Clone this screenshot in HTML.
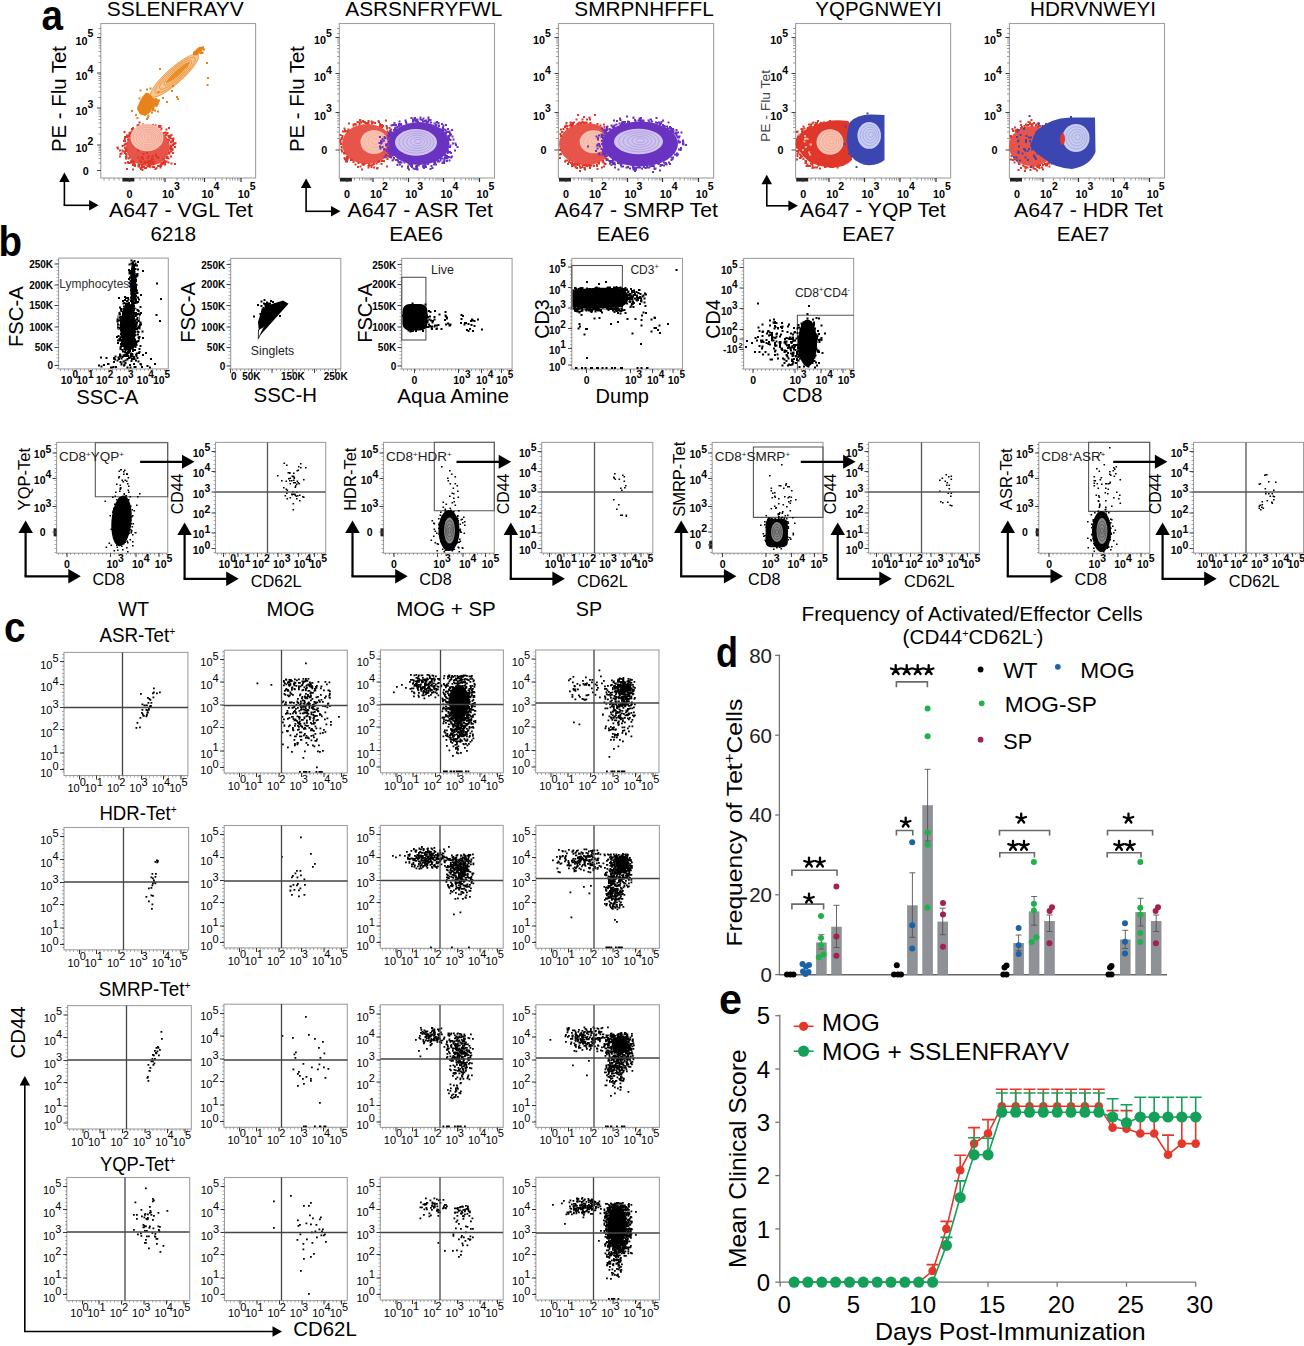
<!DOCTYPE html>
<html><head><meta charset="utf-8"><style>
html,body{margin:0;padding:0;background:#fff;}
svg{display:block;font-family:"Liberation Sans", sans-serif;}
</style></head><body>
<svg width="1304" height="1346" viewBox="0 0 1304 1346">
<rect width="1304" height="1346" fill="#fff"/>
<text x="41.5" y="30.4" font-size="42" font-weight="bold" textLength="21.5" lengthAdjust="spacingAndGlyphs">a</text>
<text x="175.3" y="16" font-size="21" text-anchor="middle" textLength="137" lengthAdjust="spacingAndGlyphs">SSLENFRAYV</text>
<text x="181" y="216.5" font-size="21" text-anchor="middle" textLength="144" lengthAdjust="spacingAndGlyphs">A647 - VGL Tet</text>
<text x="173.3" y="241" font-size="21" text-anchor="middle" textLength="45.5" lengthAdjust="spacingAndGlyphs">6218</text>
<rect x="100.8" y="23.5" width="154.8" height="154.5" fill="none" stroke="#a0a0a0" stroke-width="1.1"/>
<text x="93.3" y="44.6" font-size="10.8" text-anchor="end" font-weight="bold">10<tspan dy="-7.2" font-size="10.5">5</tspan></text>
<text x="93.3" y="79.9" font-size="10.8" text-anchor="end" font-weight="bold">10<tspan dy="-7.2" font-size="10.5">4</tspan></text>
<text x="93.3" y="115.2" font-size="10.8" text-anchor="end" font-weight="bold">10<tspan dy="-7.2" font-size="10.5">3</tspan></text>
<text x="93.3" y="152" font-size="10.8" text-anchor="end" font-weight="bold">10<tspan dy="-7.2" font-size="10.5">2</tspan></text>
<text x="88.8" y="174.5" font-size="10.8" text-anchor="end" font-weight="bold">0</text>
<text x="129.4" y="197.6" font-size="10.8" text-anchor="middle" font-weight="bold">0</text>
<text x="161.9" y="197.6" font-size="10.8" font-weight="bold">10<tspan dy="-7.2" font-size="10.5">3</tspan></text>
<text x="201.5" y="197.6" font-size="10.8" font-weight="bold">10<tspan dy="-7.2" font-size="10.5">4</tspan></text>
<text x="237.8" y="197.6" font-size="10.8" font-weight="bold">10<tspan dy="-7.2" font-size="10.5">5</tspan></text>
<rect x="122.4" y="178" width="12" height="3.5" fill="#222"/>
<text x="423.8" y="16" font-size="21" text-anchor="middle" textLength="157" lengthAdjust="spacingAndGlyphs">ASRSNFRYFWL</text>
<text x="420.2" y="216.5" font-size="21" text-anchor="middle" textLength="145.6" lengthAdjust="spacingAndGlyphs">A647 - ASR Tet</text>
<text x="416.2" y="241" font-size="21" text-anchor="middle" textLength="53.7" lengthAdjust="spacingAndGlyphs">EAE6</text>
<rect x="339.3" y="23.5" width="155.2" height="154.5" fill="none" stroke="#a0a0a0" stroke-width="1.1"/>
<text x="331.8" y="44.4" font-size="10.8" text-anchor="end" font-weight="bold">10<tspan dy="-7.2" font-size="10.5">5</tspan></text>
<text x="331.8" y="80.7" font-size="10.8" text-anchor="end" font-weight="bold">10<tspan dy="-7.2" font-size="10.5">4</tspan></text>
<text x="331.8" y="119.5" font-size="10.8" text-anchor="end" font-weight="bold">10<tspan dy="-7.2" font-size="10.5">3</tspan></text>
<text x="327.3" y="154" font-size="10.8" text-anchor="end" font-weight="bold">0</text>
<text x="346.9" y="197.6" font-size="10.8" text-anchor="middle" font-weight="bold">0</text>
<text x="369.9" y="197.6" font-size="10.8" font-weight="bold">10<tspan dy="-7.2" font-size="10.5">2</tspan></text>
<text x="405.3" y="197.6" font-size="10.8" font-weight="bold">10<tspan dy="-7.2" font-size="10.5">3</tspan></text>
<text x="440.6" y="197.6" font-size="10.8" font-weight="bold">10<tspan dy="-7.2" font-size="10.5">4</tspan></text>
<text x="476.6" y="197.6" font-size="10.8" font-weight="bold">10<tspan dy="-7.2" font-size="10.5">5</tspan></text>
<rect x="339.9" y="178" width="12" height="3.5" fill="#222"/>
<text x="644" y="16" font-size="21" text-anchor="middle" textLength="139.4" lengthAdjust="spacingAndGlyphs">SMRPNHFFFL</text>
<text x="636.2" y="216.5" font-size="21" text-anchor="middle" textLength="163.5" lengthAdjust="spacingAndGlyphs">A647 - SMRP Tet</text>
<text x="623.2" y="241" font-size="21" text-anchor="middle" textLength="52.8" lengthAdjust="spacingAndGlyphs">EAE6</text>
<rect x="558.4" y="23.5" width="155.2" height="154.5" fill="none" stroke="#a0a0a0" stroke-width="1.1"/>
<text x="550.9" y="44.4" font-size="10.8" text-anchor="end" font-weight="bold">10<tspan dy="-7.2" font-size="10.5">5</tspan></text>
<text x="550.9" y="80.7" font-size="10.8" text-anchor="end" font-weight="bold">10<tspan dy="-7.2" font-size="10.5">4</tspan></text>
<text x="550.9" y="119.5" font-size="10.8" text-anchor="end" font-weight="bold">10<tspan dy="-7.2" font-size="10.5">3</tspan></text>
<text x="546.4" y="154" font-size="10.8" text-anchor="end" font-weight="bold">0</text>
<text x="566" y="197.6" font-size="10.8" text-anchor="middle" font-weight="bold">0</text>
<text x="589" y="197.6" font-size="10.8" font-weight="bold">10<tspan dy="-7.2" font-size="10.5">2</tspan></text>
<text x="624.4" y="197.6" font-size="10.8" font-weight="bold">10<tspan dy="-7.2" font-size="10.5">3</tspan></text>
<text x="659.7" y="197.6" font-size="10.8" font-weight="bold">10<tspan dy="-7.2" font-size="10.5">4</tspan></text>
<text x="695.7" y="197.6" font-size="10.8" font-weight="bold">10<tspan dy="-7.2" font-size="10.5">5</tspan></text>
<rect x="559" y="178" width="12" height="3.5" fill="#222"/>
<text x="878.5" y="16" font-size="21" text-anchor="middle" textLength="126.3" lengthAdjust="spacingAndGlyphs">YQPGNWEYI</text>
<text x="872.9" y="216.5" font-size="21" text-anchor="middle" textLength="145.7" lengthAdjust="spacingAndGlyphs">A647 - YQP Tet</text>
<text x="868.5" y="241" font-size="21" text-anchor="middle" textLength="52.6" lengthAdjust="spacingAndGlyphs">EAE7</text>
<rect x="795.6" y="23.5" width="155" height="154.5" fill="none" stroke="#a0a0a0" stroke-width="1.1"/>
<text x="788.1" y="44.4" font-size="10.8" text-anchor="end" font-weight="bold">10<tspan dy="-7.2" font-size="10.5">5</tspan></text>
<text x="788.1" y="80.7" font-size="10.8" text-anchor="end" font-weight="bold">10<tspan dy="-7.2" font-size="10.5">4</tspan></text>
<text x="788.1" y="119.5" font-size="10.8" text-anchor="end" font-weight="bold">10<tspan dy="-7.2" font-size="10.5">3</tspan></text>
<text x="783.6" y="154" font-size="10.8" text-anchor="end" font-weight="bold">0</text>
<text x="803.2" y="197.6" font-size="10.8" text-anchor="middle" font-weight="bold">0</text>
<text x="826.2" y="197.6" font-size="10.8" font-weight="bold">10<tspan dy="-7.2" font-size="10.5">2</tspan></text>
<text x="861.6" y="197.6" font-size="10.8" font-weight="bold">10<tspan dy="-7.2" font-size="10.5">3</tspan></text>
<text x="896.9" y="197.6" font-size="10.8" font-weight="bold">10<tspan dy="-7.2" font-size="10.5">4</tspan></text>
<text x="932.9" y="197.6" font-size="10.8" font-weight="bold">10<tspan dy="-7.2" font-size="10.5">5</tspan></text>
<rect x="796.2" y="178" width="12" height="3.5" fill="#222"/>
<text x="1093" y="16" font-size="21" text-anchor="middle" textLength="126" lengthAdjust="spacingAndGlyphs">HDRVNWEYI</text>
<text x="1088.5" y="216.5" font-size="21" text-anchor="middle" textLength="149" lengthAdjust="spacingAndGlyphs">A647 - HDR Tet</text>
<text x="1083" y="241" font-size="21" text-anchor="middle" textLength="52.6" lengthAdjust="spacingAndGlyphs">EAE7</text>
<rect x="1009.4" y="23.5" width="155.1" height="154.5" fill="none" stroke="#a0a0a0" stroke-width="1.1"/>
<text x="1001.9" y="44.4" font-size="10.8" text-anchor="end" font-weight="bold">10<tspan dy="-7.2" font-size="10.5">5</tspan></text>
<text x="1001.9" y="80.7" font-size="10.8" text-anchor="end" font-weight="bold">10<tspan dy="-7.2" font-size="10.5">4</tspan></text>
<text x="1001.9" y="119.5" font-size="10.8" text-anchor="end" font-weight="bold">10<tspan dy="-7.2" font-size="10.5">3</tspan></text>
<text x="997.4" y="154" font-size="10.8" text-anchor="end" font-weight="bold">0</text>
<text x="1017" y="197.6" font-size="10.8" text-anchor="middle" font-weight="bold">0</text>
<text x="1040" y="197.6" font-size="10.8" font-weight="bold">10<tspan dy="-7.2" font-size="10.5">2</tspan></text>
<text x="1075.4" y="197.6" font-size="10.8" font-weight="bold">10<tspan dy="-7.2" font-size="10.5">3</tspan></text>
<text x="1110.7" y="197.6" font-size="10.8" font-weight="bold">10<tspan dy="-7.2" font-size="10.5">4</tspan></text>
<text x="1146.7" y="197.6" font-size="10.8" font-weight="bold">10<tspan dy="-7.2" font-size="10.5">5</tspan></text>
<rect x="1010" y="178" width="12" height="3.5" fill="#222"/>
<text x="66" y="99" font-size="21" text-anchor="middle" transform="rotate(-90 66 99)" textLength="106" lengthAdjust="spacingAndGlyphs">PE - Flu Tet</text>
<text x="304" y="99" font-size="21" text-anchor="middle" transform="rotate(-90 304 99)" textLength="106" lengthAdjust="spacingAndGlyphs">PE - Flu Tet</text>
<text x="770" y="106" font-size="13.5" text-anchor="middle" fill="#444" transform="rotate(-90 770 106)" textLength="72" lengthAdjust="spacingAndGlyphs">PE - Flu Tet</text>
<line x1="64.4" y1="205.3" x2="64.4" y2="181" stroke="#000" stroke-width="1.6"/>
<line x1="63.6" y1="205.3" x2="90.1" y2="205.3" stroke="#000" stroke-width="1.6"/>
<path d="M64.4 172.5L69.7 182L59.2 182Z" fill="#000"/>
<path d="M98.6 205.3L89.1 200.1L89.1 210.6Z" fill="#000"/>
<line x1="306.1" y1="211.3" x2="306.1" y2="187.1" stroke="#000" stroke-width="1.6"/>
<line x1="305.3" y1="211.3" x2="332" y2="211.3" stroke="#000" stroke-width="1.6"/>
<path d="M306.1 178.6L311.4 188.1L300.9 188.1Z" fill="#000"/>
<path d="M340.5 211.3L331 206.1L331 216.6Z" fill="#000"/>
<line x1="766.8" y1="205.8" x2="766.8" y2="183.2" stroke="#000" stroke-width="1.6"/>
<line x1="766" y1="205.8" x2="789.4" y2="205.8" stroke="#000" stroke-width="1.6"/>
<path d="M766.8 174.7L772 184.2L761.5 184.2Z" fill="#000"/>
<path d="M797.9 205.8L788.4 200.6L788.4 211.1Z" fill="#000"/>
<ellipse cx="148" cy="147" rx="22" ry="19" fill="#e6544a"/>
<path d="M138.5 122.5h2m1.5 2h2m-6.5 0.5h2m12.5 0h2m-17.5 0.5h2m11 0h2m3 0h2m1.5 0.5h2m-0.5 0h2m-21.5 0.5h2m-1.5 0h2m2.5 0h2m0 0h2m-7.5 0.5h2m2.5 0h2m0.5 0h2m8.5 0h2m-22.5 0.5h2m5 0h2m-1 0h2m-1.5 0h2m-1 0h2m1.5 0h2m4 0h2m-27.5 0.5h2m4 0h2m3 0h2m7.5 0h2m1.5 0h2m10 0h2m-31.5 0.5h2m11 0h2m-0.5 0h2m-1.5 0h2m5 0h2m-31.5 0.5h2m4 0h2m0 0h2m15.5 0h2m-26 0.5h2m2 0h2m27 0h2m-9.5 0.5h2m-1 0h2m-29.5 0.5h2m2 0h2m22 0h2m-38 1.5h2m5.5 0h2m-3.5 0.5h2m33 0h2m-38 0.5h2m-0.5 0h2m-0.5 0h2m29 0h2m2 0h2m-37.5 0.5h2m-2.5 0.5h2m33 0.5h2m-39 0.5h2m34.5 0h2m3.5 0h2m-46.5 0.5h2m-0.5 0h2m-1 0.5h2m37 0h2m-1.5 0h2m-0.5 0h2m-44.5 0.5h2m39 0h2m-46 0.5h2m-1.5 0h2m0 0h2m39.5 0h2m-0.5 1h2m-47.5 0.5h2m46.5 0h2m-3 0.5h2m-46.5 0.5h2m38.5 0h2m2 0.5h2m-50 0.5h2m43 0h2m1.5 0h2m-51 0.5h2m-1 0h2m46 0h2m-3 0.5h2m-1.5 0h2m-3.5 1h2m2.5 0.5h2m-52 0.5h2m46 0h2m-49.5 0.5h2m46.5 0h2m-52 1h2m46.5 0h2m-4 0.5h2m-0.5 0h2m-52 0.5h2m50.5 1h2m-59.5 0.5h2m5.5 0h2m44 0h2m-47.5 0.5h2m-9.5 0.5h2m5.5 0h2m43 0h2m-0.5 0h2m-1.5 0h2m-4 0.5h2m-46.5 0.5h2m44.5 0.5h2m-54.5 0.5h2m0.5 0h2m1.5 0h2m-1.5 0h2m43 0h2m-47.5 0.5h2m-4.5 0.5h2m-0.5 0h2m44 0h2m-4 1h2m-46 0.5h2m42 0h2m2 0h2m-53.5 0.5h2m45.5 0h2m-1.5 0h2m-51 0.5h2m3.5 0h2m-1.5 1h2m42.5 1.5h2m-47 0.5h2m-1.5 0h2m39 0h2m-40 0.5h2m36 0h2m-2.5 0.5h2m-43 0.5h2m0.5 0h2m38 0h2m-39 2h2m-1.5 0.5h2m30.5 0h2m-35.5 0.5h2m0 0h2m31.5 0h2m-40.5 0.5h2m1.5 0h2m0 0h2m28 0h2m-34.5 0.5h2m0 0h2m-1 0h2m32.5 0h2m-41 0.5h2m3 0h2m25 0h2m-1.5 0.5h2m-1 0h2m-2.5 0.5h2m-31 0.5h2m25 0h2m-0.5 0h2m1 0h2m-34 0.5h2m0 0h2m1.5 0h2m-1.5 0h2m-6.5 0.5h2m5 0h2m17 0h2m-27.5 0.5h2m2 0h2m1 0h2m5.5 0h2m6.5 0h2m1 0h2m-24.5 0.5h2m-1.5 0h2m6.5 0h2m0.5 0h2m-9.5 0.5h2m-0.5 0h2m6.5 0h2m-0.5 0h2m4.5 0.5h2m-22 0.5h2m3.5 0h2m8.5 0h2m-17 0.5h2m-2.5 0.5h2m12.5 0h2m-15 1h2" stroke="#e0372b" stroke-width="2"/>
<path d="M137 150.5h2m7 2.5h2m-5.5 1h2m10.5 0.5h2m-9.5 1.5h2m2 0h2m1.5 0h2m-38 0.5h2m20.5 0.5h2m12.5 0h2m-21 0.5h2m1.5 0h2m-1 0h2m13.5 0h2m-1.5 0h2m-18.5 0.5h2m4 0h2m1.5 0.5h2m-10.5 0.5h2m8 0h2m8.5 0h2m-2 0.5h2m-25.5 1h2m10 0h2m-5 0.5h2m-1 0h2m-7.5 0.5h2m4.5 0h2m-12 0.5h2m3 0h2m-1.5 0h2m1 0h2m0.5 0h2m0.5 0h2m-8.5 0.5h2m-1 0h2m-1 0h2m13 0h2m-41.5 0.5h2m1 0h2m14.5 0h2m2.5 0h2m-1.5 0.5h2m0.5 0h2m17 0h2m-20.5 0.5h2m10 0h2m8 0h2m-35 0.5h2m-0.5 0h2m8 0h2m-6.5 0.5h2m-1 0.5h2m-3.5 0.5h2m9.5 0h2m-12 0.5h2m-7 1.5h2m-20 1h2m12 0h2m-10 0.5h2" stroke="#e0372b" stroke-width="2"/>
<ellipse cx="147" cy="137.5" rx="16.5" ry="13.8" fill="#f8c2b0"/>
<ellipse cx="147.4" cy="137.3" rx="14.1" ry="11.8" fill="none" stroke="#ef8e7c" stroke-width="0.5"/>
<ellipse cx="147.8" cy="137.1" rx="11.8" ry="9.9" fill="none" stroke="#ef8e7c" stroke-width="0.5"/>
<ellipse cx="148.2" cy="136.9" rx="9.4" ry="7.9" fill="none" stroke="#ef8e7c" stroke-width="0.5"/>
<ellipse cx="148.6" cy="136.7" rx="7.1" ry="5.9" fill="none" stroke="#ef8e7c" stroke-width="0.5"/>
<ellipse cx="149" cy="136.5" rx="4.7" ry="3.9" fill="none" stroke="#ef8e7c" stroke-width="0.5"/>
<ellipse cx="149.4" cy="136.3" rx="2.4" ry="2" fill="none" stroke="#ef8e7c" stroke-width="0.5"/>
<ellipse cx="174.3" cy="76" rx="31.5" ry="7.8" fill="#f6c690" transform="rotate(-41.5 174.3 76)"/>
<ellipse cx="174.6" cy="75.6" rx="31.5" ry="7.8" fill="none" stroke="#e8831f" stroke-width="0.6" transform="rotate(-41.5 174.6 75.6)"/>
<ellipse cx="175.1" cy="75.2" rx="26.2" ry="6.5" fill="none" stroke="#e8831f" stroke-width="0.6" transform="rotate(-41.5 175.1 75.2)"/>
<ellipse cx="175.6" cy="74.8" rx="21" ry="5.2" fill="none" stroke="#e8831f" stroke-width="0.6" transform="rotate(-41.5 175.6 74.8)"/>
<ellipse cx="176.1" cy="74.4" rx="15.8" ry="3.9" fill="none" stroke="#e8831f" stroke-width="0.6" transform="rotate(-41.5 176.1 74.4)"/>
<ellipse cx="176.6" cy="74" rx="10.5" ry="2.6" fill="none" stroke="#e8831f" stroke-width="0.6" transform="rotate(-41.5 176.6 74)"/>
<ellipse cx="177.1" cy="73.6" rx="5.2" ry="1.3" fill="none" stroke="#e8831f" stroke-width="0.6" transform="rotate(-41.5 177.1 73.6)"/>
<ellipse cx="178" cy="72.5" rx="16" ry="2.2" fill="#eb8c2a" transform="rotate(-41.5 178 72.5)"/>
<path d="M146 92.5 L150 94 L153 98 L159.5 100 L158.5 105 L153 107.5 L149.5 113 L145 116 L139.5 114 L137 108 L140 101 L143 96 Z" fill="#e8821a"/>
<path d="M193 52 L199 47 L204 46.5 L202 51 L197 55.5 L193 55 Z" fill="#e8821a"/>
<path d="M202 47.5h2m-3.5 0.5h2m-1.5 0.5h2m0 1h2m-6 1h2m0.5 2h2m-4 0.5h2m0 0h2m2.5 10h2m-49 6h2m46 9h2m-2.5 7h2m-36.5 1h2m-24.5 2.5h2m-5.5 1h2m-8.5 1h2m29.5 0.5h2m-15.5 1h2m-13 2h2m-0.5 2h2m-1.5 0h2m25.5 1h2m-31.5 0.5h2m13.5 0.5h2m-25.5 0.5h2m14.5 0.5h2m20 0h2m-29 0.5h2m-2 1h2m3 0h2m1 0h2m-9.5 0.5h2m1 0h2m-11 0.5h2m1 0.5h2m16.5 0h2m-20.5 1h2m-5 1h2m3.5 1.5h2m-12 0.5h2m5.5 0h2m6 0h2m-6 0.5h2m-4 0.5h2m-6 0.5h2m-1.5 0h2m-0.5 0h2m-1.5 0h2m-8 0.5h2m-1 0h2m-1.5 0h2m2.5 0h2m2.5 0h2m-13.5 1h2m9 0h2m-16.5 0.5h2m2.5 0.5h2m8 0h2m-4.5 0.5h2m2.5 0h2m-25 0.5h2m24 0.5h2m-17 0.5h2m1.5 0h2m3.5 0.5h2m-18 2.5h2m10.5 0.5h2m-2.5 2h2m-12.5 0.5h2m7.5 1h2" stroke="#e8821a" stroke-width="2"/>
<ellipse cx="367" cy="144" rx="25" ry="20" fill="#e6544a"/>
<path d="M359 120h2m-1.5 0.5h2m23.5 0h2m-25 0.5h2m3.5 0h2m8 0h2m-17.5 0.5h2m6.5 0h2m-16 0.5h2m4.5 0h2m-1.5 0h2m12.5 0h2m-21.5 0.5h2m-0.5 0h2m2 0h2m6.5 0h2m-9.5 0.5h2m0 0h2m-1.5 0h2m4.5 0h2m-28 0.5h2m17.5 0h2m1.5 0h2m-19 0.5h2m2.5 0h2m18.5 0h2m-28.5 0.5h2m-1.5 0h2m0 0h2m24 0.5h2m-30.5 0.5h2m24.5 0.5h2m1 0h2m1.5 0h2m-6.5 1h2m3 0.5h2m0.5 0.5h2m-47 0.5h2m40.5 0h2m-40.5 1h2m40.5 0h2m-48 1h2m0.5 0.5h2m40.5 0h2m-49 0.5h2m-1.5 0h2m0 0h2m40 0h2m-1 1h2m2 0h2m-1 0.5h2m-5 0.5h2m0.5 0h2m-4.5 1h2m-52 0.5h2m49.5 0.5h2m-51.5 0.5h2m46.5 0h2m0.5 1h2m-0.5 0.5h2m-55 0.5h2m48.5 0h2m-53 0.5h2m48 0h2m-52 0.5h2m48.5 0h2m-2 0.5h2m-1.5 0h2m-54 0.5h2m49.5 0h2m-1.5 0.5h2m0.5 1h2m-56.5 0.5h2m-1.5 2h2m50.5 0h2m-3 1h2m0.5 0.5h2m-5 0.5h2m-52.5 1h2m48.5 0h2m0 0h2m-2.5 2h2m-0.5 0h2m-55.5 0.5h2m-1.5 2h2m50.5 0h2m-52.5 1.5h2m-1.5 0.5h2m-1.5 0h2m42.5 0h2m-0.5 0h2m2.5 0h2m-1 0h2m-4 1.5h2m-5.5 0.5h2m-1.5 0h2m-6 0.5h2m0 0h2m-4 0.5h2m-1 0h2m1 0h2m-46.5 0.5h2m-2 0.5h2m-1 0h2m36.5 0h2m-44 0.5h2m0.5 0h2m-1 0h2m-5 1h2m40.5 0h2m-44 0.5h2m0 0h2m1.5 0h2m-6 0.5h2m2 0h2m-1 0h2m42 0h2m-52 1h2m34 0h2m0 0h2m-40 0.5h2m-1 0h2m30 0h2m-1.5 0h2m-28 0.5h2m22.5 0h2m-21.5 1h2m16 0.5h2m-16 0.5h2m0 0h2m7.5 0h2m5.5 0h2m-28 0.5h2m11.5 0h2m-7.5 0.5h2m7 0h2m-4 0.5h2m-4 0.5h2m-10 0.5h2m24.5 0h2m-31 0.5h2m11.5 0h2m-5 0.5h2m3.5 0h2m1.5 0.5h2m-2.5 0.5h2m-17 1h2" stroke="#e0372b" stroke-width="2"/>
<ellipse cx="374" cy="142" rx="13.5" ry="12" fill="#f8c2b0"/>
<ellipse cx="374.4" cy="141.8" rx="10.1" ry="9" fill="none" stroke="#f2a090" stroke-width="0.5"/>
<ellipse cx="374.8" cy="141.6" rx="6.8" ry="6" fill="none" stroke="#f2a090" stroke-width="0.5"/>
<ellipse cx="375.2" cy="141.4" rx="3.4" ry="3" fill="none" stroke="#f2a090" stroke-width="0.5"/>
<ellipse cx="419" cy="143.5" rx="30.5" ry="21.5" fill="#6a32c0"/>
<path d="M419.5 117.5h2m6 0h2m-19 0.5h2m1.5 0h2m-2.5 0.5h2m7 0h2m-12.5 1h2m1 0h2m-0.5 0h2m1 0h2m6 0h2m-8 0.5h2m6 0h2m-27 0.5h2m7.5 0h2m9 0h2m-12 0.5h2m7 0h2m-27.5 0.5h2m11.5 0h2m2.5 0h2m3.5 0h2m1 0h2m0.5 0h2m-24.5 0.5h2m10 0h2m7 0h2m8 0h2m-11.5 0.5h2m1.5 0h2m3.5 0h2m-44 0.5h2m42 0h2m-34 0.5h2m26 0h2m-37.5 0.5h2m0 0h2m39 0h2m-51.5 1h2m-0.5 0h2m0 0h2m38 0h2m-1.5 0h2m7.5 0h2m-56.5 0.5h2m6.5 0h2m-1.5 0h2m-1 0h2m35.5 0h2m2.5 0h2m-46.5 0.5h2m38 0h2m-43.5 1h2m-4 0.5h2m45.5 0h2m-50 1h2m45.5 0h2m3.5 0.5h2m-54 0.5h2m46.5 0h2m-52.5 0.5h2m47 0h2m0.5 0h2m4.5 0h2m-63.5 0.5h2m2 0h2m50 1h2m1 0h2m-4 0.5h2m-1 0h2m-59.5 0.5h2m53 0h2m-59 0.5h2m1 0h2m52 0h2m2 0.5h2m-61 1h2m58 0h2m-64 0.5h2m59 0.5h2m-3.5 0.5h2m-61.5 0.5h2m58 0h2m1.5 0h2m-74.5 0.5h2m2.5 0h2m-1.5 1h2m61.5 0h2m-63 0.5h2m-1.5 0h2m-7.5 0.5h2m64.5 0h2m-1.5 0.5h2m2 0h2m-5 0.5h2m-68.5 0.5h2m2.5 1h2m-9 1.5h2m69.5 0.5h2m0.5 0h2m-71.5 1h2m-1.5 0h2m-1.5 0.5h2m67 0h2m-7.5 0.5h2m-2.5 1.5h2m5.5 0h2m-71.5 0.5h2m-5.5 1.5h2m-2.5 0.5h2m3 0h2m-2 0.5h2m-4 0.5h2m-1.5 0h2m58.5 0h2m5 0h2m-67 0.5h2m-3 0.5h2m-1 0.5h2m58 0h2m-63.5 0.5h2m57 0h2m-1 0h2m-59.5 0.5h2m-1.5 0h2m54 0h2m1.5 0h2m-62.5 0.5h2m-3 0.5h2m-2 0.5h2m-1 0h2m0 0h2m-8.5 0.5h2m57 0h2m-1.5 0h2m-54.5 0.5h2m52 0.5h2m-2.5 0.5h2m3.5 0h2m-69.5 0.5h2m3.5 0h2m53.5 0h2m0 0h2m-1.5 0h2m-1 0h2m-60 0.5h2m52 0h2m1 0h2m1 0h2m-59 0.5h2m49 0h2m-6 0.5h2m-0.5 0h2m2.5 0h2m-55.5 1h2m49 0h2m-49.5 0.5h2m-6.5 0.5h2m3.5 0h2m40.5 0h2m7 0h2m-13.5 0.5h2m4.5 0h2m0.5 0h2m-11.5 0.5h2m-0.5 0h2m2.5 0h2m-45.5 0.5h2m32 0h2m-1 0h2m-38.5 0.5h2m1 0h2m1 0h2m36 0.5h2m-0.5 0h2m-37.5 0.5h2m17.5 0.5h2m5 0h2m-37 0.5h2m7.5 0h2m-1 0h2m21.5 0h2m0 0h2m-40.5 0.5h2m11.5 0h2m-1 0h2m11.5 0h2m-9 0.5h2m3 0h2m-14.5 0.5h2m-1.5 0h2m3.5 0h2m12.5 0h2m-31.5 0.5h2m4 0h2m6 0h2m-1.5 0h2m4.5 0h2m0.5 0h2m-15.5 0.5h2m9.5 0h2m-0.5 0h2m-1 0h2m-20 0.5h2m-2 0.5h2m6.5 0h2m-1.5 0h2m5 0h2m6.5 0h2m-21 0.5h2m1.5 0h2m-3.5 0.5h2m13 0h2m-23.5 0.5h2m6.5 0h2" stroke="#6a32c0" stroke-width="2"/>
<path d="M387 135.5h2m0 0.5h2m-11 5h2m-0.5 0.5h2m-5 1.5h2m-0.5 0h2m-2 0.5h2m4.5 0.5h2m-3.5 1.5h2m-8 1h2m0.5 0.5h2m-4 1.5h2m6.5 1.5h2m-4.5 0.5h2" stroke="#6a32c0" stroke-width="2"/>
<ellipse cx="416" cy="142.4" rx="21" ry="13.3" fill="#cfc4ee"/>
<ellipse cx="416.4" cy="142.2" rx="17.5" ry="11.1" fill="none" stroke="#9a82d8" stroke-width="0.5"/>
<ellipse cx="416.8" cy="142" rx="14" ry="8.9" fill="none" stroke="#9a82d8" stroke-width="0.5"/>
<ellipse cx="417.2" cy="141.8" rx="10.5" ry="6.7" fill="none" stroke="#9a82d8" stroke-width="0.5"/>
<ellipse cx="417.6" cy="141.6" rx="7" ry="4.4" fill="none" stroke="#9a82d8" stroke-width="0.5"/>
<ellipse cx="418" cy="141.4" rx="3.5" ry="2.2" fill="none" stroke="#9a82d8" stroke-width="0.5"/>
<ellipse cx="586" cy="144" rx="27" ry="21" fill="#e6544a"/>
<path d="M577 115h2m15 0h2m-13 2h2m3.5 0.5h2m-15 2h2m4 0h2m2.5 0h2m1 0h2m-9.5 2.5h2m-14 0.5h2m1.5 0h2m3.5 0h2m3 0h2m-1.5 0h2m-1.5 0h2m-1 0h2m-22 0.5h2m3 0h2m-1.5 0h2m7 0h2m1 0h2m4.5 0h2m-14 0.5h2m-9.5 0.5h2m-1.5 0h2m4 0h2m18 0h2m-26.5 0.5h2m29 0h2m-40 1h2m2 0h2m0 0h2m26.5 0h2m-37 0.5h2m0 0h2m2 0h2m34 0.5h2m-44.5 0.5h2m37.5 0h2m-39.5 1.5h2m-5.5 0.5h2m-4.5 0.5h2m44.5 0h2m-2 0.5h2m2.5 1.5h2m-52 0.5h2m-1.5 0h2m48 0.5h2m-54 1.5h2m49 0h2m6 0h2m-9.5 1h2m1 0h2m0 0h2m0 0h2m-9.5 0.5h2m-52.5 0.5h2m51.5 0.5h2m2.5 0.5h2m-6.5 1h2m0.5 1.5h2m-3 2.5h2m-1.5 1.5h2m-5 1h2m-1.5 0.5h2m-0.5 0.5h2m0 1.5h2m-1.5 0.5h2m-4.5 1h2m-57.5 1.5h2m51.5 0h2m-0.5 0h2m-3.5 0.5h2m-0.5 0h2m-2 0.5h2m-3 2h2m-55 1h2m-3 0.5h2m55 0h2m-8.5 0.5h2m4 0h2m1 0.5h2m-7.5 0.5h2m-56 2h2m43.5 0.5h2m-1.5 0h2m-0.5 1h2m-43.5 1h2m-1 0h2m0.5 0h2m31 0.5h2m-1.5 0h2m-40 0.5h2m35.5 0h2m-35.5 0.5h2m1 0.5h2m25 0h2m2.5 0h2m-34.5 0.5h2m26 0.5h2m3.5 0h2m-38.5 0.5h2m4 0h2m-0.5 0h2m-1.5 0h2m-1.5 0h2m-1.5 0h2m26 0h2m-1.5 0h2m-35.5 0.5h2m0 0h2m3 0h2m16 0h2m-24.5 0.5h2m1 0h2m5 0h2m0 0h2m1 0h2m20 0h2m-40 0.5h2m7 0h2m3.5 0h2m1 0h2m0.5 0h2m-23.5 0.5h2m13 0h2m1 0h2m2 0h2m1 0h2m-23.5 0.5h2m2.5 0h2m22 0h2m-23.5 0.5h2m-8.5 0.5h2m7 0h2m15 0h2m-27 0.5h2m1.5 0h2m7.5 0h2m-7.5 0.5h2m11 0.5h2m-14.5 0.5h2m-7 1.5h2" stroke="#e0372b" stroke-width="2"/>
<ellipse cx="593.6" cy="141.8" rx="14" ry="11.5" fill="#f8c2b0"/>
<ellipse cx="594" cy="141.6" rx="10.5" ry="8.6" fill="none" stroke="#f2a090" stroke-width="0.5"/>
<ellipse cx="594.4" cy="141.4" rx="7" ry="5.8" fill="none" stroke="#f2a090" stroke-width="0.5"/>
<ellipse cx="594.8" cy="141.2" rx="3.5" ry="2.9" fill="none" stroke="#f2a090" stroke-width="0.5"/>
<ellipse cx="640" cy="144" rx="38" ry="22.5" fill="#6a32c0"/>
<path d="M626 116.5h2m4.5 1h2m-2 0.5h2m5.5 0h2m13.5 0h2m-38.5 0.5h2m17.5 0h2m-1 1h2m8 0h2m-1.5 0h2m-32.5 0.5h2m12.5 0h2m-23 0.5h2m22.5 0h2m2 0h2m-1 0h2m3 0h2m12.5 0h2m-48 0.5h2m16.5 0h2m3 0h2m0 0h2m-1 0h2m-17.5 0.5h2m5.5 0h2m14.5 0h2m-31.5 0.5h2m-1 0h2m-0.5 0h2m1 0h2m-1 0h2m18.5 0h2m10 0h2m-7.5 0.5h2m1 0h2m7.5 0h2m-48.5 0.5h2m0 0h2m31.5 0h2m-40 0.5h2m38.5 0h2m-1 0h2m-41 0.5h2m-7.5 0.5h2m2.5 0h2m37 0h2m1 0.5h2m-53.5 0.5h2m1 0h2m47.5 0.5h2m-53.5 0.5h2m51.5 0h2m-1 0h2m-62 0.5h2m61 0h2m-59 0.5h2m-1 0h2m55 0.5h2m-71 0.5h2m3 0h2m59 0h2m-1 0h2m0 0h2m-63.5 0.5h2m61.5 0h2m-70 0.5h2m3 0h2m-1.5 0h2m60.5 0h2m-68.5 0.5h2m62.5 0h2m3.5 0h2m-75 0.5h2m68 0h2m-71 0.5h2m67 0h2m-69.5 0.5h2m63.5 0h2m-68.5 1h2m-1.5 0h2m65.5 0h2m1 0h2m0 0h2m1.5 0h2m-78.5 0.5h2m-1.5 0h2m-1.5 0h2m66.5 0.5h2m-75 1h2m-1 0h2m72 0h2m-79.5 1h2m1.5 0h2m0 0h2m70 0h2m-76 0.5h2m-8 0.5h2m3 0h2m74.5 0h2m-0.5 0h2m-80 0.5h2m74 0h2m-1.5 0h2m-2.5 0.5h2m-1 0h2m-1.5 0h2m-83 0.5h2m3 0h2m-7 1.5h2m2.5 1h2m74 0h2m2.5 0h2m-83 0.5h2m74.5 0.5h2m-0.5 0.5h2m1 0h2m-6 0.5h2m-1.5 0h2m2 1h2m-86.5 0.5h2m1 0h2m79 0h2m-87 0.5h2m83.5 0h2m0.5 0.5h2m-91 0.5h2m0.5 0h2m-2 0.5h2m-13.5 0.5h2m10 0h2m79 1.5h2m-85.5 0.5h2m2 0.5h2m77.5 0h2m-4 0.5h2m-78 0.5h2m75.5 0h2m-86.5 1h2m5.5 0h2m-1.5 0.5h2m-3 1h2m-1.5 0.5h2m-6.5 0.5h2m76 0h2m-75.5 0.5h2m-0.5 0h2m-7.5 0.5h2m1 0h2m70.5 0h2m-1.5 0h2m0.5 0h2m-3.5 0.5h2m-1.5 0.5h2m-74 0.5h2m-0.5 0h2m63 1.5h2m-0.5 0h2m-2.5 1.5h2m-67 0.5h2m-3 0.5h2m-1 0h2m3.5 0h2m56.5 0h2m-64 1h2m-1 0h2m0 0h2m-2 0.5h2m-4 0.5h2m-2 0.5h2m0 0h2m0 0h2m47.5 0h2m3 0h2m-53 0.5h2m45.5 0h2m-57.5 0.5h2m7.5 0h2m37.5 0h2m5 0h2m-55 0.5h2m6.5 0h2m35 0h2m5 0h2m2.5 0h2m-57 0.5h2m49.5 0h2m-47.5 0.5h2m38 0h2m-1 0h2m-11.5 0.5h2m-1.5 0h2m9 0h2m-14.5 0.5h2m0 0h2m5 0h2m-41 0.5h2m-0.5 0h2m8 0h2m15 0h2m2 0h2m-28 0.5h2m9 0h2m3 0h2m1 0h2m-34 0.5h2m9.5 0h2m-1 0h2m3.5 0h2m-1 0h2m1 0h2m-1 0h2m0 0h2m5.5 0h2m-0.5 0h2m-16 0.5h2m-1.5 0h2m8 0h2m-17.5 0.5h2m2.5 0h2m5.5 0h2m11.5 0h2m-3 0.5h2m-38 0.5h2m13 0h2m0.5 0h2m-2.5 0.5h2m22.5 0.5h2m-27 0.5h2m16 1h2" stroke="#6a32c0" stroke-width="2"/>
<path d="M609.5 136.5h2m-4 1h2m-6 1.5h2m3 0.5h2m-7 1.5h2m-1.5 1h2m-0.5 0h2m-1 0.5h2m-5 2.5h2m3 1.5h2m-3.5 2.5h2m-3 1h2m-6 1h2m-0.5 1.5h2" stroke="#6a32c0" stroke-width="2"/>
<ellipse cx="638.5" cy="141.5" rx="24.5" ry="12.7" fill="#cfc4ee"/>
<ellipse cx="638.9" cy="141.3" rx="20.4" ry="10.6" fill="none" stroke="#9a82d8" stroke-width="0.5"/>
<ellipse cx="639.3" cy="141.1" rx="16.3" ry="8.5" fill="none" stroke="#9a82d8" stroke-width="0.5"/>
<ellipse cx="639.7" cy="140.9" rx="12.2" ry="6.3" fill="none" stroke="#9a82d8" stroke-width="0.5"/>
<ellipse cx="640.1" cy="140.7" rx="8.2" ry="4.2" fill="none" stroke="#9a82d8" stroke-width="0.5"/>
<ellipse cx="640.5" cy="140.5" rx="4.1" ry="2.1" fill="none" stroke="#9a82d8" stroke-width="0.5"/>
<path d="M796 139 Q801 131 813 126 Q830 118 848 121 L853 127 L852 160 Q845 168 830 167.5 Q812 166 805 158 Q798 150 796 146 Z" fill="#e0372b"/>
<path d="M817 121h2m10 0h2m-18.5 1.5h2m8 0h2m-1.5 0h2m3.5 0h2m-15.5 0.5h2m-1 0h2m2 0h2m3 0h2m-15.5 0.5h2m20.5 0h2m-1.5 0h2m2 0h2m-21.5 0.5h2m2 0h2m6 0h2m-0.5 0h2m-26.5 0.5h2m0 0h2m20 0h2m6 0h2m-0.5 0h2m-29.5 0.5h2m-1.5 0h2m-1 0h2m17.5 0h2m2.5 0h2m-2.5 0.5h2m-31 0.5h2m-9.5 0.5h2m4 0.5h2m32.5 0.5h2m-38 0.5h2m-5.5 0.5h2m1 0h2m-8 0.5h2m-1 0.5h2m40.5 1h2m-2.5 0.5h2m-49 0.5h2m2.5 0h2m0 0h2m-9 0.5h2m48 0h2m-46.5 1h2m-4 1.5h2m-3.5 0.5h2m-0.5 0h2m45 0h2m-51.5 1.5h2m48.5 1h2m2.5 0.5h2m-57.5 0.5h2m50 0h2m-53 0.5h2m-1.5 0h2m48 0h2m0 0h2m1.5 0h2m-57.5 0.5h2m51.5 0.5h2m-4.5 1.5h2m-1 0h2m-56.5 2.5h2m53.5 0h2m0 0.5h2m-5 1.5h2m-55.5 1h2m-2.5 0.5h2m-1.5 0h2m52 2h2m-55 1h2m-3.5 0.5h2m-1 0h2m51 0h2m-55.5 0.5h2m-1 1h2m50 0h2m-55 1.5h2m0.5 0.5h2m47 0h2m-50 1h2m-5.5 0.5h2m3 0.5h2m48 0h2m-53.5 1h2m43.5 0h2m-48.5 0.5h2m1.5 1h2m38 0h2m1 0h2m-51.5 0.5h2m43 0.5h2m-1 0.5h2m-1 0h2m-40.5 0.5h2m-1.5 0h2m38.5 0h2m-7.5 0.5h2m-2.5 0.5h2m-1 0h2m0 0h2m-39.5 0.5h2m31.5 0h2m-36 0.5h2m32.5 0h2m-31 0.5h2m27.5 0h2m-30.5 0.5h2m-6.5 0.5h2m26.5 0h2m-5.5 0.5h2m2.5 0h2m0 0h2m-28.5 0.5h2m4 0h2m11 0h2m-27 0.5h2m-0.5 0h2m0 0h2m18.5 0h2m0.5 0h2m-8.5 0.5h2m4.5 0h2m-22.5 0.5h2m10.5 0h2m3.5 0h2m0 0h2m-1 0h2m-21 0.5h2m-0.5 0h2m-1 0h2m18.5 0h2m-27 0.5h2m5.5 0.5h2" stroke="#e0372b" stroke-width="2"/>
<ellipse cx="830" cy="142" rx="13.5" ry="12.8" fill="#f8c2b0"/>
<ellipse cx="830.4" cy="141.8" rx="10.8" ry="10.2" fill="none" stroke="#f0907c" stroke-width="0.5"/>
<ellipse cx="830.8" cy="141.6" rx="8.1" ry="7.7" fill="none" stroke="#f0907c" stroke-width="0.5"/>
<ellipse cx="831.2" cy="141.4" rx="5.4" ry="5.1" fill="none" stroke="#f0907c" stroke-width="0.5"/>
<ellipse cx="831.6" cy="141.2" rx="2.7" ry="2.6" fill="none" stroke="#f0907c" stroke-width="0.5"/>
<path d="M797.5 134.5h2m4.5 1.5h2m-1 2.5h2m-3 0.5h2m0.5 0h2m-5 2.5h2m4 3h2m-1.5 0h2m-7 2.5h2m-5 3h2m4 2.5h2m-1 2h2" stroke="#f6b0a0" stroke-width="2"/>
<path d="M850 122 Q858 114 872 114.5 L884.5 115 L884.5 160 Q878 166 866 165 Q852 162 848 150 Q845 135 850 122 Z" fill="#3c46b0"/>
<path d="M866.5 113.5h2m3 7h2m-4.5 2.5h2m-14 0.5h2m-6 1h2m3.5 0.5h2m-10 1h2m-8 0.5h2m13.5 1.5h2m4 1.5h2m2 0h2m-11 1h2m7 0.5h2m1.5 0.5h2m-3 2.5h2m-1.5 0.5h2m-12.5 1.5h2m1.5 1h2m7 0h2m-14 1.5h2m6 0h2m-3 1.5h2m-5.5 0.5h2m-11.5 1h2m-2.5 1h2m-15 1.5h2m16.5 0h2m8 0h2m-17 0.5h2m1 0h2m14.5 0h2m-20.5 0.5h2m10 0h2m-20.5 0.5h2m4 0.5h2m1.5 0h2m1.5 0h2m3 0h2m-1 0h2m-20 1.5h2m14.5 0.5h2m-8 2h2m-5.5 0.5h2m4.5 0h2m8 0h2m-16.5 0.5h2m-10.5 1h2m6.5 1h2m1.5 0h2m-19 0.5h2m10.5 0.5h2m7 0.5h2m8 0.5h2m-31 1h2m7 0.5h2m9.5 0.5h2m-14 1h2m14 4h2m-14 1.5h2m-9.5 3.5h2" stroke="#3c46b0" stroke-width="2"/>
<ellipse cx="869.2" cy="135.4" rx="11.8" ry="13.4" fill="#c8ccf0"/>
<ellipse cx="869.6" cy="135.2" rx="9.4" ry="10.7" fill="none" stroke="#8890d8" stroke-width="0.5"/>
<ellipse cx="870" cy="135" rx="7.1" ry="8" fill="none" stroke="#8890d8" stroke-width="0.5"/>
<ellipse cx="870.4" cy="134.8" rx="4.7" ry="5.4" fill="none" stroke="#8890d8" stroke-width="0.5"/>
<ellipse cx="870.8" cy="134.6" rx="2.4" ry="2.7" fill="none" stroke="#8890d8" stroke-width="0.5"/>
<ellipse cx="1032" cy="146" rx="23" ry="20" fill="#e6544a"/>
<path d="M1030.5 120h2m-13 1.5h2m6 0.5h2m-0.5 0.5h2m2 0.5h2m2 0.5h2m-10 0.5h2m0.5 0h2m11.5 0h2m-22 0.5h2m2.5 0h2m-1.5 0h2m3.5 0h2m-17.5 0.5h2m5 0h2m-3 0.5h2m3 0h2m2 0h2m1 0h2m-16.5 0.5h2m13.5 0h2m-17.5 0.5h2m11.5 0h2m-18 0.5h2m0.5 0h2m-11.5 0.5h2m27.5 0h2m0.5 0h2m-28 0.5h2m19 0h2m-1.5 0h2m1.5 0.5h2m2.5 0h2m-40 0.5h2m3 0.5h2m-3 0.5h2m-1.5 0h2m-3.5 0.5h2m-4.5 0.5h2m0.5 0h2m30.5 0.5h2m-1 0h2m0.5 0.5h2m1 0.5h2m-5.5 2h2m-1.5 0h2m-43 1.5h2m-1.5 0h2m41.5 0.5h2m-45.5 1h2m42 0.5h2m-0.5 1h2m-2 0.5h2m1.5 0.5h2m-7.5 1h2m5.5 0.5h2m-7.5 2.5h2m-3.5 5.5h2m-1 1h2m-3.5 1.5h2m-1 0h2m-0.5 1h2m-2.5 1h2m0.5 0h2m-7 1h2m0 0h2m-46.5 1h2m39.5 0h2m0 2h2m-2.5 1h2m-46 0.5h2m-1.5 0h2m2 0h2m36 0h2m-1.5 0h2m-42.5 0.5h2m33.5 0h2m0 1h2m1 0h2m-7 0.5h2m-36 1h2m2 0h2m26.5 1h2m0 0h2m-32 0.5h2m-1.5 0h2m23.5 0h2m-1 0h2m-8 1h2m1 0h2m-22 0.5h2m14.5 0h2m4.5 0h2m-1 0h2m-12.5 0.5h2m-1 0h2m-15 0.5h2m4.5 0h2m0.5 0h2m3 0h2m9 0h2m-26 0.5h2m3 0h2m5 0h2m-0.5 0h2m-13.5 0.5h2m12.5 0h2m-23 0.5h2m16.5 0h2m-16 0.5h2m6 0h2m0 0.5h2m5.5 0.5h2m-26.5 0.5h2m10 0h2m4.5 0.5h2m-14 0.5h2" stroke="#e0372b" stroke-width="2"/>
<path d="M1036 131 Q1050 118 1070 117.5 L1095 117.5 L1095.5 152 Q1090 166 1072 169 Q1055 168 1046 160 Q1034 152 1030 146 Z" fill="#3c46b0"/>
<path d="M1028.5 116h2m39.5 1h2m-34 6.5h2m19 1h2m-19.5 1.5h2m36.5 0.5h2m-36.5 1h2m0.5 1h2m-27 0.5h2m-7.5 1h2m22.5 0h2m0.5 1.5h2m13 0h2m-11 1h2m15.5 0h2m-35 1h2m4.5 0h2m1 0h2m6.5 0h2m13.5 0h2m-35.5 1.5h2m-3.5 1.5h2m2.5 0h2m36.5 0h2m-44.5 0.5h2m41 0h2m-45.5 0.5h2m5.5 0h2m4.5 0h2m7.5 0h2m3.5 1h2m9 0.5h2m-50.5 1h2m7 0h2m12.5 0h2m1 0h2m0.5 0h2m-0.5 0.5h2m-1 0h2m26 0.5h2m-27.5 0.5h2m18 0h2m-56 0.5h2m12.5 0h2m21 0h2m-9 0.5h2m5.5 0h2m5.5 0h2m-22 0.5h2m-13 0.5h2m-1 0.5h2m4 0h2m13 0h2m-14 1.5h2m7.5 0h2m-8 0.5h2m-11.5 0.5h2m6.5 0h2m0.5 0h2m-24.5 0.5h2m14.5 0h2m7.5 0.5h2m0.5 0.5h2m1.5 0h2m10 0h2m-30 0.5h2m2.5 0.5h2m-23.5 0.5h2m10.5 0.5h2m-21.5 0.5h2m13 0h2m17.5 0h2m-2.5 1h2m-42.5 1.5h2m36.5 0h2m-3 1h2m3.5 0h2m10.5 0h2m-14 0.5h2m-30 1h2m34.5 0h2m-11.5 1.5h2m-3 0.5h2m-12 1.5h2m1 0h2m9.5 0h2m5 0h2m-23.5 0.5h2m-0.5 4h2m-22 3.5h2" stroke="#3c46b0" stroke-width="2"/>
<path d="M1016.5 131.5h2m1 3.5h2m4 1h2m11 0h2m-24.5 1h2m10 0.5h2m0 0h2m8 0.5h2m-2.5 0.5h2m-3.5 0.5h2m-22.5 1.5h2m9.5 0.5h2m5.5 0h2m-21.5 0.5h2m13.5 0.5h2m-2.5 0.5h2m-3.5 0.5h2m3 2.5h2m-19.5 1h2m17.5 0.5h2m-16.5 2h2m3 0h2m8 0h2m-16 0.5h2m12 1h2m-13.5 0.5h2m8.5 0h2m-21.5 0.5h2m17 1.5h2m-17 0.5h2m13 0h2m-5 3.5h2m-22.5 0.5h2m0.5 0h2m7 0h2m7.5 0h2m-1 1.5h2m-10 1h2m-13 0.5h2m1 0h2" stroke="#3c46b0" stroke-width="2"/>
<ellipse cx="1076" cy="138" rx="13.5" ry="14" fill="#c8ccf0"/>
<ellipse cx="1076.4" cy="137.8" rx="10.8" ry="11.2" fill="none" stroke="#8890d8" stroke-width="0.5"/>
<ellipse cx="1076.8" cy="137.6" rx="8.1" ry="8.4" fill="none" stroke="#8890d8" stroke-width="0.5"/>
<ellipse cx="1077.2" cy="137.4" rx="5.4" ry="5.6" fill="none" stroke="#8890d8" stroke-width="0.5"/>
<ellipse cx="1077.6" cy="137.2" rx="2.7" ry="2.8" fill="none" stroke="#8890d8" stroke-width="0.5"/>
<ellipse cx="1062.5" cy="139" rx="2.5" ry="6" fill="#e0372b"/>
<text x="-1.5" y="255.6" font-size="42" font-weight="bold" textLength="23.5" lengthAdjust="spacingAndGlyphs">b</text>
<rect x="58.6" y="258.1" width="109.7" height="110.8" fill="none" stroke="#a0a0a0" stroke-width="1.1"/>
<text x="53.1" y="267.9" font-size="10" text-anchor="end" font-weight="bold">250K</text>
<text x="53.1" y="288.9" font-size="10" text-anchor="end" font-weight="bold">200K</text>
<text x="53.1" y="309.3" font-size="10" text-anchor="end" font-weight="bold">150K</text>
<text x="53.1" y="330.8" font-size="10" text-anchor="end" font-weight="bold">100K</text>
<text x="53.1" y="351.4" font-size="10" text-anchor="end" font-weight="bold">50K</text>
<text x="53.1" y="369.3" font-size="10" text-anchor="end" font-weight="bold">0</text>
<text x="60.7" y="384" font-size="10.5" font-weight="bold">10<tspan dy="-5.9" font-size="10">0</tspan></text>
<text x="76.2" y="384" font-size="10.5" font-weight="bold">10<tspan dy="-5.9" font-size="10">1</tspan></text>
<text x="96" y="384" font-size="10.5" font-weight="bold">10<tspan dy="-5.9" font-size="10">2</tspan></text>
<text x="116.3" y="384" font-size="10.5" font-weight="bold">10<tspan dy="-5.9" font-size="10">3</tspan></text>
<text x="136.6" y="384" font-size="10.5" font-weight="bold">10<tspan dy="-5.9" font-size="10">4</tspan></text>
<text x="152.9" y="384" font-size="10.5" font-weight="bold">10<tspan dy="-5.9" font-size="10">5</tspan></text>
<text x="22.6" y="316.7" font-size="21" text-anchor="middle" transform="rotate(-90 22.6 316.7)" textLength="60.7" lengthAdjust="spacingAndGlyphs">FSC-A</text>
<text x="107.3" y="404.2" font-size="21" text-anchor="middle" textLength="62" lengthAdjust="spacingAndGlyphs">SSC-A</text>
<path d="M117.8 316 L121 309.5 L131 306 L139 310 L140 328 L130 330 L117.8 329.5 Z" fill="none" stroke="#555" stroke-width="0.9"/>
<ellipse cx="128.3" cy="327" rx="7.3" ry="23.5" fill="#000"/>
<ellipse cx="132.8" cy="285" rx="2.3" ry="24" fill="#000"/>
<path d="M130.5 260.5h2m1 0.5h2m1.5 1h2m-7 0.5h2m-3.5 1h2m-0.5 0h2m0.5 0h2m-8 1h2m2.5 0.5h2m-0.5 0h2m-2.5 0.5h2m0 0h2m-5.5 0.5h2m-2 1h2m-1.5 0.5h2m-2.5 0.5h2m-3 1h2m1 0h2m-4 0.5h2m-1.5 0h2m2 0h2m-11 0.5h2m1.5 0h2m-1.5 0h2m-1 0h2m-2.5 0.5h2m-4.5 0.5h2m10 0h2m-13.5 0.5h2m-0.5 0h2m-1 0h2m-1.5 0h2m-7 0.5h2m0 0h2m-2.5 0.5h2m-1 0h2m-0.5 0.5h2m-1 0h2m-7 0.5h2m1.5 0.5h2m-1 0h2m1.5 0h2m-8 0.5h2m3 0h2m-7 1h2m1.5 0h2m0.5 0h2m-8 0.5h2m2.5 0.5h2m-1.5 0h2m-5 0.5h2m-1.5 0h2m-6 0.5h2m2 0h2m-0.5 0h2m-6 0.5h2m-1.5 0h2m-0.5 0h2m-1.5 0h2m-3.5 0.5h2m1 0h2m-8.5 0.5h2m1 0h2m-1 0h2m-1 0.5h2m-1.5 0h2m-2 0.5h2m-1 0h2m-1.5 0h2m-6 0.5h2m-1.5 0h2m-0.5 0h2m-5.5 0.5h2m-1.5 0h2m-1 0h2m-0.5 0h2m0.5 0h2m-5.5 0.5h2m0.5 0h2m-2 0.5h2m-4 0.5h2m-1.5 0h2m-6 0.5h2m1 0h2m-0.5 0h2m-3 0.5h2m-1 0h2m-0.5 0h2m19.5 0h2m-28.5 0.5h2m-0.5 0h2m-0.5 0h2m-1 0h2m-5.5 0.5h2m1.5 0h2m-1 0h2m-5.5 0.5h2m-1 0h2m-0.5 0h2m-1 0h2m-1 0h2m-5 0.5h2m0.5 0.5h2m-8 0.5h2m1 0h2m-0.5 0h2m-1 0.5h2m-6 0.5h2m-0.5 0h2m-1 0h2m0 0h2m-6 0.5h2m0.5 0h2m-0.5 0.5h2m-6.5 0.5h2m0 0h2m0 0h2m-4.5 0.5h2m-1 0h2m-3.5 0.5h2m-3.5 0.5h2m-0.5 0h2m-1.5 0h2m-0.5 0h2m0 0h2m-1.5 0h2m-6.5 0.5h2m0 0h2m-2.5 0.5h2m-3.5 0.5h2m-1 0h2m-2.5 0.5h2m1.5 0h2m-7 0.5h2m-1.5 0h2m3.5 0h2m-7 0.5h2m-1 0h2m-1 0h2m-0.5 0h2m-6.5 0.5h2m-0.5 0h2m0 0h2m-3 0.5h2m5 0.5h2m-11 1h2m0 0h2m0 0h2m-5.5 0.5h2m0 0h2m-11.5 0.5h2m5.5 0h2m-1 0h2m-1.5 0h2m-5 0.5h2m-1.5 0h2m2 0h2m0.5 0h2m-21 0.5h2m5 0h2m0 0h2m3.5 0h2m-1 0h2m-5 0.5h2m-1 0h2m-1.5 0h2m-1 0h2m-2.5 0.5h2m0 0h2m23.5 0h2m-34.5 0.5h2m5.5 0h2m1 0h2m-16 0.5h2m6.5 0h2m-4 0.5h2m-1.5 0h2m-11 0.5h2m2.5 0h2m1.5 0h2m-6 0.5h2m-1.5 0h2m6.5 0h2m-6 0.5h2m-1 0h2m-1.5 0h2m1 0h2m-0.5 0h2m-8 0.5h2m3 0h2m-14.5 0.5h2m2.5 0h2m4.5 0h2m-14 0.5h2m7 0h2m-8.5 0.5h2m0 0h2m3.5 0h2m-9.5 1h2m-1.5 0h2m1 0h2m0.5 0h2m-7 0.5h2m-1 0h2m1 0h2m0 0h2m-2.5 0.5h2m-0.5 0h2m-12 0.5h2m1.5 0h2m-1.5 0h2m0.5 0h2m0 0h2m6 0.5h2m-22.5 0.5h2m7 0h2m2 0h2m-9 0.5h2m1 0h2m0 0h2m-0.5 0h2m-5.5 0.5h2m-0.5 0h2m0 0h2m-1.5 0h2m-0.5 0h2m-15 0.5h2m0.5 0h2m-1.5 0h2m0.5 0h2m-1.5 0h2m-1.5 0h2m2.5 0h2m-1 0h2m-14.5 0.5h2m9 0h2m-0.5 0h2m-1.5 0h2m-14.5 0.5h2m4 0h2m8 0h2m-14.5 0.5h2m-1.5 0h2m-1.5 0h2m5.5 0h2m-1.5 0h2m-14.5 0.5h2m6.5 0h2m6.5 0h2m-13.5 0.5h2m-1 0h2m3 0h2m-12 0.5h2m3 0h2m1 0h2m-1.5 0h2m-1.5 0h2m-1.5 0h2m-7.5 0.5h2m-0.5 0h2m1 0h2m-14 0.5h2m2.5 0h2m0.5 0h2m0 0h2m0.5 0h2m-1.5 0h2m-1.5 0h2m0.5 0h2m-0.5 0h2m3 0h2m-17.5 0.5h2m-1.5 0h2m-1.5 0h2m-1.5 0h2m0.5 0h2m-1.5 0h2m4 0h2m-15 0.5h2m0 0h2m-0.5 0h2m1.5 0h2m-0.5 0h2m-1 0h2m-1 0h2m2.5 0h2m-20 0.5h2m1 0h2m1.5 0h2m-1.5 0h2m-1.5 0h2m-0.5 0h2m-1.5 0h2m0 0h2m-1.5 0h2m-1.5 0h2m-1 0h2m-0.5 0h2m3 0h2m-19 0.5h2m-1.5 0h2m-1.5 0h2m-1.5 0h2m-1 0h2m4 0h2m23 0h2m-32 0.5h2m-1.5 0h2m1.5 0h2m4 0h2m-14.5 0.5h2m0.5 0h2m-0.5 0h2m-1 0h2m-1.5 0h2m-1.5 0h2m0.5 0h2m1 0h2m-15 0.5h2m2 0h2m1.5 0h2m-11.5 0.5h2m0 0h2m-1.5 0h2m0 0h2m1 0h2m0 0h2m-1.5 0h2m-1.5 0h2m0 0h2m-15.5 0.5h2m-1 0h2m3.5 0h2m-1 0h2m-1.5 0h2m-1.5 0h2m-1 0h2m-1 0h2m0 0h2m-1 0h2m-10.5 0.5h2m-1.5 0h2m1 0h2m-1.5 0h2m7 0h2m-14.5 0.5h2m-0.5 0h2m-1.5 0h2m1 0h2m-1.5 0h2m-1.5 0h2m0 0h2m-1 0h2m-13 0.5h2m-1 0h2m-1 0h2m-0.5 0h2m-1.5 0h2m-1.5 0h2m-1 0h2m-1.5 0h2m-13.5 0.5h2m1 0h2m-1.5 0h2m-0.5 0h2m-1 0h2m0 0h2m-1 0h2m-1 0h2m-1.5 0h2m-1 0h2m-1.5 0h2m-0.5 0h2m-0.5 0h2m-1.5 0h2m1.5 0h2m-1 0h2m-19 0.5h2m0.5 0h2m-1.5 0h2m-1.5 0h2m-0.5 0h2m1 0h2m-1.5 0h2m0.5 0h2m-14.5 0.5h2m6 0h2m-1 0h2m-1.5 0h2m-1 0h2m-1.5 0h2m-1 0h2m-1.5 0h2m1 0h2m-1.5 0h2m-10.5 0.5h2m-1.5 0h2m-1.5 0h2m-1.5 0h2m-1 0h2m-1.5 0h2m-1.5 0h2m1 0h2m0.5 0h2m1 0h2m19.5 0h2m-44.5 0.5h2m4.5 0h2m0 0h2m-0.5 0h2m-0.5 0h2m-1.5 0h2m-1.5 0h2m-1.5 0h2m-11.5 0.5h2m0.5 0h2m0 0h2m-1.5 0h2m-1.5 0h2m-0.5 0h2m-1 0h2m-1.5 0h2m-1 0h2m-1.5 0h2m-1.5 0h2m-1 0h2m-13.5 0.5h2m-0.5 0h2m0 0h2m1 0h2m-0.5 0h2m-0.5 0h2m-1 0h2m-1.5 0h2m-1.5 0h2m-1.5 0h2m-0.5 0h2m0.5 0h2m1.5 0h2m-19 0.5h2m0 0h2m-1.5 0h2m-1.5 0h2m2.5 0h2m-1 0h2m-13 0.5h2m-0.5 0h2m-0.5 0h2m-1 0h2m1 0h2m-1.5 0h2m3.5 0h2m0.5 0h2m-15 0.5h2m-1.5 0h2m-1 0h2m-1 0h2m0 0h2m-1 0h2m-1.5 0h2m-0.5 0h2m-0.5 0h2m-1.5 0h2m-1.5 0h2m-1.5 0h2m-1.5 0h2m-0.5 0h2m-20 0.5h2m3 0h2m0.5 0h2m0.5 0h2m-1 0h2m-0.5 0h2m-1.5 0h2m0 0h2m-0.5 0h2m0 0h2m2.5 0h2m-22.5 0.5h2m1 0h2m-0.5 0h2m-1 0h2m-1.5 0h2m-1.5 0h2m-0.5 0h2m1 0h2m-0.5 0h2m-1.5 0h2m-0.5 0h2m3 0h2m-19 0.5h2m-1.5 0h2m0.5 0h2m-0.5 0h2m-1.5 0h2m2.5 0h2m-0.5 0h2m-15 0.5h2m-1.5 0h2m-1 0h2m-0.5 0h2m-0.5 0h2m-1.5 0h2m-1.5 0h2m-1 0h2m0 0h2m-1.5 0h2m-1.5 0h2m-1.5 0h2m1 0h2m0.5 0h2m-15.5 0.5h2m-1 0h2m1 0h2m-1 0h2m-1.5 0h2m-1 0h2m-1 0h2m-1.5 0h2m-0.5 0h2m0.5 0h2m-0.5 0h2m0.5 0h2m-19.5 0.5h2m-1.5 0h2m2 0h2m-0.5 0h2m-0.5 0h2m-1.5 0h2m3 0h2m3 0h2m-23.5 0.5h2m0.5 0h2m-0.5 0h2m0 0h2m-1 0h2m-1 0h2m-1 0h2m-1 0h2m-0.5 0h2m-1 0h2m-1.5 0h2m-1 0h2m-1 0h2m-1.5 0h2m-1.5 0h2m-16 0.5h2m-1 0h2m-0.5 0h2m0.5 0h2m-1 0h2m-1 0h2m2 0h2m2.5 0h2m0.5 0h2m-18.5 0.5h2m-1 0h2m1.5 0h2m-1 0h2m-1.5 0h2m-0.5 0h2m-1.5 0h2m-1.5 0h2m-1.5 0h2m-1.5 0h2m0 0h2m0 0h2m-1.5 0h2m2 0h2m-19.5 0.5h2m0 0h2m-0.5 0h2m0 0h2m-1 0h2m-0.5 0h2m-0.5 0h2m0.5 0h2m-1 0h2m0 0h2m-16 0.5h2m0 0h2m-1 0h2m3.5 0h2m-11.5 0.5h2m-1.5 0h2m1 0h2m0 0h2m-1.5 0h2m0 0h2m-1 0h2m-1.5 0h2m-1.5 0h2m-1.5 0h2m-1.5 0h2m-1.5 0h2m-1.5 0h2m-15 0.5h2m1 0h2m-1.5 0h2m-1 0h2m-1.5 0h2m-1 0h2m0.5 0h2m-1.5 0h2m-1.5 0h2m-1.5 0h2m-1.5 0h2m-1 0h2m-1 0h2m-12 0.5h2m1.5 0h2m-0.5 0h2m-1.5 0h2m-1.5 0h2m-1.5 0h2m-1.5 0h2m-1.5 0h2m-0.5 0h2m-0.5 0h2m-14.5 0.5h2m0.5 0h2m-1.5 0h2m0.5 0h2m-1 0h2m-1.5 0h2m-1 0h2m-1.5 0h2m-0.5 0h2m-1 0h2m-1 0h2m-0.5 0h2m0.5 0h2m3 0h2m-19.5 0.5h2m-0.5 0h2m-1.5 0h2m0.5 0h2m-1 0h2m0 0h2m0.5 0h2m1.5 0h2m-14 0.5h2m-1.5 0h2m0 0h2m-1 0h2m1 0h2m-0.5 0h2m-15 0.5h2m3.5 0h2m-1 0h2m-1.5 0h2m-1.5 0h2m-1 0h2m-1 0h2m-1.5 0h2m-1.5 0h2m-11 0.5h2m0.5 0h2m-0.5 0h2m0 0h2m-1 0h2m-1.5 0h2m0 0h2m-13.5 0.5h2m0 0h2m0.5 0h2m-0.5 0h2m-1 0h2m-1.5 0h2m0.5 0h2m-1.5 0h2m-1.5 0h2m-1.5 0h2m-1.5 0h2m-1.5 0h2m-11.5 0.5h2m-1.5 0h2m-1.5 0h2m-0.5 0h2m0 0h2m-1 0h2m-1.5 0h2m-1.5 0h2m-1 0h2m-1.5 0h2m-1 0h2m3 0h2m-18.5 0.5h2m0 0h2m0.5 0h2m-1 0h2m-0.5 0h2m-1 0h2m0 0h2m-1.5 0h2m-1 0h2m-1 0h2m-0.5 0h2m-13.5 0.5h2m-1 0h2m-0.5 0h2m1.5 0h2m-1 0h2m-1 0h2m1 0h2m-18.5 0.5h2m1.5 0h2m0.5 0h2m-1.5 0h2m-1.5 0h2m-1 0h2m-1.5 0h2m-1 0h2m-0.5 0h2m-1 0h2m0 0h2m-10 0.5h2m-1.5 0h2m-1.5 0h2m-1.5 0h2m0 0h2m-0.5 0h2m-1.5 0h2m1.5 0h2m-18.5 0.5h2m2.5 0h2m1 0h2m-1.5 0h2m-1 0h2m0 0h2m-0.5 0h2m0.5 0h2m0 0h2m3.5 0h2m-21 0.5h2m2 0h2m0 0h2m-1.5 0h2m-0.5 0h2m-0.5 0h2m6.5 0h2m-20 0.5h2m3 0h2m-1.5 0h2m-1 0h2m0.5 0h2m-1.5 0h2m-1 0h2m-1.5 0h2m-1.5 0h2m-0.5 0h2m-1.5 0h2m7 0h2m-20 0.5h2m-0.5 0h2m1.5 0h2m0 0h2m0 0h2m3 0h2m-21.5 0.5h2m7.5 0h2m-1.5 0h2m0 0h2m-1.5 0h2m0.5 0h2m-11.5 0.5h2m0 0h2m3 0h2m-13 0.5h2m-1.5 0h2m-0.5 0h2m0.5 0h2m1 0h2m-1.5 0h2m-1 0h2m-1.5 0h2m0 0h2m0.5 0h2m-19 0.5h2m-0.5 0h2m0 0h2m-0.5 0h2m-0.5 0h2m-0.5 0h2m-1.5 0h2m-1.5 0h2m-1.5 0h2m0 0h2m0.5 0h2m-1.5 0h2m-11.5 0.5h2m-1.5 0h2m-1.5 0h2m-1.5 0h2m-1 0h2m-1 0h2m-1.5 0h2m-1 0h2m-0.5 0h2m-1 0h2m0 0h2m-0.5 0h2m2.5 0h2m-15 0.5h2m-1 0h2m-1.5 0h2m-1.5 0h2m-1 0h2m-1 0h2m-0.5 0h2m0.5 0h2m0 0h2m0 0h2m-15 0.5h2m-0.5 0h2m-1.5 0h2m0 0h2m-1 0h2m-1.5 0h2m-1.5 0h2m2 0h2m-1 0h2m-15.5 0.5h2m0 0h2m0 0h2m0 0h2m0.5 0h2m-1.5 0h2m0 0h2m0 0h2m-0.5 0h2m-20.5 0.5h2m2 0h2m0.5 0h2m3 0h2m-1.5 0h2m0 0h2m-12 0.5h2m0.5 0h2m-0.5 0h2m-1.5 0h2m-1.5 0h2m-1 0h2m0.5 0h2m0 0h2m-13.5 0.5h2m0.5 0h2m1 0h2m0.5 0h2m0 0h2m1.5 0h2m-0.5 0h2m-16.5 0.5h2m-1 0h2m-0.5 0h2m2.5 0h2m-1 0h2m0.5 0h2m-9.5 0.5h2m-1.5 0h2m0.5 0h2m-1.5 0h2m0.5 0h2m0.5 0h2m1.5 0h2m-16.5 0.5h2m0 0h2m-1.5 0h2m5 0h2m-1.5 0h2m1 0h2m-14 0.5h2m-1.5 0h2m0 0h2m1.5 0h2m-1.5 0h2m-1 0h2m-0.5 0h2m-1 0h2m-0.5 0h2m4 0h2m-21.5 0.5h2m5 0h2m-1 0h2m-1 0h2m-1.5 0h2m0 0.5h2m-1.5 0h2m0.5 0h2m-17 0.5h2m4 0h2m-1 0h2m0.5 0h2m-1.5 0h2m-1 0h2m-1 0h2m-10 0.5h2m-1 0h2m-3 0.5h2m-1 0h2m-1 0h2m-1 0h2m-1.5 0h2m0 0h2m-1 0h2m-1 0h2m-13.5 0.5h2m2.5 0h2m0 0h2m0 0h2m8.5 0h2m-15 0.5h2m-1.5 0h2m0 0h2m2 0h2m-12.5 0.5h2m4.5 0h2m-1 0h2m3 0h2m-11.5 0.5h2m2.5 0.5h2m1 0h2m-12 0.5h2m0 0.5h2m1 0h2m9.5 0h2m-13 0.5h2m-1.5 0h2m-4 0.5h2m-1 0h2m9 0h2m5 0h2m-17 0.5h2m4 0h2m-12.5 0.5h2m-1 0h2m1.5 0h2m-1 0h2m-14 0.5h2m3.5 0h2m3.5 0h2m-1 0h2m-1.5 0h2m1.5 0h2m-13.5 0.5h2m-0.5 0h2m-1.5 0h2m14.5 0h2m-24.5 0.5h2m1 0h2m-1 0.5h2m-0.5 0h2m0 0h2m0.5 0h2m4 0h2m-23 0.5h2m2.5 0h2m9 0h2m-0.5 0h2m-12 0.5h2m9.5 0h2m-35 0.5h2m15.5 0h2m10 0h2m1.5 0h2m-29.5 0.5h2m5.5 0h2m13 0h2m6.5 0h2m-25.5 0.5h2m5.5 0h2m11 0h2m-22 0.5h2m2.5 0h2m6.5 0h2m2.5 0h2m0 0h2m15 0h2m-38 0.5h2m10.5 0h2m-12 1h2m6 0h2m8.5 0h2m-6.5 0.5h2m-10 0.5h2m13 0h2m-26.5 0.5h2m4.5 0h2m3 1h2m-6 0.5h2m-15.5 0.5h2m-1.5 0h2m23.5 0h2m4.5 0h2m12.5 0h2m-35.5 0.5h2m1 0h2m14.5 0h2m-39 0.5h2m18.5 0h2m3.5 0h2m-33 0.5h2m23 0h2m21.5 0.5h2m-48 0.5h2m10 0.5h2m0.5 0h2m16.5 0h2m-1.5 0h2m-1.5 0h2m4.5 0h2m-33 0.5h2m-1.5 0h2m14 0h2m1 0h2m17.5 0h2" stroke="#000" stroke-width="2"/>
<text x="59.3" y="287.8" font-size="12" fill="#333" textLength="70" lengthAdjust="spacingAndGlyphs">Lymphocytes</text>
<rect x="230.7" y="258.4" width="110.1" height="110.6" fill="none" stroke="#a0a0a0" stroke-width="1.1"/>
<text x="225.2" y="268.5" font-size="10" text-anchor="end" font-weight="bold">250K</text>
<text x="225.2" y="288.3" font-size="10" text-anchor="end" font-weight="bold">200K</text>
<text x="225.2" y="309.5" font-size="10" text-anchor="end" font-weight="bold">150K</text>
<text x="225.2" y="330.9" font-size="10" text-anchor="end" font-weight="bold">100K</text>
<text x="225.2" y="351.3" font-size="10" text-anchor="end" font-weight="bold">50K</text>
<text x="225.2" y="369.8" font-size="10" text-anchor="end" font-weight="bold">0</text>
<text x="233.7" y="380" font-size="10" text-anchor="middle" font-weight="bold">0</text>
<text x="251.4" y="380" font-size="10" text-anchor="middle" font-weight="bold">50K</text>
<text x="292.9" y="380" font-size="10" text-anchor="middle" font-weight="bold">150K</text>
<text x="335.7" y="380" font-size="10" text-anchor="middle" font-weight="bold">250K</text>
<text x="195.5" y="312.4" font-size="21" text-anchor="middle" transform="rotate(-90 195.5 312.4)" textLength="60.8" lengthAdjust="spacingAndGlyphs">FSC-A</text>
<text x="285.3" y="402.2" font-size="21" text-anchor="middle" textLength="63.5" lengthAdjust="spacingAndGlyphs">SSC-H</text>
<path d="M259 333 L258 322 L261 312 L266 306 L275 303 L283 300.5 L288.5 303.8 L260 335.5 Z" fill="#000"/>
<path d="M263.5 300h2m4.5 1h2m-11.5 0.5h2m9.5 0.5h2m-8 0.5h2m-5 1h2m3 0h2m-1 0h2m-7 0.5h2m-1 0h2m1.5 0h2m3.5 0h2m-10 0.5h2m-1.5 0h2m-11.5 0.5h2m7 0h2m-1.5 0h2m-4 0.5h2m1 0h2m-1.5 0h2m-9.5 0.5h2m2 0h2m1.5 0h2m-1.5 0h2m-1.5 0h2m1 0h2m-3 0.5h2m-7.5 0.5h2m7.5 0h2m0.5 0h2m-13.5 0.5h2m-0.5 0h2m-1.5 0h2m1 0h2m-1.5 0h2m1 0h2m0 0h2m-16 0.5h2m5 0h2m5 0h2m-16 0.5h2m0.5 0h2m3.5 0h2m-9.5 0.5h2m2 0h2m-7.5 0.5h2m2 0h2m2 0h2m-0.5 0h2m0 0h2m-11 0.5h2m0 0h2m1 0h2m-8.5 0.5h2m7 0h2m-10 0.5h2m7 0h2m-0.5 0h2m-0.5 0h2m0 0h2m-18.5 0.5h2m-1.5 0h2m1 0h2m4.5 0h2m-8.5 0.5h2m-0.5 0h2m-1.5 0h2m3 0h2m-11.5 0.5h2m-1 0h2m3 0h2m-6 0.5h2m5.5 0h2m-5 0.5h2m-11 0.5h2m8.5 0h2m-8.5 0.5h2m5.5 0h2m-12.5 0.5h2m2.5 0.5h2m0 0h2m-1.5 0.5h2m0 0h2m7.5 0h2m-28 0.5h2m7.5 0.5h2m5.5 0h2m-0.5 0.5h2m-11 2h2" stroke="#000" stroke-width="2"/>
<path d="M258.3 338.7 L258.5 330 L264.5 326 Z" fill="#fff" stroke="#000" stroke-width="0.8"/>
<text x="250.8" y="354.6" font-size="12.5" fill="#222" textLength="43.4" lengthAdjust="spacingAndGlyphs">Singlets</text>
<rect x="401.7" y="258.4" width="110.4" height="110.6" fill="none" stroke="#a0a0a0" stroke-width="1.1"/>
<text x="396.2" y="268.5" font-size="10" text-anchor="end" font-weight="bold">250K</text>
<text x="396.2" y="288.3" font-size="10" text-anchor="end" font-weight="bold">200K</text>
<text x="396.2" y="309.5" font-size="10" text-anchor="end" font-weight="bold">150K</text>
<text x="396.2" y="330.9" font-size="10" text-anchor="end" font-weight="bold">100K</text>
<text x="396.2" y="351.3" font-size="10" text-anchor="end" font-weight="bold">50K</text>
<text x="396.2" y="369.8" font-size="10" text-anchor="end" font-weight="bold">0</text>
<text x="414.5" y="384" font-size="10.5" text-anchor="middle" font-weight="bold">0</text>
<text x="453.2" y="384" font-size="10.5" font-weight="bold">10<tspan dy="-5.9" font-size="10">3</tspan></text>
<text x="476" y="384" font-size="10.5" font-weight="bold">10<tspan dy="-5.9" font-size="10">4</tspan></text>
<text x="496" y="384" font-size="10.5" font-weight="bold">10<tspan dy="-5.9" font-size="10">5</tspan></text>
<text x="371.7" y="312.8" font-size="21" text-anchor="middle" transform="rotate(-90 371.7 312.8)" textLength="60" lengthAdjust="spacingAndGlyphs">FSC-A</text>
<text x="453.2" y="402.9" font-size="21" text-anchor="middle" textLength="111.8" lengthAdjust="spacingAndGlyphs">Aqua Amine</text>
<rect x="401.7" y="277.3" width="24.2" height="62.7" fill="none" stroke="#555" stroke-width="1.1"/>
<text x="431.1" y="273.8" font-size="12.5" fill="#222" textLength="22.8" lengthAdjust="spacingAndGlyphs">Live</text>
<rect x="402.5" y="304" width="25" height="26.5" rx="7" fill="#000"/>
<path d="M411.5 303.5h2m11 1h2m-16 1.5h2m3 0h2m-3.5 0.5h2m-4.5 0.5h2m-9.5 0.5h2m6.5 0h2m4 0h2m-4 0.5h2m-1.5 0.5h2m-9.5 0.5h2m5.5 0h2m3.5 0h2m-14 0.5h2m0.5 0h2m5 0h2m0 0h2m-2 0.5h2m-2.5 0.5h2m-4.5 0.5h2m7 0h2m4 0h2m-22 0.5h2m0.5 0h2m-5 0.5h2m14 0h2m13 0h2m-31 0.5h2m7 0h2m-14 0.5h2m6.5 0h2m-9.5 0.5h2m-4.5 0.5h2m1 0h2m-1.5 0h2m-9.5 0.5h2m-1.5 0h2m-0.5 0h2m2 0h2m-1.5 0h2m1 0h2m-1 0h2m-1.5 0h2m-0.5 0h2m-1.5 0h2m16.5 0h2m-30 0.5h2m-0.5 0h2m1.5 0h2m-1.5 0h2m2.5 0h2m1.5 0h2m34.5 0h2m-60.5 0.5h2m2.5 0h2m0.5 0h2m1.5 0h2m0 0h2m-1.5 0h2m0.5 0h2m1 0h2m3.5 0h2m16.5 0h2m-35 0.5h2m2 0h2m0.5 0h2m0.5 0h2m-1 0h2m-0.5 0h2m37 0h2m-51 0.5h2m2.5 0h2m2.5 0h2m-1 0h2m4 0h2m14 0h2m-32 0.5h2m3.5 0h2m-0.5 0h2m3 0h2m4.5 0h2m-22 0.5h2m11 0h2m17.5 0h2m-41.5 0.5h2m-1 0h2m1.5 0h2m0 0h2m-11.5 0.5h2m2.5 0h2m8 0h2m0.5 0h2m0.5 0h2m21 0h2m-38.5 0.5h2m6 0h2m0.5 0h2m0.5 0h2m-1 0h2m35 0h2m-56 0.5h2m8 0h2m-1.5 0h2m3.5 0h2m4 0h2m3 0h2m35.5 0h2m4 0h2m-72.5 0.5h2m0 0h2m3 0h2m7.5 0h2m19 0h2m-38 0.5h2m6.5 0h2m7.5 0h2m-1.5 0h2m1.5 0h2m40 0h2m-67.5 0.5h2m4.5 0h2m3 0h2m0 0h2m10 0h2m36 0h2m1.5 0h2m-64 1h2m-1.5 0h2m12.5 0h2m-17.5 0.5h2m2 0h2m-0.5 0h2m0 0h2m11 0h2m-26 0.5h2m-0.5 0h2m6 0h2m2.5 0h2m36.5 0h2m2 0h2m-1 0h2m-58.5 0.5h2m4 0h2m30.5 0h2m-34.5 0.5h2m2 0h2m3.5 0h2m-1 0h2m40.5 0h2m-62.5 0.5h2m19 0h2m15 0h2m2 0h2m-1.5 0h2m12 0h2m-56 0.5h2m1 0h2m6 0h2m15 0h2m31 0h2m-66 0.5h2m11 0h2m-0.5 0h2m-0.5 0h2m9.5 0h2m0 0h2m10.5 0h2m-1.5 0h2m-40.5 0.5h2m5.5 0h2m9 0h2m42.5 0h2m-72 0.5h2m3 0h2m20.5 0h2m0.5 0h2m-30.5 0.5h2m13.5 0h2m2.5 0h2m-1.5 0h2m0 0h2m1 0.5h2m-22.5 0.5h2m0 0h2m4 0h2m-5.5 0.5h2m19.5 0h2m-25.5 0.5h2m1.5 0h2m13 0h2m2.5 0h2m3 0h2m26.5 0h2m10 0.5h2m-17 0.5h2m-60.5 0.5h2m0.5 0.5h2m0 0h2m1 0h2m5 0h2m43.5 0h2m2.5 0h2m-64.5 0.5h2" stroke="#000" stroke-width="2"/>
<rect x="571.8" y="258.4" width="110.7" height="110.6" fill="none" stroke="#a0a0a0" stroke-width="1.1"/>
<text x="565.8" y="272.8" font-size="10" text-anchor="end" font-weight="bold">10<tspan dy="-5.9" font-size="10">5</tspan></text>
<text x="565.8" y="293.5" font-size="10" text-anchor="end" font-weight="bold">10<tspan dy="-5.9" font-size="10">4</tspan></text>
<text x="565.8" y="313.9" font-size="10" text-anchor="end" font-weight="bold">10<tspan dy="-5.9" font-size="10">3</tspan></text>
<text x="565.8" y="334.2" font-size="10" text-anchor="end" font-weight="bold">10<tspan dy="-5.9" font-size="10">2</tspan></text>
<text x="565.8" y="354.3" font-size="10" text-anchor="end" font-weight="bold">10<tspan dy="-5.9" font-size="10">1</tspan></text>
<text x="565.8" y="370.9" font-size="10" text-anchor="end" font-weight="bold">10<tspan dy="-5.9" font-size="10">0</tspan></text>
<text x="586.7" y="384" font-size="10.5" text-anchor="middle" font-weight="bold">0</text>
<text x="624.9" y="384" font-size="10.5" font-weight="bold">10<tspan dy="-5.9" font-size="10">3</tspan></text>
<text x="647" y="384" font-size="10.5" font-weight="bold">10<tspan dy="-5.9" font-size="10">4</tspan></text>
<text x="667.7" y="384" font-size="10.5" font-weight="bold">10<tspan dy="-5.9" font-size="10">5</tspan></text>
<text x="549" y="319" font-size="21" text-anchor="middle" transform="rotate(-90 549 319)" textLength="39.3" lengthAdjust="spacingAndGlyphs">CD3</text>
<text x="622.3" y="402.9" font-size="21" text-anchor="middle" textLength="53.4" lengthAdjust="spacingAndGlyphs">Dump</text>
<rect x="571.8" y="265.5" width="50.6" height="43.5" fill="none" stroke="#555" stroke-width="1.1"/>
<text x="630.4" y="273.8" font-size="13" fill="#222" textLength="28.3" lengthAdjust="spacingAndGlyphs">CD3<tspan dy="-5" font-size="8">+</tspan></text>
<path d="M572.5 289.5 L598 287.8 Q614 287.2 622 289 Q628.5 292 628.5 298.5 Q627.5 305.5 619 307.5 L592 308.5 L572.5 307.5 Z" fill="#000"/>
<path d="M675.5 270h2m-91.5 12h2m17 0h2m-9 2h2m15.5 3h2m-22 0.5h2m9.5 0h2m0 0h2m2 0h2m4.5 0h2m-47.5 0.5h2m3.5 0h2m0 0h2m11.5 0h2m-1 0h2m9 0h2m6 0h2m0.5 0h2m5 0h2m-51.5 0.5h2m9 0h2m6 0h2m1 0h2m-1 0h2m6 0h2m5.5 0h2m5 0h2m-47.5 0.5h2m-1.5 0h2m0.5 0h2m6.5 0h2m0.5 0h2m1.5 0h2m2 0h2m2 0h2m0 0h2m2.5 0h2m2 0h2m-1.5 0h2m-0.5 0h2m0.5 0h2m5 0h2m5.5 0h2m-54 0.5h2m7.5 0h2m16 0h2m7.5 0h2m3 0h2m4 0h2m-51 0.5h2m1.5 0h2m-0.5 0h2m8.5 0h2m3.5 0h2m-1.5 0h2m4.5 0h2m0 0h2m-0.5 0h2m-1.5 0h2m1.5 0h2m-1.5 0h2m5 0h2m2.5 0h2m-1 0h2m10.5 0h2m-1.5 0h2m-62.5 0.5h2m-0.5 0h2m-0.5 0h2m1.5 0h2m0 0h2m4.5 0h2m0.5 0h2m7.5 0h2m3 0h2m10 0h2m0.5 0h2m6.5 0h2m-44 0.5h2m-1.5 0h2m11 0h2m-1.5 0h2m8 0h2m-1 0h2m4 0h2m-0.5 0h2m5.5 0h2m-54 0.5h2m8.5 0h2m7 0h2m12 0h2m6.5 0h2m4.5 0h2m-38 0.5h2m8.5 0h2m-0.5 0h2m1.5 0h2m24 0h2m0.5 0h2m-53.5 0.5h2m6 0h2m33 0h2m2 0h2m4.5 0.5h2m-5.5 0.5h2m8 0h2m-17 0.5h2m8.5 0h2m-12 0.5h2m13.5 0h2m-22.5 0.5h2m0.5 0h2m-1.5 0h2m3 0h2m-0.5 0h2m0 0.5h2m4.5 0h2m-14.5 0.5h2m-2.5 0.5h2m0.5 0h2m7.5 0h2m-12 0.5h2m5.5 0h2m-13 0.5h2m-0.5 0h2m4.5 0h2m0.5 0h2m-2.5 0.5h2m-15.5 0.5h2m5 0h2m0.5 0h2m1 0h2m1 0h2m1.5 0h2m-17.5 0.5h2m1.5 0h2m3 0h2m-9 0.5h2m-1 0h2m3 0.5h2m-0.5 0h2m-3 0.5h2m2.5 0h2m-2.5 0.5h2m-13.5 0.5h2m1.5 0h2m6.5 0h2m-13 0.5h2m12 0.5h2m-12.5 0.5h2m-9 0.5h2m4 0h2m-3 0.5h2m-1.5 0h2m5.5 0h2m-21 1h2m-26.5 0.5h2m5 0h2m7 0h2m5 0h2m10 0h2m-59.5 0.5h2m4.5 0h2m22 0h2m15.5 0h2m21.5 0h2m-63.5 0.5h2m22 0h2m-19 0.5h2m4.5 0h2m1.5 0h2m-1 0h2m-1.5 0h2m26 0h2m1 0h2m-57.5 0.5h2m2 0h2m11 0h2m-0.5 0h2m-1 0h2m-0.5 0h2m2 0h2m10.5 0h2m-42.5 0.5h2m4 0h2m28 0h2m3 0h2m-44 0.5h2m4 0h2m5 0h2m7.5 0h2m8.5 0h2m0 0h2m0.5 0h2m0 0h2m2.5 0h2m1.5 0h2m-47 0.5h2m-1 0h2m10 0h2m2 0h2m-0.5 0h2m0.5 0h2m10.5 0h2m-0.5 0h2m-1 0h2m-0.5 0h2m-1 0h2m-40.5 0.5h2m0 0h2m2 0h2m1 0h2m0 0h2m-0.5 0h2m0 0h2m-0.5 0h2m-1.5 0h2m-1.5 0h2m1.5 0h2m-1 0h2m-1.5 0h2m12.5 0h2m4 0h2m-46 0.5h2m19 0h2m1.5 0h2m-0.5 0h2m5.5 0h2m5.5 0h2m4 0h2m0.5 0h2m-51.5 0.5h2m5 0h2m-1.5 0h2m2 0h2m0.5 0h2m-1 0h2m6 0h2m0 0h2m11 0h2m0.5 0h2m-1 0h2m0.5 0h2m1.5 0h2m-49 0.5h2m4 0h2m7.5 0h2m-1 0h2m7 0h2m14 0h2m1.5 0h2m-1.5 0h2m-45.5 0.5h2m16 0h2m-18 0.5h2m10 0h2m21 0h2m-37 0.5h2m20.5 0h2m39.5 0h2m-27.5 0.5h2m5.5 0h2m18.5 0h2m-27.5 0.5h2m-41 1.5h2m58.5 0.5h2m10.5 2h2m-57 0.5h2m53.5 0h2m-62.5 0.5h2m31 0.5h2m6 0h2m14 0.5h2m-12 0.5h2m-25.5 2h2m-40.5 2h2m29.5 0h2m55 0h2m-28.5 1.5h2m16 0h2m-81.5 1h2m72.5 1.5h2m-0.5 0h2m-79.5 0.5h2m5.5 0.5h2m-1 0h2m69 1h2m-8.5 1.5h2m6.5 1.5h2m-29.5 0.5h2m-50 1h2m54.5 9.5h2m-56 14h2m-13 10h2m-1.5 0h2m3.5 0h2m1.5 0h2m3.5 0h2m-1 0h2m3 0h2m-1 0h2m2.5 0h2m2 0h2m3.5 0h2m1 0h2m4 0h2m-1 0h2m13.5 0h2m2 0h2m3.5 0h2m-1.5 0h2" stroke="#000" stroke-width="2"/>
<rect x="743.6" y="258.4" width="110" height="110.6" fill="none" stroke="#a0a0a0" stroke-width="1.1"/>
<text x="737.6" y="273.5" font-size="10" text-anchor="end" font-weight="bold">10<tspan dy="-5.9" font-size="10">5</tspan></text>
<text x="737.6" y="293.9" font-size="10" text-anchor="end" font-weight="bold">10<tspan dy="-5.9" font-size="10">4</tspan></text>
<text x="737.6" y="314.5" font-size="10" text-anchor="end" font-weight="bold">10<tspan dy="-5.9" font-size="10">3</tspan></text>
<text x="737.6" y="335.4" font-size="10" text-anchor="end" font-weight="bold">10<tspan dy="-5.9" font-size="10">2</tspan></text>
<text x="737.6" y="343" font-size="10" text-anchor="end" font-weight="bold">0</text>
<text x="737.5" y="353" font-size="10" text-anchor="end" font-weight="bold">-10</text>
<text x="738.5" y="348" font-size="7.5" font-weight="bold">2</text>
<text x="753.2" y="384" font-size="10.5" text-anchor="middle" font-weight="bold">0</text>
<text x="789.4" y="384" font-size="10.5" font-weight="bold">10<tspan dy="-5.9" font-size="10">3</tspan></text>
<text x="815.6" y="384" font-size="10.5" font-weight="bold">10<tspan dy="-5.9" font-size="10">4</tspan></text>
<text x="837.7" y="384" font-size="10.5" font-weight="bold">10<tspan dy="-5.9" font-size="10">5</tspan></text>
<text x="719.7" y="319" font-size="21" text-anchor="middle" transform="rotate(-90 719.7 319)" textLength="39.3" lengthAdjust="spacingAndGlyphs">CD4</text>
<text x="802.4" y="402.2" font-size="21" text-anchor="middle" textLength="40.3" lengthAdjust="spacingAndGlyphs">CD8</text>
<path d="M797.4 369 L797.4 315.2 L853.6 315.2" fill="none" stroke="#555" stroke-width="1.1"/>
<text x="794.9" y="297.3" font-size="13" fill="#222" textLength="55.2" lengthAdjust="spacingAndGlyphs">CD8<tspan dy="-5" font-size="8">+</tspan><tspan dy="5">CD4</tspan><tspan dy="-5" font-size="8">-</tspan></text>
<ellipse cx="807.5" cy="343" rx="9.5" ry="23.5" fill="#000"/>
<path d="M757 303.5h2m49 2.5h2m-3.5 8h2m7 4h2m-11 0.5h2m9.5 0h2m-47 1h2m37 0h2m-45 1h2m3 1.5h2m32 0h2m-0.5 0h2m-39 0.5h2m-0.5 0h2m26.5 0h2m8.5 0h2m-41.5 0.5h2m0 0h2m3.5 0h2m17.5 0.5h2m10 0h2m-53 1h2m24.5 0h2m19 0h2m0 0h2m0 0h2m-17.5 0.5h2m7 0h2m-39.5 0.5h2m30 0h2m17.5 0h2m-48.5 0.5h2m27.5 0h2m2.5 0h2m2.5 0h2m-33 0.5h2m3.5 0h2m-14.5 0.5h2m3.5 0h2m24.5 0h2m1.5 0h2m-54.5 0.5h2m37.5 0h2m-1 0h2m-23 0.5h2m2 0h2m10 0h2m9.5 0h2m-33 0.5h2m1.5 0h2m17.5 0h2m15.5 0h2m-16.5 0.5h2m12 0.5h2m-5.5 0.5h2m-6 0.5h2m4 0h2m-55.5 0.5h2m7 0h2m12 0h2m22.5 0h2m-1 0h2m3 0h2m3 0h2m-57 0.5h2m3 0h2m32 0h2m2.5 0h2m-46 0.5h2m23 0h2m5.5 0h2m7.5 0h2m-36.5 0.5h2m22.5 0h2m13.5 0h2m-40 0.5h2m23.5 0h2m1 0h2m-1 0h2m-36.5 0.5h2m8 0h2m12 0h2m8.5 0h2m5 0h2m4.5 0h2m8 0h2m-55 0.5h2m2.5 0h2m25.5 0h2m3 0h2m-0.5 0h2m0.5 0h2m4 0h2m-40 0.5h2m10 0h2m6 0h2m7 0h2m4.5 0h2m-48 0.5h2m-0.5 0h2m30 0h2m0 0h2m-1.5 0h2m1.5 0h2m1 0h2m-46 0.5h2m1 0h2m27.5 0h2m3 0h2m-1.5 0h2m1.5 0h2m0 0h2m-52 0.5h2m43.5 0h2m1 0h2m-1.5 0h2m4 0h2m-47.5 0.5h2m2.5 0h2m1.5 0h2m16.5 0h2m0 0h2m10 0h2m-1.5 0h2m0 0h2m-59 0.5h2m42 0h2m5 0h2m-0.5 0h2m0.5 0h2m1 0h2m-44.5 0.5h2m14.5 0h2m-1.5 0h2m0.5 0h2m3.5 0h2m-0.5 0h2m2 0h2m-1.5 0h2m3.5 0h2m5 0h2m-63.5 0.5h2m14.5 0h2m1.5 0h2m9 0h2m11.5 0h2m-0.5 0h2m3.5 0h2m8 0h2m2.5 0h2m-35 0.5h2m6 0h2m2 0h2m-1.5 0h2m0 0h2m-1 0h2m-1.5 0h2m0 0h2m0 0h2m-1.5 0h2m6 0h2m-34 0.5h2m2.5 0h2m0 0h2m6 0h2m5.5 0h2m3.5 0h2m0 0h2m-0.5 0h2m-1.5 0h2m-25.5 0.5h2m4 0h2m3.5 0h2m4 0h2m8 0h2m-56 0.5h2m3.5 0h2m30 0h2m13 0h2m0.5 0h2m-66.5 0.5h2m2 0h2m-0.5 0h2m8 0h2m-1 0h2m19.5 0h2m5 0h2m1.5 0h2m2.5 0h2m1 0h2m-68 0.5h2m44.5 0h2m8.5 0h2m1 0h2m0.5 0h2m5 0h2m-42 0.5h2m6.5 0h2m-0.5 0h2m12 0h2m-1.5 0h2m1.5 0h2m-1.5 0h2m3.5 0h2m2.5 0h2m-1 0h2m-56.5 0.5h2m0 0h2m3.5 0h2m9 0h2m-1.5 0h2m8.5 0h2m-1 0h2m5 0h2m-0.5 0h2m3.5 0h2m-1.5 0h2m0.5 0h2m5.5 0h2m1 0h2m-42 0.5h2m3 0h2m16.5 0h2m-0.5 0h2m2 0h2m-58.5 0.5h2m12.5 0h2m6.5 0h2m3 0h2m-1.5 0h2m3 0h2m4 0h2m9.5 0h2m4 0h2m1 0h2m-28.5 0.5h2m17 0h2m-1.5 0h2m-38.5 0.5h2m35.5 0h2m-1 0h2m0.5 0h2m-0.5 0h2m-43 0.5h2m3 0h2m3 0h2m4.5 0h2m14 0h2m-0.5 0h2m4 0h2m1.5 0h2m0.5 0h2m-43 0.5h2m3 0h2m7 0h2m3 0h2m-1 0h2m-0.5 0h2m-1 0h2m4 0h2m-1 0h2m-1.5 0h2m-1.5 0h2m1 0h2m0.5 0h2m-36.5 0.5h2m8.5 0h2m-1 0h2m16 0h2m0 0h2m-0.5 0h2m-52 0.5h2m14 0h2m11.5 0h2m1.5 0h2m6 0h2m-1 0h2m1 0h2m-1.5 0h2m2 0h2m-1.5 0h2m0 0h2m-51 0.5h2m24.5 0h2m4 0h2m1.5 0h2m2.5 0h2m0 0h2m-1.5 0h2m1 0h2m1 0h2m2 0h2m-71.5 0.5h2m32 0h2m26.5 0h2m-20.5 0.5h2m0 0h2m0 0h2m6.5 0h2m2 0h2m-0.5 0h2m2 0h2m-0.5 0h2m-27.5 0.5h2m8 0h2m4.5 0h2m4 0h2m-1.5 0h2m-0.5 0h2m-0.5 0h2m-54 0.5h2m10 0h2m6 0h2m10 0h2m4 0h2m-0.5 0h2m5 0h2m6 0h2m-37 0.5h2m7 0h2m1.5 0h2m13.5 0h2m3 0h2m-0.5 0h2m-36 0.5h2m10 0h2m16 0h2m-31.5 0.5h2m11 0h2m3 0h2m3.5 0h2m-0.5 0h2m-1 0h2m1 0h2m0 0h2m-40 0.5h2m7.5 0h2m4 0h2m5.5 0h2m8 0h2m-1.5 0h2m3 0h2m1.5 0h2m-1 0h2m-34 0.5h2m19 0h2m-34.5 0.5h2m8.5 0h2m11 0h2m7 0h2m-1 0h2m4.5 0h2m1 0h2m-65 0.5h2m2.5 0h2m4 0h2m17 0h2m10.5 0h2m2 0h2m-1 0h2m0.5 0h2m3 0h2m7 0h2m-1.5 0h2m-27.5 0.5h2m4 0h2m-1.5 0h2m-0.5 0h2m2.5 0h2m1 0h2m-1.5 0h2m-23.5 0.5h2m3 0h2m19.5 0h2m6 0h2m-33.5 0.5h2m0.5 0h2m-3 0.5h2m2.5 0h2m3 0h2m1 0h2m3.5 0h2m-49.5 0.5h2m3.5 0h2m7 0h2m19.5 0h2m2.5 0h2m-1.5 0h2m3 0h2m1 0h2m-39 0.5h2m9.5 0h2m16 0h2m-19.5 0.5h2m4 0h2m8 0h2m4.5 0h2m1 0h2m1 0h2m-25 0.5h2m1 0h2m-1.5 0h2m1 0h2m6 0h2m-21.5 0.5h2m6.5 0h2m0.5 0.5h2m5.5 0h2m0.5 0h2m0 0h2m1.5 0h2m-9 0.5h2m1.5 0h2m-1 0h2m-1.5 0h2m0.5 0h2m-10 0.5h2m0.5 0h2m0 0h2m-35 0.5h2m3 0h2m3.5 0h2m9.5 0h2m3.5 0h2m1 0h2m-16.5 0.5h2m1 0h2m14 0h2m-44.5 0.5h2m-0.5 0h2m10.5 0h2m5.5 0h2m15 0h2m-14 0.5h2m8.5 0h2m-11 0.5h2m12 0h2m-28 0.5h2m3.5 0h2m13.5 0h2m5 0h2m-23.5 0.5h2m13.5 0h2m-3 0.5h2m-1 0h2m-17 0.5h2m12.5 0h2m-1.5 0h2m2 0h2m1.5 0h2m-33.5 0.5h2m9.5 0h2m7.5 0h2m5 0h2m4.5 0h2m-11.5 0.5h2m-19 0.5h2m-5.5 0.5h2m1.5 0h2m-4 0.5h2m-10 0.5h2m3.5 0h2m27 0h2m-11.5 0.5h2m-5.5 0.5h2m2.5 0h2m-11 0.5h2m13.5 0.5h2" stroke="#000" stroke-width="2"/>
<rect x="56.6" y="442.4" width="111.1" height="110.8" fill="none" stroke="#a0a0a0" stroke-width="1.1"/>
<text x="51.4" y="458.4" font-size="10.5" text-anchor="end" font-weight="bold">10<tspan dy="-5.6" font-size="10.5">5</tspan></text>
<text x="51.4" y="483.9" font-size="10.5" text-anchor="end" font-weight="bold">10<tspan dy="-5.6" font-size="10.5">4</tspan></text>
<text x="51.4" y="512.2" font-size="10.5" text-anchor="end" font-weight="bold">10<tspan dy="-5.6" font-size="10.5">3</tspan></text>
<text x="45.6" y="536.2" font-size="10.5" text-anchor="end" font-weight="bold">0</text>
<rect x="53.6" y="528.2" width="3" height="8" fill="#222"/>
<text x="67" y="568" font-size="10.5" text-anchor="middle" font-weight="bold">0</text>
<text x="106.4" y="568" font-size="10.5" font-weight="bold">10<tspan dy="-5.6" font-size="10.5">3</tspan></text>
<text x="132" y="568" font-size="10.5" font-weight="bold">10<tspan dy="-5.6" font-size="10.5">4</tspan></text>
<text x="154.8" y="568" font-size="10.5" font-weight="bold">10<tspan dy="-5.6" font-size="10.5">5</tspan></text>
<path d="M95.3 442.7H167.7V496.7H95.3Z" fill="none" stroke="#555" stroke-width="1.1"/>
<text x="59.1" y="461" font-size="13.5" fill="#222">CD8<tspan dy="-4" font-size="8">+</tspan><tspan dy="4">YQP</tspan><tspan dy="-4" font-size="8">+</tspan></text>
<text x="29.6" y="479.2" font-size="16.5" text-anchor="middle" transform="rotate(-90 29.6 479.2)">YQP-Tet</text>
<text x="108.6" y="585.3" font-size="16.5" text-anchor="middle" textLength="32.4" lengthAdjust="spacingAndGlyphs">CD8</text>
<ellipse cx="121.5" cy="520.8" rx="10" ry="25.5" fill="#000" transform="rotate(5 121.5 520.8)"/>
<path d="M120 469.8h1.6m-1.1 0h1.6m1.9 0.5h1.6m-7.1 1h1.6m2.9 0.5h1.6m1.4 2h1.6m-4.6 0.5h1.6m1.4 0h1.6m-1.1 0h1.6m-9.6 2.5h1.6m-2.1 1h1.6m7.9 0h1.6m-7.6 2.5h1.6m1.4 0h1.6m-0.1 1h1.6m-5.1 0.5h1.6m2.9 2h1.6m-12.6 0.5h1.6m1.9 1h1.6m6.9 1h1.6m-9.6 1.5h1.6m-2.1 0.5h1.6m-1.1 0h1.6m-2.1 1h1.6m6.4 1h1.6m-10.1 1h1.6m-5.6 1h1.6m11.4 0h1.6m-6.1 1.5h1.6m13.9 0h1.6m-17.1 0.5h1.6m0.4 1.5h1.6m-12.6 0.5h1.6m8.4 0h1.6m3.4 0.5h1.6m5.9 0h1.6m-26.6 0.5h1.6m4.9 1h1.6m0.4 0h1.6m2.9 0h1.6m-8.1 0.5h1.6m3.9 0h1.6m-2.6 0.5h1.6m-1.1 0h1.6m-9.1 0.5h1.6m10.4 0h1.6m-8.1 0.5h1.6m-0.6 0h1.6m-3.6 0.5h1.6m0.9 0h1.6m-0.6 0h1.6m-21.1 0.5h1.6m11.4 0.5h1.6m3.9 0.5h1.6m-0.6 0.5h1.6m-0.6 0h1.6m-7.6 0.5h1.6m0.9 0h1.6m-9.1 1h1.6m-1.1 0h1.6m1.9 0.5h1.6m0.9 0h1.6m1.9 0.5h1.6m10.4 0h1.6m-20.1 0.5h1.6m1.9 0h1.6m1.9 0h1.6m1.4 0h1.6m-14.1 0.5h1.6m3.4 0h1.6m-1.1 0h1.6m7.9 0h1.6m-12.1 0.5h1.6m8.4 0h1.6m-13.1 0.5h1.6m0.4 0h1.6m-0.6 0h1.6m6.4 0h1.6m-16.1 0.5h1.6m0.4 0h1.6m0.9 0h1.6m1.4 0h1.6m5.4 0h1.6m-17.6 0.5h1.6m-0.1 0h1.6m12.9 0h1.6m-10.6 0.5h1.6m-2.1 0.5h1.6m-8.1 0.5h1.6m11.9 0h1.6m3.4 0h1.6m-18.6 0.5h1.6m1.9 0h1.6m3.9 0h1.6m-12.6 0.5h1.6m3.9 0h1.6m3.4 0h1.6m8.9 0h1.6m-18.1 0.5h1.6m6.4 0h1.6m-9.6 0.5h1.6m0.9 0h1.6m-9.1 0.5h1.6m12.9 0h1.6m-14.1 0.5h1.6m-0.1 0h1.6m-1.1 0h1.6m1.9 0h1.6m-0.6 0h1.6m1.4 0h1.6m-5.1 0.5h1.6m-1.1 0h1.6m2.9 0h1.6m-1.1 0h1.6m-9.1 0.5h1.6m-0.6 0h1.6m-1.1 0h1.6m-0.1 0h1.6m6.9 0h1.6m-12.6 0.5h1.6m-0.1 0h1.6m0.9 0h1.6m1.9 0h1.6m-9.1 0.5h1.6m4.4 0h1.6m1.4 0h1.6m-4.1 0.5h1.6m-17.1 0.5h1.6m7.9 0h1.6m-1.1 0h1.6m2.4 0h1.6m-0.6 0h1.6m-0.1 0h1.6m4.4 0h1.6m-14.1 0.5h1.6m2.9 0h1.6m1.4 0h1.6m-16.6 0.5h1.6m12.4 0h1.6m3.4 0h1.6m-16.1 0.5h1.6m-1.1 0h1.6m-1.1 0.5h1.6m-0.6 0h1.6m4.9 0h1.6m2.9 0h1.6m-15.6 0.5h1.6m5.9 0h1.6m1.4 0h1.6m-13.1 0.5h1.6m1.9 0h1.6m6.9 0h1.6m-14.6 0.5h1.6m5.9 0h1.6m0.9 0h1.6m1.9 0h1.6m-9.1 0.5h1.6m-0.6 0h1.6m-0.6 0h1.6m0.9 0h1.6m0.9 0h1.6m-0.1 0h1.6m-13.6 0.5h1.6m1.4 0h1.6m-1.1 0h1.6m4.4 0h1.6m2.9 0h1.6m-11.6 0.5h1.6m-7.1 0.5h1.6m-1.1 0h1.6m1.4 0h1.6m2.4 0h1.6m2.9 0h1.6m-1.1 0h1.6m-0.1 0h1.6m-17.1 0.5h1.6m0.9 0h1.6m6.9 0h1.6m0.4 0h1.6m-1.1 0h1.6m-11.1 0.5h1.6m0.9 0h1.6m-0.1 0h1.6m3.4 0h1.6m-0.1 0h1.6m-0.6 0h1.6m-17.1 0.5h1.6m13.4 0h1.6m-4.6 0.5h1.6m1.4 0h1.6m-1.1 0h1.6m-7.6 0.5h1.6m5.4 0h1.6m-0.6 0h1.6m0.4 0h1.6m-16.6 0.5h1.6m-1.1 0h1.6m2.4 0h1.6m-5.6 0.5h1.6m1.4 0h1.6m-0.1 0h1.6m-1.1 0h1.6m0.9 0h1.6m0.9 0h1.6m-0.1 0h1.6m-13.1 0.5h1.6m-0.1 0h1.6m0.9 0h1.6m2.4 0h1.6m-12.6 0.5h1.6m-0.1 0h1.6m3.4 0h1.6m-1.1 0h1.6m3.4 0h1.6m0.4 0h1.6m-11.6 0.5h1.6m3.9 0h1.6m-10.6 0.5h1.6m-0.6 0h1.6m0.4 0h1.6m-0.6 0h1.6m1.9 0h1.6m0.9 0h1.6m1.9 0h1.6m0.9 0h1.6m-11.1 0.5h1.6m-11.1 0.5h1.6m4.9 0h1.6m-0.1 0h1.6m-0.1 0h1.6m1.9 0h1.6m0.4 0h1.6m-14.6 0.5h1.6m1.9 0h1.6m-1.1 0h1.6m2.4 0h1.6m0.4 0h1.6m0.4 0h1.6m-10.6 0.5h1.6m-1.1 0h1.6m-1.1 0h1.6m-9.6 0.5h1.6m2.9 0h1.6m2.9 0h1.6m-0.1 0h1.6m2.9 0h1.6m-0.1 0h1.6m-14.6 0.5h1.6m-1.1 0h1.6m8.9 0h1.6m3.4 0h1.6m-17.6 0.5h1.6m-1.1 0h1.6m1.9 0h1.6m2.4 0h1.6m-0.6 0h1.6m-0.1 0h1.6m-1.1 0h1.6m4.4 0.5h1.6m-16.1 0.5h1.6m8.4 0h1.6m-9.1 0.5h1.6m-1.1 0h1.6m2.9 0h1.6m4.9 0h1.6m-17.6 0.5h1.6m3.9 0h1.6m2.4 0.5h1.6m4.9 0h1.6m2.4 0h1.6m-1.1 0h1.6m-21.1 0.5h1.6m-1.1 0h1.6m3.4 0h1.6m5.9 0h1.6m-16.1 0.5h1.6m4.9 0h1.6m0.4 0h1.6m-0.6 0h1.6m2.4 0h1.6m-14.6 0.5h1.6m1.4 0h1.6m0.9 0.5h1.6m10.4 0h1.6m-16.6 1h1.6m4.9 0h1.6m-0.6 0h1.6m-12.1 0.5h1.6m1.9 1h1.6m6.9 0h1.6m-3.6 0.5h1.6m-10.6 0.5h1.6m0.9 0h1.6m-4.6 0.5h1.6m-0.6 0h1.6m1.9 0h1.6m1.4 0h1.6m1.9 0.5h1.6m-13.1 0.5h1.6m2.9 0h1.6m9.4 0h1.6m-7.1 0.5h1.6m-2.6 0.5h1.6m-3.1 0.5h1.6m3.4 0h1.6m3.9 0.5h1.6m-9.1 0.5h1.6m0.9 0.5h1.6m-20.1 0.5h1.6m9.9 0h1.6m1.4 0.5h1.6m-4.1 0.5h1.6m-11.6 1h1.6m3.9 0h1.6m14.4 0.5h1.6m-12.6 0.5h1.6m-17.1 1h1.6m9.4 0h1.6m7.9 0.5h1.6m-5.6 2h1.6m-6.6 0.5h1.6m-5.1 0.5h1.6m11.9 1h1.6" stroke="#000" stroke-width="1.6"/>
<line x1="25.6" y1="576.3" x2="25.6" y2="531.9" stroke="#000" stroke-width="2.2"/>
<line x1="24.5" y1="576.3" x2="69.3" y2="576.3" stroke="#000" stroke-width="2.2"/>
<path d="M25.6 520.4L32.9 532.9L18.4 532.9Z" fill="#000"/>
<path d="M80.8 576.3L68.3 569L68.3 583.5Z" fill="#000"/>
<rect x="215.5" y="442.4" width="110.2" height="110.7" fill="none" stroke="#a0a0a0" stroke-width="1.1"/>
<text x="210.3" y="457" font-size="10.5" text-anchor="end" font-weight="bold">10<tspan dy="-5.6" font-size="10.5">5</tspan></text>
<text x="210.3" y="477" font-size="10.5" text-anchor="end" font-weight="bold">10<tspan dy="-5.6" font-size="10.5">4</tspan></text>
<text x="210.3" y="497.7" font-size="10.5" text-anchor="end" font-weight="bold">10<tspan dy="-5.6" font-size="10.5">3</tspan></text>
<text x="210.3" y="518.4" font-size="10.5" text-anchor="end" font-weight="bold">10<tspan dy="-5.6" font-size="10.5">2</tspan></text>
<text x="210.3" y="538.4" font-size="10.5" text-anchor="end" font-weight="bold">10<tspan dy="-5.6" font-size="10.5">1</tspan></text>
<text x="210.3" y="554.3" font-size="10.5" text-anchor="end" font-weight="bold">10<tspan dy="-5.6" font-size="10.5">0</tspan></text>
<text x="218.5" y="568" font-size="10.5" font-weight="bold">10<tspan dy="-5.6" font-size="10.5">0</tspan></text>
<text x="233" y="568" font-size="10.5" font-weight="bold">10<tspan dy="-5.6" font-size="10.5">1</tspan></text>
<text x="252.3" y="568" font-size="10.5" font-weight="bold">10<tspan dy="-5.6" font-size="10.5">2</tspan></text>
<text x="273" y="568" font-size="10.5" font-weight="bold">10<tspan dy="-5.6" font-size="10.5">3</tspan></text>
<text x="293.7" y="568" font-size="10.5" font-weight="bold">10<tspan dy="-5.6" font-size="10.5">4</tspan></text>
<text x="309.6" y="568" font-size="10.5" font-weight="bold">10<tspan dy="-5.6" font-size="10.5">5</tspan></text>
<path d="M283.5 463.3h1.6m14.9 0.5h1.6m-15.6 1.5h1.6m10.4 1.5h1.6m0.4 1h1.6m3.4 0h1.6m-9.1 2.5h1.6m-2.6 0.5h1.6m-10.6 2h1.6m-0.1 0h1.6m-1.6 0.5h1.6m2.4 0h1.6m-17.6 2.5h1.6m12.9 0.5h1.6m-0.6 0h1.6m-1.6 0.5h1.6m-0.6 0.5h1.6m-5.6 1h1.6m2.4 0h1.6m-7.1 0.5h1.6m13.4 1h1.6m-11.6 0.5h1.6m-13.6 0.5h1.6m6.4 0h1.6m0.4 0h1.6m-7.1 0.5h1.6m9.4 0h1.6m-5.1 1.5h1.6m-0.1 0h1.6m1.4 0h1.6m-9.6 1h1.6m7.4 0h1.6m-4.1 0.5h1.6m-2.6 1.5h1.6m-2.1 1.5h1.6m-13.1 0.5h1.6m0.9 1.5h1.6m-0.6 1h1.6m3.9 1.5h1.6m2.4 0.5h1.6m-11.6 1h1.6m3.4 1h1.6m-1.1 0h1.6m-0.1 0h1.6m-0.6 0h1.6m-4.1 0.5h1.6m1.4 0.5h1.6m2.9 0h1.6m-16.1 0.5h1.6m10.9 0h1.6m-3.1 0.5h1.6m4.9 0.5h1.6m-0.6 0.5h1.6m-15.1 0.5h1.6m-4.6 1h1.6m7.9 0h1.6m1.4 2h1.6m-8.1 3h1.6m-1.6 6h1.6" stroke="#000" stroke-width="1.6"/>
<text x="183" y="493.9" font-size="16.5" text-anchor="middle" transform="rotate(-90 183 493.9)" textLength="40.7" lengthAdjust="spacingAndGlyphs">CD44</text>
<text x="276.2" y="587.4" font-size="16.5" text-anchor="middle" textLength="50.7" lengthAdjust="spacingAndGlyphs">CD62L</text>
<line x1="184.6" y1="578.8" x2="184.6" y2="534" stroke="#000" stroke-width="2.2"/>
<line x1="183.5" y1="578.8" x2="227.2" y2="578.8" stroke="#000" stroke-width="2.2"/>
<path d="M184.6 522.5L191.8 535L177.3 535Z" fill="#000"/>
<path d="M238.7 578.8L226.2 571.5L226.2 586Z" fill="#000"/>
<line x1="140.1" y1="461.8" x2="183" y2="461.8" stroke="#000" stroke-width="2.2"/>
<path d="M194.5 461.8L182 454.8L182 468.8Z" fill="#000"/>
<rect x="383.5" y="442.4" width="110.8" height="110.8" fill="none" stroke="#a0a0a0" stroke-width="1.1"/>
<text x="378.3" y="458.4" font-size="10.5" text-anchor="end" font-weight="bold">10<tspan dy="-5.6" font-size="10.5">5</tspan></text>
<text x="378.3" y="483.9" font-size="10.5" text-anchor="end" font-weight="bold">10<tspan dy="-5.6" font-size="10.5">4</tspan></text>
<text x="378.3" y="512.2" font-size="10.5" text-anchor="end" font-weight="bold">10<tspan dy="-5.6" font-size="10.5">3</tspan></text>
<text x="372.5" y="536.2" font-size="10.5" text-anchor="end" font-weight="bold">0</text>
<rect x="380.5" y="528.2" width="3" height="8" fill="#222"/>
<text x="393.9" y="568" font-size="10.5" text-anchor="middle" font-weight="bold">0</text>
<text x="433.3" y="568" font-size="10.5" font-weight="bold">10<tspan dy="-5.6" font-size="10.5">3</tspan></text>
<text x="458.9" y="568" font-size="10.5" font-weight="bold">10<tspan dy="-5.6" font-size="10.5">4</tspan></text>
<text x="481.7" y="568" font-size="10.5" font-weight="bold">10<tspan dy="-5.6" font-size="10.5">5</tspan></text>
<path d="M434.3 442.3H494.3V510.8H434.3Z" fill="none" stroke="#555" stroke-width="1.1"/>
<text x="386" y="461" font-size="13.5" fill="#222">CD8<tspan dy="-4" font-size="8">+</tspan><tspan dy="4">HDR</tspan><tspan dy="-4" font-size="8">+</tspan></text>
<text x="356.5" y="479.2" font-size="16.5" text-anchor="middle" transform="rotate(-90 356.5 479.2)">HDR-Tet</text>
<text x="435.5" y="585.3" font-size="16.5" text-anchor="middle" textLength="32.4" lengthAdjust="spacingAndGlyphs">CD8</text>
<ellipse cx="449" cy="530.5" rx="10.5" ry="20.5" fill="#000"/>
<path d="M441 466.8h1.6m6.4 4h1.6m0.4 3.5h1.6m1.9 2.5h1.6m-9.1 1.5h1.6m-1.1 2.5h1.6m0.4 3h1.6m3.4 0h1.6m0.4 2h1.6m-5.6 2.5h1.6m2.9 3h1.6m-7.1 2h1.6m-0.1 0.5h1.6m-5.6 2.5h1.6m6.9 1h1.6m-6.1 1h1.6m-1.1 3.5h1.6m-12.6 0.5h1.6m7.4 0.5h1.6m-7.6 1.5h1.6m7.4 1h1.6m-13.6 2h1.6m5.4 1h1.6m-6.6 1h1.6m3.9 1h1.6m-7.1 0.5h1.6m11.9 0h1.6m-9.6 0.5h1.6m-0.6 0.5h1.6m0.4 0h1.6m-14.6 0.5h1.6m5.9 0.5h1.6m-0.1 0.5h1.6m-5.1 1h1.6m1.4 0.5h1.6m-10.6 0.5h1.6m2.4 0.5h1.6m11.9 0h1.6m-17.1 0.5h1.6m9.4 0h1.6m2.9 0h1.6m-14.1 1h1.6m-1.1 0h1.6m16.4 0h1.6m-21.6 0.5h1.6m6.9 0h1.6m0.9 0.5h1.6m0.9 0h1.6m-20.1 0.5h1.6m7.9 0h1.6m-1.1 0h1.6m1.4 0h1.6m-0.6 0h1.6m3.4 0h1.6m-18.1 0.5h1.6m1.9 0h1.6m4.4 0h1.6m-0.6 0h1.6m2.4 0h1.6m4.9 0h1.6m-10.1 0.5h1.6m5.9 0h1.6m-18.1 0.5h1.6m1.4 0h1.6m-1.1 0h1.6m0.4 0h1.6m5.4 0h1.6m-26.6 0.5h1.6m11.9 0h1.6m0.9 0h1.6m-0.1 0h1.6m6.9 0h1.6m-16.1 0.5h1.6m1.4 0h1.6m0.9 0h1.6m-1.1 0h1.6m3.9 0h1.6m-15.6 0.5h1.6m0.4 0h1.6m3.9 0h1.6m-1.1 0h1.6m1.4 0h1.6m2.9 0h1.6m6.4 0h1.6m-15.1 0.5h1.6m-1.1 0h1.6m1.4 0h1.6m1.4 0h1.6m-15.6 0.5h1.6m0.4 0h1.6m3.4 0h1.6m-0.1 0h1.6m-0.6 0h1.6m7.9 0h1.6m-30.6 0.5h1.6m3.9 0h1.6m-0.6 0h1.6m6.9 0h1.6m0.9 0h1.6m-0.6 0h1.6m-0.6 0h1.6m-20.6 0.5h1.6m10.4 0h1.6m2.4 0h1.6m2.4 0h1.6m-16.6 0.5h1.6m3.9 0h1.6m0.4 0h1.6m1.4 0h1.6m0.4 0h1.6m6.9 0h1.6m-23.1 0.5h1.6m-0.6 0h1.6m3.4 0h1.6m3.9 0.5h1.6m12.9 0h1.6m-19.6 0.5h1.6m0.9 0h1.6m-0.1 0h1.6m0.4 0h1.6m-12.1 0.5h1.6m-0.6 0h1.6m-0.1 0h1.6m0.9 0h1.6m1.9 0h1.6m-0.6 0h1.6m-0.1 0h1.6m-9.1 0.5h1.6m0.4 0h1.6m3.4 0h1.6m1.9 0h1.6m-14.1 0.5h1.6m7.4 0h1.6m-0.1 0h1.6m-14.1 0.5h1.6m0.4 0h1.6m1.4 0h1.6m1.4 0h1.6m2.9 0h1.6m-17.1 0.5h1.6m3.4 0h1.6m5.4 0h1.6m-1.1 0h1.6m-0.1 0h1.6m-1.1 0h1.6m0.9 0h1.6m-0.6 0h1.6m-18.6 0.5h1.6m0.4 0h1.6m4.4 0h1.6m-1.1 0h1.6m2.4 0h1.6m-0.1 0h1.6m0.4 0h1.6m-23.1 0.5h1.6m10.9 0h1.6m1.9 0h1.6m0.4 0h1.6m1.9 0h1.6m2.9 0h1.6m-18.6 0.5h1.6m-1.1 0h1.6m1.9 0h1.6m6.4 0h1.6m-0.6 0h1.6m-14.1 0.5h1.6m-0.6 0h1.6m-1.1 0h1.6m7.4 0h1.6m3.9 0h1.6m-10.6 0.5h1.6m-1.1 0h1.6m0.9 0h1.6m-0.6 0h1.6m0.9 0h1.6m1.4 0h1.6m-26.6 0.5h1.6m11.4 0h1.6m0.4 0h1.6m-0.6 0h1.6m1.9 0h1.6m-8.6 0.5h1.6m0.9 0h1.6m0.4 0h1.6m6.4 0h1.6m-20.1 0.5h1.6m0.4 0h1.6m-0.6 0h1.6m-1.1 0h1.6m1.4 0h1.6m0.4 0h1.6m-1.1 0h1.6m0.4 0h1.6m-0.1 0h1.6m5.4 0h1.6m-19.1 0.5h1.6m-0.1 0h1.6m0.4 0h1.6m2.9 0h1.6m-16.6 0.5h1.6m0.9 0h1.6m0.4 0h1.6m7.4 0h1.6m-1.1 0h1.6m0.4 0h1.6m-0.1 0h1.6m2.4 0h1.6m4.4 0h1.6m-20.6 0.5h1.6m0.9 0h1.6m3.9 0h1.6m1.9 0h1.6m-19.1 0.5h1.6m-1.1 0h1.6m-0.1 0h1.6m1.9 0h1.6m1.9 0h1.6m-0.1 0h1.6m-0.6 0h1.6m0.9 0h1.6m0.9 0h1.6m-1.1 0h1.6m-0.6 0h1.6m-13.6 0.5h1.6m-1.1 0h1.6m2.9 0h1.6m0.9 0h1.6m-0.6 0h1.6m-7.1 0.5h1.6m1.4 0h1.6m1.9 0h1.6m-16.6 0.5h1.6m8.9 0h1.6m0.9 0h1.6m-0.1 0h1.6m0.4 0h1.6m-24.1 0.5h1.6m12.4 0h1.6m2.9 0h1.6m0.9 0h1.6m-9.1 0.5h1.6m5.4 0h1.6m-14.1 0.5h1.6m1.4 0h1.6m0.4 0h1.6m-0.1 0h1.6m-1.1 0h1.6m-0.1 0h1.6m0.4 0h1.6m-0.1 0h1.6m0.4 0h1.6m-0.6 0h1.6m-7.1 0.5h1.6m-0.6 0.5h1.6m-0.6 0h1.6m2.4 0h1.6m-16.6 0.5h1.6m10.4 0h1.6m-0.6 0h1.6m-10.6 0.5h1.6m2.9 0h1.6m7.4 0h1.6m-18.1 0.5h1.6m0.4 0h1.6m0.9 0h1.6m0.4 0h1.6m-20.1 0.5h1.6m12.9 0h1.6m-1.1 0h1.6m1.4 0h1.6m-0.6 0h1.6m-0.6 0h1.6m-0.6 0h1.6m-5.6 0.5h1.6m-0.1 0h1.6m-0.1 0h1.6m2.9 0h1.6m-16.6 0.5h1.6m13.9 0h1.6m2.4 0h1.6m-19.6 0.5h1.6m0.9 0h1.6m1.4 0h1.6m-5.6 0.5h1.6m-0.6 0h1.6m-0.6 0h1.6m-1.1 0h1.6m-0.6 0h1.6m-0.6 0h1.6m0.4 0h1.6m1.4 0h1.6m0.9 0h1.6m0.9 0h1.6m-0.6 0h1.6m-25.6 0.5h1.6m18.9 0h1.6m-0.1 0h1.6m-16.1 0.5h1.6m-1.1 0h1.6m0.9 0h1.6m2.4 0h1.6m0.9 0h1.6m-1.1 0h1.6m-17.1 0.5h1.6m6.4 0h1.6m0.9 0h1.6m-11.1 0.5h1.6m8.9 0h1.6m4.4 0h1.6m-13.1 0.5h1.6m7.4 0h1.6m-7.1 0.5h1.6m5.9 0h1.6m-2.1 0.5h1.6m-5.1 0.5h1.6m-8.1 0.5h1.6m6.4 0h1.6m-4.6 0.5h1.6m2.4 0h1.6m-0.6 0h1.6m2.9 0h1.6m-15.1 0.5h1.6m6.4 0h1.6m4.4 0h1.6m1.9 0h1.6m-1.1 0.5h1.6m-12.6 0.5h1.6m-10.6 0.5h1.6m9.9 0h1.6m-3.1 0.5h1.6m-9.1 0.5h1.6m-0.6 0h1.6m-10.6 0.5h1.6m13.4 0h1.6m-9.6 1h1.6m13.4 0h1.6" stroke="#000" stroke-width="1.6"/>
<ellipse cx="449.5" cy="530.5" rx="5.5" ry="13" fill="#888"/>
<ellipse cx="449.5" cy="530.5" rx="4.1" ry="9.8" fill="none" stroke="#333" stroke-width="0.5"/>
<ellipse cx="449.5" cy="530.5" rx="2.8" ry="6.5" fill="none" stroke="#333" stroke-width="0.5"/>
<ellipse cx="449.5" cy="530.5" rx="1.4" ry="3.2" fill="none" stroke="#333" stroke-width="0.5"/>
<line x1="352.5" y1="576.3" x2="352.5" y2="531.9" stroke="#000" stroke-width="2.2"/>
<line x1="351.4" y1="576.3" x2="396.2" y2="576.3" stroke="#000" stroke-width="2.2"/>
<path d="M352.5 520.4L359.8 532.9L345.2 532.9Z" fill="#000"/>
<path d="M407.7 576.3L395.2 569L395.2 583.5Z" fill="#000"/>
<rect x="541.7" y="442.4" width="111.1" height="110.7" fill="none" stroke="#a0a0a0" stroke-width="1.1"/>
<text x="536.5" y="457" font-size="10.5" text-anchor="end" font-weight="bold">10<tspan dy="-5.6" font-size="10.5">5</tspan></text>
<text x="536.5" y="477" font-size="10.5" text-anchor="end" font-weight="bold">10<tspan dy="-5.6" font-size="10.5">4</tspan></text>
<text x="536.5" y="497.7" font-size="10.5" text-anchor="end" font-weight="bold">10<tspan dy="-5.6" font-size="10.5">3</tspan></text>
<text x="536.5" y="518.4" font-size="10.5" text-anchor="end" font-weight="bold">10<tspan dy="-5.6" font-size="10.5">2</tspan></text>
<text x="536.5" y="538.4" font-size="10.5" text-anchor="end" font-weight="bold">10<tspan dy="-5.6" font-size="10.5">1</tspan></text>
<text x="536.5" y="554.3" font-size="10.5" text-anchor="end" font-weight="bold">10<tspan dy="-5.6" font-size="10.5">0</tspan></text>
<text x="544.7" y="568" font-size="10.5" font-weight="bold">10<tspan dy="-5.6" font-size="10.5">0</tspan></text>
<text x="559.2" y="568" font-size="10.5" font-weight="bold">10<tspan dy="-5.6" font-size="10.5">1</tspan></text>
<text x="578.5" y="568" font-size="10.5" font-weight="bold">10<tspan dy="-5.6" font-size="10.5">2</tspan></text>
<text x="599.2" y="568" font-size="10.5" font-weight="bold">10<tspan dy="-5.6" font-size="10.5">3</tspan></text>
<text x="619.9" y="568" font-size="10.5" font-weight="bold">10<tspan dy="-5.6" font-size="10.5">4</tspan></text>
<text x="635.8" y="568" font-size="10.5" font-weight="bold">10<tspan dy="-5.6" font-size="10.5">5</tspan></text>
<path d="M614 473.8h1.6m6.4 1.5h1.6m-0.1 1.5h1.6m-12.1 0.5h1.6m-1.1 1h1.6m-0.6 1h1.6m2.4 0h1.6m3.4 2h1.6m-0.1 4.5h1.6m-2.6 2h1.6m-5.6 0.5h1.6m-0.6 2h1.6m-9.6 9.5h1.6m3.4 5h1.6m-3.6 4.5h1.6m2.4 6h1.6m-0.1 0h1.6m2.4 0h1.6m-1.6 1h1.6" stroke="#000" stroke-width="1.6"/>
<text x="509.2" y="493.9" font-size="16.5" text-anchor="middle" transform="rotate(-90 509.2 493.9)" textLength="40.7" lengthAdjust="spacingAndGlyphs">CD44</text>
<text x="602.4" y="587.4" font-size="16.5" text-anchor="middle" textLength="50.7" lengthAdjust="spacingAndGlyphs">CD62L</text>
<line x1="510.8" y1="578.8" x2="510.8" y2="534" stroke="#000" stroke-width="2.2"/>
<line x1="509.7" y1="578.8" x2="553.4" y2="578.8" stroke="#000" stroke-width="2.2"/>
<path d="M510.8 522.5L518.1 535L503.6 535Z" fill="#000"/>
<path d="M564.9 578.8L552.4 571.5L552.4 586Z" fill="#000"/>
<line x1="456.5" y1="461.8" x2="499.7" y2="461.8" stroke="#000" stroke-width="2.2"/>
<path d="M511.2 461.8L498.7 454.8L498.7 468.8Z" fill="#000"/>
<rect x="712.2" y="442.4" width="110.8" height="110.8" fill="none" stroke="#a0a0a0" stroke-width="1.1"/>
<text x="707" y="458.4" font-size="10.5" text-anchor="end" font-weight="bold">10<tspan dy="-5.6" font-size="10.5">5</tspan></text>
<text x="707" y="483.9" font-size="10.5" text-anchor="end" font-weight="bold">10<tspan dy="-5.6" font-size="10.5">4</tspan></text>
<text x="707" y="512.2" font-size="10.5" text-anchor="end" font-weight="bold">10<tspan dy="-5.6" font-size="10.5">3</tspan></text>
<text x="707" y="537.8" font-size="10.5" text-anchor="end" font-weight="bold">10<tspan dy="-5.6" font-size="10.5">2</tspan></text>
<text x="701.2" y="549" font-size="10.5" text-anchor="end" font-weight="bold">0</text>
<rect x="709.2" y="541" width="3" height="8" fill="#222"/>
<text x="722.6" y="568" font-size="10.5" text-anchor="middle" font-weight="bold">0</text>
<text x="762" y="568" font-size="10.5" font-weight="bold">10<tspan dy="-5.6" font-size="10.5">3</tspan></text>
<text x="787.6" y="568" font-size="10.5" font-weight="bold">10<tspan dy="-5.6" font-size="10.5">4</tspan></text>
<text x="810.4" y="568" font-size="10.5" font-weight="bold">10<tspan dy="-5.6" font-size="10.5">5</tspan></text>
<path d="M753.4 447H823V517.4H753.4Z" fill="none" stroke="#555" stroke-width="1.1"/>
<text x="714.7" y="461" font-size="13.5" fill="#222">CD8<tspan dy="-4" font-size="8">+</tspan><tspan dy="4">SMRP</tspan><tspan dy="-4" font-size="8">+</tspan></text>
<text x="685.2" y="479.2" font-size="16.5" text-anchor="middle" transform="rotate(-90 685.2 479.2)">SMRP-Tet</text>
<text x="764.2" y="585.3" font-size="16.5" text-anchor="middle" textLength="32.4" lengthAdjust="spacingAndGlyphs">CD8</text>
<rect x="765.6" y="518.7" width="22.2" height="28.6" rx="5" fill="#000"/>
<path d="M781 464.8h1.6m-13.6 11h1.6m14.9 8h1.6m-2.1 1.5h1.6m-8.1 0.5h1.6m-0.1 0h1.6m5.4 1h1.6m-0.1 0h1.6m-19.6 1.5h1.6m10.9 0h1.6m-14.1 2.5h1.6m18.9 0h1.6m-18.6 2h1.6m-3.6 0.5h1.6m0.4 3h1.6m8.4 0.5h1.6m2.9 0h1.6m-15.6 0.5h1.6m14.4 0h1.6m-20.6 0.5h1.6m14.4 0h1.6m-11.1 1h1.6m15.4 1h1.6m-6.6 1h1.6m-3.6 1h1.6m-0.1 1.5h1.6m-13.1 0.5h1.6m2.9 1h1.6m-10.1 1.5h1.6m10.4 0.5h1.6m-12.1 1h1.6m-2.1 0.5h1.6m-6.1 0.5h1.6m17.4 2h1.6m-9.1 1h1.6m-4.6 1h1.6m0.9 0.5h1.6m-5.6 0.5h1.6m-0.6 0.5h1.6m-2.6 0.5h1.6m7.9 0.5h1.6m-23.1 0.5h1.6m17.4 0h1.6m-8.1 1h1.6m-1.6 0.5h1.6m1.9 0h1.6m8.9 0.5h1.6m-25.6 0.5h1.6m-0.6 0h1.6m7.4 0h1.6m0.9 0h1.6m1.4 0h1.6m-14.1 0.5h1.6m1.9 0h1.6m9.9 0h1.6m-20.6 0.5h1.6m2.9 0h1.6m-4.6 0.5h1.6m4.4 0h1.6m-2.6 0.5h1.6m2.9 0h1.6m-0.6 0.5h1.6m-0.1 0h1.6m-0.6 0.5h1.6m-19.1 0.5h1.6m9.4 0h1.6m10.4 0h1.6m-17.1 0.5h1.6m7.4 0h1.6m-3.6 0.5h1.6m-1.1 0h1.6m0.4 0h1.6m-8.1 0.5h1.6m2.4 0h1.6m7.4 0h1.6m4.9 0h1.6m-26.6 0.5h1.6m4.4 0.5h1.6m1.4 0h1.6m1.9 0h1.6m0.4 0h1.6m-21.1 0.5h1.6m6.9 0h1.6m2.4 0h1.6m0.9 0h1.6m0.4 0h1.6m-22.6 0.5h1.6m15.9 0h1.6m-1.1 0h1.6m-0.6 0h1.6m-5.1 0.5h1.6m2.9 0h1.6m-1.1 0h1.6m-0.1 0h1.6m-15.1 0.5h1.6m5.4 0h1.6m-1.1 0h1.6m0.9 0h1.6m-0.1 0h1.6m-1.1 0h1.6m-0.1 0h1.6m2.4 0h1.6m-16.6 0.5h1.6m3.9 0h1.6m-1.1 0h1.6m2.9 0h1.6m4.4 0h1.6m-23.6 0.5h1.6m1.4 0h1.6m-0.1 0h1.6m-0.1 0.5h1.6m0.4 0h1.6m-0.6 0h1.6m0.4 0h1.6m4.4 0h1.6m-0.1 0h1.6m-19.1 0.5h1.6m2.4 0h1.6m-0.6 0h1.6m-0.6 0h1.6m10.9 0h1.6m0.9 0h1.6m-21.6 0.5h1.6m1.9 0h1.6m1.4 0h1.6m-1.1 0h1.6m-1.1 0h1.6m0.4 0h1.6m1.4 0h1.6m-0.6 0h1.6m0.9 0h1.6m0.9 0h1.6m-14.6 0.5h1.6m-1.1 0h1.6m-0.1 0h1.6m-1.1 0h1.6m-1.1 0h1.6m5.9 0h1.6m-16.1 0.5h1.6m0.9 0h1.6m2.9 0h1.6m0.9 0h1.6m2.9 0h1.6m-1.1 0h1.6m-17.1 0.5h1.6m0.4 0h1.6m-0.1 0h1.6m3.4 0h1.6m-1.1 0h1.6m-0.6 0h1.6m-12.6 0.5h1.6m4.4 0h1.6m0.4 0h1.6m3.9 0h1.6m1.9 0h1.6m-0.1 0h1.6m-19.6 0.5h1.6m-1.1 0h1.6m-1.1 0h1.6m0.9 0h1.6m5.4 0h1.6m-0.6 0h1.6m0.4 0h1.6m3.9 0h1.6m-19.6 0.5h1.6m-0.6 0h1.6m1.4 0h1.6m0.4 0h1.6m-1.1 0h1.6m0.9 0h1.6m-0.1 0h1.6m0.9 0h1.6m2.9 0h1.6m-19.6 0.5h1.6m-1.1 0h1.6m1.9 0h1.6m4.9 0h1.6m-0.6 0h1.6m-11.1 0.5h1.6m-0.1 0h1.6m8.9 0h1.6m-0.6 0h1.6m-1.1 0h1.6m-15.1 0.5h1.6m-0.6 0h1.6m0.9 0h1.6m-0.1 0h1.6m-1.1 0h1.6m2.4 0h1.6m-0.6 0h1.6m-0.1 0h1.6m8.9 0h1.6m-31.6 0.5h1.6m5.4 0h1.6m0.9 0h1.6m1.4 0h1.6m1.9 0h1.6m4.4 0h1.6m0.4 0h1.6m-20.1 0.5h1.6m-0.1 0h1.6m0.4 0h1.6m0.9 0h1.6m-0.6 0h1.6m-0.6 0h1.6m3.4 0h1.6m2.4 0h1.6m-12.6 0.5h1.6m-0.6 0h1.6m-0.1 0h1.6m0.9 0h1.6m1.4 0h1.6m-1.1 0h1.6m1.9 0h1.6m4.9 0h1.6m-28.6 0.5h1.6m-0.6 0h1.6m3.9 0h1.6m-0.6 0h1.6m4.9 0h1.6m-0.6 0h1.6m-0.1 0h1.6m1.4 0h1.6m-0.6 0h1.6m-23.6 0.5h1.6m0.4 0h1.6m-1.1 0h1.6m5.4 0h1.6m-1.1 0h1.6m-0.6 0h1.6m1.4 0h1.6m-1.1 0h1.6m-0.1 0h1.6m-1.1 0h1.6m-19.1 0.5h1.6m9.4 0h1.6m0.4 0h1.6m-1.1 0h1.6m-0.1 0h1.6m-1.1 0h1.6m-0.6 0h1.6m-0.1 0h1.6m-0.6 0h1.6m-0.1 0h1.6m-0.6 0h1.6m-19.6 0.5h1.6m-1.1 0h1.6m5.4 0h1.6m-1.1 0h1.6m0.4 0h1.6m-0.6 0h1.6m-1.1 0h1.6m-0.1 0h1.6m-1.1 0h1.6m-1.1 0h1.6m2.9 0h1.6m-0.6 0h1.6m-1.1 0h1.6m-22.1 0.5h1.6m2.4 0h1.6m0.4 0h1.6m5.9 0h1.6m0.4 0h1.6m3.9 0h1.6m-23.1 0.5h1.6m-1.1 0h1.6m0.4 0h1.6m-0.1 0h1.6m-0.1 0h1.6m1.4 0h1.6m6.9 0h1.6m4.9 0h1.6m-24.1 0.5h1.6m5.4 0h1.6m-1.1 0h1.6m0.4 0h1.6m-1.1 0h1.6m3.4 0h1.6m-9.1 0.5h1.6m-0.1 0h1.6m0.4 0h1.6m-1.1 0h1.6m-0.6 0h1.6m3.4 0h1.6m-0.1 0h1.6m-15.1 0.5h1.6m1.4 0h1.6m-1.1 0h1.6m-1.1 0h1.6m1.9 0h1.6m0.9 0h1.6m-0.6 0h1.6m-0.6 0h1.6m4.4 0h1.6m-21.6 0.5h1.6m-1.1 0h1.6m1.4 0h1.6m-0.6 0h1.6m5.9 0h1.6m-0.1 0h1.6m2.4 0h1.6m-24.6 0.5h1.6m5.9 0h1.6m-1.1 0h1.6m3.4 0h1.6m-8.1 0.5h1.6m3.4 0h1.6m-0.6 0h1.6m1.4 0h1.6m-0.6 0h1.6m-17.6 0.5h1.6m-0.6 0h1.6m2.9 0h1.6m7.4 0h1.6m0.9 0h1.6m-5.6 0.5h1.6m-5.1 0.5h1.6m-8.1 0.5h1.6m6.4 0h1.6m7.4 0h1.6m-16.6 0.5h1.6m6.9 0h1.6m-1.1 0h1.6m-1.6 0.5h1.6m-10.6 0.5h1.6m3.4 0h1.6m3.4 0h1.6m3.4 0h1.6m-12.6 0.5h1.6m-2.1 0.5h1.6m4.9 0h1.6m-5.6 1.5h1.6m-1.1 0h1.6m0.9 0.5h1.6m-4.6 0.5h1.6m2.9 1h1.6m-9.1 0.5h1.6" stroke="#000" stroke-width="1.6"/>
<ellipse cx="777" cy="532" rx="6" ry="10" fill="#888"/>
<ellipse cx="777" cy="532" rx="4.5" ry="7.5" fill="none" stroke="#333" stroke-width="0.5"/>
<ellipse cx="777" cy="532" rx="3" ry="5" fill="none" stroke="#333" stroke-width="0.5"/>
<ellipse cx="777" cy="532" rx="1.5" ry="2.5" fill="none" stroke="#333" stroke-width="0.5"/>
<line x1="681.2" y1="576.3" x2="681.2" y2="531.9" stroke="#000" stroke-width="2.2"/>
<line x1="680.1" y1="576.3" x2="724.9" y2="576.3" stroke="#000" stroke-width="2.2"/>
<path d="M681.2 520.4L688.5 532.9L674 532.9Z" fill="#000"/>
<path d="M736.4 576.3L723.9 569L723.9 583.5Z" fill="#000"/>
<rect x="868.6" y="442.4" width="110.8" height="110.7" fill="none" stroke="#a0a0a0" stroke-width="1.1"/>
<text x="863.4" y="457" font-size="10.5" text-anchor="end" font-weight="bold">10<tspan dy="-5.6" font-size="10.5">5</tspan></text>
<text x="863.4" y="477" font-size="10.5" text-anchor="end" font-weight="bold">10<tspan dy="-5.6" font-size="10.5">4</tspan></text>
<text x="863.4" y="497.7" font-size="10.5" text-anchor="end" font-weight="bold">10<tspan dy="-5.6" font-size="10.5">3</tspan></text>
<text x="863.4" y="518.4" font-size="10.5" text-anchor="end" font-weight="bold">10<tspan dy="-5.6" font-size="10.5">2</tspan></text>
<text x="863.4" y="538.4" font-size="10.5" text-anchor="end" font-weight="bold">10<tspan dy="-5.6" font-size="10.5">1</tspan></text>
<text x="863.4" y="554.3" font-size="10.5" text-anchor="end" font-weight="bold">10<tspan dy="-5.6" font-size="10.5">0</tspan></text>
<text x="871.6" y="568" font-size="10.5" font-weight="bold">10<tspan dy="-5.6" font-size="10.5">0</tspan></text>
<text x="886.1" y="568" font-size="10.5" font-weight="bold">10<tspan dy="-5.6" font-size="10.5">1</tspan></text>
<text x="905.4" y="568" font-size="10.5" font-weight="bold">10<tspan dy="-5.6" font-size="10.5">2</tspan></text>
<text x="926.1" y="568" font-size="10.5" font-weight="bold">10<tspan dy="-5.6" font-size="10.5">3</tspan></text>
<text x="946.8" y="568" font-size="10.5" font-weight="bold">10<tspan dy="-5.6" font-size="10.5">4</tspan></text>
<text x="962.7" y="568" font-size="10.5" font-weight="bold">10<tspan dy="-5.6" font-size="10.5">5</tspan></text>
<path d="M945.5 474.8h1.6m3.4 1.5h1.6m-4.1 0.5h1.6m-8.1 1.5h1.6m7.4 1h1.6m-13.1 1h1.6m3.9 1h1.6m0.4 1.5h1.6m-2.1 2.5h1.6m0.9 0h1.6m-1.6 3.5h1.6m-11.1 2.5h1.6m6.9 2h1.6m1.4 0h1.6m-2.1 3h1.6m-11.6 5.5h1.6m5.4 0.5h1.6m-6.6 0.5h1.6m5.9 2.5h1.6m-0.1 0.5h1.6" stroke="#000" stroke-width="1.6"/>
<text x="836.1" y="493.9" font-size="16.5" text-anchor="middle" transform="rotate(-90 836.1 493.9)" textLength="40.7" lengthAdjust="spacingAndGlyphs">CD44</text>
<text x="929.3" y="587.4" font-size="16.5" text-anchor="middle" textLength="50.7" lengthAdjust="spacingAndGlyphs">CD62L</text>
<line x1="837.7" y1="578.8" x2="837.7" y2="534" stroke="#000" stroke-width="2.2"/>
<line x1="836.6" y1="578.8" x2="880.3" y2="578.8" stroke="#000" stroke-width="2.2"/>
<path d="M837.7 522.5L845 535L830.5 535Z" fill="#000"/>
<path d="M891.8 578.8L879.3 571.5L879.3 586Z" fill="#000"/>
<line x1="800.8" y1="461.8" x2="844.1" y2="461.8" stroke="#000" stroke-width="2.2"/>
<path d="M855.6 461.8L843.1 454.8L843.1 468.8Z" fill="#000"/>
<rect x="1038.8" y="442.4" width="110.9" height="110.8" fill="none" stroke="#a0a0a0" stroke-width="1.1"/>
<text x="1033.6" y="458.4" font-size="10.5" text-anchor="end" font-weight="bold">10<tspan dy="-5.6" font-size="10.5">5</tspan></text>
<text x="1033.6" y="483.9" font-size="10.5" text-anchor="end" font-weight="bold">10<tspan dy="-5.6" font-size="10.5">4</tspan></text>
<text x="1033.6" y="512.2" font-size="10.5" text-anchor="end" font-weight="bold">10<tspan dy="-5.6" font-size="10.5">3</tspan></text>
<text x="1027.8" y="536.2" font-size="10.5" text-anchor="end" font-weight="bold">0</text>
<rect x="1035.8" y="528.2" width="3" height="8" fill="#222"/>
<text x="1049.2" y="568" font-size="10.5" text-anchor="middle" font-weight="bold">0</text>
<text x="1088.6" y="568" font-size="10.5" font-weight="bold">10<tspan dy="-5.6" font-size="10.5">3</tspan></text>
<text x="1114.2" y="568" font-size="10.5" font-weight="bold">10<tspan dy="-5.6" font-size="10.5">4</tspan></text>
<text x="1137" y="568" font-size="10.5" font-weight="bold">10<tspan dy="-5.6" font-size="10.5">5</tspan></text>
<path d="M1088.6 442.3H1149.7V511.4H1088.6Z" fill="none" stroke="#555" stroke-width="1.1"/>
<text x="1041.3" y="461" font-size="13.5" fill="#222">CD8<tspan dy="-4" font-size="8">+</tspan><tspan dy="4">ASR</tspan><tspan dy="-4" font-size="8">+</tspan></text>
<text x="1011.8" y="479.2" font-size="16.5" text-anchor="middle" transform="rotate(-90 1011.8 479.2)">ASR-Tet</text>
<text x="1090.8" y="585.3" font-size="16.5" text-anchor="middle" textLength="32.4" lengthAdjust="spacingAndGlyphs">CD8</text>
<ellipse cx="1101.5" cy="531.5" rx="9.5" ry="20.5" fill="#000"/>
<path d="M1109 447.8h1.6m-10.6 5h1.6m-4.6 4h1.6m4.9 8h1.6m10.4 2h1.6m-4.1 1h1.6m-18.6 1h1.6m16.4 0.5h1.6m-3.1 1.5h1.6m-15.6 0.5h1.6m8.9 0.5h1.6m4.4 2h1.6m-7.6 0.5h1.6m-0.6 1h1.6m1.9 1h1.6m-21.6 0.5h1.6m5.4 1h1.6m-2.6 2h1.6m18.4 0h1.6m-27.6 1h1.6m-0.6 0h1.6m13.4 1.5h1.6m-17.6 1h1.6m13.9 0h1.6m-14.1 0.5h1.6m6.9 0h1.6m-0.6 0h1.6m0.4 0h1.6m-8.6 0.5h1.6m-9.1 1.5h1.6m2.4 2.5h1.6m5.9 0h1.6m0.9 1h1.6m6.9 3h1.6m-13.1 0.5h1.6m0.9 1h1.6m-13.1 1.5h1.6m21.9 0h1.6m-22.6 0.5h1.6m-1.1 1.5h1.6m12.9 0.5h1.6m3.4 1h1.6m-22.1 2h1.6m5.9 0h1.6m-8.6 0.5h1.6m19.9 2h1.6m-22.1 1h1.6m-1.6 1.5h1.6m10.4 0.5h1.6m-14.1 1h1.6m4.9 0h1.6m-1.6 2h1.6m-2.1 0.5h1.6m-8.6 1.5h1.6m6.4 0.5h1.6m-13.1 1h1.6m12.4 0h1.6m-4.1 1.5h1.6m-16.6 0.5h1.6m7.9 0h1.6m3.4 0h1.6m-2.1 0.5h1.6m-8.6 0.5h1.6m2.4 0.5h1.6m-1.1 0h1.6m-3.1 1h1.6m-3.6 0.5h1.6m5.9 0h1.6m-12.6 0.5h1.6m5.4 0h1.6m2.9 0h1.6m-12.6 0.5h1.6m1.4 0h1.6m3.9 0h1.6m-7.1 0.5h1.6m0.4 0h1.6m0.9 0h1.6m1.4 0h1.6m2.4 0h1.6m-19.1 0.5h1.6m7.9 0h1.6m2.9 0h1.6m2.9 0h1.6m-16.1 0.5h1.6m6.9 0h1.6m-11.6 0.5h1.6m1.4 0h1.6m-1.1 0h1.6m0.4 0h1.6m1.4 0h1.6m-0.6 0h1.6m-0.1 0h1.6m0.4 0h1.6m-17.1 0.5h1.6m-0.1 0h1.6m4.9 0h1.6m-0.1 0h1.6m2.9 0h1.6m-21.1 0.5h1.6m13.9 0h1.6m-0.6 0h1.6m-8.6 0.5h1.6m4.9 0h1.6m-0.6 0h1.6m-1.1 0h1.6m-9.6 0.5h1.6m7.4 0h1.6m-1.1 0h1.6m-1.1 0h1.6m1.9 0h1.6m-11.1 0.5h1.6m-1.1 0h1.6m-0.1 0h1.6m-1.1 0h1.6m0.4 0.5h1.6m-1.1 0h1.6m1.9 0h1.6m-19.6 0.5h1.6m9.4 0h1.6m-0.1 0h1.6m-0.6 0h1.6m-14.1 0.5h1.6m2.9 0h1.6m3.4 0h1.6m-10.1 1h1.6m0.4 0h1.6m-1.1 0h1.6m0.4 0h1.6m4.9 0h1.6m-0.1 0h1.6m-1.1 0h1.6m-15.1 0.5h1.6m2.9 0h1.6m1.9 0h1.6m2.4 0h1.6m-0.1 0h1.6m4.4 0h1.6m-15.1 0.5h1.6m-1.1 0h1.6m-0.6 0h1.6m-1.6 0.5h1.6m-1.1 0h1.6m2.9 0h1.6m2.4 0h1.6m-19.6 0.5h1.6m2.9 0h1.6m2.9 0h1.6m-1.1 0h1.6m0.4 0h1.6m-1.1 0h1.6m2.9 0h1.6m-15.1 0.5h1.6m-0.1 0h1.6m-1.1 0h1.6m2.4 0h1.6m2.9 0h1.6m2.9 0h1.6m-0.6 0h1.6m-11.6 0.5h1.6m1.4 0h1.6m-0.6 0h1.6m-0.1 0h1.6m-0.1 0h1.6m-11.1 0.5h1.6m1.9 0h1.6m-0.1 0h1.6m-0.1 0h1.6m-0.1 0h1.6m-0.1 0h1.6m-15.1 0.5h1.6m3.4 0h1.6m-0.6 0h1.6m-0.1 0h1.6m0.4 0h1.6m0.4 0h1.6m-6.6 0.5h1.6m1.4 0h1.6m-1.1 0h1.6m2.9 0h1.6m4.9 0h1.6m-23.1 0.5h1.6m8.4 0h1.6m-9.1 0.5h1.6m-0.1 0h1.6m-1.1 0h1.6m1.9 0h1.6m2.4 0h1.6m-1.1 0h1.6m1.9 0h1.6m-15.6 0.5h1.6m1.9 0h1.6m5.9 0h1.6m-14.6 0.5h1.6m3.4 0h1.6m1.4 0h1.6m0.4 0h1.6m-5.6 0.5h1.6m-0.6 0h1.6m1.9 0h1.6m-1.1 0h1.6m0.4 0h1.6m1.4 0h1.6m2.4 0h1.6m-17.6 0.5h1.6m0.9 0h1.6m5.4 0h1.6m2.4 0h1.6m-17.6 0.5h1.6m5.4 0h1.6m0.4 0h1.6m-0.1 0h1.6m-15.1 0.5h1.6m1.9 0h1.6m2.9 0h1.6m-0.1 0h1.6m-1.1 0h1.6m0.4 0h1.6m-1.1 0h1.6m2.9 0h1.6m-1.1 0h1.6m-0.1 0h1.6m-21.1 0.5h1.6m0.4 0h1.6m3.4 0h1.6m-1.1 0h1.6m0.4 0h1.6m0.4 0h1.6m0.9 0h1.6m-13.1 0.5h1.6m13.9 0h1.6m-7.1 0.5h1.6m0.4 0h1.6m-10.6 1h1.6m0.9 0h1.6m1.4 0h1.6m-1.1 0h1.6m4.4 0h1.6m-9.1 0.5h1.6m2.9 0h1.6m0.9 0h1.6m-0.1 0h1.6m-16.1 0.5h1.6m2.9 0h1.6m0.9 0h1.6m-16.6 0.5h1.6m6.4 0h1.6m0.9 0h1.6m-0.1 0h1.6m-0.6 0h1.6m-0.1 0h1.6m1.4 0h1.6m-13.6 0.5h1.6m0.4 0h1.6m2.9 0h1.6m-5.6 0.5h1.6m1.9 0h1.6m1.4 0h1.6m-0.1 0h1.6m0.9 0h1.6m1.9 0h1.6m-20.6 0.5h1.6m7.9 0h1.6m-1.1 0h1.6m-0.1 0h1.6m-0.1 0h1.6m-1.1 0h1.6m4.4 0h1.6m-12.6 0.5h1.6m0.9 0h1.6m2.4 0h1.6m-16.1 0.5h1.6m4.9 0h1.6m-1.1 0h1.6m-1.1 0h1.6m-0.6 0h1.6m0.9 0h1.6m2.4 0h1.6m5.9 0h1.6m-19.6 0.5h1.6m10.4 0h1.6m-12.6 0.5h1.6m2.9 0h1.6m-0.1 0h1.6m-0.6 0h1.6m1.4 0h1.6m-0.6 0h1.6m-8.6 0.5h1.6m3.9 0h1.6m-7.1 0.5h1.6m3.4 0h1.6m0.4 0h1.6m-12.1 0.5h1.6m2.9 0h1.6m-0.1 0h1.6m2.9 0h1.6m-15.6 0.5h1.6m1.9 0h1.6m0.9 0h1.6m-0.6 0h1.6m1.9 0h1.6m1.9 0h1.6m-8.1 0.5h1.6m-0.6 0h1.6m-0.6 0h1.6m-1.1 0h1.6m1.9 0h1.6m7.9 0h1.6m-19.6 0.5h1.6m0.9 0h1.6m2.4 0h1.6m-0.1 0h1.6m-13.6 0.5h1.6m-0.6 0h1.6m-0.6 0h1.6m0.4 0h1.6m-1.1 0h1.6m-0.6 0h1.6m1.4 0h1.6m-1.1 0h1.6m-8.1 0.5h1.6m3.9 0h1.6m-4.1 0.5h1.6m3.4 0h1.6m1.4 0h1.6m-12.1 0.5h1.6m-0.6 0h1.6m-1.1 0h1.6m6.9 0h1.6m2.4 0h1.6m-4.6 0.5h1.6m-22.1 0.5h1.6m3.9 0.5h1.6m6.4 0h1.6m3.9 0h1.6m-4.6 0.5h1.6m-1.6 1h1.6m4.9 0h1.6m-11.1 0.5h1.6m-8.6 1h1.6m7.9 0.5h1.6" stroke="#000" stroke-width="1.6"/>
<ellipse cx="1102" cy="531" rx="5.5" ry="13" fill="#888"/>
<ellipse cx="1102" cy="531" rx="4.1" ry="9.8" fill="none" stroke="#333" stroke-width="0.5"/>
<ellipse cx="1102" cy="531" rx="2.8" ry="6.5" fill="none" stroke="#333" stroke-width="0.5"/>
<ellipse cx="1102" cy="531" rx="1.4" ry="3.2" fill="none" stroke="#333" stroke-width="0.5"/>
<line x1="1007.8" y1="576.3" x2="1007.8" y2="531.9" stroke="#000" stroke-width="2.2"/>
<line x1="1006.7" y1="576.3" x2="1051.5" y2="576.3" stroke="#000" stroke-width="2.2"/>
<path d="M1007.8 520.4L1015 532.9L1000.5 532.9Z" fill="#000"/>
<path d="M1063 576.3L1050.5 569L1050.5 583.5Z" fill="#000"/>
<rect x="1193.5" y="442.4" width="110" height="110.7" fill="none" stroke="#a0a0a0" stroke-width="1.1"/>
<text x="1188.3" y="457" font-size="10.5" text-anchor="end" font-weight="bold">10<tspan dy="-5.6" font-size="10.5">5</tspan></text>
<text x="1188.3" y="477" font-size="10.5" text-anchor="end" font-weight="bold">10<tspan dy="-5.6" font-size="10.5">4</tspan></text>
<text x="1188.3" y="497.7" font-size="10.5" text-anchor="end" font-weight="bold">10<tspan dy="-5.6" font-size="10.5">3</tspan></text>
<text x="1188.3" y="518.4" font-size="10.5" text-anchor="end" font-weight="bold">10<tspan dy="-5.6" font-size="10.5">2</tspan></text>
<text x="1188.3" y="538.4" font-size="10.5" text-anchor="end" font-weight="bold">10<tspan dy="-5.6" font-size="10.5">1</tspan></text>
<text x="1188.3" y="554.3" font-size="10.5" text-anchor="end" font-weight="bold">10<tspan dy="-5.6" font-size="10.5">0</tspan></text>
<text x="1196.5" y="568" font-size="10.5" font-weight="bold">10<tspan dy="-5.6" font-size="10.5">0</tspan></text>
<text x="1211" y="568" font-size="10.5" font-weight="bold">10<tspan dy="-5.6" font-size="10.5">1</tspan></text>
<text x="1230.3" y="568" font-size="10.5" font-weight="bold">10<tspan dy="-5.6" font-size="10.5">2</tspan></text>
<text x="1251" y="568" font-size="10.5" font-weight="bold">10<tspan dy="-5.6" font-size="10.5">3</tspan></text>
<text x="1271.7" y="568" font-size="10.5" font-weight="bold">10<tspan dy="-5.6" font-size="10.5">4</tspan></text>
<text x="1287.6" y="568" font-size="10.5" font-weight="bold">10<tspan dy="-5.6" font-size="10.5">5</tspan></text>
<path d="M1265.5 474.8h1.6m-1.1 0h1.6m-3.6 0.5h1.6m2.4 6.5h1.6m5.4 0.5h1.6m-17.1 1.5h1.6m-2.6 0.5h1.6m4.4 4.5h1.6m6.9 1.5h1.6m-9.6 1.5h1.6m-1.6 2h1.6m1.4 0h1.6m1.9 0h1.6m-3.6 2.5h1.6m1.4 0h1.6m-0.6 0.5h1.6m-2.1 3h1.6m-8.1 1h1.6m-6.6 1h1.6m7.9 0.5h1.6m-1.1 1h1.6m-11.6 1.5h1.6m-3.6 0.5h1.6m-2.6 1h1.6m0.9 1h1.6m-4.1 1h1.6m2.4 0h1.6m-4.1 1.5h1.6" stroke="#000" stroke-width="1.6"/>
<text x="1161" y="493.9" font-size="16.5" text-anchor="middle" transform="rotate(-90 1161 493.9)" textLength="40.7" lengthAdjust="spacingAndGlyphs">CD44</text>
<text x="1254.2" y="587.4" font-size="16.5" text-anchor="middle" textLength="50.7" lengthAdjust="spacingAndGlyphs">CD62L</text>
<line x1="1162.6" y1="578.8" x2="1162.6" y2="534" stroke="#000" stroke-width="2.2"/>
<line x1="1161.5" y1="578.8" x2="1205.2" y2="578.8" stroke="#000" stroke-width="2.2"/>
<path d="M1162.6 522.5L1169.8 535L1155.3 535Z" fill="#000"/>
<path d="M1216.7 578.8L1204.2 571.5L1204.2 586Z" fill="#000"/>
<line x1="1113.2" y1="461.8" x2="1155.9" y2="461.8" stroke="#000" stroke-width="2.2"/>
<path d="M1167.4 461.8L1154.9 454.8L1154.9 468.8Z" fill="#000"/>
<text x="4" y="642.2" font-size="42" font-weight="bold" textLength="21.5" lengthAdjust="spacingAndGlyphs">c</text>
<text x="133.6" y="616" font-size="21" text-anchor="middle" textLength="30.8" lengthAdjust="spacingAndGlyphs">WT</text>
<text x="290.6" y="616" font-size="21" text-anchor="middle" textLength="48.3" lengthAdjust="spacingAndGlyphs">MOG</text>
<text x="446" y="616" font-size="21" text-anchor="middle" textLength="99.4" lengthAdjust="spacingAndGlyphs">MOG + SP</text>
<text x="588.9" y="616" font-size="21" text-anchor="middle" textLength="26.3" lengthAdjust="spacingAndGlyphs">SP</text>
<text x="99.4" y="641.6" font-size="20" textLength="75.9" lengthAdjust="spacingAndGlyphs">ASR-Tet<tspan dy="-7" font-size="11">+</tspan></text>
<text x="99.4" y="820" font-size="20" textLength="77.3" lengthAdjust="spacingAndGlyphs">HDR-Tet<tspan dy="-7" font-size="11">+</tspan></text>
<text x="98.8" y="995.9" font-size="20" textLength="91.7" lengthAdjust="spacingAndGlyphs">SMRP-Tet<tspan dy="-7" font-size="11">+</tspan></text>
<text x="100" y="1171.4" font-size="20" textLength="75.3" lengthAdjust="spacingAndGlyphs">YQP-Tet<tspan dy="-7" font-size="11">+</tspan></text>
<rect x="64" y="652.4" width="123.9" height="123.1" fill="none" stroke="#a0a0a0" stroke-width="1.1"/>
<text x="58.5" y="668.6" font-size="11" text-anchor="end">10<tspan dy="-6.8" font-size="11">5</tspan></text>
<text x="58.5" y="691.4" font-size="11" text-anchor="end">10<tspan dy="-6.8" font-size="11">4</tspan></text>
<text x="58.5" y="714.4" font-size="11" text-anchor="end">10<tspan dy="-6.8" font-size="11">3</tspan></text>
<text x="58.5" y="736.5" font-size="11" text-anchor="end">10<tspan dy="-6.8" font-size="11">2</tspan></text>
<text x="58.5" y="760" font-size="11" text-anchor="end">10<tspan dy="-6.8" font-size="11">1</tspan></text>
<text x="58.5" y="776.6" font-size="11" text-anchor="end">10<tspan dy="-6.8" font-size="11">0</tspan></text>
<text x="67.5" y="792.3" font-size="11">10<tspan dy="-6.8" font-size="11">0</tspan></text>
<text x="84.4" y="792.3" font-size="11">10<tspan dy="-6.8" font-size="11">1</tspan></text>
<text x="106.9" y="792.3" font-size="11">10<tspan dy="-6.8" font-size="11">2</tspan></text>
<text x="129.3" y="792.3" font-size="11">10<tspan dy="-6.8" font-size="11">3</tspan></text>
<text x="151.7" y="792.3" font-size="11">10<tspan dy="-6.8" font-size="11">4</tspan></text>
<text x="169.2" y="792.3" font-size="11">10<tspan dy="-6.8" font-size="11">5</tspan></text>
<path d="M153 688.4h1.8m-1.8 4h1.8m4.2 0h1.8m-8.8 1h1.8m2.2 0h1.8m-17.8 0.5h1.8m10.7 3.5h1.8m-7.3 0.5h1.8m-0.3 1h1.8m-0.8 1h1.8m-3.8 3h1.8m1.2 0h1.8m-10.8 1.5h1.8m0.2 1h1.8m-1.3 0h1.8m0.2 0h1.8m2.2 0.5h1.8m-2.8 0.5h1.8m-0.8 0h1.8m-3.8 2h1.8m-8.3 1.5h1.8m2.2 0h1.8m0.7 0h1.8m-3.3 0.5h1.8m-1.3 2h1.8m-7.8 0.5h1.8m3.7 0h1.8m-6.3 1.5h1.8m2.2 0.5h1.8m-5.3 1h1.8m-1.3 0h1.8m0.7 0.5h1.8m-7.8 1.5h1.8m-4.8 5h1.8m0.7 4.5h1.8m-5.3 0.5h1.8" stroke="#000" stroke-width="1.8"/>
<rect x="224.2" y="650.2" width="123.1" height="122.8" fill="none" stroke="#a0a0a0" stroke-width="1.1"/>
<text x="218.7" y="666.4" font-size="11" text-anchor="end">10<tspan dy="-6.8" font-size="11">5</tspan></text>
<text x="218.7" y="689.2" font-size="11" text-anchor="end">10<tspan dy="-6.8" font-size="11">4</tspan></text>
<text x="218.7" y="712.2" font-size="11" text-anchor="end">10<tspan dy="-6.8" font-size="11">3</tspan></text>
<text x="218.7" y="734.3" font-size="11" text-anchor="end">10<tspan dy="-6.8" font-size="11">2</tspan></text>
<text x="218.7" y="757.8" font-size="11" text-anchor="end">10<tspan dy="-6.8" font-size="11">1</tspan></text>
<text x="218.7" y="774.4" font-size="11" text-anchor="end">10<tspan dy="-6.8" font-size="11">0</tspan></text>
<text x="227.7" y="789.8" font-size="11">10<tspan dy="-6.8" font-size="11">0</tspan></text>
<text x="244.6" y="789.8" font-size="11">10<tspan dy="-6.8" font-size="11">1</tspan></text>
<text x="267.1" y="789.8" font-size="11">10<tspan dy="-6.8" font-size="11">2</tspan></text>
<text x="289.5" y="789.8" font-size="11">10<tspan dy="-6.8" font-size="11">3</tspan></text>
<text x="311.9" y="789.8" font-size="11">10<tspan dy="-6.8" font-size="11">4</tspan></text>
<text x="329.4" y="789.8" font-size="11">10<tspan dy="-6.8" font-size="11">5</tspan></text>
<path d="M305 663.4h1.8m-4.3 15.5h1.8m0.7 0h1.8m0.7 0h1.8m-24.3 0.5h1.8m7.2 0h1.8m2.2 0h1.8m-14.3 0.5h1.8m1.2 0h1.8m-0.3 0h1.8m-2.3 0.5h1.8m4.7 0h1.8m7.2 0h1.8m-23.8 0.5h1.8m6.2 0h1.8m13.7 0h1.8m-18.8 0.5h1.8m10.2 0h1.8m-0.3 0h1.8m-0.3 0h1.8m-23.3 0.5h1.8m2.7 0h1.8m13.7 0h1.8m12.7 0h1.8m5.2 0h1.8m-37.8 0.5h1.8m3.2 0h1.8m13.7 0h1.8m17.7 0h1.8m-43.3 0.5h1.8m4.7 0h1.8m-1.3 0h1.8m-1.3 0h1.8m1.7 0h1.8m-0.8 0h1.8m10.7 0h1.8m-56.8 0.5h1.8m25.7 0h1.8m7.7 0h1.8m6.7 0h1.8m5.7 0h1.8m-21.8 0.5h1.8m1.7 0h1.8m-9.3 0.5h1.8m6.2 0h1.8m12.2 0h1.8m0.7 0h1.8m14.2 0h1.8m-57.3 0.5h1.8m15.7 0h1.8m-0.3 0h1.8m10.2 0h1.8m4.7 0h1.8m-26.8 0.5h1.8m8.7 0h1.8m5.7 0h1.8m3.2 0h1.8m1.2 0h1.8m-22.3 0.5h1.8m5.2 0h1.8m8.2 0h1.8m1.2 0h1.8m0.7 0h1.8m3.2 0h1.8m-19.8 0.5h1.8m-0.8 0h1.8m-1.3 0h1.8m7.7 0h1.8m9.7 0h1.8m-11.8 0.5h1.8m-0.8 0h1.8m1.7 0h1.8m-25.3 0.5h1.8m10.2 0h1.8m5.2 0h1.8m-21.3 0.5h1.8m5.2 0h1.8m6.2 0h1.8m7.7 0h1.8m-5.8 0.5h1.8m6.7 0h1.8m-36.3 0.5h1.8m6.2 0h1.8m9.7 0h1.8m7.2 0h1.8m-24.8 0.5h1.8m1.2 0h1.8m2.2 0h1.8m-14.8 0.5h1.8m0.2 0h1.8m2.2 0h1.8m9.7 0h1.8m-2.8 0.5h1.8m1.7 0h1.8m7.7 0h1.8m6.7 0h1.8m2.7 0h1.8m-1.3 0h1.8m-45.8 0.5h1.8m1.2 0h1.8m-1.3 0h1.8m18.2 0h1.8m-0.8 0h1.8m3.2 0h1.8m13.7 0.5h1.8m-41.3 1h1.8m18.7 0h1.8m-22.3 0.5h1.8m19.2 0h1.8m-0.3 0h1.8m-4.3 0.5h1.8m-27.8 0.5h1.8m5.2 0h1.8m12.7 0h1.8m22.2 0h1.8m-31.3 0.5h1.8m-16.8 0.5h1.8m5.7 0h1.8m13.2 0h1.8m11.2 0h1.8m-34.8 0.5h1.8m0.2 0h1.8m8.2 0h1.8m9.2 0h1.8m16.7 0h1.8m-42.3 1h1.8m14.2 0h1.8m1.2 0h1.8m-0.8 0h1.8m15.2 0h1.8m-25.3 0.5h1.8m0.7 0h1.8m4.2 0h1.8m5.2 0h1.8m-13.3 0.5h1.8m1.7 0h1.8m4.7 0h1.8m11.2 0h1.8m-6.3 0.5h1.8m3.2 0h1.8m-29.8 0.5h1.8m1.7 0h1.8m0.2 0h1.8m-11.3 0.5h1.8m12.7 0h1.8m7.2 1h1.8m-20.3 0.5h1.8m6.2 0h1.8m6.2 0h1.8m-16.3 0.5h1.8m-22.8 0.5h1.8m12.2 0h1.8m1.7 0h1.8m11.7 0.5h1.8m3.7 0h1.8m1.2 0h1.8m-42.3 0.5h1.8m1.7 0h1.8m2.2 0h1.8m0.2 0h1.8m3.7 0h1.8m5.7 0h1.8m2.2 0h1.8m5.2 0h1.8m-0.3 0h1.8m-28.8 0.5h1.8m1.7 0h1.8m2.7 0h1.8m8.2 0h1.8m5.2 0h1.8m-18.8 0.5h1.8m0.7 0h1.8m0.7 0h1.8m10.7 0h1.8m10.7 0h1.8m-25.8 0.5h1.8m1.2 0h1.8m0.7 0h1.8m16.2 0h1.8m-44.8 0.5h1.8m-0.8 0h1.8m21.2 0h1.8m3.2 0h1.8m-19.3 0.5h1.8m2.2 0h1.8m10.7 0h1.8m-14.8 0.5h1.8m4.7 0h1.8m-2.3 0.5h1.8m7.2 0h1.8m6.2 0h1.8m-0.8 0h1.8m4.2 0h1.8m-26.8 0.5h1.8m2.7 0h1.8m1.2 0h1.8m11.2 0h1.8m-32.8 0.5h1.8m4.7 0h1.8m0.2 0h1.8m-1.3 0h1.8m-0.3 0h1.8m6.7 0h1.8m-21.8 0.5h1.8m17.2 0h1.8m13.2 0h1.8m-40.3 0.5h1.8m1.7 0h1.8m3.7 0h1.8m1.7 0h1.8m6.2 0h1.8m0.7 0h1.8m-7.8 0.5h1.8m9.7 0h1.8m-1.3 0h1.8m-23.8 0.5h1.8m15.2 0h1.8m-1.3 0h1.8m-13.3 0.5h1.8m0.2 0h1.8m8.7 0h1.8m-15.3 0.5h1.8m1.7 0h1.8m1.7 0h1.8m6.7 0h1.8m-1.3 0h1.8m-12.8 0.5h1.8m-0.8 0h1.8m-0.3 0h1.8m-22.8 0.5h1.8m5.7 0h1.8m2.7 0h1.8m6.2 0h1.8m8.7 0h1.8m-1.3 0.5h1.8m-26.3 0.5h1.8m19.2 0h1.8m-20.8 0.5h1.8m6.7 0h1.8m0.2 0h1.8m3.2 0h1.8m0.2 0h1.8m10.2 0h1.8m-40.3 0.5h1.8m16.2 0h1.8m0.2 0h1.8m-1.3 0h1.8m-21.3 0.5h1.8m3.2 0h1.8m1.2 0h1.8m2.7 0h1.8m0.7 0h1.8m-1.3 0h1.8m1.7 0h1.8m2.7 0h1.8m-27.3 0.5h1.8m2.7 0h1.8m15.7 0h1.8m-1.3 0h1.8m9.7 0h1.8m-10.3 0.5h1.8m0.2 0.5h1.8m4.7 0h1.8m-0.8 0h1.8m-9.3 0.5h1.8m-7.8 0.5h1.8m6.2 0h1.8m-0.3 0h1.8m-21.3 0.5h1.8m7.2 0h1.8m6.2 0h1.8m5.7 0h1.8m-41.3 0.5h1.8m7.7 0h1.8m-0.8 0h1.8m4.2 0h1.8m8.7 0h1.8m27.7 0h1.8m-40.8 0.5h1.8m2.7 0h1.8m4.2 0h1.8m-22.8 0.5h1.8m22.7 0h1.8m-16.3 0.5h1.8m3.2 0h1.8m3.7 0h1.8m1.7 0h1.8m12.2 0h1.8m-41.3 0.5h1.8m3.7 0h1.8m4.2 0h1.8m12.7 0h1.8m-31.8 0.5h1.8m9.7 0h1.8m12.7 0h1.8m13.2 0h1.8m-24.8 0.5h1.8m-0.8 0h1.8m13.2 0h1.8m-25.3 0.5h1.8m-0.3 0h1.8m9.2 0h1.8m7.7 0h1.8m-21.3 0.5h1.8m8.2 0h1.8m4.7 0h1.8m-15.3 0.5h1.8m29.2 0.5h1.8m-49.8 0.5h1.8m13.2 0h1.8m-0.3 0.5h1.8m5.7 0h1.8m2.2 0h1.8m1.2 0h1.8m-0.8 0h1.8m-18.3 0.5h1.8m4.2 0h1.8m-10.8 0.5h1.8m3.2 0h1.8m9.7 0h1.8m0.2 0h1.8m-16.3 0.5h1.8m25.2 0h1.8m2.7 0.5h1.8m-48.3 0.5h1.8m3.7 0h1.8m13.7 0h1.8m-22.8 0.5h1.8m8.7 0h1.8m1.2 0h1.8m1.2 0h1.8m4.2 0h1.8m-0.8 0h1.8m-20.8 0.5h1.8m11.2 0h1.8m11.7 0h1.8m-18.3 0.5h1.8m1.7 0.5h1.8m-11.3 0.5h1.8m10.2 0h1.8m2.7 0h1.8m5.2 0.5h1.8m2.2 0h1.8m-18.3 0.5h1.8m-0.3 0h1.8m4.7 0h1.8m-20.8 0.5h1.8m4.2 0h1.8m10.7 0h1.8m-15.3 0.5h1.8m24.2 0h1.8m-32.3 0.5h1.8m15.7 0h1.8m0.2 0h1.8m-27.8 0.5h1.8m-0.8 0h1.8m24.2 0h1.8m-28.3 0.5h1.8m36.2 0.5h1.8m-44.8 0.5h1.8m15.7 0h1.8m-0.3 0h1.8m19.7 0.5h1.8m-4.3 0.5h1.8m-17.3 0.5h1.8m8.7 0h1.8m-20.3 0.5h1.8m-8.3 1h1.8m11.7 0h1.8m7.7 0h1.8m-8.8 0.5h1.8m3.2 0h1.8m-18.3 0.5h1.8m-0.8 0h1.8m2.2 0h1.8m-0.3 0h1.8m4.7 1h1.8m4.2 0h1.8m-9.8 0.5h1.8m0.2 0h1.8m-0.8 0.5h1.8m6.2 1h1.8m-24.3 0.5h1.8m4.7 0h1.8m-1.3 0h1.8m8.2 0.5h1.8m2.2 0.5h1.8m-0.8 0h1.8m-20.8 2h1.8m-1.3 0h1.8m6.7 0h1.8m-13.3 1h1.8m-13.8 0.5h1.8m12.7 0h1.8m8.7 0.5h1.8m-14.8 0.5h1.8m16.2 0h1.8m4.2 0h1.8m-6.3 1h1.8m-28.3 1h1.8m33.2 3.5h1.8m-19.8 0.5h1.8m11.2 0h1.8m-27.8 0.5h1.8m26.2 0h1.8m-18.3 6h1.8m11.7 9.5h1.8m-18.8 4.5h1.8m2.2 0h1.8m-1.3 0h1.8m-1.3 0h1.8m-0.8 0h1.8m-1.3 0h1.8m1.2 0h1.8m5.2 0h1.8m1.2 0h1.8m-1.3 0h1.8m-1.3 0h1.8m-0.3 0h1.8" stroke="#000" stroke-width="1.8"/>
<rect x="380.5" y="650" width="122.9" height="122.8" fill="none" stroke="#a0a0a0" stroke-width="1.1"/>
<text x="375" y="666.2" font-size="11" text-anchor="end">10<tspan dy="-6.8" font-size="11">5</tspan></text>
<text x="375" y="689" font-size="11" text-anchor="end">10<tspan dy="-6.8" font-size="11">4</tspan></text>
<text x="375" y="712" font-size="11" text-anchor="end">10<tspan dy="-6.8" font-size="11">3</tspan></text>
<text x="375" y="734.1" font-size="11" text-anchor="end">10<tspan dy="-6.8" font-size="11">2</tspan></text>
<text x="375" y="757.6" font-size="11" text-anchor="end">10<tspan dy="-6.8" font-size="11">1</tspan></text>
<text x="375" y="774.2" font-size="11" text-anchor="end">10<tspan dy="-6.8" font-size="11">0</tspan></text>
<text x="384" y="789.6" font-size="11">10<tspan dy="-6.8" font-size="11">0</tspan></text>
<text x="400.9" y="789.6" font-size="11">10<tspan dy="-6.8" font-size="11">1</tspan></text>
<text x="423.4" y="789.6" font-size="11">10<tspan dy="-6.8" font-size="11">2</tspan></text>
<text x="445.8" y="789.6" font-size="11">10<tspan dy="-6.8" font-size="11">3</tspan></text>
<text x="468.2" y="789.6" font-size="11">10<tspan dy="-6.8" font-size="11">4</tspan></text>
<text x="485.7" y="789.6" font-size="11">10<tspan dy="-6.8" font-size="11">5</tspan></text>
<ellipse cx="459" cy="702" rx="10" ry="17" fill="#000"/>
<path d="M410 674.9h1.8m3.7 0h1.8m9.2 0h1.8m-1.3 0h1.8m-15.3 0.5h1.8m2.7 0h1.8m0.7 0h1.8m-0.8 0h1.8m5.2 0h1.8m1.2 0h1.8m14.7 0h1.8m-1.3 0h1.8m12.2 0h1.8m0.2 0h1.8m-33.8 0.5h1.8m9.2 0h1.8m6.2 0h1.8m0.7 0h1.8m0.7 0h1.8m2.2 0h1.8m1.2 0h1.8m0.7 0h1.8m3.2 0h1.8m-37.8 0.5h1.8m10.2 0h1.8m2.2 0h1.8m6.2 0h1.8m0.2 0h1.8m5.7 0h1.8m-1.3 0h1.8m-53.3 0.5h1.8m9.7 0h1.8m17.7 0h1.8m2.2 0h1.8m3.2 0h1.8m2.7 0h1.8m6.7 0h1.8m-15.3 0.5h1.8m-1.3 0h1.8m1.2 0h1.8m-46.8 0.5h1.8m-1.3 0h1.8m4.2 0h1.8m5.2 0h1.8m19.7 0h1.8m4.7 0h1.8m-32.3 0.5h1.8m1.2 0h1.8m1.7 0h1.8m8.2 0h1.8m2.2 0h1.8m6.2 0h1.8m0.7 0h1.8m-0.3 0h1.8m-43.8 0.5h1.8m-0.8 0h1.8m11.2 0h1.8m-0.8 0h1.8m3.2 0h1.8m-0.3 0h1.8m19.2 0h1.8m-0.8 0h1.8m2.2 0h1.8m3.2 0h1.8m0.2 0h1.8m-49.3 0.5h1.8m-0.3 0h1.8m-0.3 0h1.8m2.7 0h1.8m0.7 0h1.8m14.7 0h1.8m3.2 0h1.8m2.2 0h1.8m-0.8 0h1.8m1.2 0h1.8m0.7 0h1.8m-57.8 0.5h1.8m-0.3 0h1.8m5.7 0h1.8m1.7 0h1.8m-0.3 0h1.8m0.2 0h1.8m3.2 0h1.8m5.7 0h1.8m9.2 0h1.8m2.7 0h1.8m-0.3 0h1.8m3.2 0h1.8m-0.8 0h1.8m3.7 0h1.8m-55.8 0.5h1.8m4.2 0h1.8m0.2 0h1.8m1.2 0h1.8m-0.3 0h1.8m25.7 0h1.8m0.7 0h1.8m10.7 0h1.8m3.2 0h1.8m-61.8 0.5h1.8m1.7 0h1.8m-0.8 0h1.8m5.7 0h1.8m6.7 0h1.8m23.2 0h1.8m-0.3 0h1.8m-46.8 0.5h1.8m0.7 0h1.8m11.2 0h1.8m16.2 0h1.8m6.7 0h1.8m5.2 0h1.8m6.7 0h1.8m-65.3 0.5h1.8m5.2 0h1.8m0.2 0h1.8m1.2 0h1.8m-0.3 0h1.8m0.7 0h1.8m-1.3 0h1.8m2.2 0h1.8m-1.3 0h1.8m-0.8 0h1.8m29.7 0h1.8m5.2 0h1.8m-50.3 0.5h1.8m5.7 0h1.8m22.7 0h1.8m6.2 0h1.8m0.7 0h1.8m-52.8 0.5h1.8m15.2 0h1.8m6.7 0h1.8m17.2 0h1.8m0.7 0h1.8m0.2 0h1.8m1.2 0h1.8m-50.3 0.5h1.8m6.2 0h1.8m6.7 0h1.8m-1.3 0h1.8m2.2 0h1.8m8.7 0h1.8m4.7 0h1.8m-1.3 0h1.8m-0.3 0h1.8m-0.3 0h1.8m-0.8 0h1.8m5.7 0h1.8m-55.8 0.5h1.8m1.2 0h1.8m7.2 0h1.8m-0.8 0h1.8m0.7 0h1.8m13.7 0h1.8m6.7 0h1.8m20.2 0h1.8m-55.3 0.5h1.8m6.2 0h1.8m1.2 0h1.8m2.2 0h1.8m6.2 0h1.8m1.2 0h1.8m8.7 0h1.8m-0.8 0h1.8m-58.3 0.5h1.8m11.2 0h1.8m0.2 0h1.8m-0.3 0h1.8m-1.3 0h1.8m4.2 0h1.8m0.2 0h1.8m36.7 0h1.8m7.7 0h1.8m-61.8 0.5h1.8m3.7 0h1.8m3.2 0h1.8m-1.3 0h1.8m3.2 0h1.8m8.7 0h1.8m1.7 0h1.8m0.7 0h1.8m-34.8 0.5h1.8m-0.3 0h1.8m2.7 0h1.8m2.7 0h1.8m1.7 0h1.8m1.7 0h1.8m0.7 0h1.8m-1.3 0h1.8m4.7 0h1.8m3.2 0h1.8m-0.3 0h1.8m12.7 0h1.8m0.2 0h1.8m4.2 0h1.8m0.2 0h1.8m-57.3 0.5h1.8m-1.3 0h1.8m10.2 0h1.8m2.7 0h1.8m1.7 0h1.8m1.7 0h1.8m13.2 0h1.8m-0.3 0h1.8m-62.3 0.5h1.8m19.7 0h1.8m0.2 0h1.8m1.2 0h1.8m-0.3 0h1.8m2.2 0h1.8m2.7 0h1.8m3.2 0h1.8m11.2 0h1.8m-1.3 0h1.8m-0.8 0h1.8m6.7 0h1.8m-0.8 0h1.8m2.2 0h1.8m6.2 0h1.8m-55.3 0.5h1.8m0.2 0h1.8m9.2 0h1.8m10.2 0h1.8m2.2 0h1.8m1.2 0h1.8m2.2 0h1.8m2.2 0h1.8m3.2 0h1.8m3.2 0h1.8m-66.8 0.5h1.8m9.7 0h1.8m1.7 0h1.8m0.7 0h1.8m-1.3 0h1.8m2.2 0h1.8m4.2 0h1.8m18.7 0h1.8m1.2 0h1.8m-0.3 0h1.8m1.2 0h1.8m-0.8 0h1.8m1.2 0h1.8m-1.3 0h1.8m-56.3 0.5h1.8m-0.3 0h1.8m2.7 0h1.8m1.7 0h1.8m1.7 0h1.8m1.7 0h1.8m-0.3 0h1.8m3.2 0h1.8m13.7 0h1.8m1.7 0h1.8m-1.3 0h1.8m4.7 0h1.8m-0.3 0h1.8m-0.3 0h1.8m-55.3 0.5h1.8m9.2 0h1.8m-0.8 0h1.8m2.7 0h1.8m0.2 0h1.8m-0.8 0h1.8m4.7 0h1.8m15.2 0h1.8m1.2 0h1.8m5.7 0h1.8m-0.8 0h1.8m2.7 0h1.8m-0.3 0h1.8m0.2 0h1.8m-56.8 0.5h1.8m1.2 0h1.8m2.2 0h1.8m-0.8 0h1.8m2.7 0h1.8m2.2 0h1.8m0.2 0h1.8m-0.3 0h1.8m9.2 0h1.8m2.2 0h1.8m-1.3 0h1.8m-0.3 0h1.8m-0.3 0h1.8m4.2 0h1.8m0.7 0h1.8m-45.3 0.5h1.8m7.7 0h1.8m-0.8 0h1.8m10.2 0h1.8m8.2 0h1.8m2.7 0h1.8m1.7 0h1.8m-45.3 0.5h1.8m11.2 0h1.8m-1.3 0h1.8m2.7 0h1.8m11.2 0h1.8m0.7 0h1.8m4.2 0h1.8m-0.8 0h1.8m0.2 0h1.8m0.2 0h1.8m3.7 0h1.8m1.7 0h1.8m-52.3 0.5h1.8m0.7 0h1.8m0.7 0h1.8m0.2 0h1.8m0.2 0h1.8m18.7 0h1.8m3.7 0h1.8m5.7 0h1.8m-0.3 0h1.8m2.2 0h1.8m-59.3 0.5h1.8m14.7 0h1.8m16.2 0h1.8m-0.3 0h1.8m9.7 0h1.8m-0.3 0h1.8m0.2 0h1.8m-0.3 0h1.8m6.2 0h1.8m-50.8 0.5h1.8m-0.8 0h1.8m7.2 0h1.8m10.7 0h1.8m3.7 0h1.8m10.7 0h1.8m-1.3 0h1.8m7.7 0h1.8m-81.8 0.5h1.8m18.2 0h1.8m10.2 0h1.8m5.7 0h1.8m0.2 0h1.8m6.2 0h1.8m6.7 0h1.8m1.2 0h1.8m5.2 0h1.8m-1.3 0h1.8m-0.3 0h1.8m0.7 0h1.8m1.7 0h1.8m2.7 0h1.8m-57.3 0.5h1.8m6.2 0h1.8m-0.3 0h1.8m1.7 0h1.8m17.7 0h1.8m0.7 0h1.8m-1.3 0h1.8m5.7 0h1.8m0.2 0h1.8m1.2 0h1.8m-0.3 0h1.8m-1.3 0h1.8m-0.8 0h1.8m0.2 0h1.8m-1.3 0h1.8m-59.8 0.5h1.8m7.2 0h1.8m1.7 0h1.8m8.2 0h1.8m9.2 0h1.8m1.7 0h1.8m0.7 0h1.8m2.2 0h1.8m1.7 0h1.8m4.2 0h1.8m-25.3 0.5h1.8m5.2 0h1.8m3.2 0h1.8m-0.8 0h1.8m2.7 0h1.8m-0.3 0h1.8m-0.8 0h1.8m3.2 0h1.8m-1.3 0h1.8m-45.3 0.5h1.8m17.2 0h1.8m-1.3 0h1.8m2.2 0h1.8m6.2 0h1.8m-0.8 0h1.8m-1.3 0h1.8m-29.8 0.5h1.8m16.2 0h1.8m-0.3 0h1.8m1.2 0h1.8m8.2 0h1.8m3.7 0h1.8m1.2 0h1.8m-55.3 0.5h1.8m2.2 0h1.8m-0.3 0h1.8m12.7 0h1.8m8.7 0h1.8m-0.8 0h1.8m4.7 0h1.8m0.7 0h1.8m4.7 0h1.8m0.2 0h1.8m-0.3 0h1.8m-41.8 0.5h1.8m14.2 0h1.8m6.7 0h1.8m-1.3 0h1.8m3.7 0h1.8m-0.3 0h1.8m0.7 0h1.8m1.2 0h1.8m0.7 0h1.8m2.7 0h1.8m-0.8 0h1.8m-62.3 0.5h1.8m39.2 0h1.8m-0.8 0h1.8m-0.3 0h1.8m0.7 0h1.8m0.2 0h1.8m0.7 0h1.8m-1.3 0h1.8m-1.3 0h1.8m-1.3 0h1.8m3.2 0h1.8m1.2 0h1.8m-56.8 0.5h1.8m25.2 0h1.8m2.7 0h1.8m0.7 0h1.8m-1.3 0h1.8m7.2 0h1.8m3.7 0h1.8m-1.3 0h1.8m-0.8 0h1.8m-0.8 0h1.8m2.2 0h1.8m-40.8 0.5h1.8m22.7 0h1.8m0.7 0h1.8m-1.3 0h1.8m-0.8 0h1.8m-0.3 0h1.8m0.2 0h1.8m-0.8 0h1.8m-1.3 0h1.8m-0.3 0h1.8m1.2 0h1.8m-28.8 0.5h1.8m10.7 0h1.8m1.7 0h1.8m-0.8 0h1.8m-1.3 0h1.8m-41.3 0.5h1.8m16.2 0h1.8m3.2 0h1.8m0.2 0h1.8m17.2 0h1.8m-20.8 0.5h1.8m-1.3 0h1.8m1.7 0h1.8m-0.8 0h1.8m0.2 0h1.8m7.2 0h1.8m-0.3 0h1.8m-25.8 0.5h1.8m13.2 0h1.8m1.7 0h1.8m-0.3 0h1.8m0.7 0h1.8m-22.3 0.5h1.8m4.2 0h1.8m-0.8 0h1.8m2.2 0h1.8m0.7 0h1.8m-1.3 0h1.8m5.7 0h1.8m-1.3 0h1.8m-0.3 0h1.8m-0.8 0h1.8m2.2 0h1.8m-31.8 0.5h1.8m4.2 0h1.8m0.2 0h1.8m-0.3 0h1.8m-1.3 0h1.8m2.7 0h1.8m-1.3 0h1.8m0.7 0h1.8m4.2 0h1.8m-12.8 0.5h1.8m0.7 0h1.8m-1.3 0h1.8m3.2 0h1.8m2.7 0h1.8m2.2 0h1.8m-31.3 0.5h1.8m1.2 0h1.8m9.2 0h1.8m-1.3 0h1.8m-0.8 0h1.8m2.7 0h1.8m2.7 0h1.8m-1.3 0h1.8m-0.8 0h1.8m-22.8 0.5h1.8m8.2 0h1.8m0.7 0h1.8m-0.3 0h1.8m2.7 0h1.8m-0.3 0h1.8m0.2 0h1.8m-25.3 0.5h1.8m0.7 0h1.8m0.7 0h1.8m7.7 0h1.8m0.7 0h1.8m0.2 0h1.8m1.7 0h1.8m-23.3 0.5h1.8m-0.3 0h1.8m0.2 0h1.8m-1.3 0h1.8m0.2 0h1.8m0.7 0h1.8m4.7 0h1.8m-0.3 0h1.8m9.2 0h1.8m-17.3 0.5h1.8m-0.3 0h1.8m-0.3 0h1.8m0.2 0h1.8m7.7 0h1.8m-24.3 0.5h1.8m2.7 0h1.8m-0.8 0h1.8m-0.8 0h1.8m0.2 0h1.8m0.7 0h1.8m3.2 0h1.8m0.2 0h1.8m1.2 0h1.8m-30.8 0.5h1.8m9.2 0h1.8m6.7 0h1.8m-0.3 0h1.8m0.7 0h1.8m-19.3 0.5h1.8m-0.3 0h1.8m0.2 0h1.8m1.2 0h1.8m-0.8 0h1.8m1.7 0h1.8m4.7 0h1.8m2.7 0h1.8m-1.3 0h1.8m-0.8 0h1.8m-23.8 0.5h1.8m9.7 0h1.8m0.2 0h1.8m-0.8 0h1.8m-1.3 0h1.8m0.2 0h1.8m2.7 0h1.8m-22.3 0.5h1.8m2.7 0h1.8m6.2 0h1.8m-0.3 0h1.8m-0.8 0h1.8m3.7 0h1.8m-28.3 0.5h1.8m4.7 0h1.8m1.2 0h1.8m-0.3 0h1.8m1.7 0h1.8m1.7 0h1.8m1.2 0h1.8m3.2 0h1.8m0.7 0h1.8m-1.3 0h1.8m-30.3 0.5h1.8m7.2 0h1.8m-0.3 0h1.8m10.7 0h1.8m-27.8 0.5h1.8m11.2 0h1.8m-1.3 0h1.8m4.2 0h1.8m2.7 0h1.8m2.7 0h1.8m-29.8 0.5h1.8m2.7 0h1.8m2.2 0h1.8m0.7 0h1.8m0.2 0h1.8m1.2 0h1.8m-0.8 0h1.8m-0.8 0h1.8m-1.3 0h1.8m-1.3 0h1.8m4.2 0h1.8m-20.8 0.5h1.8m1.7 0h1.8m0.7 0h1.8m-0.3 0h1.8m6.7 0h1.8m0.2 0h1.8m-26.8 0.5h1.8m0.7 0h1.8m-0.8 0h1.8m-0.8 0h1.8m1.7 0h1.8m-1.3 0h1.8m4.2 0h1.8m0.7 0h1.8m-1.3 0h1.8m3.2 0h1.8m-1.3 0h1.8m-0.8 0h1.8m1.7 0h1.8m-26.8 0.5h1.8m2.2 0h1.8m5.2 0h1.8m3.2 0h1.8m1.7 0h1.8m3.2 0h1.8m-0.3 0h1.8m-18.3 0.5h1.8m0.2 0h1.8m3.7 0h1.8m-0.8 0h1.8m0.7 0h1.8m1.7 0h1.8m0.7 0h1.8m-0.8 0h1.8m-1.3 0h1.8m-15.8 0.5h1.8m-0.8 0h1.8m-15.8 0.5h1.8m4.7 0h1.8m2.7 0h1.8m-0.3 0h1.8m-0.3 0h1.8m12.7 0h1.8m-1.3 0h1.8m-34.8 0.5h1.8m12.7 0h1.8m3.7 0h1.8m4.7 0h1.8m-0.3 0h1.8m-23.8 0.5h1.8m2.7 0h1.8m0.2 0h1.8m0.2 0h1.8m0.7 0h1.8m0.2 0h1.8m-0.3 0h1.8m-1.3 0h1.8m0.7 0h1.8m-0.8 0h1.8m-1.3 0h1.8m-0.3 0h1.8m-20.3 0.5h1.8m0.7 0h1.8m1.7 0h1.8m-0.3 0h1.8m-0.8 0h1.8m0.7 0h1.8m-0.8 0h1.8m-0.3 0h1.8m0.2 0h1.8m3.2 0h1.8m-24.3 0.5h1.8m0.7 0h1.8m10.2 0h1.8m-12.3 0.5h1.8m-1.3 0h1.8m-0.8 0h1.8m2.7 0h1.8m-1.3 0h1.8m4.7 0h1.8m0.7 0h1.8m-13.3 0.5h1.8m-0.3 0h1.8m1.7 0h1.8m-13.8 0.5h1.8m0.2 0h1.8m3.2 0h1.8m-1.3 0h1.8m8.2 0h1.8m0.2 0h1.8m3.7 0h1.8m-1.3 0h1.8m-30.8 0.5h1.8m8.7 0h1.8m-1.3 0h1.8m0.2 0h1.8m6.2 0h1.8m-22.3 0.5h1.8m1.7 0h1.8m-1.3 0h1.8m1.7 0h1.8m-0.3 0h1.8m-0.8 0h1.8m-1.3 0h1.8m7.7 0h1.8m0.2 0h1.8m-0.3 0h1.8m1.2 0h1.8m-27.8 0.5h1.8m0.7 0h1.8m1.2 0h1.8m-0.8 0h1.8m-0.8 0h1.8m1.2 0h1.8m0.2 0h1.8m-0.3 0h1.8m0.2 0h1.8m-0.8 0h1.8m2.2 0h1.8m-23.8 0.5h1.8m0.2 0h1.8m3.7 0h1.8m6.2 0h1.8m-1.3 0h1.8m0.2 0h1.8m5.2 0h1.8m-1.3 0h1.8m-24.8 0.5h1.8m3.2 0h1.8m-0.8 0h1.8m0.7 0h1.8m0.2 0h1.8m1.2 0h1.8m3.2 0h1.8m4.2 0h1.8m-31.8 0.5h1.8m-0.8 0h1.8m-1.3 0h1.8m5.2 0h1.8m0.7 0h1.8m-1.3 0h1.8m2.2 0h1.8m-0.8 0h1.8m6.2 0h1.8m-1.3 0h1.8m-27.3 0.5h1.8m10.2 0h1.8m-1.3 0h1.8m0.7 0h1.8m0.7 0h1.8m2.7 0h1.8m-0.3 0h1.8m1.2 0h1.8m-19.8 0.5h1.8m-0.8 0h1.8m-0.3 0h1.8m1.2 0h1.8m4.2 0h1.8m-0.3 0h1.8m-1.3 0h1.8m0.7 0h1.8m2.7 0h1.8m-23.8 0.5h1.8m6.7 0h1.8m-1.3 0h1.8m0.7 0h1.8m-0.8 0h1.8m2.2 0h1.8m0.2 0h1.8m-25.8 0.5h1.8m5.7 0h1.8m2.2 0h1.8m-0.3 0h1.8m-0.8 0h1.8m-6.8 0.5h1.8m1.7 0h1.8m-0.3 0h1.8m-0.8 0h1.8m3.2 0h1.8m-0.8 0h1.8m2.7 0h1.8m-0.3 0h1.8m-1.3 0h1.8m-27.3 0.5h1.8m-1.3 0h1.8m1.2 0h1.8m4.2 0h1.8m1.7 0h1.8m-0.3 0h1.8m-0.8 0h1.8m-0.8 0h1.8m0.2 0h1.8m-18.3 0.5h1.8m3.7 0h1.8m5.2 0h1.8m-0.8 0h1.8m3.7 0h1.8m-0.3 0h1.8m0.2 0h1.8m-1.3 0h1.8m2.7 0h1.8m-33.3 0.5h1.8m4.7 0h1.8m2.7 0h1.8m-0.8 0h1.8m-0.8 0h1.8m0.2 0h1.8m-1.3 0h1.8m-0.8 0h1.8m-0.8 0h1.8m10.7 0h1.8m-24.8 0.5h1.8m5.2 0h1.8m0.7 0h1.8m-7.3 0.5h1.8m0.7 0h1.8m-0.8 0h1.8m3.2 0h1.8m4.2 0h1.8m4.2 0h1.8m-31.3 0.5h1.8m12.2 0h1.8m-0.8 0h1.8m0.7 0h1.8m-0.8 0h1.8m2.7 0h1.8m0.7 0h1.8m-29.8 0.5h1.8m6.2 0h1.8m-1.3 0h1.8m3.2 0h1.8m-0.8 0h1.8m-1.3 0h1.8m8.2 0h1.8m-14.8 0.5h1.8m-0.8 0h1.8m7.2 0h1.8m-0.3 0h1.8m-0.3 0h1.8m1.2 0h1.8m-0.3 0h1.8m-25.8 0.5h1.8m-1.3 0h1.8m1.2 0h1.8m-1.3 0h1.8m-0.3 0h1.8m4.2 0h1.8m-1.3 0h1.8m-0.3 0h1.8m-9.8 0.5h1.8m1.2 0h1.8m-1.3 0h1.8m-1.3 0h1.8m1.7 0h1.8m-9.3 0.5h1.8m6.2 0h1.8m2.7 0h1.8m-15.8 0.5h1.8m-1.3 0h1.8m-0.3 0h1.8m-1.3 0h1.8m0.2 0h1.8m1.2 0h1.8m2.2 0h1.8m-0.8 0h1.8m-13.8 0.5h1.8m1.2 0h1.8m0.2 0h1.8m1.2 0h1.8m-1.3 0h1.8m-0.8 0h1.8m-0.8 0h1.8m-17.3 0.5h1.8m7.7 0h1.8m5.7 0h1.8m2.2 0h1.8m1.7 0h1.8m-21.3 0.5h1.8m1.2 0h1.8m13.2 0h1.8m-15.8 0.5h1.8m-0.8 0h1.8m-0.3 0h1.8m-0.3 0h1.8m0.7 0h1.8m-1.3 0h1.8m7.2 0h1.8m-18.8 0.5h1.8m-0.8 0h1.8m1.7 0h1.8m1.7 0h1.8m3.2 0h1.8m-20.3 0.5h1.8m2.7 0h1.8m0.7 0h1.8m1.7 0h1.8m-0.8 0h1.8m2.7 0h1.8m-17.8 0.5h1.8m-0.3 0h1.8m1.2 0h1.8m1.2 0h1.8m-0.3 0h1.8m1.7 0h1.8m-13.8 0.5h1.8m0.7 0h1.8m1.2 0h1.8m0.7 0h1.8m-16.3 0.5h1.8m0.2 0h1.8m6.2 0h1.8m11.7 0h1.8m-18.3 0.5h1.8m-0.8 0h1.8m6.2 0h1.8m-0.3 0h1.8m-0.3 0h1.8m2.2 0h1.8m-12.8 0.5h1.8m2.2 0h1.8m9.2 0h1.8m-29.3 0.5h1.8m6.2 0h1.8m0.7 0h1.8m2.2 0h1.8m5.2 0h1.8m-13.8 0.5h1.8m2.2 0h1.8m0.7 0h1.8m-1.3 0h1.8m-1.3 0h1.8m0.2 0h1.8m0.2 0h1.8m-0.3 0h1.8m-23.3 0.5h1.8m12.2 0h1.8m-0.8 0h1.8m3.2 0h1.8m-16.3 0.5h1.8m8.7 0h1.8m-0.8 0h1.8m-1.3 0h1.8m1.2 0h1.8m2.7 0h1.8m-24.8 0.5h1.8m1.7 0h1.8m-1.3 0h1.8m-1.3 0h1.8m-0.8 0h1.8m4.7 0h1.8m1.2 0h1.8m-1.3 0h1.8m0.7 0h1.8m-0.8 0h1.8m-20.8 0.5h1.8m2.2 0h1.8m3.7 0h1.8m2.7 0h1.8m3.7 0h1.8m4.2 0h1.8m-23.3 0.5h1.8m1.7 0h1.8m3.2 0h1.8m-0.3 0h1.8m-0.8 0h1.8m-0.3 0h1.8m-19.8 0.5h1.8m2.2 0h1.8m1.2 0h1.8m4.7 0h1.8m-0.8 0h1.8m-1.3 0h1.8m2.7 0h1.8m-20.3 0.5h1.8m4.7 0h1.8m2.7 0h1.8m1.7 0h1.8m0.2 0h1.8m-1.3 0h1.8m4.2 0h1.8m1.2 0h1.8m-31.3 0.5h1.8m2.7 0h1.8m4.2 0h1.8m3.7 0h1.8m0.2 0h1.8m-1.3 0h1.8m-0.3 0h1.8m1.7 0h1.8m-15.8 0.5h1.8m-1.3 0h1.8m2.7 0h1.8m9.7 0h1.8m-21.8 0.5h1.8m-0.8 0h1.8m6.7 0h1.8m-9.8 0.5h1.8m5.2 0h1.8m-9.3 0.5h1.8m21.2 0h1.8m-21.8 0.5h1.8m0.2 0h1.8m0.2 0h1.8m5.2 0h1.8m-15.8 0.5h1.8m3.7 0h1.8m2.7 0h1.8m5.2 0h1.8m-22.8 0.5h1.8m2.7 0h1.8m-0.8 0h1.8m-0.3 0h1.8m-1.3 0h1.8m-1.3 0h1.8m11.2 0h1.8m-7.8 0.5h1.8m2.2 0h1.8m4.7 0h1.8m-19.8 0.5h1.8m4.7 0h1.8m-1.3 0h1.8m-0.8 0h1.8m2.7 0h1.8m-1.3 0h1.8m-12.8 0.5h1.8m-0.3 0h1.8m-0.8 0h1.8m-0.8 0h1.8m-10.3 0.5h1.8m7.7 0h1.8m8.2 0h1.8m-15.3 0.5h1.8m-6.3 0.5h1.8m2.7 0.5h1.8m4.7 0.5h1.8m0.7 0h1.8m1.2 0h1.8m-13.8 0.5h1.8m5.2 0h1.8m-10.3 0.5h1.8m10.2 0.5h1.8m-22.3 0.5h1.8m4.7 0.5h1.8m3.2 0h1.8m-3.3 1h1.8m-2.8 0.5h1.8m-1.3 0h1.8m-1.3 0h1.8m6.2 0h1.8m-10.8 0.5h1.8m-1.8 0.5h1.8m0.2 0h1.8m-1.8 1h1.8m-10.3 0.5h1.8m15.7 0.5h1.8m-11.8 1.5h1.8m-1.8 0.5h1.8m2.2 0h1.8m-4.3 0.5h1.8m-7.3 2.5h1.8m-10.8 15.5h1.8m-1.3 0h1.8m-0.3 0h1.8m-0.8 0h1.8m1.7 0h1.8m-1.3 0h1.8m-1.3 0h1.8m0.7 0h1.8m-1.3 0h1.8m0.7 0h1.8m-0.3 0h1.8m-1.3 0h1.8m-1.3 0h1.8m-1.3 0h1.8m-1.3 0h1.8m-0.3 0h1.8m2.2 0h1.8m0.7 0h1.8" stroke="#000" stroke-width="1.8"/>
<rect x="535.7" y="650" width="123.3" height="122.8" fill="none" stroke="#a0a0a0" stroke-width="1.1"/>
<text x="530.2" y="666.2" font-size="11" text-anchor="end">10<tspan dy="-6.8" font-size="11">5</tspan></text>
<text x="530.2" y="689" font-size="11" text-anchor="end">10<tspan dy="-6.8" font-size="11">4</tspan></text>
<text x="530.2" y="712" font-size="11" text-anchor="end">10<tspan dy="-6.8" font-size="11">3</tspan></text>
<text x="530.2" y="734.1" font-size="11" text-anchor="end">10<tspan dy="-6.8" font-size="11">2</tspan></text>
<text x="530.2" y="757.6" font-size="11" text-anchor="end">10<tspan dy="-6.8" font-size="11">1</tspan></text>
<text x="530.2" y="774.2" font-size="11" text-anchor="end">10<tspan dy="-6.8" font-size="11">0</tspan></text>
<text x="539.2" y="789.6" font-size="11">10<tspan dy="-6.8" font-size="11">0</tspan></text>
<text x="556.1" y="789.6" font-size="11">10<tspan dy="-6.8" font-size="11">1</tspan></text>
<text x="578.6" y="789.6" font-size="11">10<tspan dy="-6.8" font-size="11">2</tspan></text>
<text x="601" y="789.6" font-size="11">10<tspan dy="-6.8" font-size="11">3</tspan></text>
<text x="623.4" y="789.6" font-size="11">10<tspan dy="-6.8" font-size="11">4</tspan></text>
<text x="640.9" y="789.6" font-size="11">10<tspan dy="-6.8" font-size="11">5</tspan></text>
<ellipse cx="625" cy="688" rx="5" ry="4.5" fill="#000"/>
<path d="M598.5 670.4h1.8m-0.3 6h1.8m-29.3 0.5h1.8m10.7 0.5h1.8m35.7 0.5h1.8m-5.3 0.5h1.8m-51.3 0.5h1.8m49.2 0h1.8m5.2 0h1.8m-11.8 0.5h1.8m-0.8 0h1.8m2.2 0h1.8m5.2 0h1.8m-42.3 0.5h1.8m0.7 0h1.8m28.7 0h1.8m5.7 0h1.8m-0.3 0h1.8m-64.8 0.5h1.8m41.2 0h1.8m4.2 0h1.8m-0.8 0h1.8m-37.8 0.5h1.8m19.2 0h1.8m17.7 0h1.8m3.2 0h1.8m-16.3 0.5h1.8m11.7 0h1.8m0.2 0h1.8m-13.3 0.5h1.8m-0.3 0h1.8m0.2 0h1.8m-0.3 0h1.8m-0.8 0h1.8m2.7 0h1.8m4.2 0h1.8m-63.3 0.5h1.8m17.2 0h1.8m3.2 0h1.8m14.7 0h1.8m5.7 0h1.8m-0.8 0h1.8m0.2 0h1.8m-0.8 0h1.8m-1.3 0h1.8m1.2 0h1.8m0.2 0h1.8m-1.3 0.5h1.8m-1.3 0h1.8m-46.3 0.5h1.8m13.2 0h1.8m11.2 0h1.8m-1.3 0h1.8m-1.3 0h1.8m-40.3 0.5h1.8m4.2 0h1.8m0.7 0h1.8m28.2 0h1.8m5.2 0h1.8m-1.3 0h1.8m0.2 0h1.8m0.7 0h1.8m-44.3 0.5h1.8m8.2 0h1.8m20.7 0h1.8m-1.3 0h1.8m0.7 0h1.8m2.2 0h1.8m1.7 0h1.8m-0.8 0h1.8m-46.8 0.5h1.8m0.2 0h1.8m0.7 0h1.8m21.2 0h1.8m5.7 0h1.8m-1.3 0h1.8m2.2 0h1.8m0.2 0h1.8m3.2 0h1.8m0.2 0h1.8m-54.8 0.5h1.8m7.7 0h1.8m5.7 0h1.8m12.2 0h1.8m8.2 0h1.8m0.7 0h1.8m-1.3 0h1.8m-0.8 0h1.8m-0.3 0h1.8m-53.8 0.5h1.8m31.7 0h1.8m4.7 0h1.8m-1.3 0h1.8m1.2 0h1.8m-0.8 0h1.8m-0.8 0h1.8m0.7 0h1.8m-0.3 0h1.8m0.7 0h1.8m-0.8 0h1.8m1.2 0h1.8m-57.3 0.5h1.8m28.2 0h1.8m7.2 0h1.8m4.2 0h1.8m-1.3 0h1.8m0.2 0h1.8m-0.8 0h1.8m2.2 0h1.8m-0.3 0h1.8m-15.3 0.5h1.8m-0.3 0h1.8m-1.3 0h1.8m-1.3 0h1.8m-1.3 0h1.8m2.2 0h1.8m0.2 0h1.8m0.7 0h1.8m4.7 0h1.8m-20.3 0.5h1.8m0.7 0h1.8m-0.3 0h1.8m1.2 0h1.8m2.7 0h1.8m-1.3 0h1.8m-1.3 0h1.8m1.2 0h1.8m-34.3 0.5h1.8m13.2 0h1.8m1.2 0h1.8m0.2 0h1.8m2.2 0h1.8m-1.3 0h1.8m-0.8 0h1.8m2.7 0h1.8m0.2 0h1.8m3.2 0h1.8m-44.8 0.5h1.8m24.2 0h1.8m2.7 0h1.8m0.2 0h1.8m2.2 0h1.8m-1.3 0h1.8m-1.3 0h1.8m-0.8 0h1.8m-0.8 0h1.8m-59.8 0.5h1.8m29.7 0h1.8m-0.3 0h1.8m6.7 0h1.8m0.7 0h1.8m-1.3 0h1.8m-1.3 0h1.8m2.2 0h1.8m0.2 0h1.8m3.7 0h1.8m-0.3 0h1.8m-57.8 0.5h1.8m0.7 0h1.8m33.2 0h1.8m2.7 0h1.8m2.7 0h1.8m0.2 0h1.8m3.7 0h1.8m-1.3 0h1.8m1.2 0h1.8m-60.8 0.5h1.8m21.2 0h1.8m18.7 0h1.8m-0.8 0h1.8m0.2 0h1.8m2.7 0h1.8m-0.8 0h1.8m1.7 0h1.8m1.7 0h1.8m-0.8 0h1.8m-28.3 0.5h1.8m9.2 0h1.8m0.7 0h1.8m1.2 0h1.8m-1.3 0h1.8m-1.3 0h1.8m0.2 0h1.8m-1.3 0h1.8m3.2 0h1.8m-0.3 0h1.8m-60.3 0.5h1.8m38.2 0h1.8m0.2 0h1.8m3.2 0h1.8m-0.8 0h1.8m-1.3 0h1.8m1.2 0h1.8m1.2 0h1.8m-1.3 0h1.8m-62.3 0.5h1.8m43.7 0h1.8m-1.3 0h1.8m-0.8 0h1.8m-0.3 0h1.8m-1.3 0h1.8m-0.3 0h1.8m-0.8 0h1.8m-0.3 0h1.8m0.2 0h1.8m-0.8 0h1.8m0.2 0h1.8m3.7 0h1.8m-26.3 0.5h1.8m4.2 0h1.8m1.7 0h1.8m-1.3 0h1.8m1.2 0h1.8m0.2 0h1.8m1.7 0h1.8m3.2 0h1.8m-41.3 0.5h1.8m11.7 0h1.8m4.2 0h1.8m5.7 0h1.8m1.2 0h1.8m-1.3 0h1.8m2.7 0h1.8m-18.8 0.5h1.8m3.7 0h1.8m0.7 0h1.8m1.7 0h1.8m-0.8 0h1.8m-1.3 0h1.8m3.2 0h1.8m-0.8 0h1.8m-0.3 0h1.8m-11.3 0.5h1.8m-0.3 0h1.8m-0.3 0h1.8m1.7 0h1.8m-0.8 0h1.8m-0.3 0h1.8m-13.3 0.5h1.8m-0.8 0h1.8m-0.8 0h1.8m-1.3 0h1.8m-0.8 0h1.8m8.2 0h1.8m-1.3 0h1.8m-28.3 0.5h1.8m1.2 0h1.8m4.2 0h1.8m1.7 0h1.8m0.7 0h1.8m0.2 0h1.8m-1.3 0h1.8m0.7 0h1.8m4.2 0h1.8m-62.3 0.5h1.8m14.2 0h1.8m5.2 0h1.8m11.2 0h1.8m1.7 0h1.8m5.7 0h1.8m4.2 0h1.8m0.7 0h1.8m-0.3 0h1.8m-52.3 0.5h1.8m5.7 0h1.8m-1.3 0h1.8m31.2 0h1.8m3.7 0h1.8m1.2 0h1.8m-19.8 0.5h1.8m2.2 0h1.8m9.2 0h1.8m-22.3 0.5h1.8m8.2 0h1.8m6.7 0h1.8m-0.8 0h1.8m-0.3 0h1.8m-0.3 0h1.8m-0.3 0h1.8m-1.3 0h1.8m0.2 0h1.8m-60.8 0.5h1.8m5.7 0h1.8m34.7 0h1.8m0.7 0h1.8m1.2 0h1.8m1.2 0h1.8m0.2 0h1.8m2.7 0h1.8m-33.3 0.5h1.8m3.7 0h1.8m10.2 0h1.8m2.2 0h1.8m-1.3 0h1.8m3.2 0h1.8m-17.8 0.5h1.8m7.2 0h1.8m-0.8 0h1.8m0.7 0h1.8m9.7 0h1.8m-23.3 0.5h1.8m0.2 0h1.8m1.7 0h1.8m4.7 0h1.8m2.7 0h1.8m-0.8 0h1.8m-1.3 0h1.8m-50.8 0.5h1.8m21.2 0h1.8m7.7 0h1.8m-0.8 0h1.8m3.7 0h1.8m-0.3 0h1.8m-1.3 0h1.8m0.2 0h1.8m-0.3 0h1.8m-0.8 0h1.8m-0.3 0h1.8m3.2 0h1.8m-60.8 0.5h1.8m6.7 0h1.8m0.7 0h1.8m19.7 0h1.8m5.7 0h1.8m5.2 0h1.8m1.2 0h1.8m-0.8 0h1.8m-0.8 0h1.8m-0.8 0h1.8m-45.3 0.5h1.8m25.2 0.5h1.8m10.2 0h1.8m1.2 0h1.8m-6.8 0.5h1.8m-13.3 0.5h1.8m-1.3 0h1.8m2.7 0h1.8m-1.3 0h1.8m0.7 0h1.8m-1.3 0h1.8m2.7 0h1.8m-1.3 0h1.8m-1.3 0h1.8m1.2 0h1.8m-0.3 0h1.8m-6.3 0.5h1.8m0.2 0h1.8m-23.8 0.5h1.8m9.7 0h1.8m14.2 0h1.8m-10.3 0.5h1.8m-13.8 0.5h1.8m-1.3 0h1.8m7.7 0h1.8m-16.8 0.5h1.8m17.2 0h1.8m-0.8 0h1.8m3.2 0h1.8m-23.3 0.5h1.8m2.2 0h1.8m0.2 0h1.8m1.2 0h1.8m0.2 0h1.8m0.2 0h1.8m0.2 0h1.8m1.2 0h1.8m2.2 0h1.8m1.2 0h1.8m-24.3 0.5h1.8m4.7 0h1.8m2.7 0h1.8m0.7 0h1.8m-10.8 0.5h1.8m0.2 0h1.8m-0.3 0h1.8m-0.3 0h1.8m-1.3 0h1.8m0.2 0h1.8m2.2 0h1.8m0.7 0h1.8m-15.8 0.5h1.8m1.7 0h1.8m-0.3 0h1.8m1.2 0h1.8m2.2 0h1.8m-1.3 0h1.8m-19.3 0.5h1.8m0.2 0h1.8m6.7 0h1.8m1.2 0h1.8m-13.8 0.5h1.8m2.2 0h1.8m-0.8 0h1.8m-0.8 0h1.8m-10.8 0.5h1.8m21.7 0h1.8m-18.8 0.5h1.8m4.7 0h1.8m-19.8 0.5h1.8m0.2 0h1.8m4.7 0h1.8m1.7 0h1.8m11.2 0h1.8m0.2 0h1.8m-6.3 0.5h1.8m-0.8 0h1.8m-11.3 0.5h1.8m-6.3 0.5h1.8m11.2 0h1.8m-16.3 0.5h1.8m5.2 0h1.8m4.2 0h1.8m-14.8 0.5h1.8m0.2 0h1.8m-1.3 0h1.8m4.7 0h1.8m3.2 0h1.8m-2.3 0.5h1.8m-15.8 0.5h1.8m2.7 0h1.8m0.7 0h1.8m-10.8 0.5h1.8m5.7 0h1.8m-1.3 0h1.8m5.2 0h1.8m6.2 0h1.8m-19.3 0.5h1.8m-1.3 0h1.8m-0.8 0h1.8m11.7 0h1.8m-17.3 0.5h1.8m4.2 0h1.8m5.2 0h1.8m-6.8 0.5h1.8m3.7 0h1.8m-28.3 0.5h1.8m6.7 0h1.8m7.2 0h1.8m5.7 0h1.8m-26.8 0.5h1.8m22.2 0h1.8m-0.3 0h1.8m-17.3 0.5h1.8m1.2 0h1.8m7.7 0h1.8m0.2 0h1.8m3.7 0h1.8m0.2 0h1.8m-17.8 0.5h1.8m-0.3 0h1.8m-12.8 0.5h1.8m3.7 0h1.8m17.2 0h1.8m-17.3 0.5h1.8m-9.3 0.5h1.8m1.2 0h1.8m2.7 0h1.8m-0.8 0h1.8m-9.8 0.5h1.8m-1.3 0h1.8m0.2 0h1.8m0.7 0h1.8m1.2 0h1.8m-0.3 0h1.8m2.2 0h1.8m3.2 0h1.8m-20.3 0.5h1.8m6.7 0h1.8m0.2 0h1.8m-0.8 0h1.8m3.2 0h1.8m-8.8 1h1.8m6.2 0h1.8m-18.3 0.5h1.8m18.2 0h1.8m-25.8 0.5h1.8m4.7 0h1.8m-0.3 0h1.8m4.7 0h1.8m-5.8 1h1.8m2.2 0h1.8m6.7 0.5h1.8m-59.3 0.5h1.8m42.7 0h1.8m4.7 0h1.8m-8.8 0.5h1.8m-6.3 0.5h1.8m6.7 0h1.8m-44.3 1h1.8m37.7 0h1.8m-2.3 0.5h1.8m-14.3 1.5h1.8m21.7 0h1.8m1.2 0h1.8m-23.3 0.5h1.8m1.2 0.5h1.8m6.7 0h1.8m0.2 0h1.8m-13.3 0.5h1.8m-9.3 0.5h1.8m1.7 0h1.8m17.2 0h1.8m-17.8 1h1.8m-0.8 0h1.8m-1.3 0h1.8m0.7 0h1.8m-7.3 0.5h1.8m3.2 0h1.8m-8.3 0.5h1.8m13.7 0h1.8m-3.3 0.5h1.8m4.2 0.5h1.8m-8.3 1.5h1.8m1.7 0.5h1.8m-14.8 0.5h1.8m3.2 0h1.8m-4.8 0.5h1.8m9.2 0h1.8m-11.3 0.5h1.8m-0.3 0h1.8m-4.8 0.5h1.8m0.7 0h1.8m12.2 1h1.8m-20.8 0.5h1.8m0.2 0.5h1.8m0.7 0h1.8m-7.8 2.5h1.8m1.2 0h1.8m4.2 0h1.8m1.2 1.5h1.8m-6.3 5h1.8m-6.3 2.5h1.8m-6.3 8h1.8m-4.3 14.5h1.8m2.7 0h1.8m-0.8 0h1.8m0.2 0h1.8m1.7 0h1.8m-0.3 0h1.8m0.7 0h1.8m-1.3 0h1.8m-0.8 0h1.8m-0.8 0h1.8" stroke="#000" stroke-width="1.8"/>
<rect x="64" y="827.5" width="124.6" height="122.3" fill="none" stroke="#a0a0a0" stroke-width="1.1"/>
<text x="58.5" y="843.7" font-size="11" text-anchor="end">10<tspan dy="-6.8" font-size="11">5</tspan></text>
<text x="58.5" y="866.5" font-size="11" text-anchor="end">10<tspan dy="-6.8" font-size="11">4</tspan></text>
<text x="58.5" y="889.5" font-size="11" text-anchor="end">10<tspan dy="-6.8" font-size="11">3</tspan></text>
<text x="58.5" y="911.6" font-size="11" text-anchor="end">10<tspan dy="-6.8" font-size="11">2</tspan></text>
<text x="58.5" y="935.1" font-size="11" text-anchor="end">10<tspan dy="-6.8" font-size="11">1</tspan></text>
<text x="58.5" y="951.7" font-size="11" text-anchor="end">10<tspan dy="-6.8" font-size="11">0</tspan></text>
<text x="67.5" y="966.6" font-size="11">10<tspan dy="-6.8" font-size="11">0</tspan></text>
<text x="84.4" y="966.6" font-size="11">10<tspan dy="-6.8" font-size="11">1</tspan></text>
<text x="106.9" y="966.6" font-size="11">10<tspan dy="-6.8" font-size="11">2</tspan></text>
<text x="129.3" y="966.6" font-size="11">10<tspan dy="-6.8" font-size="11">3</tspan></text>
<text x="151.7" y="966.6" font-size="11">10<tspan dy="-6.8" font-size="11">4</tspan></text>
<text x="169.2" y="966.6" font-size="11">10<tspan dy="-6.8" font-size="11">5</tspan></text>
<path d="M156 860.4h1.8m-0.8 0.5h1.8m-4.3 1h1.8m0.2 0.5h1.8m-6.8 11.5h1.8m1.7 0h1.8m-2.3 3h1.8m-5.8 0.5h1.8m-0.3 1h1.8m-0.8 2h1.8m-1.3 2h1.8m-3.3 1h1.8m0.7 0h1.8m-4.8 2h1.8m-2.8 2.5h1.8m-4.3 0.5h1.8m0.7 7h1.8m-0.3 0.5h1.8m-8.3 1h1.8m0.7 4.5h1.8m1.7 3h1.8m-2.3 4.5h1.8" stroke="#000" stroke-width="1.8"/>
<rect x="224.2" y="825.5" width="123.1" height="122.4" fill="none" stroke="#a0a0a0" stroke-width="1.1"/>
<text x="218.7" y="841.7" font-size="11" text-anchor="end">10<tspan dy="-6.8" font-size="11">5</tspan></text>
<text x="218.7" y="864.5" font-size="11" text-anchor="end">10<tspan dy="-6.8" font-size="11">4</tspan></text>
<text x="218.7" y="887.5" font-size="11" text-anchor="end">10<tspan dy="-6.8" font-size="11">3</tspan></text>
<text x="218.7" y="909.6" font-size="11" text-anchor="end">10<tspan dy="-6.8" font-size="11">2</tspan></text>
<text x="218.7" y="933.1" font-size="11" text-anchor="end">10<tspan dy="-6.8" font-size="11">1</tspan></text>
<text x="218.7" y="949.7" font-size="11" text-anchor="end">10<tspan dy="-6.8" font-size="11">0</tspan></text>
<text x="227.7" y="964.7" font-size="11">10<tspan dy="-6.8" font-size="11">0</tspan></text>
<text x="244.6" y="964.7" font-size="11">10<tspan dy="-6.8" font-size="11">1</tspan></text>
<text x="267.1" y="964.7" font-size="11">10<tspan dy="-6.8" font-size="11">2</tspan></text>
<text x="289.5" y="964.7" font-size="11">10<tspan dy="-6.8" font-size="11">3</tspan></text>
<text x="311.9" y="964.7" font-size="11">10<tspan dy="-6.8" font-size="11">4</tspan></text>
<text x="329.4" y="964.7" font-size="11">10<tspan dy="-6.8" font-size="11">5</tspan></text>
<path d="M300 837.4h1.8m8.2 16.5h1.8m-30.8 3h1.8m31.2 7h1.8m-3.8 3h1.8m-17.8 4h1.8m1.7 0h1.8m-6.8 2.5h1.8m3.7 2h1.8m-9.8 0.5h1.8m-2.8 1.5h1.8m3.7 0h1.8m5.2 2h1.8m-8.3 4.5h1.8m-6.3 1h1.8m9.7 0h1.8m-9.8 0.5h1.8m-8.3 1h1.8m-1.3 0h1.8m7.7 2h1.8m-7.8 1.5h1.8m-5.8 0.5h1.8m6.7 0h1.8m-10.3 0.5h1.8m-0.3 4h1.8m10.7 0h1.8m-7.3 1.5h1.8" stroke="#000" stroke-width="1.8"/>
<rect x="380.3" y="825.4" width="122.9" height="122.9" fill="none" stroke="#a0a0a0" stroke-width="1.1"/>
<text x="374.8" y="841.6" font-size="11" text-anchor="end">10<tspan dy="-6.8" font-size="11">5</tspan></text>
<text x="374.8" y="864.4" font-size="11" text-anchor="end">10<tspan dy="-6.8" font-size="11">4</tspan></text>
<text x="374.8" y="887.4" font-size="11" text-anchor="end">10<tspan dy="-6.8" font-size="11">3</tspan></text>
<text x="374.8" y="909.5" font-size="11" text-anchor="end">10<tspan dy="-6.8" font-size="11">2</tspan></text>
<text x="374.8" y="933" font-size="11" text-anchor="end">10<tspan dy="-6.8" font-size="11">1</tspan></text>
<text x="374.8" y="949.6" font-size="11" text-anchor="end">10<tspan dy="-6.8" font-size="11">0</tspan></text>
<text x="383.8" y="965.1" font-size="11">10<tspan dy="-6.8" font-size="11">0</tspan></text>
<text x="400.7" y="965.1" font-size="11">10<tspan dy="-6.8" font-size="11">1</tspan></text>
<text x="423.2" y="965.1" font-size="11">10<tspan dy="-6.8" font-size="11">2</tspan></text>
<text x="445.6" y="965.1" font-size="11">10<tspan dy="-6.8" font-size="11">3</tspan></text>
<text x="468" y="965.1" font-size="11">10<tspan dy="-6.8" font-size="11">4</tspan></text>
<text x="485.5" y="965.1" font-size="11">10<tspan dy="-6.8" font-size="11">5</tspan></text>
<path d="M421 846.9h1.8m25.2 0h1.8m-28.8 0.5h1.8m10.7 0.5h1.8m-16.8 0.5h1.8m6.7 0h1.8m1.7 0h1.8m-19.3 0.5h1.8m3.7 0h1.8m2.2 0h1.8m2.2 0h1.8m-15.3 0.5h1.8m5.2 0h1.8m1.2 0h1.8m6.7 0h1.8m9.7 0h1.8m-29.8 1h1.8m-1.3 0h1.8m5.2 0h1.8m2.7 0h1.8m10.2 0h1.8m-30.3 0.5h1.8m21.2 0h1.8m-20.8 0.5h1.8m11.7 0h1.8m-1.3 0h1.8m13.7 0h1.8m-39.8 0.5h1.8m7.2 0h1.8m2.7 0h1.8m3.7 0h1.8m-0.3 0h1.8m-0.3 0h1.8m0.2 0h1.8m2.2 0h1.8m-1.3 0h1.8m-17.3 0.5h1.8m4.2 0h1.8m-0.3 0h1.8m-0.3 0h1.8m9.7 0h1.8m-23.3 0.5h1.8m1.2 0h1.8m-1.3 0h1.8m0.2 0h1.8m-0.8 0h1.8m3.2 0h1.8m-7.3 0.5h1.8m2.7 0h1.8m0.7 0h1.8m0.2 0h1.8m2.2 0h1.8m3.2 0h1.8m-1.3 0h1.8m-26.3 0.5h1.8m4.2 0h1.8m-1.3 0h1.8m5.7 0h1.8m-24.8 0.5h1.8m15.2 0h1.8m0.7 0h1.8m0.7 0h1.8m4.2 0h1.8m0.2 0h1.8m-0.8 0h1.8m21.2 0h1.8m7.2 0h1.8m-66.3 0.5h1.8m7.2 0h1.8m5.7 0h1.8m3.7 0h1.8m-0.8 0h1.8m-0.3 0h1.8m1.2 0h1.8m19.7 0h1.8m4.7 0h1.8m3.2 0h1.8m-0.3 0h1.8m-72.3 0.5h1.8m16.2 0h1.8m1.2 0h1.8m8.2 0h1.8m-0.8 0h1.8m3.7 0h1.8m-1.3 0h1.8m-0.8 0h1.8m1.7 0h1.8m7.7 0h1.8m3.7 0h1.8m1.7 0h1.8m-1.3 0h1.8m1.7 0h1.8m1.7 0h1.8m-0.3 0h1.8m-78.8 0.5h1.8m10.2 0h1.8m2.7 0h1.8m3.7 0h1.8m2.7 0h1.8m-0.8 0h1.8m-0.3 0h1.8m-0.8 0h1.8m1.2 0h1.8m3.7 0h1.8m-1.3 0h1.8m0.7 0h1.8m20.2 0h1.8m2.7 0h1.8m4.7 0h1.8m-52.8 0.5h1.8m0.7 0h1.8m6.7 0h1.8m-0.3 0h1.8m7.2 0h1.8m4.2 0h1.8m19.7 0h1.8m-48.3 0.5h1.8m0.2 0h1.8m-0.8 0h1.8m-0.8 0h1.8m7.2 0h1.8m8.7 0h1.8m9.2 0h1.8m13.7 0h1.8m-74.8 0.5h1.8m10.2 0h1.8m7.2 0h1.8m0.2 0h1.8m1.2 0h1.8m4.2 0h1.8m-1.3 0h1.8m0.2 0h1.8m-1.3 0h1.8m1.7 0h1.8m0.2 0h1.8m-0.8 0h1.8m5.7 0h1.8m-0.3 0h1.8m4.2 0h1.8m8.7 0h1.8m-0.3 0h1.8m-48.8 0.5h1.8m-0.8 0h1.8m2.2 0h1.8m0.2 0h1.8m-1.3 0h1.8m1.2 0h1.8m3.2 0h1.8m1.7 0h1.8m-1.3 0h1.8m4.2 0h1.8m2.2 0h1.8m4.2 0h1.8m0.7 0h1.8m-0.8 0h1.8m5.2 0h1.8m0.7 0h1.8m5.7 0h1.8m-67.3 0.5h1.8m1.7 0h1.8m-0.8 0h1.8m1.7 0h1.8m1.7 0h1.8m1.7 0h1.8m1.2 0h1.8m3.2 0h1.8m-1.3 0h1.8m-0.3 0h1.8m3.2 0h1.8m1.2 0h1.8m0.2 0h1.8m16.2 0h1.8m-0.3 0h1.8m0.7 0h1.8m1.7 0h1.8m-62.3 0.5h1.8m-0.8 0h1.8m-0.3 0h1.8m0.7 0h1.8m-0.3 0h1.8m9.7 0h1.8m-0.8 0h1.8m0.7 0h1.8m1.7 0h1.8m4.2 0h1.8m0.7 0h1.8m4.7 0h1.8m-0.8 0h1.8m-0.8 0h1.8m2.2 0h1.8m-0.8 0h1.8m-1.3 0h1.8m4.7 0h1.8m-54.3 0.5h1.8m6.7 0h1.8m1.7 0h1.8m7.2 0h1.8m1.2 0h1.8m1.2 0h1.8m-0.3 0h1.8m1.7 0h1.8m5.2 0h1.8m5.2 0h1.8m2.2 0h1.8m-1.3 0h1.8m3.2 0h1.8m0.2 0h1.8m-0.3 0h1.8m1.2 0h1.8m-58.3 0.5h1.8m8.2 0h1.8m-0.8 0h1.8m0.7 0h1.8m9.7 0h1.8m7.2 0h1.8m1.7 0h1.8m2.7 0h1.8m3.7 0h1.8m0.7 0h1.8m-1.3 0h1.8m4.2 0h1.8m-59.8 0.5h1.8m-0.3 0h1.8m6.2 0h1.8m6.2 0h1.8m1.7 0h1.8m-0.8 0h1.8m7.2 0h1.8m0.2 0h1.8m2.2 0h1.8m-0.3 0h1.8m-0.8 0h1.8m4.2 0h1.8m-1.3 0h1.8m1.2 0h1.8m-1.3 0h1.8m-48.8 0.5h1.8m-1.3 0h1.8m3.2 0h1.8m-0.3 0h1.8m-0.3 0h1.8m0.2 0h1.8m-0.3 0h1.8m10.7 0h1.8m2.7 0h1.8m8.7 0h1.8m-0.8 0h1.8m1.7 0h1.8m-0.3 0h1.8m-0.8 0h1.8m2.7 0h1.8m0.7 0h1.8m-52.3 0.5h1.8m-1.3 0h1.8m5.7 0h1.8m-1.3 0h1.8m1.2 0h1.8m35.7 0h1.8m-60.3 0.5h1.8m8.7 0h1.8m2.7 0h1.8m-0.3 0h1.8m1.2 0h1.8m0.7 0h1.8m3.7 0h1.8m0.7 0h1.8m3.2 0h1.8m9.2 0h1.8m0.2 0h1.8m3.2 0h1.8m-1.3 0h1.8m0.7 0h1.8m3.7 0h1.8m-66.8 0.5h1.8m17.2 0h1.8m2.7 0h1.8m1.2 0h1.8m4.7 0h1.8m4.2 0h1.8m6.2 0h1.8m-0.3 0h1.8m-1.3 0h1.8m-0.8 0h1.8m-1.3 0h1.8m0.7 0h1.8m3.7 0h1.8m2.2 0h1.8m-60.8 0.5h1.8m2.2 0h1.8m7.7 0h1.8m1.2 0h1.8m0.2 0h1.8m2.2 0h1.8m17.2 0h1.8m2.7 0h1.8m3.7 0h1.8m1.2 0h1.8m-0.8 0h1.8m-45.8 0.5h1.8m5.2 0h1.8m6.7 0h1.8m-0.3 0h1.8m16.2 0h1.8m6.2 0h1.8m-1.3 0h1.8m2.7 0h1.8m2.7 0h1.8m-56.3 0.5h1.8m4.2 0h1.8m0.2 0h1.8m3.2 0h1.8m20.2 0h1.8m-0.3 0h1.8m-0.3 0h1.8m1.2 0h1.8m-1.3 0h1.8m-0.8 0h1.8m0.2 0h1.8m0.2 0h1.8m-55.3 0.5h1.8m-1.3 0h1.8m-0.8 0h1.8m3.7 0h1.8m5.2 0h1.8m4.2 0h1.8m7.7 0h1.8m7.7 0h1.8m3.2 0h1.8m1.2 0h1.8m-1.3 0h1.8m-0.3 0h1.8m-0.8 0h1.8m1.2 0h1.8m0.7 0h1.8m1.7 0h1.8m0.7 0h1.8m-53.8 0.5h1.8m2.2 0h1.8m3.2 0h1.8m2.2 0h1.8m14.7 0h1.8m-0.3 0h1.8m-0.3 0h1.8m3.2 0h1.8m-0.3 0h1.8m-1.3 0h1.8m-1.3 0h1.8m0.7 0h1.8m1.7 0h1.8m-54.3 0.5h1.8m5.2 0h1.8m3.7 0h1.8m5.7 0h1.8m13.7 0h1.8m-0.8 0h1.8m-0.8 0h1.8m0.7 0h1.8m-0.8 0h1.8m-0.3 0h1.8m8.2 0h1.8m-48.8 0.5h1.8m1.7 0h1.8m8.2 0h1.8m9.2 0h1.8m1.2 0h1.8m2.7 0h1.8m5.2 0h1.8m-1.3 0h1.8m1.7 0h1.8m0.2 0h1.8m-1.3 0h1.8m-0.8 0h1.8m-56.8 0.5h1.8m4.2 0h1.8m6.7 0h1.8m9.7 0h1.8m12.7 0h1.8m-0.8 0h1.8m3.2 0h1.8m0.2 0h1.8m6.2 0h1.8m-1.3 0h1.8m-56.3 0.5h1.8m4.2 0h1.8m0.7 0h1.8m7.2 0h1.8m1.7 0h1.8m-0.3 0h1.8m10.2 0h1.8m-0.8 0h1.8m-1.3 0h1.8m-0.8 0h1.8m4.2 0h1.8m2.2 0h1.8m2.2 0h1.8m-20.8 0.5h1.8m-0.3 0h1.8m3.7 0h1.8m0.7 0h1.8m3.2 0h1.8m0.7 0h1.8m-1.3 0h1.8m-0.3 0h1.8m0.2 0h1.8m-41.8 0.5h1.8m3.2 0h1.8m2.7 0h1.8m13.7 0h1.8m3.7 0h1.8m-0.8 0h1.8m1.7 0h1.8m-0.3 0h1.8m0.7 0h1.8m-51.8 0.5h1.8m3.2 0h1.8m31.7 0h1.8m1.2 0h1.8m-40.3 0.5h1.8m29.7 0h1.8m0.7 0h1.8m0.7 0h1.8m0.7 0h1.8m-0.3 0h1.8m-0.3 0h1.8m1.7 0h1.8m-0.8 0h1.8m-1.3 0h1.8m-1.3 0h1.8m-1.3 0h1.8m-14.3 0.5h1.8m-0.3 0h1.8m0.2 0h1.8m0.7 0h1.8m0.2 0h1.8m-0.3 0h1.8m0.7 0h1.8m-1.3 0h1.8m-22.3 0.5h1.8m1.7 0h1.8m4.2 0h1.8m-1.3 0h1.8m0.2 0h1.8m1.2 0h1.8m0.7 0h1.8m1.2 0h1.8m-0.8 0h1.8m-22.3 0.5h1.8m0.7 0h1.8m2.2 0h1.8m3.2 0h1.8m-0.3 0h1.8m3.2 0h1.8m-15.8 0.5h1.8m3.7 0h1.8m1.7 0h1.8m-0.8 0h1.8m0.2 0h1.8m0.2 0h1.8m-0.3 0h1.8m-16.3 0.5h1.8m-1.3 0h1.8m5.7 0h1.8m-0.8 0h1.8m1.7 0h1.8m0.2 0h1.8m-0.3 0h1.8m-19.3 0.5h1.8m3.7 0h1.8m-0.8 0h1.8m2.2 0h1.8m-1.3 0h1.8m-0.8 0h1.8m5.2 0h1.8m-22.8 0.5h1.8m5.2 0h1.8m6.7 0h1.8m-15.8 0.5h1.8m1.2 0h1.8m-0.3 0h1.8m-1.3 0h1.8m-1.3 0h1.8m0.2 0h1.8m-1.3 0h1.8m0.2 0h1.8m0.2 0h1.8m-1.3 0h1.8m-0.3 0h1.8m-11.8 0.5h1.8m4.7 0h1.8m9.2 0h1.8m-0.8 0h1.8m-24.8 0.5h1.8m8.2 0h1.8m-0.3 0h1.8m-0.8 0h1.8m-1.3 0h1.8m2.2 0h1.8m-22.3 0.5h1.8m10.2 0h1.8m-0.8 0h1.8m1.7 0h1.8m-1.3 0h1.8m-0.8 0h1.8m1.2 0h1.8m-17.3 0.5h1.8m-0.8 0h1.8m4.2 0h1.8m1.2 0h1.8m1.2 0h1.8m5.2 0h1.8m-26.3 0.5h1.8m4.2 0h1.8m-0.8 0h1.8m-1.3 0h1.8m3.2 0h1.8m0.2 0h1.8m3.2 0h1.8m-14.3 0.5h1.8m2.2 0h1.8m-0.8 0h1.8m-0.3 0h1.8m1.2 0h1.8m-16.8 0.5h1.8m5.2 0h1.8m0.7 0h1.8m-0.8 0h1.8m0.7 0h1.8m-0.8 0h1.8m-13.8 0.5h1.8m14.7 0h1.8m1.7 0h1.8m-26.3 0.5h1.8m4.2 0h1.8m1.7 0h1.8m3.7 0h1.8m3.7 0h1.8m2.2 0h1.8m-25.3 0.5h1.8m3.7 0h1.8m0.7 0h1.8m0.7 0h1.8m0.2 0h1.8m-0.3 0h1.8m1.7 0h1.8m-1.3 0h1.8m1.2 0h1.8m-0.8 0h1.8m-22.8 0.5h1.8m6.7 0h1.8m0.7 0h1.8m-1.3 0.5h1.8m-1.3 0h1.8m8.2 0h1.8m-15.3 0.5h1.8m-1.3 0h1.8m3.2 0h1.8m6.2 0h1.8m-25.8 0.5h1.8m7.2 0h1.8m3.7 0h1.8m-1.3 0h1.8m1.7 0h1.8m-0.8 0h1.8m4.2 0h1.8m-21.8 0.5h1.8m0.2 0h1.8m-1.3 0h1.8m-1.3 0h1.8m3.2 0h1.8m1.2 0h1.8m-4.3 0.5h1.8m-0.8 0h1.8m-0.3 0h1.8m-1.3 0h1.8m-0.8 0h1.8m2.7 0h1.8m-11.3 0.5h1.8m10.2 0h1.8m-27.3 0.5h1.8m12.7 0h1.8m1.2 0h1.8m-14.8 0.5h1.8m2.7 0h1.8m-0.3 0h1.8m-0.3 0h1.8m-0.8 0h1.8m-5.8 0.5h1.8m-0.3 0h1.8m-0.3 0h1.8m0.7 0h1.8m8.7 0h1.8m-16.8 0.5h1.8m1.7 0h1.8m11.7 0h1.8m-23.3 0.5h1.8m8.2 0h1.8m-1.3 0h1.8m-8.3 0.5h1.8m3.2 0h1.8m4.7 0h1.8m-21.3 0.5h1.8m2.2 0h1.8m16.2 0h1.8m-19.3 0.5h1.8m-1.3 0h1.8m4.2 0h1.8m2.7 0h1.8m0.2 0h1.8m-16.3 0.5h1.8m11.7 0h1.8m-1.3 0h1.8m-0.3 0h1.8m-19.8 0.5h1.8m2.2 0h1.8m2.2 0h1.8m2.2 0h1.8m3.7 0h1.8m0.2 0h1.8m-20.8 0.5h1.8m5.7 0h1.8m8.7 0h1.8m0.7 0h1.8m-21.8 1h1.8m6.2 0h1.8m-1.3 0h1.8m-0.3 0h1.8m-0.8 0h1.8m2.2 0.5h1.8m4.7 0h1.8m-16.8 0.5h1.8m4.2 0h1.8m-0.8 0h1.8m-5.8 0.5h1.8m-1.3 0.5h1.8m4.2 0h1.8m-13.3 0.5h1.8m10.2 0h1.8m-16.8 0.5h1.8m16.7 0h1.8m-0.8 0h1.8m-19.8 1h1.8m7.2 0h1.8m-0.8 0h1.8m2.7 0.5h1.8m-12.8 0.5h1.8m4.7 0h1.8m-0.8 0h1.8m-14.8 0.5h1.8m6.7 1h1.8m0.2 0h1.8m3.7 1h1.8m1.7 1.5h1.8m-6.3 0.5h1.8m-1.3 0.5h1.8m-9.8 0.5h1.8m-4.3 0.5h1.8m5.7 0h1.8m-4.3 13.5h1.8m-8.3 2h1.8m-24.8 33h1.8m19.2 0h1.8m15.2 0h1.8" stroke="#000" stroke-width="1.8"/>
<rect x="535.9" y="825.4" width="123.5" height="122.9" fill="none" stroke="#a0a0a0" stroke-width="1.1"/>
<text x="530.4" y="841.6" font-size="11" text-anchor="end">10<tspan dy="-6.8" font-size="11">5</tspan></text>
<text x="530.4" y="864.4" font-size="11" text-anchor="end">10<tspan dy="-6.8" font-size="11">4</tspan></text>
<text x="530.4" y="887.4" font-size="11" text-anchor="end">10<tspan dy="-6.8" font-size="11">3</tspan></text>
<text x="530.4" y="909.5" font-size="11" text-anchor="end">10<tspan dy="-6.8" font-size="11">2</tspan></text>
<text x="530.4" y="933" font-size="11" text-anchor="end">10<tspan dy="-6.8" font-size="11">1</tspan></text>
<text x="530.4" y="949.6" font-size="11" text-anchor="end">10<tspan dy="-6.8" font-size="11">0</tspan></text>
<text x="539.4" y="965.1" font-size="11">10<tspan dy="-6.8" font-size="11">0</tspan></text>
<text x="556.3" y="965.1" font-size="11">10<tspan dy="-6.8" font-size="11">1</tspan></text>
<text x="578.8" y="965.1" font-size="11">10<tspan dy="-6.8" font-size="11">2</tspan></text>
<text x="601.2" y="965.1" font-size="11">10<tspan dy="-6.8" font-size="11">3</tspan></text>
<text x="623.6" y="965.1" font-size="11">10<tspan dy="-6.8" font-size="11">4</tspan></text>
<text x="641.1" y="965.1" font-size="11">10<tspan dy="-6.8" font-size="11">5</tspan></text>
<ellipse cx="622" cy="863" rx="6.5" ry="7.5" fill="#000"/>
<path d="M583.5 849.4h1.8m0.2 0h1.8m-29.3 0.5h1.8m8.2 0h1.8m2.7 0.5h1.8m2.7 0h1.8m13.2 0h1.8m-0.3 0h1.8m1.2 0h1.8m-36.8 0.5h1.8m12.7 0h1.8m12.2 0h1.8m-29.8 0.5h1.8m0.7 0h1.8m5.2 0h1.8m-1.3 0h1.8m14.2 0h1.8m1.7 0h1.8m-21.8 0.5h1.8m1.7 0.5h1.8m3.7 0h1.8m-7.8 0.5h1.8m5.2 0h1.8m2.2 0h1.8m3.7 0h1.8m4.7 0h1.8m-33.3 0.5h1.8m10.2 0h1.8m2.2 0h1.8m3.2 0h1.8m-16.3 0.5h1.8m3.7 0h1.8m-1.3 0h1.8m-1.3 0h1.8m0.7 0h1.8m9.2 0h1.8m0.7 0h1.8m0.2 0h1.8m23.2 0h1.8m-24.3 0.5h1.8m2.2 0h1.8m1.7 0h1.8m1.2 0h1.8m1.2 0h1.8m0.7 0h1.8m7.2 0h1.8m0.2 0h1.8m-37.8 0.5h1.8m15.7 0h1.8m8.2 0h1.8m2.2 0h1.8m-1.3 0h1.8m2.7 0h1.8m-53.8 0.5h1.8m-1.3 0h1.8m10.2 0h1.8m1.2 0h1.8m11.7 0h1.8m14.7 0h1.8m-0.8 0h1.8m-61.3 0.5h1.8m1.2 0h1.8m16.2 0h1.8m1.7 0h1.8m-1.3 0h1.8m-0.3 0h1.8m0.7 0h1.8m21.2 0h1.8m-1.3 0h1.8m-0.3 0h1.8m2.7 0h1.8m2.7 0h1.8m-0.3 0h1.8m-69.3 0.5h1.8m0.7 0h1.8m16.7 0h1.8m2.2 0h1.8m-0.3 0h1.8m-1.3 0h1.8m2.7 0h1.8m17.7 0h1.8m1.7 0h1.8m1.2 0h1.8m2.2 0h1.8m-66.3 0.5h1.8m6.7 0h1.8m12.2 0h1.8m0.2 0h1.8m4.2 0h1.8m-1.3 0h1.8m-1.3 0h1.8m-0.3 0h1.8m23.2 0h1.8m-0.3 0h1.8m-0.8 0h1.8m0.7 0h1.8m-1.3 0h1.8m0.2 0h1.8m-0.8 0h1.8m-64.8 0.5h1.8m15.7 0h1.8m0.7 0h1.8m10.7 0h1.8m15.2 0h1.8m0.2 0h1.8m-0.8 0h1.8m3.2 0h1.8m1.2 0h1.8m2.2 0h1.8m0.7 0h1.8m-50.3 0.5h1.8m-0.8 0h1.8m0.2 0h1.8m2.2 0h1.8m28.2 0h1.8m-0.8 0h1.8m-0.3 0h1.8m2.7 0h1.8m-1.3 0h1.8m-0.3 0h1.8m-0.8 0h1.8m-0.8 0h1.8m1.2 0h1.8m-66.8 0.5h1.8m11.2 0h1.8m1.7 0h1.8m0.2 0h1.8m9.7 0h1.8m1.7 0h1.8m11.7 0h1.8m3.2 0h1.8m4.7 0h1.8m0.7 0h1.8m-67.8 0.5h1.8m11.7 0h1.8m0.2 0h1.8m5.7 0h1.8m1.7 0h1.8m6.7 0h1.8m0.7 0h1.8m11.7 0h1.8m2.7 0h1.8m4.2 0h1.8m3.2 0h1.8m-62.3 0.5h1.8m12.2 0h1.8m-0.8 0h1.8m-0.3 0h1.8m-1.3 0h1.8m7.2 0h1.8m3.7 0h1.8m9.2 0h1.8m4.2 0h1.8m-0.3 0h1.8m0.2 0h1.8m1.7 0h1.8m1.7 0h1.8m0.2 0h1.8m-0.8 0h1.8m-0.3 0h1.8m-65.3 0.5h1.8m16.2 0h1.8m-1.3 0h1.8m-1.3 0h1.8m2.7 0h1.8m0.2 0h1.8m14.7 0h1.8m1.7 0h1.8m3.2 0h1.8m3.2 0h1.8m-0.3 0h1.8m-0.8 0h1.8m0.7 0h1.8m-1.3 0h1.8m0.2 0h1.8m0.2 0h1.8m-79.8 0.5h1.8m17.7 0h1.8m4.7 0h1.8m0.2 0h1.8m1.2 0h1.8m-0.8 0h1.8m-1.3 0h1.8m-0.3 0h1.8m-1.3 0h1.8m7.2 0h1.8m-0.3 0h1.8m13.7 0h1.8m1.7 0h1.8m2.2 0h1.8m-1.3 0h1.8m-0.3 0h1.8m-1.3 0h1.8m-1.3 0h1.8m-0.8 0h1.8m-0.3 0h1.8m-0.8 0h1.8m-1.3 0h1.8m-0.3 0h1.8m-1.3 0h1.8m-1.3 0h1.8m-63.8 0.5h1.8m1.7 0h1.8m0.7 0h1.8m4.2 0h1.8m24.7 0h1.8m8.2 0h1.8m0.2 0h1.8m0.7 0h1.8m7.7 0h1.8m-74.3 0.5h1.8m4.7 0h1.8m10.7 0h1.8m0.2 0h1.8m7.7 0h1.8m-0.8 0h1.8m22.7 0h1.8m-0.8 0h1.8m-0.8 0h1.8m-1.3 0h1.8m0.2 0h1.8m0.7 0h1.8m3.2 0h1.8m-52.8 0.5h1.8m3.2 0h1.8m2.7 0h1.8m3.2 0h1.8m19.2 0h1.8m6.2 0h1.8m-1.3 0h1.8m-62.3 0.5h1.8m7.7 0h1.8m2.2 0h1.8m-0.8 0h1.8m0.2 0h1.8m7.2 0h1.8m6.2 0h1.8m19.7 0h1.8m2.7 0h1.8m1.2 0h1.8m-1.3 0h1.8m-0.3 0h1.8m0.2 0h1.8m-0.8 0h1.8m0.2 0h1.8m1.7 0h1.8m-76.3 0.5h1.8m9.7 0h1.8m6.2 0h1.8m0.2 0h1.8m4.2 0h1.8m12.2 0h1.8m9.2 0h1.8m0.2 0h1.8m11.7 0h1.8m-65.8 0.5h1.8m21.2 0h1.8m10.7 0h1.8m4.7 0h1.8m6.7 0h1.8m1.2 0h1.8m0.7 0h1.8m0.7 0h1.8m1.2 0h1.8m0.2 0h1.8m-1.3 0h1.8m-0.8 0h1.8m-0.3 0h1.8m-1.3 0h1.8m-69.8 0.5h1.8m12.7 0h1.8m0.7 0h1.8m8.7 0h1.8m-1.3 0h1.8m0.2 0h1.8m18.7 0h1.8m-0.8 0h1.8m0.7 0h1.8m1.7 0h1.8m3.7 0h1.8m-1.3 0h1.8m0.2 0h1.8m2.7 0h1.8m-63.3 0.5h1.8m9.2 0h1.8m10.2 0h1.8m-1.3 0h1.8m0.2 0h1.8m18.7 0h1.8m1.2 0h1.8m-1.3 0h1.8m-0.8 0h1.8m-1.3 0h1.8m-0.3 0h1.8m-1.3 0h1.8m-0.3 0h1.8m-1.3 0h1.8m-0.8 0h1.8m-1.3 0h1.8m0.2 0h1.8m-60.8 0.5h1.8m12.7 0h1.8m0.2 0h1.8m20.2 0h1.8m-1.3 0h1.8m2.7 0h1.8m-1.3 0h1.8m-0.3 0h1.8m2.7 0h1.8m-0.3 0h1.8m-54.3 0.5h1.8m1.7 0h1.8m4.7 0h1.8m11.2 0h1.8m-0.3 0h1.8m-0.3 0h1.8m23.2 0h1.8m-1.3 0h1.8m-1.3 0h1.8m-0.8 0h1.8m-0.3 0h1.8m0.2 0h1.8m0.7 0h1.8m-0.8 0h1.8m-0.8 0h1.8m-0.8 0h1.8m-61.8 0.5h1.8m6.7 0h1.8m5.7 0h1.8m12.2 0h1.8m9.2 0h1.8m-0.8 0h1.8m-0.3 0h1.8m1.7 0h1.8m1.7 0h1.8m1.2 0h1.8m2.7 0h1.8m1.7 0h1.8m-0.8 0h1.8m-51.8 0.5h1.8m10.2 0h1.8m5.2 0h1.8m9.2 0h1.8m1.2 0h1.8m1.2 0h1.8m-0.3 0h1.8m0.7 0h1.8m-0.3 0h1.8m-0.3 0h1.8m0.2 0h1.8m-51.8 0.5h1.8m16.2 0h1.8m4.2 0h1.8m9.2 0h1.8m2.2 0h1.8m0.2 0h1.8m0.7 0h1.8m-1.3 0h1.8m-0.8 0h1.8m-0.3 0h1.8m-1.3 0h1.8m1.7 0h1.8m-1.3 0h1.8m-1.3 0h1.8m0.7 0h1.8m-57.8 0.5h1.8m43.2 0h1.8m-1.3 0h1.8m-1.3 0h1.8m-1.3 0h1.8m0.2 0h1.8m-0.3 0h1.8m3.7 0h1.8m-0.3 0h1.8m-44.8 0.5h1.8m-0.8 0h1.8m5.7 0h1.8m-1.3 0h1.8m5.2 0h1.8m8.7 0h1.8m2.2 0h1.8m0.2 0h1.8m0.2 0h1.8m-0.8 0h1.8m-0.3 0h1.8m-0.3 0h1.8m-0.8 0h1.8m0.2 0h1.8m-0.3 0h1.8m-76.3 0.5h1.8m9.7 0h1.8m2.7 0h1.8m0.7 0h1.8m1.7 0h1.8m8.7 0h1.8m3.2 0h1.8m17.2 0h1.8m-0.8 0h1.8m4.2 0h1.8m-0.8 0h1.8m-1.3 0h1.8m3.2 0h1.8m-0.8 0h1.8m-1.3 0h1.8m-1.3 0h1.8m-37.8 0.5h1.8m2.2 0h1.8m8.2 0h1.8m1.2 0h1.8m5.2 0h1.8m0.2 0h1.8m-0.8 0h1.8m-1.3 0h1.8m-0.8 0h1.8m4.2 0h1.8m-1.3 0h1.8m0.2 0h1.8m-51.3 0.5h1.8m34.2 0h1.8m-1.3 0h1.8m-1.3 0h1.8m-0.8 0h1.8m-1.3 0h1.8m0.2 0h1.8m2.2 0h1.8m-52.8 0.5h1.8m35.2 0h1.8m-1.3 0h1.8m-1.3 0h1.8m-0.8 0h1.8m0.2 0h1.8m2.2 0h1.8m0.2 0h1.8m-0.3 0h1.8m-0.8 0h1.8m-0.3 0h1.8m0.7 0h1.8m-0.3 0h1.8m-56.8 0.5h1.8m7.7 0h1.8m7.7 0h1.8m14.2 0h1.8m5.2 0h1.8m-0.3 0h1.8m-0.8 0h1.8m3.7 0h1.8m-1.3 0h1.8m3.2 0h1.8m-0.8 0h1.8m-56.8 0.5h1.8m41.2 0h1.8m-1.3 0h1.8m0.2 0h1.8m2.7 0h1.8m-0.8 0h1.8m-1.3 0h1.8m-0.8 0h1.8m-55.8 0.5h1.8m33.7 0h1.8m-1.3 0h1.8m0.2 0h1.8m0.2 0h1.8m1.2 0h1.8m1.2 0h1.8m-1.3 0h1.8m-0.8 0h1.8m-1.3 0h1.8m-0.8 0h1.8m4.2 0h1.8m-72.8 0.5h1.8m28.2 0h1.8m24.7 0h1.8m4.2 0h1.8m2.2 0h1.8m-0.3 0h1.8m-68.3 0.5h1.8m28.7 0h1.8m14.7 0h1.8m7.7 0h1.8m-0.3 0h1.8m-1.3 0h1.8m-0.8 0h1.8m-1.3 0h1.8m-1.3 0h1.8m-1.3 0h1.8m-0.3 0h1.8m-0.8 0h1.8m0.2 0h1.8m-21.3 0.5h1.8m4.7 0h1.8m6.2 0h1.8m2.2 0h1.8m-0.8 0h1.8m2.2 0h1.8m-20.3 0.5h1.8m1.2 0h1.8m-0.8 0h1.8m0.2 0h1.8m-0.8 0h1.8m0.7 0h1.8m6.2 0h1.8m-24.8 0.5h1.8m5.2 0h1.8m1.2 0h1.8m2.2 0h1.8m5.7 0h1.8m0.2 0h1.8m-13.3 0.5h1.8m0.2 0h1.8m-1.3 0h1.8m6.7 0h1.8m-0.8 0h1.8m-26.3 0.5h1.8m-1.3 0h1.8m-0.8 0h1.8m2.7 0h1.8m7.2 0h1.8m1.7 0h1.8m2.2 0h1.8m-0.8 0h1.8m0.7 0h1.8m-1.3 0h1.8m-27.3 0.5h1.8m6.2 0h1.8m6.2 0h1.8m-0.3 0h1.8m0.7 0h1.8m-15.8 0.5h1.8m3.2 0h1.8m4.2 0h1.8m4.2 0h1.8m-22.3 0.5h1.8m3.2 0h1.8m-0.8 0h1.8m11.2 0h1.8m-19.3 0.5h1.8m-0.3 0h1.8m0.2 0h1.8m1.7 0h1.8m0.7 0h1.8m-1.3 0h1.8m1.2 0h1.8m-1.3 0h1.8m-13.3 0.5h1.8m2.2 0h1.8m1.2 0h1.8m-0.8 0h1.8m1.2 0h1.8m0.7 0h1.8m-0.8 0h1.8m-9.3 0.5h1.8m-0.3 0h1.8m0.2 0h1.8m-0.3 0h1.8m-0.8 0h1.8m0.2 0h1.8m1.2 0h1.8m-23.8 0.5h1.8m1.7 0h1.8m0.7 0h1.8m3.2 0h1.8m1.7 0h1.8m-0.8 0h1.8m2.2 0h1.8m-1.3 0h1.8m-0.8 0h1.8m-17.3 0.5h1.8m-1.3 0h1.8m0.2 0h1.8m4.2 0h1.8m0.2 0h1.8m-16.8 0.5h1.8m4.2 0h1.8m5.2 0h1.8m-13.8 0.5h1.8m7.7 0h1.8m-0.8 0h1.8m-0.3 0h1.8m5.2 0h1.8m0.7 0h1.8m-24.3 0.5h1.8m1.2 0h1.8m0.2 0h1.8m5.7 0h1.8m-13.8 0.5h1.8m0.2 0h1.8m-0.8 0h1.8m-0.8 0h1.8m3.7 0h1.8m-0.8 0h1.8m-0.8 0h1.8m3.2 0h1.8m-16.8 0.5h1.8m0.2 0h1.8m0.2 0h1.8m2.2 0h1.8m-0.8 0h1.8m-12.8 0.5h1.8m-0.8 0h1.8m1.7 0h1.8m3.7 0h1.8m-1.3 0h1.8m1.7 0h1.8m-14.3 0.5h1.8m-0.8 0h1.8m0.2 0h1.8m16.2 0h1.8m-22.8 0.5h1.8m-0.3 0h1.8m-0.3 0h1.8m2.2 0h1.8m4.7 0h1.8m-16.8 0.5h1.8m-1.3 0h1.8m1.2 0h1.8m0.2 0h1.8m4.2 0h1.8m3.2 0h1.8m1.7 0h1.8m-19.8 0.5h1.8m0.7 0h1.8m-3.8 0.5h1.8m-1.3 0h1.8m-1.3 0h1.8m1.2 0h1.8m1.7 0.5h1.8m-0.8 0h1.8m-10.3 0.5h1.8m1.7 0h1.8m-0.8 0h1.8m-0.3 0h1.8m5.2 0h1.8m0.7 0h1.8m-37.8 0.5h1.8m15.7 0h1.8m-0.3 0h1.8m4.2 0h1.8m0.7 0h1.8m-0.3 0h1.8m-12.3 0.5h1.8m-1.3 0h1.8m5.2 0h1.8m5.7 0h1.8m2.7 0h1.8m-46.8 0.5h1.8m18.7 0h1.8m21.7 0h1.8m-22.8 0.5h1.8m-0.3 0h1.8m-1.3 0h1.8m2.7 0h1.8m8.2 0h1.8m-19.3 0.5h1.8m3.2 0h1.8m0.2 0h1.8m6.2 0h1.8m-14.8 0.5h1.8m2.7 0h1.8m-1.3 0.5h1.8m0.7 0h1.8m-1.3 0h1.8m-0.8 0h1.8m-1.3 0h1.8m2.7 0h1.8m-12.8 0.5h1.8m-0.8 0h1.8m1.2 0h1.8m1.2 0h1.8m-13.8 0.5h1.8m3.7 0h1.8m-0.3 0h1.8m-1.3 0h1.8m-0.8 0h1.8m-0.3 0h1.8m0.2 0h1.8m-7.3 0.5h1.8m1.7 0h1.8m2.7 0h1.8m-15.8 0.5h1.8m1.7 0h1.8m-0.3 0h1.8m0.7 0h1.8m1.7 0h1.8m3.7 0h1.8m-13.3 0.5h1.8m-0.8 0h1.8m1.2 0h1.8m0.2 0h1.8m2.7 0h1.8m-11.3 0.5h1.8m-1.3 0h1.8m0.2 0h1.8m3.2 0h1.8m-51.3 0.5h1.8m36.7 0h1.8m0.2 0h1.8m7.7 0h1.8m-0.3 0h1.8m-11.8 0.5h1.8m-1.3 0h1.8m-1.3 0h1.8m1.2 0h1.8m-0.3 0h1.8m-1.3 0h1.8m-1.3 0h1.8m-0.3 0h1.8m-32.3 0.5h1.8m16.7 0h1.8m-0.8 0h1.8m-0.3 0h1.8m-0.8 0h1.8m-0.3 0h1.8m1.7 0h1.8m0.7 0h1.8m-0.8 0h1.8m-15.3 0.5h1.8m1.2 0h1.8m0.7 0h1.8m1.7 0h1.8m0.2 0h1.8m3.7 0h1.8m-16.3 0.5h1.8m0.2 0h1.8m2.7 0h1.8m5.2 0h1.8m-4.8 0.5h1.8m-0.8 0h1.8m2.7 0h1.8m-19.3 0.5h1.8m3.2 0h1.8m3.7 0h1.8m-8.3 0.5h1.8m-0.3 0h1.8m0.7 0h1.8m-1.3 0h1.8m-0.3 0h1.8m-1.3 0h1.8m-10.8 0.5h1.8m-0.8 0h1.8m-0.8 0h1.8m1.2 0h1.8m0.7 0h1.8m3.2 0h1.8m-11.3 0.5h1.8m0.2 0h1.8m-6.8 0.5h1.8m0.7 0h1.8m-1.3 0h1.8m2.2 0h1.8m-1.3 0h1.8m2.7 0h1.8m-12.8 0.5h1.8m0.2 0h1.8m-7.3 0.5h1.8m-0.3 0h1.8m-1.3 0h1.8m8.7 0h1.8m-0.8 0h1.8m-1.3 0h1.8m-14.8 0.5h1.8m3.2 0h1.8m-0.8 0h1.8m-1.3 0h1.8m0.7 0h1.8m1.7 0h1.8m0.7 0h1.8m-1.3 0h1.8m-12.3 0.5h1.8m1.7 0h1.8m-0.3 0h1.8m-0.3 0h1.8m-15.3 0.5h1.8m5.2 0h1.8m1.2 0h1.8m-0.3 0h1.8m-8.8 1.5h1.8m4.2 0h1.8m2.2 0h1.8m-6.8 1h1.8m-1.3 0h1.8m0.2 0h1.8m2.2 0h1.8m-12.3 0.5h1.8m-0.8 0.5h1.8m0.7 0h1.8m-10.8 0.5h1.8m0.2 0h1.8m4.7 0h1.8m-0.3 0h1.8m3.2 0.5h1.8m-11.8 0.5h1.8m1.7 0h1.8m1.7 0h1.8m3.2 0h1.8m-17.3 0.5h1.8m4.7 0h1.8m1.7 0.5h1.8m1.7 0h1.8m-11.3 0.5h1.8m0.7 0.5h1.8m-0.8 0h1.8m-1.3 0h1.8m1.2 0h1.8m4.2 0h1.8m-14.3 0.5h1.8m2.7 0.5h1.8m2.2 0h1.8m-9.3 0.5h1.8m-0.8 0.5h1.8m2.7 0.5h1.8m-47.8 8h1.8m41.7 2.5h1.8m0.2 2h1.8m-12.3 25.5h1.8m-1.3 0h1.8m-0.8 0h1.8m-0.3 0h1.8m0.2 0h1.8m2.7 0h1.8m0.7 0h1.8m-0.8 0h1.8m-0.8 0h1.8m-0.3 0h1.8" stroke="#000" stroke-width="1.8"/>
<rect x="67.6" y="1005.6" width="123.7" height="123.4" fill="none" stroke="#a0a0a0" stroke-width="1.1"/>
<text x="62.1" y="1021.8" font-size="11" text-anchor="end">10<tspan dy="-6.8" font-size="11">5</tspan></text>
<text x="62.1" y="1044.6" font-size="11" text-anchor="end">10<tspan dy="-6.8" font-size="11">4</tspan></text>
<text x="62.1" y="1067.6" font-size="11" text-anchor="end">10<tspan dy="-6.8" font-size="11">3</tspan></text>
<text x="62.1" y="1089.7" font-size="11" text-anchor="end">10<tspan dy="-6.8" font-size="11">2</tspan></text>
<text x="62.1" y="1113.2" font-size="11" text-anchor="end">10<tspan dy="-6.8" font-size="11">1</tspan></text>
<text x="62.1" y="1129.8" font-size="11" text-anchor="end">10<tspan dy="-6.8" font-size="11">0</tspan></text>
<text x="71.1" y="1145.8" font-size="11">10<tspan dy="-6.8" font-size="11">0</tspan></text>
<text x="88" y="1145.8" font-size="11">10<tspan dy="-6.8" font-size="11">1</tspan></text>
<text x="110.5" y="1145.8" font-size="11">10<tspan dy="-6.8" font-size="11">2</tspan></text>
<text x="132.9" y="1145.8" font-size="11">10<tspan dy="-6.8" font-size="11">3</tspan></text>
<text x="155.3" y="1145.8" font-size="11">10<tspan dy="-6.8" font-size="11">4</tspan></text>
<text x="172.8" y="1145.8" font-size="11">10<tspan dy="-6.8" font-size="11">5</tspan></text>
<path d="M160.5 1031.9h1.8m-1.3 7h1.8m-5.8 8h1.8m-3.3 1h1.8m0.2 0h1.8m-0.3 2h1.8m-6.8 1h1.8m0.7 0.5h1.8m-3.3 1.5h1.8m-1.3 0.5h1.8m-5.3 1.5h1.8m-0.8 0.5h1.8m3.2 0h1.8m-8.3 3.5h1.8m0.7 0h1.8m-5.3 2.5h1.8m-0.3 0h1.8m-0.3 2h1.8m-7.8 1.5h1.8m3.2 0h1.8m-4.8 3h1.8m-2.8 3h1.8m-1.3 0h1.8m-3.8 6h1.8m-2.3 1h1.8m-0.8 3h1.8" stroke="#000" stroke-width="1.8"/>
<rect x="224" y="1004.2" width="123.3" height="123.1" fill="none" stroke="#a0a0a0" stroke-width="1.1"/>
<text x="218.5" y="1020.4" font-size="11" text-anchor="end">10<tspan dy="-6.8" font-size="11">5</tspan></text>
<text x="218.5" y="1043.2" font-size="11" text-anchor="end">10<tspan dy="-6.8" font-size="11">4</tspan></text>
<text x="218.5" y="1066.2" font-size="11" text-anchor="end">10<tspan dy="-6.8" font-size="11">3</tspan></text>
<text x="218.5" y="1088.3" font-size="11" text-anchor="end">10<tspan dy="-6.8" font-size="11">2</tspan></text>
<text x="218.5" y="1111.8" font-size="11" text-anchor="end">10<tspan dy="-6.8" font-size="11">1</tspan></text>
<text x="218.5" y="1128.4" font-size="11" text-anchor="end">10<tspan dy="-6.8" font-size="11">0</tspan></text>
<text x="227.5" y="1144.1" font-size="11">10<tspan dy="-6.8" font-size="11">0</tspan></text>
<text x="244.4" y="1144.1" font-size="11">10<tspan dy="-6.8" font-size="11">1</tspan></text>
<text x="266.9" y="1144.1" font-size="11">10<tspan dy="-6.8" font-size="11">2</tspan></text>
<text x="289.3" y="1144.1" font-size="11">10<tspan dy="-6.8" font-size="11">3</tspan></text>
<text x="311.7" y="1144.1" font-size="11">10<tspan dy="-6.8" font-size="11">4</tspan></text>
<text x="329.2" y="1144.1" font-size="11">10<tspan dy="-6.8" font-size="11">5</tspan></text>
<path d="M305 1016.9h1.8m1.2 18h1.8m-28.3 1h1.8m8.7 2h1.8m20.2 1h1.8m6.2 3h1.8m-5.8 6h1.8m-24.8 4.5h1.8m26.7 1h1.8m-31.8 1h1.8m-0.8 3.5h1.8m23.2 0h1.8m-18.8 6h1.8m14.2 0.5h1.8m-9.3 3h1.8m10.2 0h1.8m2.7 1.5h1.8m-36.8 0.5h1.8m22.7 0h1.8m-20.8 2.5h1.8m-2.8 2h1.8m0.2 2h1.8m4.7 1h1.8m17.2 1h1.8m-24.3 1h1.8m6.2 0h1.8m-1.8 2h1.8m-8.8 3h1.8m-7.8 2h1.8m20.2 17h1.8m-17.8 23.5h1.8m0.2 0h1.8m7.2 0h1.8m3.2 0h1.8m-1.3 0h1.8m2.2 0h1.8m-0.8 0h1.8" stroke="#000" stroke-width="1.8"/>
<rect x="380.3" y="1004.8" width="122.9" height="122.6" fill="none" stroke="#a0a0a0" stroke-width="1.1"/>
<text x="374.8" y="1021" font-size="11" text-anchor="end">10<tspan dy="-6.8" font-size="11">5</tspan></text>
<text x="374.8" y="1043.8" font-size="11" text-anchor="end">10<tspan dy="-6.8" font-size="11">4</tspan></text>
<text x="374.8" y="1066.8" font-size="11" text-anchor="end">10<tspan dy="-6.8" font-size="11">3</tspan></text>
<text x="374.8" y="1088.9" font-size="11" text-anchor="end">10<tspan dy="-6.8" font-size="11">2</tspan></text>
<text x="374.8" y="1112.4" font-size="11" text-anchor="end">10<tspan dy="-6.8" font-size="11">1</tspan></text>
<text x="374.8" y="1129" font-size="11" text-anchor="end">10<tspan dy="-6.8" font-size="11">0</tspan></text>
<text x="383.8" y="1144.2" font-size="11">10<tspan dy="-6.8" font-size="11">0</tspan></text>
<text x="400.7" y="1144.2" font-size="11">10<tspan dy="-6.8" font-size="11">1</tspan></text>
<text x="423.2" y="1144.2" font-size="11">10<tspan dy="-6.8" font-size="11">2</tspan></text>
<text x="445.6" y="1144.2" font-size="11">10<tspan dy="-6.8" font-size="11">3</tspan></text>
<text x="468" y="1144.2" font-size="11">10<tspan dy="-6.8" font-size="11">4</tspan></text>
<text x="485.5" y="1144.2" font-size="11">10<tspan dy="-6.8" font-size="11">5</tspan></text>
<path d="M420 1027.9h1.8m9.2 0h1.8m-1.3 0h1.8m-2.3 0.5h1.8m7.7 0h1.8m-8.8 1h1.8m1.7 0h1.8m-0.3 0h1.8m-19.8 0.5h1.8m11.2 0h1.8m-11.8 0.5h1.8m6.7 0h1.8m-0.3 0.5h1.8m2.7 0h1.8m-14.8 0.5h1.8m-0.3 0h1.8m2.7 0h1.8m-11.3 0.5h1.8m-0.3 0.5h1.8m0.2 0h1.8m6.2 0h1.8m-0.8 0h1.8m4.2 0h1.8m-21.8 0.5h1.8m7.7 0h1.8m-1.3 0h1.8m2.2 0h1.8m-2.3 0.5h1.8m12.2 0h1.8m-1.3 0h1.8m0.7 0h1.8m0.7 0h1.8m2.2 0h1.8m-37.3 0.5h1.8m0.2 0h1.8m1.2 0h1.8m10.2 0h1.8m16.2 0h1.8m0.7 0h1.8m-35.8 0.5h1.8m0.7 0h1.8m2.7 0h1.8m0.2 0h1.8m1.2 0h1.8m2.2 0h1.8m6.7 0h1.8m-1.3 0h1.8m8.7 0h1.8m1.2 0h1.8m4.7 0h1.8m-41.3 0.5h1.8m-1.3 0h1.8m-0.8 0h1.8m13.7 0h1.8m-23.8 0.5h1.8m1.7 0h1.8m-0.8 0h1.8m6.2 0h1.8m7.7 0h1.8m4.7 0h1.8m4.7 0h1.8m-43.3 0.5h1.8m5.7 0h1.8m-0.3 0h1.8m3.2 0h1.8m-1.3 0h1.8m13.2 0h1.8m13.2 0h1.8m-1.3 0h1.8m-35.8 0.5h1.8m24.2 0h1.8m0.7 0h1.8m1.2 0h1.8m-38.8 0.5h1.8m-1.3 0h1.8m0.7 0h1.8m-0.3 0h1.8m4.2 0h1.8m25.7 0h1.8m-39.8 0.5h1.8m8.7 0h1.8m0.2 0h1.8m-0.8 0h1.8m3.7 0h1.8m9.7 0h1.8m1.2 0h1.8m-0.3 0h1.8m-0.8 0h1.8m-43.8 0.5h1.8m13.7 0h1.8m1.7 0h1.8m17.7 0h1.8m8.7 0h1.8m-43.3 0.5h1.8m0.2 0h1.8m3.2 0h1.8m0.7 0h1.8m1.2 0h1.8m13.7 0h1.8m-1.3 0h1.8m7.7 0h1.8m2.7 0h1.8m-50.8 0.5h1.8m9.2 0h1.8m6.7 0h1.8m2.2 0h1.8m18.2 0h1.8m-0.8 0h1.8m6.2 0h1.8m-40.8 0.5h1.8m1.2 0h1.8m-0.8 0h1.8m9.7 0h1.8m6.2 0h1.8m5.2 0h1.8m-50.3 0.5h1.8m5.7 0h1.8m6.7 0h1.8m-0.3 0h1.8m-0.8 0h1.8m25.7 0h1.8m-37.8 0.5h1.8m1.2 0h1.8m0.2 0h1.8m1.2 0h1.8m-1.3 0h1.8m0.2 0h1.8m4.2 0h1.8m5.2 0h1.8m5.7 0h1.8m0.7 0h1.8m-33.3 0.5h1.8m1.7 0h1.8m4.2 0h1.8m1.7 0h1.8m8.2 0h1.8m-0.3 0h1.8m2.2 0h1.8m-1.3 0h1.8m-1.3 0h1.8m4.7 0h1.8m-42.3 0.5h1.8m5.7 0h1.8m14.2 0h1.8m5.7 0h1.8m2.7 0h1.8m2.2 0h1.8m-0.3 0h1.8m-41.8 0.5h1.8m11.2 0h1.8m0.7 0h1.8m8.7 0h1.8m2.2 0h1.8m-25.8 0.5h1.8m14.7 0h1.8m4.7 0h1.8m5.7 0h1.8m3.2 0h1.8m-26.3 0.5h1.8m17.2 0h1.8m-1.3 0h1.8m-38.8 0.5h1.8m27.7 0h1.8m2.7 0h1.8m3.2 0h1.8m0.2 0h1.8m-34.8 0.5h1.8m20.2 0h1.8m0.2 0h1.8m4.2 0h1.8m1.2 0h1.8m-20.3 0.5h1.8m18.2 0h1.8m-0.3 0h1.8m-38.8 0.5h1.8m14.7 0h1.8m2.2 0h1.8m4.2 0h1.8m5.2 0h1.8m-35.8 0.5h1.8m22.7 0h1.8m-0.8 0h1.8m-0.8 0h1.8m-0.3 0h1.8m-0.3 0h1.8m-10.8 0.5h1.8m-1.3 0h1.8m2.2 0h1.8m1.2 0h1.8m2.7 0h1.8m-0.8 0h1.8m-1.3 0h1.8m3.2 0h1.8m-23.3 0.5h1.8m7.7 0h1.8m-14.8 0.5h1.8m5.2 0.5h1.8m2.7 0h1.8m-0.8 0h1.8m3.7 0h1.8m-7.3 0.5h1.8m3.2 0h1.8m-0.3 0h1.8m0.2 0h1.8m-0.8 0h1.8m-1.3 0h1.8m1.7 0h1.8m-24.8 0.5h1.8m-0.3 0h1.8m2.2 0h1.8m-0.3 0h1.8m-0.3 0h1.8m-0.3 0h1.8m0.2 0h1.8m0.7 0h1.8m-1.3 0h1.8m-37.3 0.5h1.8m28.7 0h1.8m4.7 0h1.8m-1.3 0h1.8m6.7 0h1.8m-18.8 0.5h1.8m1.2 0h1.8m-0.3 0h1.8m-15.3 0.5h1.8m-0.8 0h1.8m17.2 0h1.8m-15.8 0.5h1.8m2.2 0h1.8m3.2 0h1.8m-1.3 0h1.8m2.2 0h1.8m0.7 0h1.8m-51.8 0.5h1.8m32.2 0h1.8m3.7 0h1.8m0.2 0h1.8m-1.3 0h1.8m-1.3 0h1.8m-0.8 0h1.8m-3.8 0.5h1.8m0.2 0h1.8m0.2 0h1.8m1.2 0h1.8m0.2 0h1.8m-22.3 0.5h1.8m9.2 0h1.8m-6.8 0.5h1.8m-1.3 0h1.8m3.7 0h1.8m0.2 0h1.8m-1.3 0h1.8m-1.3 0h1.8m3.7 0h1.8m-17.3 0.5h1.8m-1.3 0h1.8m-0.3 0h1.8m-0.3 0h1.8m1.2 0h1.8m-1.3 0h1.8m-0.8 0h1.8m-1.3 0h1.8m1.2 0h1.8m3.7 0h1.8m-22.8 0.5h1.8m3.7 0h1.8m0.2 0h1.8m-0.8 0h1.8m1.2 0h1.8m-0.8 0h1.8m2.7 0h1.8m-21.3 0.5h1.8m12.7 0h1.8m-0.3 0h1.8m-1.3 0h1.8m0.2 0h1.8m-12.8 0.5h1.8m0.7 0h1.8m-0.8 0h1.8m-1.3 0h1.8m5.2 0h1.8m-8.8 0.5h1.8m7.7 0h1.8m-12.3 0.5h1.8m0.7 0h1.8m3.2 0h1.8m0.2 0h1.8m2.2 0h1.8m-19.8 0.5h1.8m2.7 0h1.8m-1.3 0h1.8m0.2 0h1.8m2.7 0h1.8m3.7 0h1.8m-51.8 0.5h1.8m28.2 0h1.8m5.2 0h1.8m0.2 0h1.8m0.7 0h1.8m1.2 0h1.8m-19.3 0.5h1.8m5.2 0h1.8m6.7 0h1.8m-11.8 0.5h1.8m0.7 0h1.8m0.2 0h1.8m0.2 0h1.8m9.2 0h1.8m-25.3 0.5h1.8m13.2 0h1.8m-0.8 0h1.8m3.7 0h1.8m-18.3 0.5h1.8m1.2 0h1.8m-1.3 0h1.8m-0.3 0h1.8m3.2 0h1.8m-0.8 0h1.8m3.7 0h1.8m-18.3 0.5h1.8m-1.3 0h1.8m0.2 0h1.8m-0.3 0h1.8m0.2 0h1.8m-0.3 0h1.8m2.7 0h1.8m2.2 0h1.8m-12.8 0.5h1.8m-1.3 0h1.8m-0.8 0h1.8m-0.8 0h1.8m2.2 0h1.8m4.2 0h1.8m-21.3 0.5h1.8m17.2 0h1.8m-18.3 0.5h1.8m2.2 0h1.8m1.2 0h1.8m2.7 0h1.8m2.7 0h1.8m-18.8 0.5h1.8m-0.3 0h1.8m5.2 0h1.8m-2.8 0.5h1.8m2.7 0h1.8m-7.3 0.5h1.8m0.7 0h1.8m-1.3 0h1.8m-6.3 0.5h1.8m0.2 0h1.8m1.7 0h1.8m3.2 0h1.8m-9.8 0.5h1.8m-0.3 0h1.8m0.7 0h1.8m0.2 0h1.8m-0.8 0h1.8m2.2 0h1.8m-7.8 0.5h1.8m6.2 0h1.8m-11.8 0.5h1.8m1.7 0h1.8m1.7 0h1.8m-13.8 0.5h1.8m-1.8 0.5h1.8m1.2 0h1.8m2.7 0h1.8m0.2 0h1.8m-14.8 0.5h1.8m4.7 0h1.8m-0.3 0h1.8m-12.8 0.5h1.8m12.2 0h1.8m0.2 0h1.8m-13.3 0.5h1.8m6.7 0h1.8m-10.3 0.5h1.8m5.2 0.5h1.8m3.2 0h1.8m-10.3 0.5h1.8m5.2 0h1.8m2.7 0h1.8m-0.3 0.5h1.8m-12.8 0.5h1.8m0.7 0h1.8m1.2 0h1.8m-17.8 0.5h1.8m11.2 0h1.8m-1.3 0h1.8m-10.8 0.5h1.8m2.7 0h1.8m-9.8 0.5h1.8m3.2 0h1.8m0.2 0.5h1.8m-0.3 0h1.8m2.2 0h1.8m0.7 0h1.8m-6.8 0.5h1.8m-0.8 1h1.8m0.7 0h1.8m-12.3 0.5h1.8m-0.3 0h1.8m5.7 0h1.8m-11.3 0.5h1.8m0.7 0h1.8m1.7 0h1.8m-6.8 0.5h1.8m6.7 0.5h1.8m-2.8 1h1.8m4.7 0h1.8m1.7 0h1.8m-20.8 0.5h1.8m7.2 0h1.8m-1.3 1h1.8m3.7 0h1.8m-12.3 0.5h1.8m1.2 1h1.8m5.2 0h1.8m-13.3 0.5h1.8m5.7 0h1.8m-4.8 0.5h1.8m7.2 0h1.8m-10.3 3.5h1.8m-2.3 0.5h1.8m-11.8 1h1.8m1.7 1h1.8m1.2 0h1.8m-1.3 2h1.8m-8.3 1h1.8m3.2 0h1.8m0.2 0.5h1.8m-11.8 1h1.8m6.2 0h1.8m-7.3 1h1.8m4.2 0h1.8m2.7 0.5h1.8m-7.3 0.5h1.8m2.2 1h1.8m-12.3 0.5h1.8m9.7 0h1.8m-8.8 1h1.8m0.7 0.5h1.8m-5.8 0.5h1.8m2.2 0h1.8m-2.3 1.5h1.8m0.7 0h1.8m-8.8 0.5h1.8m1.2 0h1.8m-3.3 1h1.8m-10.8 28h1.8m1.7 0h1.8m-1.3 0h1.8m-1.3 0h1.8m-0.8 0h1.8m4.2 0h1.8m0.7 0h1.8m-0.3 0h1.8m0.2 0h1.8m2.2 0h1.8" stroke="#000" stroke-width="1.8"/>
<rect x="535.9" y="1004.8" width="123.5" height="122.6" fill="none" stroke="#a0a0a0" stroke-width="1.1"/>
<text x="530.4" y="1021" font-size="11" text-anchor="end">10<tspan dy="-6.8" font-size="11">5</tspan></text>
<text x="530.4" y="1043.8" font-size="11" text-anchor="end">10<tspan dy="-6.8" font-size="11">4</tspan></text>
<text x="530.4" y="1066.8" font-size="11" text-anchor="end">10<tspan dy="-6.8" font-size="11">3</tspan></text>
<text x="530.4" y="1088.9" font-size="11" text-anchor="end">10<tspan dy="-6.8" font-size="11">2</tspan></text>
<text x="530.4" y="1112.4" font-size="11" text-anchor="end">10<tspan dy="-6.8" font-size="11">1</tspan></text>
<text x="530.4" y="1129" font-size="11" text-anchor="end">10<tspan dy="-6.8" font-size="11">0</tspan></text>
<text x="539.4" y="1144.2" font-size="11">10<tspan dy="-6.8" font-size="11">0</tspan></text>
<text x="556.3" y="1144.2" font-size="11">10<tspan dy="-6.8" font-size="11">1</tspan></text>
<text x="578.8" y="1144.2" font-size="11">10<tspan dy="-6.8" font-size="11">2</tspan></text>
<text x="601.2" y="1144.2" font-size="11">10<tspan dy="-6.8" font-size="11">3</tspan></text>
<text x="623.6" y="1144.2" font-size="11">10<tspan dy="-6.8" font-size="11">4</tspan></text>
<text x="641.1" y="1144.2" font-size="11">10<tspan dy="-6.8" font-size="11">5</tspan></text>
<ellipse cx="620" cy="1045" rx="8" ry="9" fill="#000"/>
<path d="M583.5 1027.4h1.8m7.2 0h1.8m12.7 0h1.8m-40.8 0.5h1.8m31.7 0h1.8m-36.8 0.5h1.8m25.2 0h1.8m1.2 0h1.8m2.2 0h1.8m-34.3 0.5h1.8m14.7 0h1.8m3.7 0h1.8m5.7 0h1.8m-32.8 0.5h1.8m17.2 0h1.8m-9.3 0.5h1.8m5.7 0h1.8m2.7 0h1.8m-24.8 0.5h1.8m3.2 0h1.8m-0.3 0h1.8m6.2 0.5h1.8m11.7 0h1.8m-22.3 0.5h1.8m10.2 0h1.8m1.2 0h1.8m-1.3 0h1.8m2.7 0h1.8m1.7 0h1.8m-1.3 0h1.8m-22.8 0.5h1.8m4.2 0h1.8m-1.3 0h1.8m1.2 0h1.8m-0.3 0h1.8m0.7 0h1.8m7.7 0h1.8m-35.8 0.5h1.8m18.2 0h1.8m10.7 0h1.8m-29.8 0.5h1.8m2.2 0h1.8m3.7 0h1.8m0.7 0h1.8m6.2 0h1.8m5.2 0h1.8m20.7 0h1.8m1.7 0h1.8m-45.3 0.5h1.8m3.7 0h1.8m2.7 0h1.8m18.2 0h1.8m7.2 0h1.8m-0.8 0h1.8m2.7 0h1.8m-51.8 0.5h1.8m3.2 0h1.8m11.2 0h1.8m15.2 0h1.8m5.7 0h1.8m0.7 0h1.8m2.7 0h1.8m4.7 0h1.8m-58.3 0.5h1.8m2.7 0h1.8m0.7 0h1.8m4.2 0h1.8m6.2 0h1.8m2.2 0h1.8m0.7 0h1.8m-1.3 0h1.8m8.2 0h1.8m3.7 0h1.8m1.2 0h1.8m0.7 0h1.8m-0.8 0h1.8m0.2 0h1.8m-63.3 0.5h1.8m8.7 0h1.8m5.2 0h1.8m25.2 0h1.8m0.7 0h1.8m-0.8 0h1.8m1.7 0h1.8m-46.8 0.5h1.8m1.7 0h1.8m-0.8 0h1.8m1.2 0h1.8m-0.8 0h1.8m0.7 0h1.8m-0.3 0h1.8m4.2 0h1.8m1.2 0h1.8m0.2 0h1.8m8.7 0h1.8m-1.3 0h1.8m-0.8 0h1.8m2.2 0h1.8m4.7 0h1.8m0.7 0h1.8m4.2 0h1.8m-59.8 0.5h1.8m2.2 0h1.8m1.2 0h1.8m-0.3 0h1.8m-1.3 0h1.8m3.2 0h1.8m30.2 0h1.8m-1.3 0h1.8m4.2 0h1.8m4.2 0h1.8m2.7 0h1.8m-68.3 0.5h1.8m14.7 0h1.8m23.2 0h1.8m1.7 0h1.8m1.2 0h1.8m2.7 0h1.8m-0.3 0h1.8m1.7 0h1.8m2.7 0h1.8m-61.3 0.5h1.8m2.7 0h1.8m1.2 0h1.8m1.7 0h1.8m2.2 0h1.8m2.7 0h1.8m13.7 0h1.8m7.2 0h1.8m-0.3 0h1.8m4.2 0h1.8m1.7 0h1.8m-0.8 0h1.8m0.2 0h1.8m-0.3 0h1.8m-51.8 0.5h1.8m4.2 0h1.8m0.2 0h1.8m-0.8 0h1.8m-1.3 0h1.8m1.2 0h1.8m1.7 0h1.8m7.2 0h1.8m2.2 0h1.8m5.2 0h1.8m-0.8 0h1.8m10.7 0h1.8m-0.8 0h1.8m0.7 0h1.8m-54.8 0.5h1.8m2.7 0h1.8m14.2 0h1.8m-0.3 0h1.8m0.7 0h1.8m0.7 0h1.8m1.7 0h1.8m1.7 0h1.8m-1.3 0h1.8m0.7 0h1.8m-1.3 0h1.8m1.2 0h1.8m-0.3 0h1.8m-0.8 0h1.8m-0.3 0h1.8m-1.3 0h1.8m-1.3 0h1.8m0.2 0h1.8m-1.3 0h1.8m-1.3 0h1.8m-0.8 0h1.8m-53.3 0.5h1.8m9.2 0h1.8m4.2 0h1.8m0.7 0h1.8m-0.8 0h1.8m-0.3 0h1.8m1.2 0h1.8m6.2 0h1.8m4.2 0h1.8m2.7 0h1.8m1.7 0h1.8m-53.3 0.5h1.8m-1.3 0h1.8m-0.8 0h1.8m2.2 0h1.8m-1.3 0h1.8m1.7 0h1.8m0.7 0h1.8m4.2 0h1.8m1.2 0h1.8m0.2 0h1.8m1.2 0h1.8m0.2 0h1.8m9.2 0h1.8m-1.3 0h1.8m5.7 0h1.8m-1.3 0h1.8m-0.8 0h1.8m-0.8 0h1.8m-1.3 0h1.8m1.7 0h1.8m0.2 0h1.8m0.2 0h1.8m-51.8 0.5h1.8m6.7 0h1.8m-1.3 0h1.8m-0.8 0h1.8m5.2 0h1.8m10.7 0h1.8m4.2 0h1.8m-1.3 0h1.8m0.2 0h1.8m0.7 0h1.8m-0.8 0h1.8m-0.8 0h1.8m-0.3 0h1.8m-1.3 0h1.8m-1.3 0h1.8m1.2 0h1.8m-1.3 0h1.8m-0.8 0h1.8m-1.3 0h1.8m-1.3 0h1.8m-0.3 0h1.8m0.7 0h1.8m-84.3 0.5h1.8m28.7 0h1.8m-0.3 0h1.8m0.2 0h1.8m6.2 0h1.8m-0.3 0h1.8m2.7 0h1.8m-0.3 0h1.8m4.2 0h1.8m1.7 0h1.8m0.7 0h1.8m0.2 0h1.8m0.2 0h1.8m2.2 0h1.8m-0.8 0h1.8m10.2 0h1.8m-59.3 0.5h1.8m0.7 0h1.8m-1.3 0h1.8m0.7 0h1.8m-1.3 0h1.8m16.7 0h1.8m5.2 0h1.8m4.2 0h1.8m2.7 0h1.8m-1.3 0h1.8m-1.3 0h1.8m0.7 0h1.8m-1.3 0h1.8m-0.3 0h1.8m-0.8 0h1.8m3.7 0h1.8m-55.3 0.5h1.8m5.2 0h1.8m8.7 0h1.8m4.7 0h1.8m7.7 0h1.8m1.2 0h1.8m0.2 0h1.8m-0.3 0h1.8m0.7 0h1.8m0.7 0h1.8m-0.3 0h1.8m0.7 0h1.8m5.7 0h1.8m-56.3 0.5h1.8m3.2 0h1.8m10.2 0h1.8m3.2 0h1.8m4.2 0h1.8m0.7 0h1.8m2.2 0h1.8m1.2 0h1.8m5.2 0h1.8m0.7 0h1.8m0.2 0h1.8m-0.3 0h1.8m2.7 0h1.8m-68.8 0.5h1.8m14.2 0h1.8m-1.3 0h1.8m-0.3 0h1.8m-0.3 0h1.8m4.2 0h1.8m15.2 0h1.8m-0.3 0h1.8m-0.8 0h1.8m-1.3 0h1.8m0.7 0h1.8m2.2 0h1.8m-0.3 0h1.8m1.7 0h1.8m-53.3 0.5h1.8m6.7 0h1.8m-0.8 0h1.8m2.7 0h1.8m7.7 0h1.8m13.2 0h1.8m0.2 0h1.8m1.2 0h1.8m0.2 0h1.8m-1.3 0h1.8m1.2 0h1.8m-0.3 0h1.8m-1.3 0h1.8m4.7 0h1.8m-51.3 0.5h1.8m-0.8 0h1.8m0.7 0h1.8m-0.8 0h1.8m-0.3 0h1.8m0.7 0h1.8m-0.8 0h1.8m2.7 0h1.8m13.7 0h1.8m-1.3 0h1.8m2.7 0h1.8m0.2 0h1.8m2.7 0h1.8m1.2 0h1.8m-50.8 0.5h1.8m6.7 0h1.8m4.2 0h1.8m1.7 0h1.8m14.7 0h1.8m2.2 0h1.8m0.2 0h1.8m-0.8 0h1.8m-1.3 0h1.8m-1.3 0h1.8m-0.8 0h1.8m0.7 0h1.8m-1.3 0h1.8m4.2 0h1.8m4.7 0h1.8m-64.3 0.5h1.8m10.7 0h1.8m0.7 0h1.8m6.2 0h1.8m8.7 0h1.8m1.2 0h1.8m-0.3 0h1.8m4.7 0h1.8m0.2 0h1.8m1.2 0h1.8m-1.3 0h1.8m-0.8 0h1.8m6.7 0h1.8m-0.3 0h1.8m-46.3 0.5h1.8m4.2 0h1.8m9.7 0h1.8m-0.8 0h1.8m7.2 0h1.8m0.2 0h1.8m1.2 0h1.8m-0.8 0h1.8m-0.8 0h1.8m1.2 0h1.8m-0.3 0h1.8m-0.3 0h1.8m-1.3 0h1.8m0.7 0h1.8m-56.8 0.5h1.8m12.2 0h1.8m-0.8 0h1.8m12.2 0h1.8m7.2 0h1.8m2.7 0h1.8m0.7 0h1.8m-0.3 0h1.8m-1.3 0h1.8m-1.3 0h1.8m5.2 0h1.8m-57.3 0.5h1.8m2.7 0h1.8m16.7 0h1.8m4.7 0h1.8m1.7 0h1.8m-1.3 0h1.8m-1.3 0h1.8m1.7 0h1.8m1.7 0h1.8m1.2 0h1.8m2.2 0h1.8m-0.8 0h1.8m-1.3 0h1.8m-0.8 0h1.8m3.2 0h1.8m-1.3 0h1.8m1.2 0h1.8m-51.3 0.5h1.8m-0.3 0h1.8m1.7 0h1.8m0.7 0h1.8m4.7 0h1.8m14.7 0h1.8m0.7 0h1.8m0.7 0h1.8m7.2 0h1.8m-0.8 0h1.8m-42.3 0.5h1.8m-0.8 0h1.8m2.7 0h1.8m7.7 0h1.8m8.2 0h1.8m1.2 0h1.8m0.7 0h1.8m-1.3 0h1.8m-1.3 0h1.8m-1.3 0h1.8m-0.8 0h1.8m-0.8 0h1.8m0.2 0h1.8m-0.8 0h1.8m0.2 0h1.8m-0.8 0h1.8m1.2 0h1.8m-58.3 0.5h1.8m1.2 0h1.8m23.2 0h1.8m5.7 0h1.8m0.2 0h1.8m0.2 0h1.8m-1.3 0h1.8m0.7 0h1.8m0.2 0h1.8m-0.8 0h1.8m-1.3 0h1.8m0.7 0h1.8m0.2 0h1.8m-41.8 0.5h1.8m13.7 0h1.8m4.2 0h1.8m-0.3 0h1.8m-0.3 0h1.8m-1.3 0h1.8m2.2 0h1.8m-1.3 0h1.8m-0.8 0h1.8m4.7 0h1.8m-46.3 0.5h1.8m-0.3 0h1.8m27.2 0h1.8m-0.8 0h1.8m-0.8 0h1.8m1.2 0h1.8m1.2 0h1.8m0.7 0h1.8m-1.3 0h1.8m1.2 0h1.8m2.7 0h1.8m-0.8 0h1.8m-0.3 0h1.8m-41.3 0.5h1.8m4.2 0h1.8m6.7 0h1.8m-0.8 0h1.8m5.2 0h1.8m1.7 0h1.8m-0.8 0h1.8m0.7 0h1.8m0.2 0h1.8m-1.3 0h1.8m3.7 0h1.8m0.2 0h1.8m-45.3 0.5h1.8m8.7 0h1.8m14.7 0h1.8m-1.3 0h1.8m0.2 0h1.8m-1.3 0h1.8m0.7 0h1.8m-0.8 0h1.8m-0.3 0h1.8m2.7 0h1.8m1.7 0h1.8m-0.3 0h1.8m0.2 0h1.8m-23.8 0.5h1.8m3.2 0h1.8m-0.8 0h1.8m-1.3 0h1.8m2.2 0h1.8m-0.8 0h1.8m4.2 0h1.8m0.2 0h1.8m-50.3 0.5h1.8m5.7 0h1.8m19.7 0h1.8m2.2 0h1.8m2.2 0h1.8m0.2 0h1.8m-1.3 0h1.8m0.7 0h1.8m-1.3 0h1.8m-1.3 0h1.8m2.2 0h1.8m-0.8 0h1.8m-31.3 0.5h1.8m4.7 0h1.8m-0.8 0h1.8m3.2 0h1.8m5.7 0h1.8m4.7 0h1.8m-1.3 0h1.8m1.7 0h1.8m-58.8 0.5h1.8m26.2 0h1.8m11.7 0h1.8m6.2 0h1.8m-0.8 0h1.8m-0.8 0h1.8m-0.3 0h1.8m-0.8 0h1.8m-1.3 0h1.8m-54.3 0.5h1.8m19.2 0h1.8m7.2 0h1.8m1.2 0h1.8m-1.3 0h1.8m1.7 0h1.8m-0.8 0h1.8m4.2 0h1.8m-10.3 0.5h1.8m1.2 0h1.8m0.7 0h1.8m4.2 0h1.8m-0.3 0h1.8m-0.8 0h1.8m-1.3 0h1.8m-0.3 0h1.8m-21.8 0.5h1.8m-1.3 0h1.8m0.7 0h1.8m1.7 0h1.8m-0.3 0h1.8m-0.3 0h1.8m0.2 0h1.8m-1.3 0h1.8m5.7 0h1.8m2.7 0h1.8m-27.8 0.5h1.8m-0.8 0h1.8m3.2 0h1.8m0.7 0h1.8m0.2 0h1.8m0.7 0h1.8m-0.8 0h1.8m-1.3 0h1.8m-1.3 0h1.8m3.7 0h1.8m-0.3 0h1.8m0.2 0h1.8m-22.8 0.5h1.8m8.7 0h1.8m-0.8 0h1.8m-0.3 0h1.8m-1.3 0h1.8m1.7 0h1.8m-0.3 0h1.8m2.2 0h1.8m-21.3 0.5h1.8m5.2 0h1.8m-1.3 0h1.8m-0.3 0h1.8m5.2 0h1.8m-0.3 0h1.8m1.2 0h1.8m-27.3 0.5h1.8m0.7 0h1.8m6.7 0h1.8m0.7 0h1.8m-1.3 0h1.8m5.7 0h1.8m-20.8 0.5h1.8m6.2 0h1.8m3.7 0h1.8m-0.8 0h1.8m-11.3 0.5h1.8m-0.8 0h1.8m0.7 0h1.8m0.2 0h1.8m2.7 0h1.8m-1.3 0h1.8m0.7 0h1.8m-23.8 0.5h1.8m2.2 0h1.8m2.7 0h1.8m12.2 0h1.8m-1.3 0h1.8m2.7 0h1.8m-21.3 0.5h1.8m-0.8 0h1.8m2.2 0h1.8m2.2 0h1.8m3.2 0h1.8m1.7 0h1.8m-19.8 0.5h1.8m-0.8 0h1.8m-0.3 0h1.8m-1.3 0h1.8m-0.8 0h1.8m2.7 0h1.8m3.2 0h1.8m-17.8 0.5h1.8m-1.3 0h1.8m2.2 0h1.8m-0.3 0h1.8m0.2 0h1.8m0.2 0h1.8m-0.3 0h1.8m0.2 0h1.8m-1.3 0h1.8m2.2 0h1.8m-1.3 0h1.8m-18.3 0.5h1.8m-1.3 0h1.8m-1.3 0h1.8m0.7 0h1.8m-0.3 0h1.8m-0.3 0h1.8m-1.3 0h1.8m3.7 0h1.8m-17.3 0.5h1.8m3.2 0h1.8m0.7 0h1.8m-1.3 0h1.8m-0.8 0h1.8m-0.8 0h1.8m0.2 0h1.8m-0.3 0h1.8m-0.8 0h1.8m-0.8 0h1.8m0.2 0h1.8m-1.3 0h1.8m-1.3 0h1.8m3.7 0h1.8m-26.8 0.5h1.8m1.7 0h1.8m2.7 0h1.8m-1.3 0h1.8m-0.8 0h1.8m0.2 0h1.8m-0.8 0h1.8m0.7 0h1.8m-0.8 0h1.8m-1.3 0h1.8m0.2 0h1.8m-0.3 0h1.8m-18.3 0.5h1.8m4.2 0h1.8m-0.8 0h1.8m-1.3 0h1.8m-0.8 0h1.8m-0.8 0h1.8m4.2 0h1.8m0.7 0h1.8m1.7 0h1.8m-26.3 0.5h1.8m2.7 0h1.8m-1.3 0h1.8m1.7 0h1.8m-0.8 0h1.8m-1.3 0h1.8m1.7 0h1.8m3.7 0h1.8m-18.3 0.5h1.8m7.7 0h1.8m-33.8 0.5h1.8m17.7 0h1.8m-0.8 0h1.8m5.7 0h1.8m2.2 0h1.8m2.2 0h1.8m3.7 0h1.8m-18.3 0.5h1.8m-0.8 0h1.8m-0.3 0h1.8m0.2 0h1.8m4.2 0h1.8m0.7 0h1.8m-14.8 0.5h1.8m-0.3 0h1.8m-0.8 0h1.8m14.2 0h1.8m-14.8 0.5h1.8m-1.3 0h1.8m0.2 0h1.8m-0.3 0h1.8m-15.3 0.5h1.8m0.2 0h1.8m3.7 0h1.8m-0.3 0h1.8m-0.8 0h1.8m0.2 0h1.8m2.7 0h1.8m-0.8 0h1.8m2.2 0h1.8m-20.8 0.5h1.8m3.2 0h1.8m0.7 0h1.8m9.2 0h1.8m-16.8 0.5h1.8m-1.3 0h1.8m2.2 0h1.8m4.7 0h1.8m-1.3 0h1.8m-18.8 0.5h1.8m7.2 0h1.8m0.7 0h1.8m-0.3 0h1.8m3.2 0h1.8m1.7 0h1.8m-25.3 0.5h1.8m5.2 0h1.8m2.2 0h1.8m5.7 0h1.8m-55.8 0.5h1.8m31.7 0h1.8m2.2 0h1.8m0.2 0h1.8m-0.3 0h1.8m-1.3 0h1.8m-6.8 0.5h1.8m5.2 0h1.8m-0.8 0h1.8m4.2 0h1.8m-0.3 0h1.8m-20.3 0.5h1.8m1.7 0h1.8m-0.8 0h1.8m0.7 0h1.8m0.7 0h1.8m-0.3 0h1.8m-0.3 0h1.8m-0.8 0h1.8m6.7 0h1.8m-19.8 0.5h1.8m-0.3 0h1.8m-1.3 0h1.8m0.2 0h1.8m-1.3 0h1.8m0.2 0h1.8m-1.3 0h1.8m-1.3 0h1.8m1.7 0h1.8m6.2 0h1.8m-0.8 0h1.8m-22.8 0.5h1.8m1.7 0h1.8m0.2 0h1.8m-0.8 0h1.8m0.7 0h1.8m-0.3 0h1.8m-1.3 0h1.8m3.7 0h1.8m-21.3 0.5h1.8m10.2 0h1.8m-1.3 0h1.8m-1.3 0h1.8m0.7 0h1.8m-0.8 0h1.8m0.2 0h1.8m-1.3 0h1.8m-18.8 0.5h1.8m1.2 0h1.8m1.2 0h1.8m0.7 0h1.8m0.2 0h1.8m1.2 0h1.8m-13.3 0.5h1.8m9.7 0h1.8m-18.3 0.5h1.8m2.2 0h1.8m7.2 0h1.8m6.2 0h1.8m-20.3 0.5h1.8m-0.8 0h1.8m2.2 0h1.8m-0.3 0h1.8m3.2 0h1.8m0.7 0h1.8m-12.3 0.5h1.8m-0.3 0h1.8m1.7 0h1.8m2.7 0h1.8m0.2 0h1.8m-0.8 0h1.8m-13.3 0.5h1.8m-0.8 0h1.8m17.2 0h1.8m-25.8 0.5h1.8m-0.3 0h1.8m-0.8 0h1.8m-0.3 0h1.8m5.7 0h1.8m1.7 0h1.8m1.7 0h1.8m-16.8 0.5h1.8m3.2 0h1.8m0.7 0h1.8m2.2 0h1.8m-20.3 0.5h1.8m-0.8 0h1.8m1.2 0.5h1.8m5.2 0h1.8m0.2 0h1.8m2.7 0h1.8m-10.8 0.5h1.8m-1.3 0h1.8m1.2 0h1.8m1.7 0h1.8m-0.8 0h1.8m-11.3 0.5h1.8m3.7 0h1.8m-10.8 0.5h1.8m8.7 0h1.8m-0.8 0h1.8m-2.3 0.5h1.8m0.2 0h1.8m-36.3 0.5h1.8m18.2 0h1.8m1.7 0.5h1.8m1.7 0h1.8m-1.3 0h1.8m-4.3 0.5h1.8m-5.3 0.5h1.8m10.7 0h1.8m-12.8 0.5h1.8m5.7 0h1.8m1.7 0h1.8m-1.3 0h1.8m-1.3 0h1.8m-11.3 1h1.8m9.2 0h1.8m-14.3 0.5h1.8m6.7 0h1.8m-0.3 0h1.8m1.2 0h1.8m-5.8 1h1.8m-14.8 0.5h1.8m12.2 0h1.8m0.7 0h1.8m-15.3 0.5h1.8m1.2 0h1.8m1.2 0h1.8m-1.3 0h1.8m4.2 0h1.8m-0.8 0h1.8m-15.3 1h1.8m0.2 0h1.8m1.2 0h1.8m-2.3 0.5h1.8m-2.8 1h1.8m5.2 0h1.8m-7.8 0.5h1.8m-10.8 1.5h1.8m-0.8 0h1.8m4.7 0.5h1.8m5.7 1h1.8m-7.3 0.5h1.8m4.2 0h1.8m-4.8 1h1.8m0.7 1.5h1.8m6.2 2h1.8m-15.3 1.5h1.8m-5.8 2.5h1.8m-6.8 30.5h1.8m0.2 0h1.8m1.2 0h1.8m-1.3 0h1.8m3.7 0h1.8m3.2 0h1.8m-1.3 0h1.8m0.2 0h1.8" stroke="#000" stroke-width="1.8"/>
<rect x="66.8" y="1177.5" width="122.9" height="123.1" fill="none" stroke="#a0a0a0" stroke-width="1.1"/>
<text x="61.3" y="1193.7" font-size="11" text-anchor="end">10<tspan dy="-6.8" font-size="11">5</tspan></text>
<text x="61.3" y="1216.5" font-size="11" text-anchor="end">10<tspan dy="-6.8" font-size="11">4</tspan></text>
<text x="61.3" y="1239.5" font-size="11" text-anchor="end">10<tspan dy="-6.8" font-size="11">3</tspan></text>
<text x="61.3" y="1261.6" font-size="11" text-anchor="end">10<tspan dy="-6.8" font-size="11">2</tspan></text>
<text x="61.3" y="1285.1" font-size="11" text-anchor="end">10<tspan dy="-6.8" font-size="11">1</tspan></text>
<text x="61.3" y="1301.7" font-size="11" text-anchor="end">10<tspan dy="-6.8" font-size="11">0</tspan></text>
<text x="70.3" y="1317.4" font-size="11">10<tspan dy="-6.8" font-size="11">0</tspan></text>
<text x="87.2" y="1317.4" font-size="11">10<tspan dy="-6.8" font-size="11">1</tspan></text>
<text x="109.7" y="1317.4" font-size="11">10<tspan dy="-6.8" font-size="11">2</tspan></text>
<text x="132.1" y="1317.4" font-size="11">10<tspan dy="-6.8" font-size="11">3</tspan></text>
<text x="154.5" y="1317.4" font-size="11">10<tspan dy="-6.8" font-size="11">4</tspan></text>
<text x="172" y="1317.4" font-size="11">10<tspan dy="-6.8" font-size="11">5</tspan></text>
<path d="M145 1188.4h1.8m5.2 10.5h1.8m-0.8 1.5h1.8m-2.8 1h1.8m-19.3 1h1.8m12.7 4.5h1.8m-10.3 3h1.8m7.2 1h1.8m15.2 0h1.8m-18.3 1.5h1.8m-2.8 0.5h1.8m6.7 0h1.8m-14.8 1h1.8m0.7 0.5h1.8m-15.8 0.5h1.8m1.2 0h1.8m6.2 0h1.8m4.7 0h1.8m0.7 1h1.8m-13.8 0.5h1.8m0.7 1h1.8m1.7 0.5h1.8m-12.8 1h1.8m7.7 0h1.8m-0.3 0h1.8m-2.3 0.5h1.8m3.7 0.5h1.8m-11.3 5h1.8m-0.8 1h1.8m-0.3 0.5h1.8m2.2 0h1.8m6.7 0h1.8m-0.3 0.5h1.8m-18.3 0.5h1.8m-1.3 0h1.8m3.7 0.5h1.8m2.2 0.5h1.8m-21.3 1.5h1.8m23.2 0h1.8m-15.8 1h1.8m0.2 0h1.8m10.7 0.5h1.8m-8.8 1.5h1.8m-13.3 0.5h1.8m12.7 0.5h1.8m-19.3 0.5h1.8m1.7 1.5h1.8m3.7 0.5h1.8m0.2 0h1.8m4.2 0h1.8m-1.3 0.5h1.8m-0.8 2h1.8m-0.8 0h1.8m-13.3 1h1.8m-2.8 3h1.8m-0.8 0h1.8m9.2 1h1.8m4.7 2h1.8m-16.3 2.5h1.8m9.7 3.5h1.8" stroke="#000" stroke-width="1.8"/>
<rect x="224.5" y="1177.5" width="122.8" height="123.1" fill="none" stroke="#a0a0a0" stroke-width="1.1"/>
<text x="219" y="1193.7" font-size="11" text-anchor="end">10<tspan dy="-6.8" font-size="11">5</tspan></text>
<text x="219" y="1216.5" font-size="11" text-anchor="end">10<tspan dy="-6.8" font-size="11">4</tspan></text>
<text x="219" y="1239.5" font-size="11" text-anchor="end">10<tspan dy="-6.8" font-size="11">3</tspan></text>
<text x="219" y="1261.6" font-size="11" text-anchor="end">10<tspan dy="-6.8" font-size="11">2</tspan></text>
<text x="219" y="1285.1" font-size="11" text-anchor="end">10<tspan dy="-6.8" font-size="11">1</tspan></text>
<text x="219" y="1301.7" font-size="11" text-anchor="end">10<tspan dy="-6.8" font-size="11">0</tspan></text>
<text x="228" y="1317.4" font-size="11">10<tspan dy="-6.8" font-size="11">0</tspan></text>
<text x="244.9" y="1317.4" font-size="11">10<tspan dy="-6.8" font-size="11">1</tspan></text>
<text x="267.4" y="1317.4" font-size="11">10<tspan dy="-6.8" font-size="11">2</tspan></text>
<text x="289.8" y="1317.4" font-size="11">10<tspan dy="-6.8" font-size="11">3</tspan></text>
<text x="312.2" y="1317.4" font-size="11">10<tspan dy="-6.8" font-size="11">4</tspan></text>
<text x="329.7" y="1317.4" font-size="11">10<tspan dy="-6.8" font-size="11">5</tspan></text>
<path d="M290 1195.9h1.8m-18.8 5.5h1.8m35.2 1.5h1.8m-8.8 3h1.8m3.2 0h1.8m-0.8 9.5h1.8m9.2 2h1.8m-9.8 1h1.8m5.2 1h1.8m-23.8 1h1.8m6.7 3h1.8m2.7 1h1.8m-12.8 0.5h1.8m14.7 0h1.8m-19.8 1h1.8m-26.3 2h1.8m43.7 1.5h1.8m1.7 0h1.8m-9.3 2h1.8m4.7 0h1.8m-11.8 1h1.8m-13.3 2h1.8m22.7 0h1.8m-5.3 1h1.8m0.7 0h1.8m-8.8 2h1.8m-11.8 2h1.8m-11.3 0.5h1.8m26.7 2h1.8m-15.3 1h1.8m-10.8 1h1.8m-1.8 5.5h1.8m8.7 4.5h1.8m-4.8 3h1.8m-8.8 2h1.8m-4.8 12h1.8m6.2 23h1.8" stroke="#000" stroke-width="1.8"/>
<rect x="380.3" y="1177.3" width="122.9" height="122.7" fill="none" stroke="#a0a0a0" stroke-width="1.1"/>
<text x="374.8" y="1193.5" font-size="11" text-anchor="end">10<tspan dy="-6.8" font-size="11">5</tspan></text>
<text x="374.8" y="1216.3" font-size="11" text-anchor="end">10<tspan dy="-6.8" font-size="11">4</tspan></text>
<text x="374.8" y="1239.3" font-size="11" text-anchor="end">10<tspan dy="-6.8" font-size="11">3</tspan></text>
<text x="374.8" y="1261.4" font-size="11" text-anchor="end">10<tspan dy="-6.8" font-size="11">2</tspan></text>
<text x="374.8" y="1284.9" font-size="11" text-anchor="end">10<tspan dy="-6.8" font-size="11">1</tspan></text>
<text x="374.8" y="1301.5" font-size="11" text-anchor="end">10<tspan dy="-6.8" font-size="11">0</tspan></text>
<text x="383.8" y="1316.8" font-size="11">10<tspan dy="-6.8" font-size="11">0</tspan></text>
<text x="400.7" y="1316.8" font-size="11">10<tspan dy="-6.8" font-size="11">1</tspan></text>
<text x="423.2" y="1316.8" font-size="11">10<tspan dy="-6.8" font-size="11">2</tspan></text>
<text x="445.6" y="1316.8" font-size="11">10<tspan dy="-6.8" font-size="11">3</tspan></text>
<text x="468" y="1316.8" font-size="11">10<tspan dy="-6.8" font-size="11">4</tspan></text>
<text x="485.5" y="1316.8" font-size="11">10<tspan dy="-6.8" font-size="11">5</tspan></text>
<path d="M425 1198.4h1.8m6.7 0h1.8m0.7 1h1.8m1.2 0.5h1.8m1.7 0h1.8m-14.8 0.5h1.8m6.7 0h1.8m-19.8 2h1.8m9.7 0h1.8m-7.3 0.5h1.8m-1.3 0h1.8m11.2 0h1.8m-9.3 0.5h1.8m-0.8 0h1.8m-0.8 0h1.8m-11.8 0.5h1.8m5.7 0h1.8m2.7 0h1.8m-15.3 0.5h1.8m-0.8 0h1.8m0.2 0h1.8m-3.3 0.5h1.8m8.2 0h1.8m8.2 0h1.8m-0.8 0h1.8m-15.8 1h1.8m32.2 0h1.8m-34.3 0.5h1.8m2.2 0h1.8m4.7 0h1.8m1.2 0h1.8m13.7 0h1.8m3.7 0h1.8m-34.8 0.5h1.8m24.2 0h1.8m0.2 0h1.8m-44.3 0.5h1.8m-0.3 0h1.8m36.2 0h1.8m-35.3 0.5h1.8m2.7 0h1.8m1.2 0h1.8m8.2 0h1.8m0.2 0h1.8m10.2 0h1.8m8.2 0h1.8m-26.8 0.5h1.8m1.2 0h1.8m7.2 0h1.8m-0.3 0h1.8m-0.3 0.5h1.8m7.2 0h1.8m-44.3 0.5h1.8m0.7 0h1.8m8.7 0h1.8m18.7 0h1.8m5.7 0h1.8m1.2 0h1.8m-38.3 0.5h1.8m4.7 0h1.8m23.2 0h1.8m3.2 0h1.8m-32.3 0.5h1.8m-0.8 0h1.8m19.2 0h1.8m3.2 0h1.8m1.7 0h1.8m-33.3 0.5h1.8m20.2 0h1.8m1.2 0.5h1.8m1.2 0h1.8m2.2 0h1.8m-0.8 0h1.8m-33.3 1h1.8m-0.3 0h1.8m13.7 0h1.8m0.2 0h1.8m10.7 0h1.8m-16.8 0.5h1.8m5.7 0h1.8m-34.8 0.5h1.8m29.7 0h1.8m-1.3 0.5h1.8m4.2 0h1.8m-4.3 0.5h1.8m-42.8 0.5h1.8m5.2 0.5h1.8m5.7 0.5h1.8m17.2 0h1.8m4.2 0h1.8m4.2 0h1.8m-41.8 0.5h1.8m31.7 0h1.8m-0.8 0h1.8m-45.3 2h1.8m32.2 0h1.8m16.2 0h1.8m-10.8 0.5h1.8m-7.8 1.5h1.8m11.7 1h1.8m-16.3 0.5h1.8m0.7 2h1.8m5.2 2.5h1.8m-0.3 0.5h1.8m-13.3 1.5h1.8m3.2 0.5h1.8m8.2 0h1.8m0.2 0h1.8m-8.8 3.5h1.8m-14.3 2h1.8m-1.8 1.5h1.8m6.7 0h1.8m6.7 0.5h1.8m-10.8 1h1.8m0.7 0h1.8m7.2 0h1.8m-6.3 1.5h1.8m-11.3 0.5h1.8m9.7 0h1.8m-2.3 0.5h1.8m-6.3 1h1.8m-28.8 2h1.8m22.2 0.5h1.8m-1.3 2h1.8m2.7 0h1.8m-12.3 5h1.8m-13.8 0.5h1.8m6.2 0h1.8m6.7 0.5h1.8m-2.3 3.5h1.8m-3.8 2h1.8" stroke="#000" stroke-width="1.8"/>
<rect x="535.9" y="1177.3" width="123.5" height="122.7" fill="none" stroke="#a0a0a0" stroke-width="1.1"/>
<text x="530.4" y="1193.5" font-size="11" text-anchor="end">10<tspan dy="-6.8" font-size="11">5</tspan></text>
<text x="530.4" y="1216.3" font-size="11" text-anchor="end">10<tspan dy="-6.8" font-size="11">4</tspan></text>
<text x="530.4" y="1239.3" font-size="11" text-anchor="end">10<tspan dy="-6.8" font-size="11">3</tspan></text>
<text x="530.4" y="1261.4" font-size="11" text-anchor="end">10<tspan dy="-6.8" font-size="11">2</tspan></text>
<text x="530.4" y="1284.9" font-size="11" text-anchor="end">10<tspan dy="-6.8" font-size="11">1</tspan></text>
<text x="530.4" y="1301.5" font-size="11" text-anchor="end">10<tspan dy="-6.8" font-size="11">0</tspan></text>
<text x="539.4" y="1316.8" font-size="11">10<tspan dy="-6.8" font-size="11">0</tspan></text>
<text x="556.3" y="1316.8" font-size="11">10<tspan dy="-6.8" font-size="11">1</tspan></text>
<text x="578.8" y="1316.8" font-size="11">10<tspan dy="-6.8" font-size="11">2</tspan></text>
<text x="601.2" y="1316.8" font-size="11">10<tspan dy="-6.8" font-size="11">3</tspan></text>
<text x="623.6" y="1316.8" font-size="11">10<tspan dy="-6.8" font-size="11">4</tspan></text>
<text x="641.1" y="1316.8" font-size="11">10<tspan dy="-6.8" font-size="11">5</tspan></text>
<ellipse cx="617" cy="1225" rx="9.5" ry="19" fill="#000"/>
<path d="M581.5 1197.9h1.8m-7.3 0.5h1.8m-1.3 0h1.8m-2.3 0.5h1.8m-0.3 0h1.8m1.7 0h1.8m4.7 0h1.8m-12.3 0.5h1.8m5.2 0h1.8m5.2 0h1.8m-15.8 0.5h1.8m4.7 0h1.8m5.7 0h1.8m-0.8 0h1.8m-24.3 0.5h1.8m16.2 0h1.8m-0.3 0h1.8m-1.3 0h1.8m-28.3 0.5h1.8m7.7 0h1.8m8.2 0h1.8m-8.3 0.5h1.8m0.7 0h1.8m-1.3 0h1.8m9.2 0h1.8m-0.8 0h1.8m0.7 0h1.8m3.2 0h1.8m-23.8 0.5h1.8m2.7 0h1.8m2.7 0h1.8m4.7 0h1.8m-1.3 0h1.8m0.2 0h1.8m-27.8 0.5h1.8m10.7 0h1.8m5.2 0h1.8m1.7 0h1.8m0.7 0h1.8m-1.3 0h1.8m1.2 0.5h1.8m16.7 0h1.8m-0.3 0h1.8m2.7 0h1.8m-62.8 0.5h1.8m20.2 0h1.8m5.2 0h1.8m1.2 0h1.8m1.2 0h1.8m12.2 0h1.8m2.2 0h1.8m0.2 0h1.8m-1.3 0h1.8m-0.3 0h1.8m-0.8 0h1.8m-1.3 0h1.8m-0.3 0h1.8m-49.8 0.5h1.8m-0.3 0h1.8m8.2 0h1.8m18.7 0h1.8m-0.3 0h1.8m5.7 0h1.8m-0.3 0h1.8m1.7 0h1.8m-0.8 0h1.8m6.2 0h1.8m-58.8 0.5h1.8m7.7 0h1.8m-0.8 0h1.8m7.7 0h1.8m1.2 0h1.8m2.7 0h1.8m10.2 0h1.8m-1.3 0h1.8m-0.8 0h1.8m-0.3 0h1.8m-63.3 0.5h1.8m21.2 0h1.8m3.7 0h1.8m2.2 0h1.8m1.7 0h1.8m2.7 0h1.8m2.2 0h1.8m-1.3 0h1.8m-0.8 0h1.8m8.2 0h1.8m1.2 0h1.8m0.7 0h1.8m12.2 0h1.8m1.2 0h1.8m-53.3 0.5h1.8m2.2 0h1.8m-0.3 0h1.8m6.7 0h1.8m17.7 0h1.8m0.2 0h1.8m0.7 0h1.8m2.7 0h1.8m-0.8 0h1.8m-0.3 0h1.8m2.2 0h1.8m-56.3 0.5h1.8m-0.8 0h1.8m-0.3 0h1.8m1.7 0h1.8m5.2 0h1.8m0.2 0h1.8m-0.8 0h1.8m-0.8 0h1.8m0.2 0h1.8m14.7 0h1.8m2.7 0h1.8m-0.8 0h1.8m-0.3 0h1.8m1.7 0h1.8m-0.8 0h1.8m0.2 0h1.8m-55.3 0.5h1.8m1.7 0h1.8m7.2 0h1.8m0.2 0h1.8m4.7 0h1.8m-0.8 0h1.8m6.7 0h1.8m11.7 0h1.8m-0.8 0h1.8m-0.8 0h1.8m-1.3 0h1.8m3.2 0h1.8m1.7 0h1.8m-41.3 0.5h1.8m3.2 0h1.8m-0.3 0h1.8m2.2 0h1.8m-1.3 0h1.8m13.7 0h1.8m1.7 0h1.8m2.7 0h1.8m1.2 0h1.8m-1.3 0h1.8m0.7 0h1.8m1.2 0h1.8m-47.3 0.5h1.8m-1.3 0h1.8m2.2 0h1.8m-0.8 0h1.8m7.7 0h1.8m8.7 0h1.8m-0.3 0h1.8m0.2 0h1.8m0.2 0h1.8m-0.3 0h1.8m-0.8 0h1.8m-1.3 0h1.8m1.2 0h1.8m-0.8 0h1.8m-0.8 0h1.8m-0.3 0h1.8m1.2 0h1.8m-54.8 0.5h1.8m1.7 0h1.8m-0.3 0h1.8m-0.3 0h1.8m0.2 0h1.8m-1.3 0h1.8m-1.3 0h1.8m0.7 0h1.8m-0.3 0h1.8m1.7 0h1.8m14.7 0h1.8m-0.8 0h1.8m2.2 0h1.8m-0.8 0h1.8m-1.3 0h1.8m0.7 0h1.8m-0.3 0h1.8m-49.3 0.5h1.8m3.7 0h1.8m0.7 0h1.8m-1.3 0h1.8m1.2 0h1.8m0.2 0h1.8m4.7 0h1.8m3.7 0h1.8m9.7 0h1.8m4.2 0h1.8m-1.3 0h1.8m-0.3 0h1.8m3.2 0h1.8m-1.3 0h1.8m-1.3 0h1.8m2.7 0h1.8m-56.3 0.5h1.8m1.2 0h1.8m6.2 0h1.8m3.7 0h1.8m2.7 0h1.8m-0.8 0h1.8m5.7 0h1.8m5.2 0h1.8m0.2 0h1.8m-1.3 0h1.8m0.7 0h1.8m-1.3 0h1.8m0.2 0h1.8m0.2 0h1.8m0.7 0h1.8m-1.3 0h1.8m-0.8 0h1.8m2.7 0h1.8m0.2 0h1.8m-53.8 0.5h1.8m0.7 0h1.8m0.7 0h1.8m-0.8 0h1.8m5.7 0h1.8m0.7 0h1.8m10.7 0h1.8m6.7 0h1.8m-0.8 0h1.8m-0.3 0h1.8m-1.3 0h1.8m4.7 0h1.8m-0.8 0h1.8m-0.3 0h1.8m-52.8 0.5h1.8m-0.8 0h1.8m-0.3 0h1.8m9.2 0h1.8m2.7 0h1.8m14.7 0h1.8m-0.3 0h1.8m1.7 0h1.8m-1.3 0h1.8m1.7 0h1.8m-1.3 0h1.8m0.7 0h1.8m3.7 0h1.8m-0.3 0h1.8m-1.3 0h1.8m-1.3 0h1.8m-1.3 0h1.8m-47.8 0.5h1.8m9.7 0h1.8m-0.8 0h1.8m7.2 0h1.8m1.7 0h1.8m1.7 0h1.8m-1.3 0h1.8m-0.3 0h1.8m-0.3 0h1.8m0.2 0h1.8m0.2 0h1.8m-1.3 0h1.8m0.7 0h1.8m0.2 0h1.8m0.7 0h1.8m-52.3 0.5h1.8m-1.3 0h1.8m-0.3 0h1.8m3.2 0h1.8m2.2 0h1.8m20.2 0h1.8m2.2 0h1.8m-0.8 0h1.8m0.2 0h1.8m0.7 0h1.8m0.2 0h1.8m-51.8 0.5h1.8m13.7 0h1.8m19.2 0h1.8m0.7 0h1.8m3.7 0h1.8m-0.3 0h1.8m4.2 0h1.8m7.2 0h1.8m-62.3 0.5h1.8m3.7 0h1.8m6.2 0h1.8m2.7 0h1.8m19.2 0h1.8m3.2 0h1.8m0.2 0h1.8m-0.8 0h1.8m0.7 0h1.8m-0.3 0h1.8m-0.8 0h1.8m11.2 0h1.8m-70.3 0.5h1.8m-0.3 0h1.8m3.2 0h1.8m3.2 0h1.8m1.2 0h1.8m0.2 0h1.8m2.7 0h1.8m15.2 0h1.8m-1.3 0h1.8m6.2 0h1.8m-1.3 0h1.8m-1.3 0h1.8m-0.8 0h1.8m0.7 0h1.8m0.7 0h1.8m-0.8 0h1.8m1.7 0h1.8m0.7 0h1.8m-0.8 0h1.8m-48.3 0.5h1.8m0.2 0h1.8m18.2 0h1.8m2.2 0h1.8m-0.3 0h1.8m-0.8 0h1.8m-1.3 0h1.8m-0.3 0h1.8m-0.8 0h1.8m-0.3 0h1.8m0.7 0h1.8m-0.3 0h1.8m-1.3 0h1.8m-1.3 0h1.8m2.7 0h1.8m-1.3 0h1.8m0.2 0h1.8m-55.3 0.5h1.8m0.7 0h1.8m4.2 0h1.8m16.2 0h1.8m2.7 0h1.8m4.2 0h1.8m2.7 0h1.8m0.2 0h1.8m-0.8 0h1.8m2.7 0h1.8m4.2 0h1.8m-1.3 0h1.8m-62.8 0.5h1.8m20.7 0h1.8m-1.3 0h1.8m-0.8 0h1.8m12.7 0h1.8m2.2 0h1.8m-1.3 0h1.8m-0.8 0h1.8m-1.3 0h1.8m-1.3 0h1.8m-0.8 0h1.8m0.7 0h1.8m0.7 0h1.8m0.2 0h1.8m-0.8 0h1.8m-0.8 0h1.8m-0.8 0h1.8m0.7 0h1.8m-0.8 0h1.8m-0.8 0h1.8m-64.3 0.5h1.8m3.7 0h1.8m37.7 0h1.8m0.7 0h1.8m-1.3 0h1.8m-1.3 0h1.8m-0.8 0h1.8m-0.8 0h1.8m-0.3 0h1.8m-0.8 0h1.8m0.7 0h1.8m0.7 0h1.8m3.2 0h1.8m-47.3 0.5h1.8m20.7 0h1.8m1.2 0h1.8m0.7 0h1.8m-0.8 0h1.8m0.7 0h1.8m0.2 0h1.8m-0.8 0h1.8m-1.3 0h1.8m-1.3 0h1.8m1.7 0h1.8m0.2 0h1.8m-20.8 0.5h1.8m1.2 0h1.8m0.2 0h1.8m-1.3 0h1.8m0.7 0h1.8m4.2 0h1.8m0.2 0h1.8m-0.3 0h1.8m1.2 0h1.8m0.2 0h1.8m-22.8 0.5h1.8m0.7 0h1.8m0.7 0h1.8m0.2 0h1.8m-0.8 0h1.8m1.7 0h1.8m0.7 0h1.8m5.2 0h1.8m-25.3 0.5h1.8m-1.3 0h1.8m-0.8 0h1.8m1.7 0h1.8m0.2 0h1.8m-0.8 0h1.8m1.7 0h1.8m-0.8 0h1.8m-0.8 0h1.8m-0.8 0h1.8m-0.8 0h1.8m-0.8 0h1.8m-1.3 0h1.8m-1.3 0h1.8m-17.3 0.5h1.8m1.2 0h1.8m0.7 0h1.8m-0.8 0h1.8m-0.3 0h1.8m-0.8 0h1.8m-0.8 0h1.8m-0.8 0h1.8m-0.3 0h1.8m-1.3 0h1.8m-1.3 0h1.8m0.7 0h1.8m0.2 0h1.8m4.2 0h1.8m-49.3 0.5h1.8m20.2 0h1.8m4.7 0h1.8m2.7 0h1.8m1.7 0h1.8m-0.3 0h1.8m-1.3 0h1.8m-1.3 0h1.8m1.2 0h1.8m4.2 0h1.8m-28.3 0.5h1.8m-0.3 0h1.8m1.2 0h1.8m2.2 0h1.8m-0.8 0h1.8m-0.3 0h1.8m-0.8 0h1.8m-1.3 0h1.8m-1.3 0h1.8m-0.8 0h1.8m-1.3 0h1.8m2.7 0h1.8m-17.8 0.5h1.8m-0.8 0h1.8m-1.3 0h1.8m-1.3 0h1.8m-1.3 0h1.8m-0.3 0h1.8m-1.3 0h1.8m0.2 0h1.8m0.7 0h1.8m-1.3 0h1.8m-0.3 0h1.8m-1.3 0h1.8m-1.3 0h1.8m-1.3 0h1.8m-1.3 0h1.8m-1.3 0h1.8m2.2 0h1.8m-1.3 0h1.8m-1.3 0h1.8m1.7 0h1.8m-23.8 0.5h1.8m-0.8 0h1.8m-1.3 0h1.8m1.2 0h1.8m2.7 0h1.8m-1.3 0h1.8m-1.3 0h1.8m-1.3 0h1.8m-1.3 0h1.8m-0.8 0h1.8m-0.8 0h1.8m-1.3 0h1.8m-1.3 0h1.8m0.7 0h1.8m-0.3 0h1.8m-1.3 0h1.8m-18.8 0.5h1.8m1.2 0h1.8m-1.3 0h1.8m-0.3 0h1.8m-0.8 0h1.8m-1.3 0h1.8m0.2 0h1.8m-0.3 0h1.8m-1.3 0h1.8m0.2 0h1.8m-1.3 0h1.8m4.7 0h1.8m-24.3 0.5h1.8m-0.3 0h1.8m-1.3 0h1.8m2.7 0h1.8m5.7 0h1.8m-1.3 0h1.8m0.2 0h1.8m3.7 0h1.8m-26.3 0.5h1.8m4.7 0h1.8m0.2 0h1.8m-0.8 0h1.8m1.2 0h1.8m-0.8 0h1.8m-0.3 0h1.8m-0.3 0h1.8m-1.3 0h1.8m-1.3 0h1.8m-1.3 0h1.8m-1.3 0h1.8m-1.3 0h1.8m0.2 0h1.8m1.2 0h1.8m-0.8 0h1.8m-1.3 0h1.8m-21.8 0.5h1.8m-1.3 0h1.8m-0.8 0h1.8m0.2 0h1.8m-0.8 0h1.8m0.7 0h1.8m-1.3 0h1.8m-0.3 0h1.8m-1.3 0h1.8m0.7 0h1.8m1.2 0h1.8m-0.8 0h1.8m1.2 0h1.8m-24.8 0.5h1.8m3.2 0h1.8m-0.3 0h1.8m-1.3 0h1.8m-1.3 0h1.8m1.2 0h1.8m-0.3 0h1.8m-1.3 0h1.8m-0.8 0h1.8m2.2 0h1.8m-0.3 0h1.8m4.7 0h1.8m-1.3 0h1.8m-26.8 0.5h1.8m3.7 0h1.8m-1.3 0h1.8m-0.8 0h1.8m-1.3 0h1.8m0.7 0h1.8m0.7 0h1.8m-0.3 0h1.8m-1.3 0h1.8m-0.8 0h1.8m-1.3 0h1.8m-1.3 0h1.8m-0.3 0h1.8m-1.3 0h1.8m-0.8 0h1.8m-1.3 0h1.8m3.7 0h1.8m-26.8 0.5h1.8m0.2 0h1.8m0.2 0h1.8m-0.8 0h1.8m-1.3 0h1.8m1.2 0h1.8m0.2 0h1.8m-1.3 0h1.8m-0.3 0h1.8m-1.3 0h1.8m-1.3 0h1.8m6.7 0h1.8m-20.3 0.5h1.8m0.7 0h1.8m-1.3 0h1.8m-1.3 0h1.8m0.2 0h1.8m2.2 0h1.8m3.2 0h1.8m-0.3 0h1.8m-0.3 0h1.8m-1.3 0h1.8m1.2 0h1.8m-28.8 0.5h1.8m4.7 0h1.8m-1.3 0h1.8m0.2 0h1.8m0.7 0h1.8m-1.3 0h1.8m0.2 0h1.8m-0.8 0h1.8m5.2 0h1.8m-1.3 0h1.8m-63.8 0.5h1.8m37.7 0h1.8m4.7 0h1.8m0.2 0h1.8m-1.3 0h1.8m-0.8 0h1.8m-1.3 0h1.8m1.7 0h1.8m2.7 0h1.8m-1.3 0h1.8m-0.8 0h1.8m-0.8 0h1.8m-1.3 0h1.8m-20.8 0.5h1.8m0.7 0h1.8m-0.3 0h1.8m-0.3 0h1.8m1.2 0h1.8m0.2 0h1.8m7.7 0h1.8m0.7 0h1.8m-0.8 0h1.8m-27.8 0.5h1.8m1.2 0h1.8m-1.3 0h1.8m-1.3 0h1.8m1.2 0h1.8m-1.3 0h1.8m1.7 0h1.8m-0.8 0h1.8m-0.3 0h1.8m-1.3 0h1.8m-1.3 0h1.8m-1.3 0h1.8m-1.3 0h1.8m-1.3 0h1.8m-1.3 0h1.8m0.2 0h1.8m-1.3 0h1.8m-0.8 0h1.8m-1.3 0h1.8m0.2 0h1.8m1.2 0h1.8m-20.8 0.5h1.8m0.7 0h1.8m-0.3 0h1.8m-1.3 0h1.8m-1.3 0h1.8m-0.8 0h1.8m-0.8 0h1.8m-1.3 0h1.8m2.2 0h1.8m1.2 0h1.8m-0.8 0h1.8m-0.8 0h1.8m-1.3 0h1.8m-23.8 0.5h1.8m-1.3 0h1.8m-1.3 0h1.8m-1.3 0h1.8m0.2 0h1.8m0.2 0h1.8m0.2 0h1.8m-1.3 0h1.8m-0.3 0h1.8m-0.3 0h1.8m1.2 0h1.8m0.2 0h1.8m4.7 0h1.8m-23.8 0.5h1.8m4.7 0h1.8m-0.8 0h1.8m-0.3 0h1.8m-1.3 0h1.8m-1.3 0h1.8m0.2 0h1.8m1.2 0h1.8m-0.8 0h1.8m-1.3 0h1.8m-1.3 0h1.8m-0.8 0h1.8m0.2 0h1.8m-1.3 0h1.8m-0.3 0h1.8m-19.3 0.5h1.8m0.2 0h1.8m1.7 0h1.8m-0.8 0h1.8m2.2 0h1.8m-0.3 0h1.8m0.7 0h1.8m-18.8 0.5h1.8m-1.3 0h1.8m-0.8 0h1.8m1.7 0h1.8m-0.8 0h1.8m-0.3 0h1.8m0.7 0h1.8m-1.3 0h1.8m1.2 0h1.8m-1.3 0h1.8m-0.8 0h1.8m-0.8 0h1.8m-1.3 0h1.8m-18.3 0.5h1.8m1.2 0h1.8m-0.8 0h1.8m-1.3 0h1.8m-0.8 0h1.8m-1.3 0h1.8m0.2 0h1.8m-1.3 0h1.8m0.2 0h1.8m0.2 0h1.8m-0.8 0h1.8m-1.3 0h1.8m-17.8 0.5h1.8m2.2 0h1.8m1.2 0h1.8m-0.3 0h1.8m-1.3 0h1.8m-0.3 0h1.8m-1.3 0h1.8m-0.3 0h1.8m-0.8 0h1.8m-0.8 0h1.8m-1.3 0h1.8m-1.3 0h1.8m5.7 0h1.8m-18.8 0.5h1.8m-0.8 0h1.8m1.2 0h1.8m-1.3 0h1.8m0.2 0h1.8m-0.3 0h1.8m2.2 0h1.8m-1.3 0h1.8m0.2 0h1.8m0.2 0h1.8m-0.8 0h1.8m-0.3 0h1.8m-27.3 0.5h1.8m1.7 0h1.8m-0.3 0h1.8m-0.8 0h1.8m-0.8 0h1.8m-1.3 0h1.8m-0.3 0h1.8m1.7 0h1.8m-1.3 0h1.8m-1.3 0h1.8m-0.3 0h1.8m-0.3 0h1.8m-1.3 0h1.8m-1.3 0h1.8m2.7 0h1.8m-1.3 0h1.8m-0.3 0h1.8m0.2 0h1.8m-25.8 0.5h1.8m0.7 0h1.8m-0.3 0h1.8m-0.8 0h1.8m-1.3 0h1.8m-0.3 0h1.8m-0.3 0h1.8m-0.3 0h1.8m-0.8 0h1.8m-0.3 0h1.8m-0.8 0h1.8m-1.3 0h1.8m-1.3 0h1.8m-0.8 0h1.8m0.7 0h1.8m1.2 0h1.8m-24.3 0.5h1.8m2.2 0h1.8m-0.3 0h1.8m0.2 0h1.8m-1.3 0h1.8m-0.3 0h1.8m-0.8 0h1.8m-1.3 0h1.8m-1.3 0h1.8m-0.8 0h1.8m0.2 0h1.8m0.7 0h1.8m-1.3 0h1.8m-0.3 0h1.8m-1.3 0h1.8m-26.8 0.5h1.8m1.7 0h1.8m5.7 0h1.8m0.7 0h1.8m-0.8 0h1.8m-0.8 0h1.8m-0.3 0h1.8m6.2 0h1.8m-1.3 0h1.8m2.7 0h1.8m-25.8 0.5h1.8m0.2 0h1.8m0.7 0h1.8m-1.3 0h1.8m-1.3 0h1.8m-1.3 0h1.8m0.7 0h1.8m-0.8 0h1.8m-0.8 0h1.8m-1.3 0h1.8m0.7 0h1.8m0.7 0h1.8m0.7 0h1.8m0.7 0h1.8m-20.8 0.5h1.8m-0.3 0h1.8m2.7 0h1.8m-0.8 0h1.8m0.7 0h1.8m-0.3 0h1.8m1.2 0h1.8m-1.3 0h1.8m-0.8 0h1.8m2.2 0h1.8m0.2 0h1.8m-27.8 0.5h1.8m4.7 0h1.8m-1.3 0h1.8m-0.3 0h1.8m-0.8 0h1.8m-0.3 0h1.8m0.2 0h1.8m0.2 0h1.8m-0.3 0h1.8m-0.8 0h1.8m-0.3 0h1.8m-0.8 0h1.8m2.7 0h1.8m-22.3 0.5h1.8m0.2 0h1.8m-1.3 0h1.8m0.7 0h1.8m-0.8 0h1.8m-0.8 0h1.8m0.2 0h1.8m-0.3 0h1.8m-0.8 0h1.8m-0.3 0h1.8m-0.8 0h1.8m-1.3 0h1.8m-0.3 0h1.8m0.7 0h1.8m-17.8 0.5h1.8m-1.3 0h1.8m-0.8 0h1.8m-0.8 0h1.8m0.2 0h1.8m3.2 0h1.8m-1.3 0h1.8m-1.3 0h1.8m6.2 0h1.8m-0.8 0h1.8m-23.3 0.5h1.8m-0.3 0h1.8m3.7 0h1.8m0.7 0h1.8m-1.3 0h1.8m-0.3 0h1.8m-0.8 0h1.8m4.2 0h1.8m2.2 0h1.8m-27.3 0.5h1.8m2.7 0h1.8m-0.8 0h1.8m0.2 0h1.8m-1.3 0h1.8m2.2 0h1.8m-0.8 0h1.8m-1.3 0h1.8m-0.8 0h1.8m-1.3 0h1.8m-0.3 0h1.8m-0.8 0h1.8m-1.3 0h1.8m-0.8 0h1.8m-1.3 0h1.8m-0.8 0h1.8m-1.3 0h1.8m-20.8 0.5h1.8m0.7 0h1.8m1.2 0h1.8m-1.3 0h1.8m-0.8 0h1.8m-0.8 0h1.8m1.2 0h1.8m0.2 0h1.8m-0.3 0h1.8m0.7 0h1.8m2.7 0h1.8m4.7 0h1.8m-25.8 0.5h1.8m-0.8 0h1.8m-0.8 0h1.8m-1.3 0h1.8m-1.3 0h1.8m-0.8 0h1.8m-0.3 0h1.8m-1.3 0h1.8m-1.3 0h1.8m-0.3 0h1.8m-0.3 0h1.8m0.7 0h1.8m4.2 0h1.8m-0.8 0h1.8m-24.3 0.5h1.8m-1.3 0h1.8m1.2 0h1.8m2.7 0h1.8m0.2 0h1.8m-1.3 0h1.8m-0.8 0h1.8m0.7 0h1.8m-1.3 0h1.8m0.7 0h1.8m-0.3 0h1.8m-1.3 0h1.8m-0.8 0h1.8m0.2 0h1.8m-24.3 0.5h1.8m6.2 0h1.8m0.2 0h1.8m8.7 0h1.8m-0.3 0h1.8m-26.3 0.5h1.8m0.2 0h1.8m0.2 0h1.8m1.7 0h1.8m1.7 0h1.8m1.7 0h1.8m-1.3 0h1.8m-0.8 0h1.8m3.7 0h1.8m-0.3 0h1.8m-1.3 0h1.8m-1.3 0h1.8m-0.8 0h1.8m-21.3 0.5h1.8m0.2 0h1.8m1.2 0h1.8m-0.8 0h1.8m-1.3 0h1.8m-0.3 0h1.8m1.2 0h1.8m-0.8 0h1.8m1.7 0h1.8m2.7 0h1.8m-25.8 0.5h1.8m-0.8 0h1.8m1.7 0h1.8m-0.3 0h1.8m-1.3 0h1.8m-0.3 0h1.8m-1.3 0h1.8m-0.3 0h1.8m-1.3 0h1.8m-0.8 0h1.8m-0.8 0h1.8m2.2 0h1.8m-0.8 0h1.8m4.7 0h1.8m-24.8 0.5h1.8m-0.3 0h1.8m2.7 0h1.8m-0.3 0h1.8m2.7 0h1.8m-13.3 0.5h1.8m-1.3 0h1.8m3.2 0h1.8m-1.3 0h1.8m-1.3 0h1.8m-1.3 0h1.8m1.7 0h1.8m-1.3 0h1.8m-0.8 0h1.8m-1.3 0h1.8m0.7 0h1.8m0.7 0h1.8m0.2 0h1.8m-17.8 0.5h1.8m-1.3 0h1.8m0.2 0h1.8m3.2 0h1.8m-1.3 0h1.8m-1.3 0h1.8m-1.3 0h1.8m3.2 0h1.8m-15.3 0.5h1.8m-0.3 0h1.8m-0.3 0h1.8m-0.8 0h1.8m-1.3 0h1.8m-1.3 0h1.8m-0.8 0h1.8m-1.3 0h1.8m0.7 0h1.8m-1.3 0h1.8m3.7 0h1.8m-17.8 0.5h1.8m-0.3 0h1.8m-0.3 0h1.8m-1.3 0h1.8m2.7 0h1.8m-0.8 0h1.8m-1.3 0h1.8m-23.8 0.5h1.8m8.2 0h1.8m0.2 0h1.8m3.2 0h1.8m1.2 0h1.8m0.2 0h1.8m-0.3 0h1.8m0.2 0h1.8m-1.3 0h1.8m-0.8 0h1.8m-0.8 0h1.8m-1.3 0h1.8m-16.8 0.5h1.8m-0.8 0h1.8m0.7 0h1.8m4.2 0h1.8m0.2 0h1.8m-0.8 0h1.8m0.7 0h1.8m0.2 0h1.8m-24.3 0.5h1.8m0.7 0h1.8m1.2 0h1.8m-0.3 0h1.8m-1.3 0h1.8m0.2 0h1.8m-0.3 0h1.8m-1.3 0h1.8m-0.3 0h1.8m-1.3 0h1.8m1.2 0h1.8m1.2 0h1.8m-0.8 0h1.8m-21.8 0.5h1.8m1.2 0h1.8m1.2 0h1.8m5.7 0h1.8m-0.8 0h1.8m0.2 0h1.8m1.7 0h1.8m-17.8 0.5h1.8m-1.3 0h1.8m-1.3 0h1.8m-0.8 0h1.8m-0.8 0h1.8m-0.3 0h1.8m-1.3 0h1.8m-1.3 0h1.8m-0.3 0h1.8m-0.3 0h1.8m-1.3 0h1.8m-0.8 0h1.8m0.2 0h1.8m0.7 0h1.8m-21.8 0.5h1.8m1.2 0h1.8m4.2 0h1.8m-0.3 0h1.8m0.2 0h1.8m-0.8 0h1.8m-0.8 0h1.8m-0.3 0h1.8m0.7 0h1.8m0.7 0h1.8m-19.3 0.5h1.8m-0.8 0h1.8m0.2 0h1.8m1.7 0h1.8m-0.8 0h1.8m7.7 0h1.8m-23.3 0.5h1.8m6.7 0h1.8m-0.3 0h1.8m-1.3 0h1.8m1.2 0h1.8m0.7 0h1.8m0.2 0h1.8m-10.3 0.5h1.8m-0.8 0h1.8m0.7 0h1.8m-1.3 0h1.8m2.7 0h1.8m0.2 0h1.8m-18.8 0.5h1.8m-1.3 0h1.8m-1.3 0h1.8m0.2 0h1.8m-1.3 0h1.8m-1.3 0h1.8m1.2 0h1.8m-0.3 0h1.8m1.2 0h1.8m0.7 0h1.8m0.2 0h1.8m-20.3 0.5h1.8m2.2 0h1.8m1.7 0h1.8m-0.8 0h1.8m0.7 0h1.8m0.2 0h1.8m0.7 0h1.8m0.2 0h1.8m0.7 0h1.8m3.7 0h1.8m-23.3 0.5h1.8m-0.3 0h1.8m2.7 0h1.8m-1.3 0h1.8m5.2 0h1.8m-16.8 0.5h1.8m3.7 0h1.8m-1.3 0h1.8m1.2 0h1.8m0.2 0h1.8m3.2 0h1.8m0.2 0h1.8m-18.3 0.5h1.8m5.2 0h1.8m-0.8 0h1.8m-0.8 0h1.8m-0.8 0h1.8m-1.3 0h1.8m6.2 0h1.8m-0.8 0h1.8m-1.3 0h1.8m-0.8 0h1.8m-17.8 0.5h1.8m-1.3 0h1.8m3.2 0h1.8m-0.8 0h1.8m0.2 0h1.8m-0.8 0h1.8m-0.3 0h1.8m1.2 0h1.8m-17.3 0.5h1.8m-0.8 0h1.8m0.7 0h1.8m-1.3 0h1.8m-1.3 0h1.8m-1.3 0h1.8m-0.8 0h1.8m-0.3 0h1.8m4.2 0h1.8m0.2 0h1.8m-20.8 0.5h1.8m6.7 0h1.8m-0.8 0h1.8m2.2 0h1.8m-0.3 0h1.8m-6.8 0.5h1.8m0.2 0h1.8m-1.3 0h1.8m4.7 0h1.8m-17.3 0.5h1.8m0.2 0h1.8m-0.8 0h1.8m0.7 0h1.8m0.2 0h1.8m0.2 0h1.8m-17.3 0.5h1.8m-0.8 0h1.8m-1.3 0h1.8m9.7 0h1.8m-0.8 0h1.8m-1.3 0h1.8m0.2 0h1.8m-10.8 0.5h1.8m-0.3 0h1.8m4.2 0h1.8m-0.8 0h1.8m-8.8 0.5h1.8m-1.3 0h1.8m0.2 0h1.8m-1.3 0h1.8m0.2 0h1.8m2.7 0h1.8m1.2 0h1.8m-18.8 0.5h1.8m9.7 0h1.8m-1.3 0h1.8m-15.8 0.5h1.8m3.7 0h1.8m3.7 0h1.8m1.7 0h1.8m-13.8 0.5h1.8m0.2 0h1.8m-1.3 0h1.8m0.7 0h1.8m0.2 0h1.8m10.2 0h1.8m-27.3 0.5h1.8m1.7 0h1.8m4.2 0h1.8m-1.3 0h1.8m-1.3 0h1.8m-0.8 0h1.8m3.2 0h1.8m0.2 0h1.8m-1.3 0h1.8m2.2 0h1.8m1.7 0h1.8m-22.8 0.5h1.8m-0.3 0h1.8m-5.3 0.5h1.8m0.2 0h1.8m4.7 0h1.8m-12.3 0.5h1.8m8.2 0h1.8m-7.3 0.5h1.8m0.7 0h1.8m-0.8 0h1.8m0.7 0h1.8m-1.3 0h1.8m0.2 0h1.8m-11.8 0.5h1.8m3.2 0h1.8m-0.3 0h1.8m0.2 0h1.8m4.2 0h1.8m-0.3 0h1.8m-10.8 0.5h1.8m-11.8 0.5h1.8m-0.3 0h1.8m5.7 0.5h1.8m0.7 0h1.8m-10.8 0.5h1.8m9.7 0h1.8m-8.8 1h1.8m4.7 0h1.8m-5.3 0.5h1.8m-4.3 0.5h1.8m-0.8 0h1.8m1.2 0h1.8m0.2 0h1.8m-10.3 0.5h1.8m0.2 0h1.8m1.2 0h1.8m2.2 0h1.8m-8.3 0.5h1.8m-6.8 0.5h1.8m7.7 0h1.8m-11.3 0.5h1.8m-0.8 0h1.8m8.2 0h1.8m-13.3 0.5h1.8m-3.3 0.5h1.8m0.2 0h1.8m6.7 0h1.8m-0.8 0h1.8m-4.3 0.5h1.8m-10.3 0.5h1.8m0.2 0h1.8m-1.3 0h1.8m1.2 0h1.8m1.2 0h1.8m-1.3 0h1.8m-1.3 0h1.8m-5.8 0.5h1.8m6.7 0h1.8m-16.3 0.5h1.8m3.7 0h1.8m4.2 0h1.8m-13.8 0.5h1.8m4.7 0h1.8m3.2 0.5h1.8m-0.8 0h1.8m-11.3 1h1.8m9.2 0h1.8m-3.3 1h1.8m-4.3 1h1.8m-6.3 0.5h1.8m4.2 0h1.8m-10.8 0.5h1.8m10.2 0h1.8m-2.8 0.5h1.8m-7.3 0.5h1.8m4.2 1h1.8m-10.8 1h1.8m-0.3 0.5h1.8m2.7 1h1.8m-7.3 0.5h1.8m0.7 0h1.8m0.2 0.5h1.8m-0.8 0.5h1.8m-0.8 1h1.8m-13.8 1.5h1.8m2.2 0.5h1.8m-3.8 20h1.8m1.2 0h1.8m-0.3 0h1.8m-0.8 0h1.8m2.2 0h1.8" stroke="#000" stroke-width="1.8"/>
<line x1="24.8" y1="1331.5" x2="24.8" y2="1085" stroke="#000" stroke-width="1.6"/>
<path d="M24.8 1076L30.1 1085.5L19.6 1085.5Z" fill="#000"/>
<line x1="24" y1="1331.5" x2="273" y2="1331.5" stroke="#000" stroke-width="1.6"/>
<path d="M282 1331.5L272.5 1326.2L272.5 1336.8Z" fill="#000"/>
<text x="24.6" y="1032.5" font-size="21" text-anchor="middle" transform="rotate(-90 24.6 1032.5)" textLength="52" lengthAdjust="spacingAndGlyphs">CD44</text>
<text x="325" y="1336" font-size="21" text-anchor="middle" textLength="63.5" lengthAdjust="spacingAndGlyphs">CD62L</text>
<text x="716" y="667" font-size="42" font-weight="bold" textLength="22" lengthAdjust="spacingAndGlyphs">d</text>
<text x="972.2" y="621" font-size="21" text-anchor="middle" textLength="341.2" lengthAdjust="spacingAndGlyphs">Frequency of Activated/Effector Cells</text>
<text x="973" y="644.2" font-size="21" text-anchor="middle" textLength="140.8" lengthAdjust="spacingAndGlyphs">(CD44<tspan dy="-7" font-size="11">+</tspan><tspan dy="7">CD62L</tspan><tspan dy="-7" font-size="11">-</tspan><tspan dy="7">)</tspan></text>
<line x1="779.4" y1="654.5" x2="779.4" y2="975.2" stroke="#777" stroke-width="1.3"/>
<line x1="779.4" y1="974.8" x2="1167" y2="974.8" stroke="#666" stroke-width="1.4"/>
<line x1="775.2" y1="974.6" x2="779.4" y2="974.6" stroke="#777" stroke-width="1.3"/>
<text x="772" y="981.9" font-size="20.5" text-anchor="end" fill="#222">0</text>
<line x1="775.2" y1="894.8" x2="779.4" y2="894.8" stroke="#777" stroke-width="1.3"/>
<text x="772" y="902.1" font-size="20.5" text-anchor="end" fill="#222">20</text>
<line x1="775.2" y1="815" x2="779.4" y2="815" stroke="#777" stroke-width="1.3"/>
<text x="772" y="822.3" font-size="20.5" text-anchor="end" fill="#222">40</text>
<line x1="775.2" y1="735.2" x2="779.4" y2="735.2" stroke="#777" stroke-width="1.3"/>
<text x="772" y="742.5" font-size="20.5" text-anchor="end" fill="#222">60</text>
<line x1="775.2" y1="655.4" x2="779.4" y2="655.4" stroke="#777" stroke-width="1.3"/>
<text x="772" y="662.7" font-size="20.5" text-anchor="end" fill="#222">80</text>
<text x="741.6" y="822.6" font-size="22" text-anchor="middle" transform="rotate(-90 741.6 822.6)" textLength="248" lengthAdjust="spacingAndGlyphs">Frequency of Tet<tspan dy="-8" font-size="15">+</tspan><tspan dy="8">Cells</tspan></text>
<circle cx="787" cy="974.5" r="3.0" fill="#000"/>
<circle cx="790.4" cy="974.5" r="3.0" fill="#000"/>
<circle cx="793.5" cy="974.5" r="3.0" fill="#000"/>
<circle cx="802.5" cy="964" r="3.0" fill="#1b63a8"/>
<circle cx="806" cy="966.5" r="3.0" fill="#1b63a8"/>
<circle cx="809" cy="965" r="3.0" fill="#1b63a8"/>
<circle cx="803" cy="971.5" r="3.0" fill="#1b63a8"/>
<circle cx="808.5" cy="972" r="3.0" fill="#1b63a8"/>
<circle cx="805.5" cy="974" r="3.0" fill="#1b63a8"/>
<rect x="816.1" y="942.4" width="10.6" height="32.4" fill="#8e9196"/>
<path d="M821.4 934.7V949M818.4 934.7H824.4M818.4 949H824.4" stroke="#555" stroke-width="0.9" fill="none"/>
<circle cx="821" cy="916" r="3.0" fill="#1fb24a"/>
<circle cx="821" cy="937.9" r="3.0" fill="#1fb24a"/>
<circle cx="821" cy="945.2" r="3.0" fill="#1fb24a"/>
<circle cx="818.8" cy="957.3" r="3.0" fill="#1fb24a"/>
<circle cx="823.6" cy="954.4" r="3.0" fill="#1fb24a"/>
<rect x="831.2" y="926.7" width="10.6" height="48.1" fill="#8e9196"/>
<path d="M836.5 905.3V947.5M833.5 905.3H839.5M833.5 947.5H839.5" stroke="#555" stroke-width="0.9" fill="none"/>
<circle cx="836.4" cy="886.6" r="3.0" fill="#a3214f"/>
<circle cx="836.4" cy="936.5" r="3.0" fill="#a3214f"/>
<circle cx="836.4" cy="955.8" r="3.0" fill="#a3214f"/>
<path d="M791.9 875.7V870.2H837V875.7" stroke="#6a6a6a" stroke-width="1.6" fill="none"/>
<path d="M809 862.5L809.0 857.6M809 862.5L813.7 861.0M809 862.5L811.9 866.5M809 862.5L806.1 866.5M809 862.5L804.3 861.0" stroke="#000" stroke-width="2.3" stroke-linecap="round" fill="none"/>
<path d="M820 862.5L820.0 857.6M820 862.5L824.7 861.0M820 862.5L822.9 866.5M820 862.5L817.1 866.5M820 862.5L815.3 861.0" stroke="#000" stroke-width="2.3" stroke-linecap="round" fill="none"/>
<path d="M791.9 909.6V904.1H823.6V909.6" stroke="#6a6a6a" stroke-width="1.6" fill="none"/>
<path d="M809 898.5L809.0 893.6M809 898.5L813.7 897.0M809 898.5L811.9 902.5M809 898.5L806.1 902.5M809 898.5L804.3 897.0" stroke="#000" stroke-width="2.3" stroke-linecap="round" fill="none"/>
<circle cx="896.8" cy="965.3" r="3.0" fill="#000"/>
<circle cx="894" cy="974.5" r="3.0" fill="#000"/>
<circle cx="898" cy="974.5" r="3.0" fill="#000"/>
<circle cx="901" cy="974.5" r="3.0" fill="#000"/>
<rect x="907.1" y="905.3" width="10.6" height="69.5" fill="#8e9196"/>
<path d="M912.4 872.8V937.3M909.4 872.8H915.4M909.4 937.3H915.4" stroke="#555" stroke-width="0.9" fill="none"/>
<circle cx="912.2" cy="842.2" r="3.0" fill="#1b63a8"/>
<circle cx="912.2" cy="925.2" r="3.0" fill="#1b63a8"/>
<circle cx="912.2" cy="948.6" r="3.0" fill="#1b63a8"/>
<rect x="922.3" y="805.2" width="10.6" height="169.6" fill="#8e9196"/>
<path d="M927.6 769.3V841M924.6 769.3H930.6M924.6 841H930.6" stroke="#555" stroke-width="0.9" fill="none"/>
<circle cx="927.6" cy="708.5" r="3.0" fill="#1fb24a"/>
<circle cx="927.6" cy="736.3" r="3.0" fill="#1fb24a"/>
<circle cx="927.6" cy="832.5" r="3.0" fill="#1fb24a"/>
<circle cx="927.6" cy="844.7" r="3.0" fill="#1fb24a"/>
<circle cx="927.5" cy="907.5" r="3.0" fill="#1fb24a"/>
<rect x="937.4" y="921.6" width="10.6" height="53.2" fill="#8e9196"/>
<path d="M942.7 908.2V934.7M939.7 908.2H945.7M939.7 934.7H945.7" stroke="#555" stroke-width="0.9" fill="none"/>
<circle cx="943" cy="903.1" r="3.0" fill="#a3214f"/>
<circle cx="943" cy="914.6" r="3.0" fill="#a3214f"/>
<circle cx="943" cy="946.7" r="3.0" fill="#a3214f"/>
<path d="M896.4 687.2V681.9H927.4V687.2" stroke="#6a6a6a" stroke-width="1.6" fill="none"/>
<path d="M895.7 670L895.7 665.1M895.7 670L900.4 668.5M895.7 670L898.6 674.0M895.7 670L892.8 674.0M895.7 670L891.0 668.5" stroke="#000" stroke-width="2.3" stroke-linecap="round" fill="none"/>
<path d="M906.7 670L906.7 665.1M906.7 670L911.4 668.5M906.7 670L909.6 674.0M906.7 670L903.8 674.0M906.7 670L902.0 668.5" stroke="#000" stroke-width="2.3" stroke-linecap="round" fill="none"/>
<path d="M917.7 670L917.7 665.1M917.7 670L922.4 668.5M917.7 670L920.6 674.0M917.7 670L914.8 674.0M917.7 670L913.0 668.5" stroke="#000" stroke-width="2.3" stroke-linecap="round" fill="none"/>
<path d="M928.7 670L928.7 665.1M928.7 670L933.4 668.5M928.7 670L931.6 674.0M928.7 670L925.8 674.0M928.7 670L924.0 668.5" stroke="#000" stroke-width="2.3" stroke-linecap="round" fill="none"/>
<path d="M896.4 835.6V830.5H912.8V835.6" stroke="#6a6a6a" stroke-width="1.6" fill="none"/>
<path d="M905.7 822.5L905.7 817.6M905.7 822.5L910.4 821.0M905.7 822.5L908.6 826.5M905.7 822.5L902.8 826.5M905.7 822.5L901.0 821.0" stroke="#000" stroke-width="2.3" stroke-linecap="round" fill="none"/>
<circle cx="1003.3" cy="974.5" r="3.0" fill="#000"/>
<circle cx="1006.5" cy="974.5" r="3.0" fill="#000"/>
<circle cx="1004.5" cy="967.5" r="3.0" fill="#000"/>
<circle cx="1006.5" cy="965.6" r="3.0" fill="#000"/>
<rect x="1013.3" y="943" width="10.6" height="31.8" fill="#8e9196"/>
<path d="M1018.6 935V950.7M1015.6 935H1021.6M1015.6 950.7H1021.6" stroke="#555" stroke-width="0.9" fill="none"/>
<circle cx="1018.6" cy="927.9" r="3.0" fill="#1b63a8"/>
<circle cx="1018.6" cy="945.2" r="3.0" fill="#1b63a8"/>
<circle cx="1018.6" cy="954.1" r="3.0" fill="#1b63a8"/>
<rect x="1028.8" y="911.4" width="10.6" height="63.4" fill="#8e9196"/>
<path d="M1034.1 896.5V925.2M1031.1 896.5H1037.1M1031.1 925.2H1037.1" stroke="#555" stroke-width="0.9" fill="none"/>
<circle cx="1033.9" cy="862.1" r="3.0" fill="#1fb24a"/>
<circle cx="1033.9" cy="903.8" r="3.0" fill="#1fb24a"/>
<circle cx="1033.9" cy="910.4" r="3.0" fill="#1fb24a"/>
<circle cx="1036.4" cy="937.2" r="3.0" fill="#1fb24a"/>
<circle cx="1031.7" cy="942" r="3.0" fill="#1fb24a"/>
<rect x="1044.2" y="921" width="10.6" height="53.8" fill="#8e9196"/>
<path d="M1049.5 915V931.5M1046.5 915H1052.5M1046.5 931.5H1052.5" stroke="#555" stroke-width="0.9" fill="none"/>
<circle cx="1049.6" cy="911.1" r="3.0" fill="#a3214f"/>
<circle cx="1052" cy="907.3" r="3.0" fill="#a3214f"/>
<circle cx="1049.4" cy="943.2" r="3.0" fill="#a3214f"/>
<path d="M999.5 835.6V830.5H1049.6V835.6" stroke="#6a6a6a" stroke-width="1.6" fill="none"/>
<path d="M1021.2 818.5L1021.2 813.6M1021.2 818.5L1025.9 817.0M1021.2 818.5L1024.1 822.5M1021.2 818.5L1018.3 822.5M1021.2 818.5L1016.5 817.0" stroke="#000" stroke-width="2.3" stroke-linecap="round" fill="none"/>
<path d="M999.8 857.6V852.8H1034.4V857.6" stroke="#6a6a6a" stroke-width="1.6" fill="none"/>
<path d="M1013 845.7L1013.0 840.8M1013 845.7L1017.7 844.2M1013 845.7L1015.9 849.7M1013 845.7L1010.1 849.7M1013 845.7L1008.3 844.2" stroke="#000" stroke-width="2.3" stroke-linecap="round" fill="none"/>
<path d="M1024 845.7L1024.0 840.8M1024 845.7L1028.7 844.2M1024 845.7L1026.9 849.7M1024 845.7L1021.1 849.7M1024 845.7L1019.3 844.2" stroke="#000" stroke-width="2.3" stroke-linecap="round" fill="none"/>
<circle cx="1108.5" cy="974.5" r="3.0" fill="#000"/>
<circle cx="1111.5" cy="974.5" r="3.0" fill="#000"/>
<circle cx="1110" cy="967.5" r="3.0" fill="#000"/>
<circle cx="1111.5" cy="966" r="3.0" fill="#000"/>
<rect x="1120" y="939.5" width="10.6" height="35.3" fill="#8e9196"/>
<path d="M1125.3 930.3V948.5M1122.3 930.3H1128.3M1122.3 948.5H1128.3" stroke="#555" stroke-width="0.9" fill="none"/>
<circle cx="1125" cy="923.3" r="3.0" fill="#1b63a8"/>
<circle cx="1125" cy="941.7" r="3.0" fill="#1b63a8"/>
<circle cx="1125" cy="953.4" r="3.0" fill="#1b63a8"/>
<rect x="1135.3" y="912.1" width="10.6" height="62.7" fill="#8e9196"/>
<path d="M1140.6 898.3V926M1137.6 898.3H1143.6M1137.6 926H1143.6" stroke="#555" stroke-width="0.9" fill="none"/>
<circle cx="1140.3" cy="862.1" r="3.0" fill="#1fb24a"/>
<circle cx="1140.3" cy="907.8" r="3.0" fill="#1fb24a"/>
<circle cx="1140.3" cy="914.6" r="3.0" fill="#1fb24a"/>
<circle cx="1140.3" cy="933" r="3.0" fill="#1fb24a"/>
<circle cx="1140.3" cy="942" r="3.0" fill="#1fb24a"/>
<rect x="1150.9" y="921" width="10.6" height="53.8" fill="#8e9196"/>
<path d="M1156.2 915V931.5M1153.2 915H1159.2M1153.2 931.5H1159.2" stroke="#555" stroke-width="0.9" fill="none"/>
<circle cx="1155.6" cy="911.1" r="3.0" fill="#a3214f"/>
<circle cx="1158" cy="907.3" r="3.0" fill="#a3214f"/>
<circle cx="1155.9" cy="943.2" r="3.0" fill="#a3214f"/>
<path d="M1107.5 835.6V830.5H1152.6V835.6" stroke="#6a6a6a" stroke-width="1.6" fill="none"/>
<path d="M1128.5 818.5L1128.5 813.6M1128.5 818.5L1133.2 817.0M1128.5 818.5L1131.4 822.5M1128.5 818.5L1125.6 822.5M1128.5 818.5L1123.8 817.0" stroke="#000" stroke-width="2.3" stroke-linecap="round" fill="none"/>
<path d="M1107.2 857.6V852.8H1141V857.6" stroke="#6a6a6a" stroke-width="1.6" fill="none"/>
<path d="M1119 845.7L1119.0 840.8M1119 845.7L1123.7 844.2M1119 845.7L1121.9 849.7M1119 845.7L1116.1 849.7M1119 845.7L1114.3 844.2" stroke="#000" stroke-width="2.3" stroke-linecap="round" fill="none"/>
<path d="M1130 845.7L1130.0 840.8M1130 845.7L1134.7 844.2M1130 845.7L1132.9 849.7M1130 845.7L1127.1 849.7M1130 845.7L1125.3 844.2" stroke="#000" stroke-width="2.3" stroke-linecap="round" fill="none"/>
<circle cx="980.6" cy="669.5" r="2.9" fill="#000"/>
<text x="1003.2" y="678.1" font-size="22.5" textLength="34.3" lengthAdjust="spacingAndGlyphs">WT</text>
<circle cx="1057.8" cy="666.8" r="2.9" fill="#1b63a8"/>
<text x="1080.3" y="678.1" font-size="22.5" textLength="54.4" lengthAdjust="spacingAndGlyphs">MOG</text>
<circle cx="981.7" cy="703.3" r="2.9" fill="#1fb24a"/>
<text x="1004.8" y="712.1" font-size="22.5" textLength="92" lengthAdjust="spacingAndGlyphs">MOG-SP</text>
<circle cx="980.6" cy="739.7" r="2.9" fill="#a3214f"/>
<text x="1003.2" y="748.6" font-size="22.5" textLength="28.9" lengthAdjust="spacingAndGlyphs">SP</text>
<text x="719" y="1014" font-size="42" font-weight="bold" textLength="23" lengthAdjust="spacingAndGlyphs">e</text>
<line x1="779.8" y1="1014.5" x2="779.8" y2="1283" stroke="#777" stroke-width="1.3"/>
<line x1="779.2" y1="1282.2" x2="1196" y2="1282.2" stroke="#777" stroke-width="1.3"/>
<line x1="775.3" y1="1282.2" x2="779.8" y2="1282.2" stroke="#777" stroke-width="1.3"/>
<text x="770" y="1290.8" font-size="24" text-anchor="end">0</text>
<line x1="775.3" y1="1228.9" x2="779.8" y2="1228.9" stroke="#777" stroke-width="1.3"/>
<text x="770" y="1237.5" font-size="24" text-anchor="end">1</text>
<line x1="775.3" y1="1175.6" x2="779.8" y2="1175.6" stroke="#777" stroke-width="1.3"/>
<text x="770" y="1184.2" font-size="24" text-anchor="end">2</text>
<line x1="775.3" y1="1122.3" x2="779.8" y2="1122.3" stroke="#777" stroke-width="1.3"/>
<text x="770" y="1130.9" font-size="24" text-anchor="end">3</text>
<line x1="775.3" y1="1069" x2="779.8" y2="1069" stroke="#777" stroke-width="1.3"/>
<text x="770" y="1077.6" font-size="24" text-anchor="end">4</text>
<line x1="775.3" y1="1015.7" x2="779.8" y2="1015.7" stroke="#777" stroke-width="1.3"/>
<text x="770" y="1024.3" font-size="24" text-anchor="end">5</text>
<line x1="780.2" y1="1282.2" x2="780.2" y2="1286.8" stroke="#777" stroke-width="1.3"/>
<text x="784.2" y="1313" font-size="24" text-anchor="middle">0</text>
<line x1="849.5" y1="1282.2" x2="849.5" y2="1286.8" stroke="#777" stroke-width="1.3"/>
<text x="853.5" y="1313" font-size="24" text-anchor="middle">5</text>
<line x1="918.7" y1="1282.2" x2="918.7" y2="1286.8" stroke="#777" stroke-width="1.3"/>
<text x="922.7" y="1313" font-size="24" text-anchor="middle">10</text>
<line x1="988" y1="1282.2" x2="988" y2="1286.8" stroke="#777" stroke-width="1.3"/>
<text x="992" y="1313" font-size="24" text-anchor="middle">15</text>
<line x1="1057.2" y1="1282.2" x2="1057.2" y2="1286.8" stroke="#777" stroke-width="1.3"/>
<text x="1061.2" y="1313" font-size="24" text-anchor="middle">20</text>
<line x1="1126.5" y1="1282.2" x2="1126.5" y2="1286.8" stroke="#777" stroke-width="1.3"/>
<text x="1130.5" y="1313" font-size="24" text-anchor="middle">25</text>
<line x1="1195.7" y1="1282.2" x2="1195.7" y2="1286.8" stroke="#777" stroke-width="1.3"/>
<text x="1199.7" y="1313" font-size="24" text-anchor="middle">30</text>
<text x="1010.3" y="1339.9" font-size="24.5" text-anchor="middle" textLength="270.5" lengthAdjust="spacingAndGlyphs">Days Post-Immunization</text>
<text x="746.5" y="1158.7" font-size="24.5" text-anchor="middle" transform="rotate(-90 746.5 1158.7)" textLength="218.5" lengthAdjust="spacingAndGlyphs">Mean Clinical Score</text>
<polyline points="794.1,1282.2 807.9,1282.2 821.8,1282.2 835.6,1282.2 849.5,1282.2 863.3,1282.2 877.2,1282.2 891.0,1282.2 904.9,1282.2 918.7,1282.2 932.6,1271.0 946.4,1228.9 960.2,1170.3 974.1,1143.6 988.0,1133.5 1001.8,1106.3 1015.7,1106.3 1029.5,1106.3 1043.3,1106.3 1057.2,1106.3 1071.0,1106.3 1084.9,1106.3 1098.8,1106.3 1112.6,1127.6 1126.5,1128.7 1140.3,1133.5 1154.2,1133.5 1168.0,1154.8 1181.8,1143.6 1195.7,1143.6" fill="none" stroke="#e5362a" stroke-width="1.6"/>
<path d="M932.6 1271.0V1264.6M926.6 1264.6H938.6M946.4 1228.9V1221.4M940.4 1221.4H952.4M960.2 1170.3V1155.3M954.2 1155.3H966.2M974.1 1143.6V1127.6M968.1 1127.6H980.1M988.0 1133.5V1119.6M982.0 1119.6H994.0M1112.6 1127.6V1110.6M1106.6 1110.6H1118.6M1126.5 1128.7V1110.6M1120.5 1110.6H1132.5M1140.3 1133.5V1117.0M1134.3 1117.0H1146.3M1154.2 1133.5V1117.0M1148.2 1117.0H1160.2M1168.0 1154.8V1135.1M1162.0 1135.1H1174.0M1181.8 1143.6V1117.0M1175.8 1117.0H1187.8M1195.7 1143.6V1117.0M1189.7 1117.0H1201.7M1001.8 1106.3V1089.3M995.8 1089.3H1007.8M1015.7 1106.3V1089.3M1009.7 1089.3H1021.7M1029.5 1106.3V1089.3M1023.5 1089.3H1035.5M1043.3 1106.3V1089.3M1037.3 1089.3H1049.3M1057.2 1106.3V1089.3M1051.2 1089.3H1063.2M1071.0 1106.3V1089.3M1065.0 1089.3H1077.0M1084.9 1106.3V1089.3M1078.9 1089.3H1090.9M1098.8 1106.3V1089.3M1092.8 1089.3H1104.8" stroke="#e5362a" stroke-width="1.6" fill="none"/>
<circle cx="794.1" cy="1282.2" r="4.3" fill="#e5362a"/>
<circle cx="807.9" cy="1282.2" r="4.3" fill="#e5362a"/>
<circle cx="821.8" cy="1282.2" r="4.3" fill="#e5362a"/>
<circle cx="835.6" cy="1282.2" r="4.3" fill="#e5362a"/>
<circle cx="849.5" cy="1282.2" r="4.3" fill="#e5362a"/>
<circle cx="863.3" cy="1282.2" r="4.3" fill="#e5362a"/>
<circle cx="877.2" cy="1282.2" r="4.3" fill="#e5362a"/>
<circle cx="891.0" cy="1282.2" r="4.3" fill="#e5362a"/>
<circle cx="904.9" cy="1282.2" r="4.3" fill="#e5362a"/>
<circle cx="918.7" cy="1282.2" r="4.3" fill="#e5362a"/>
<circle cx="932.6" cy="1271.0" r="4.3" fill="#e5362a"/>
<circle cx="946.4" cy="1228.9" r="4.3" fill="#e5362a"/>
<circle cx="960.2" cy="1170.3" r="4.3" fill="#e5362a"/>
<circle cx="974.1" cy="1143.6" r="4.3" fill="#e5362a"/>
<circle cx="988.0" cy="1133.5" r="4.3" fill="#e5362a"/>
<circle cx="1001.8" cy="1106.3" r="4.3" fill="#e5362a"/>
<circle cx="1015.7" cy="1106.3" r="4.3" fill="#e5362a"/>
<circle cx="1029.5" cy="1106.3" r="4.3" fill="#e5362a"/>
<circle cx="1043.3" cy="1106.3" r="4.3" fill="#e5362a"/>
<circle cx="1057.2" cy="1106.3" r="4.3" fill="#e5362a"/>
<circle cx="1071.0" cy="1106.3" r="4.3" fill="#e5362a"/>
<circle cx="1084.9" cy="1106.3" r="4.3" fill="#e5362a"/>
<circle cx="1098.8" cy="1106.3" r="4.3" fill="#e5362a"/>
<circle cx="1112.6" cy="1127.6" r="4.3" fill="#e5362a"/>
<circle cx="1126.5" cy="1128.7" r="4.3" fill="#e5362a"/>
<circle cx="1140.3" cy="1133.5" r="4.3" fill="#e5362a"/>
<circle cx="1154.2" cy="1133.5" r="4.3" fill="#e5362a"/>
<circle cx="1168.0" cy="1154.8" r="4.3" fill="#e5362a"/>
<circle cx="1181.8" cy="1143.6" r="4.3" fill="#e5362a"/>
<circle cx="1195.7" cy="1143.6" r="4.3" fill="#e5362a"/>
<polyline points="794.1,1282.2 807.9,1282.2 821.8,1282.2 835.6,1282.2 849.5,1282.2 863.3,1282.2 877.2,1282.2 891.0,1282.2 904.9,1282.2 918.7,1282.2 932.6,1282.2 946.4,1245.4 960.2,1197.5 974.1,1154.8 988.0,1154.8 1001.8,1112.2 1015.7,1112.2 1029.5,1112.2 1043.3,1112.2 1057.2,1112.2 1071.0,1112.2 1084.9,1112.2 1098.8,1112.2 1112.6,1117.0 1126.5,1122.8 1140.3,1117.0 1154.2,1117.0 1168.0,1117.0 1181.8,1117.0 1195.7,1117.0" fill="none" stroke="#15a05a" stroke-width="1.6"/>
<path d="M946.4 1245.4V1237.4M940.4 1237.4H952.4M960.2 1197.5V1180.9M954.2 1180.9H966.2M974.1 1154.8V1137.8M968.1 1137.8H980.1M988.0 1154.8V1138.3M982.0 1138.3H994.0M1112.6 1117.0V1098.8M1106.6 1098.8H1118.6M1126.5 1122.8V1104.7M1120.5 1104.7H1132.5M1001.8 1112.2V1093.0M995.8 1093.0H1007.8M1015.7 1112.2V1093.0M1009.7 1093.0H1021.7M1029.5 1112.2V1093.0M1023.5 1093.0H1035.5M1043.3 1112.2V1093.0M1037.3 1093.0H1049.3M1057.2 1112.2V1093.0M1051.2 1093.0H1063.2M1071.0 1112.2V1093.0M1065.0 1093.0H1077.0M1084.9 1112.2V1093.0M1078.9 1093.0H1090.9M1098.8 1112.2V1093.0M1092.8 1093.0H1104.8M1140.3 1117.0V1097.2M1134.3 1097.2H1146.3M1154.2 1117.0V1097.2M1148.2 1097.2H1160.2M1168.0 1117.0V1097.2M1162.0 1097.2H1174.0M1181.8 1117.0V1097.2M1175.8 1097.2H1187.8M1195.7 1117.0V1097.2M1189.7 1097.2H1201.7" stroke="#15a05a" stroke-width="1.6" fill="none"/>
<circle cx="794.1" cy="1282.2" r="5.6" fill="#15a05a"/>
<circle cx="807.9" cy="1282.2" r="5.6" fill="#15a05a"/>
<circle cx="821.8" cy="1282.2" r="5.6" fill="#15a05a"/>
<circle cx="835.6" cy="1282.2" r="5.6" fill="#15a05a"/>
<circle cx="849.5" cy="1282.2" r="5.6" fill="#15a05a"/>
<circle cx="863.3" cy="1282.2" r="5.6" fill="#15a05a"/>
<circle cx="877.2" cy="1282.2" r="5.6" fill="#15a05a"/>
<circle cx="891.0" cy="1282.2" r="5.6" fill="#15a05a"/>
<circle cx="904.9" cy="1282.2" r="5.6" fill="#15a05a"/>
<circle cx="918.7" cy="1282.2" r="5.6" fill="#15a05a"/>
<circle cx="932.6" cy="1282.2" r="5.6" fill="#15a05a"/>
<circle cx="946.4" cy="1245.4" r="5.6" fill="#15a05a"/>
<circle cx="960.2" cy="1197.5" r="5.6" fill="#15a05a"/>
<circle cx="974.1" cy="1154.8" r="5.6" fill="#15a05a"/>
<circle cx="988.0" cy="1154.8" r="5.6" fill="#15a05a"/>
<circle cx="1001.8" cy="1112.2" r="5.6" fill="#15a05a"/>
<circle cx="1015.7" cy="1112.2" r="5.6" fill="#15a05a"/>
<circle cx="1029.5" cy="1112.2" r="5.6" fill="#15a05a"/>
<circle cx="1043.3" cy="1112.2" r="5.6" fill="#15a05a"/>
<circle cx="1057.2" cy="1112.2" r="5.6" fill="#15a05a"/>
<circle cx="1071.0" cy="1112.2" r="5.6" fill="#15a05a"/>
<circle cx="1084.9" cy="1112.2" r="5.6" fill="#15a05a"/>
<circle cx="1098.8" cy="1112.2" r="5.6" fill="#15a05a"/>
<circle cx="1112.6" cy="1117.0" r="5.6" fill="#15a05a"/>
<circle cx="1126.5" cy="1122.8" r="5.6" fill="#15a05a"/>
<circle cx="1140.3" cy="1117.0" r="5.6" fill="#15a05a"/>
<circle cx="1154.2" cy="1117.0" r="5.6" fill="#15a05a"/>
<circle cx="1168.0" cy="1117.0" r="5.6" fill="#15a05a"/>
<circle cx="1181.8" cy="1117.0" r="5.6" fill="#15a05a"/>
<circle cx="1195.7" cy="1117.0" r="5.6" fill="#15a05a"/>
<line x1="793.7" y1="1026.3" x2="813.6" y2="1026.3" stroke="#e5362a" stroke-width="1.6"/>
<circle cx="803.6" cy="1026.3" r="4.6" fill="#e5362a"/>
<text x="822.1" y="1031" font-size="24" textLength="57.6" lengthAdjust="spacingAndGlyphs">MOG</text>
<line x1="793.7" y1="1051.2" x2="813.6" y2="1051.2" stroke="#15a05a" stroke-width="1.6"/>
<circle cx="803.6" cy="1051.2" r="5.6" fill="#15a05a"/>
<text x="822.1" y="1059.5" font-size="24" textLength="247" lengthAdjust="spacingAndGlyphs">MOG + SSLENFRAYV</text>
<path d="M97 37.5H101M97 73H101M97 108H101M97 145H101M97 170.5H101M335.5 37.5H339.5M335.5 73.5H339.5M335.5 112.5H339.5M335.5 150H339.5M554.5 37.5H558.5M554.5 73.5H558.5M554.5 112.5H558.5M554.5 150H558.5M791.5 37.5H795.5M791.5 73.5H795.5M791.5 112.5H795.5M791.5 150H795.5M1005.5 37.5H1009.5M1005.5 73.5H1009.5M1005.5 112.5H1009.5M1005.5 150H1009.5" stroke="#444" stroke-width="1.2" fill="none"/>
<path d="M98.5 62.5H101M98.5 56H101M98.5 51.5H101M98.5 48H101M98.5 45.5H101M98.5 43H101M98.5 41H101M98.5 39H101M98.5 97.5H101M98.5 91.5H101M98.5 87H101M98.5 83.5H101M98.5 80.5H101M98.5 78.5H101M98.5 76.5H101M98.5 74.5H101M98.5 134H101M98.5 127.5H101M98.5 123H101M98.5 119.5H101M98.5 116.5H101M98.5 114H101M98.5 112H101M98.5 110H101M98.5 163H101M98.5 158.5H101M98.5 155H101M98.5 152.5H101M98.5 150.5H101M98.5 149H101M98.5 147.5H101M98.5 146H101M98.5 33.5H101M98.5 28.5H101M140 178V180.5M146.5 178V180.5M151 178V180.5M154 178V180.5M157 178V180.5M159.5 178V180.5M161.5 178V180.5M163.5 178V180.5M177 178V180.5M184 178V180.5M188.5 178V180.5M192.5 178V180.5M195.5 178V180.5M198.5 178V180.5M200.5 178V180.5M202.5 178V180.5M215.5 178V180.5M222 178V180.5M226.5 178V180.5M230 178V180.5M232.5 178V180.5M235 178V180.5M237.5 178V180.5M239 178V180.5M104 178V180.5M109 178V180.5M114 178V180.5M119 178V180.5M337 63H339.5M337 56.5H339.5M337 52H339.5M337 48.5H339.5M337 45.5H339.5M337 43H339.5M337 41H339.5M337 39H339.5M337 101H339.5M337 94H339.5M337 89H339.5M337 85.5H339.5M337 82.5H339.5M337 79.5H339.5M337 77.5H339.5M337 75.5H339.5M337 138.5H339.5M337 132H339.5M337 127.5H339.5M337 124H339.5M337 121H339.5M337 118.5H339.5M337 116H339.5M337 114H339.5M337 33.5H339.5M337 28.5H339.5M354.5 178V180.5M359.5 178V180.5M362.5 178V180.5M365 178V180.5M367 178V180.5M369 178V180.5M370.5 178V180.5M371.5 178V180.5M383.5 178V180.5M390 178V180.5M394 178V180.5M397.5 178V180.5M400.5 178V180.5M403 178V180.5M405 178V180.5M406.5 178V180.5M419 178V180.5M425 178V180.5M429.5 178V180.5M433 178V180.5M436 178V180.5M438 178V180.5M440 178V180.5M442 178V180.5M454.5 178V180.5M461 178V180.5M465.5 178V180.5M469 178V180.5M471.5 178V180.5M474 178V180.5M476 178V180.5M478 178V180.5M556 63H558.5M556 56.5H558.5M556 52H558.5M556 48.5H558.5M556 45.5H558.5M556 43H558.5M556 41H558.5M556 39H558.5M556 101H558.5M556 94H558.5M556 89H558.5M556 85.5H558.5M556 82.5H558.5M556 79.5H558.5M556 77.5H558.5M556 75.5H558.5M556 138.5H558.5M556 132H558.5M556 127.5H558.5M556 124H558.5M556 121H558.5M556 118.5H558.5M556 116H558.5M556 114H558.5M556 33.5H558.5M556 28.5H558.5M574 178V180.5M578.5 178V180.5M581.5 178V180.5M584 178V180.5M586 178V180.5M588 178V180.5M589.5 178V180.5M591 178V180.5M602.5 178V180.5M609 178V180.5M613.5 178V180.5M616.5 178V180.5M619.5 178V180.5M622 178V180.5M624 178V180.5M626 178V180.5M638 178V180.5M644 178V180.5M648.5 178V180.5M652 178V180.5M655 178V180.5M657 178V180.5M659.5 178V180.5M661 178V180.5M673.5 178V180.5M680 178V180.5M684.5 178V180.5M688 178V180.5M690.5 178V180.5M693 178V180.5M695 178V180.5M697 178V180.5M793 63H795.5M793 56.5H795.5M793 52H795.5M793 48.5H795.5M793 45.5H795.5M793 43H795.5M793 41H795.5M793 39H795.5M793 101H795.5M793 94H795.5M793 89H795.5M793 85.5H795.5M793 82.5H795.5M793 79.5H795.5M793 77.5H795.5M793 75.5H795.5M793 138.5H795.5M793 132H795.5M793 127.5H795.5M793 124H795.5M793 121H795.5M793 118.5H795.5M793 116H795.5M793 114H795.5M793 33.5H795.5M793 28.5H795.5M811 178V180.5M815.5 178V180.5M819 178V180.5M821.5 178V180.5M823.5 178V180.5M825 178V180.5M826.5 178V180.5M828 178V180.5M840 178V180.5M846 178V180.5M850.5 178V180.5M854 178V180.5M856.5 178V180.5M859 178V180.5M861 178V180.5M863 178V180.5M875 178V180.5M881.5 178V180.5M886 178V180.5M889.5 178V180.5M892 178V180.5M894.5 178V180.5M896.5 178V180.5M898.5 178V180.5M910.5 178V180.5M917 178V180.5M921.5 178V180.5M925 178V180.5M928 178V180.5M930.5 178V180.5M932.5 178V180.5M934.5 178V180.5M1007 63H1009.5M1007 56.5H1009.5M1007 52H1009.5M1007 48.5H1009.5M1007 45.5H1009.5M1007 43H1009.5M1007 41H1009.5M1007 39H1009.5M1007 101H1009.5M1007 94H1009.5M1007 89H1009.5M1007 85.5H1009.5M1007 82.5H1009.5M1007 79.5H1009.5M1007 77.5H1009.5M1007 75.5H1009.5M1007 138.5H1009.5M1007 132H1009.5M1007 127.5H1009.5M1007 124H1009.5M1007 121H1009.5M1007 118.5H1009.5M1007 116H1009.5M1007 114H1009.5M1007 33.5H1009.5M1007 28.5H1009.5M1025 178V180.5M1029.5 178V180.5M1032.5 178V180.5M1035 178V180.5M1037 178V180.5M1039 178V180.5M1040.5 178V180.5M1042 178V180.5M1053.5 178V180.5M1060 178V180.5M1064.5 178V180.5M1067.5 178V180.5M1070.5 178V180.5M1073 178V180.5M1075 178V180.5M1077 178V180.5M1089 178V180.5M1095 178V180.5M1099.5 178V180.5M1103 178V180.5M1106 178V180.5M1108 178V180.5M1110.5 178V180.5M1112 178V180.5M1124.5 178V180.5M1131 178V180.5M1135.5 178V180.5M1139 178V180.5M1141.5 178V180.5M1144 178V180.5M1146 178V180.5M1148 178V180.5" stroke="#777" stroke-width="0.7" fill="none"/>
<path d="M129.5 178V182M165 178V182M204.5 178V182M241 178V182M347 178V182M373 178V182M408.5 178V182M443.5 178V182M479.5 178V182M566 178V182M592 178V182M627.5 178V182M662.5 178V182M698.5 178V182M803 178V182M829 178V182M864.5 178V182M900 178V182M936 178V182M1017 178V182M1043 178V182M1078.5 178V182M1113.5 178V182M1149.5 178V182" stroke="#333" stroke-width="1.2" fill="none"/>
<path d="M56.5 260H58.5M56.5 263.5H58.5M56.5 267H58.5M56.5 270.5H58.5M56.5 274H58.5M56.5 277.5H58.5M56.5 281H58.5M56.5 284.5H58.5M56.5 288H58.5M56.5 291.5H58.5M56.5 295H58.5M56.5 298.5H58.5M56.5 302H58.5M56.5 305.5H58.5M56.5 309H58.5M56.5 312.5H58.5M56.5 316H58.5M56.5 319.5H58.5M56.5 323H58.5M56.5 326.5H58.5M56.5 330H58.5M56.5 333.5H58.5M56.5 337H58.5M56.5 340.5H58.5M56.5 344H58.5M56.5 347.5H58.5M56.5 351H58.5M56.5 354.5H58.5M56.5 358H58.5M56.5 361.5H58.5M56.5 365H58.5M56.5 368.5H58.5M60.5 369V371M64.5 369V371M68.5 369V371M72.5 369V371M76.5 369V371M80.5 369V371M84.5 369V371M88.5 369V371M92.5 369V371M96.5 369V371M100.5 369V371M104.5 369V371M108.5 369V371M112.5 369V371M116.5 369V371M120.5 369V371M124.5 369V371M128.5 369V371M132.5 369V371M136.5 369V371M140.5 369V371M144.5 369V371M148.5 369V371M152.5 369V371M156.5 369V371M160.5 369V371M164.5 369V371M228.5 260.5H230.5M228.5 264H230.5M228.5 267.5H230.5M228.5 271H230.5M228.5 274.5H230.5M228.5 278H230.5M228.5 281.5H230.5M228.5 285H230.5M228.5 288.5H230.5M228.5 292H230.5M228.5 295.5H230.5M228.5 299H230.5M228.5 302.5H230.5M228.5 306H230.5M228.5 309.5H230.5M228.5 313H230.5M228.5 316.5H230.5M228.5 320H230.5M228.5 323.5H230.5M228.5 327H230.5M228.5 330.5H230.5M228.5 334H230.5M228.5 337.5H230.5M228.5 341H230.5M228.5 344.5H230.5M228.5 348H230.5M228.5 351.5H230.5M228.5 355H230.5M228.5 358.5H230.5M228.5 362H230.5M228.5 365.5H230.5M228.5 369H230.5M232.5 369V371M236.5 369V371M240.5 369V371M244.5 369V371M248.5 369V371M252.5 369V371M256.5 369V371M260.5 369V371M264.5 369V371M268.5 369V371M272.5 369V371M276.5 369V371M280.5 369V371M284.5 369V371M288.5 369V371M292.5 369V371M296.5 369V371M300.5 369V371M304.5 369V371M308.5 369V371M312.5 369V371M316.5 369V371M320.5 369V371M324.5 369V371M328.5 369V371M332.5 369V371M336.5 369V371M340.5 369V371M399.5 260.5H401.5M399.5 264H401.5M399.5 267.5H401.5M399.5 271H401.5M399.5 274.5H401.5M399.5 278H401.5M399.5 281.5H401.5M399.5 285H401.5M399.5 288.5H401.5M399.5 292H401.5M399.5 295.5H401.5M399.5 299H401.5M399.5 302.5H401.5M399.5 306H401.5M399.5 309.5H401.5M399.5 313H401.5M399.5 316.5H401.5M399.5 320H401.5M399.5 323.5H401.5M399.5 327H401.5M399.5 330.5H401.5M399.5 334H401.5M399.5 337.5H401.5M399.5 341H401.5M399.5 344.5H401.5M399.5 348H401.5M399.5 351.5H401.5M399.5 355H401.5M399.5 358.5H401.5M399.5 362H401.5M399.5 365.5H401.5M399.5 369H401.5M403.5 369V371M407.5 369V371M411.5 369V371M415.5 369V371M419.5 369V371M423.5 369V371M427.5 369V371M431.5 369V371M435.5 369V371M439.5 369V371M443.5 369V371M447.5 369V371M451.5 369V371M455.5 369V371M459.5 369V371M463.5 369V371M467.5 369V371M471.5 369V371M475.5 369V371M479.5 369V371M483.5 369V371M487.5 369V371M491.5 369V371M495.5 369V371M499.5 369V371M503.5 369V371M507.5 369V371M511.5 369V371M570 260.5H572M570 264H572M570 267.5H572M570 271H572M570 274.5H572M570 278H572M570 281.5H572M570 285H572M570 288.5H572M570 292H572M570 295.5H572M570 299H572M570 302.5H572M570 306H572M570 309.5H572M570 313H572M570 316.5H572M570 320H572M570 323.5H572M570 327H572M570 330.5H572M570 334H572M570 337.5H572M570 341H572M570 344.5H572M570 348H572M570 351.5H572M570 355H572M570 358.5H572M570 362H572M570 365.5H572M570 369H572M574 369V371M578 369V371M582 369V371M586 369V371M590 369V371M594 369V371M598 369V371M602 369V371M606 369V371M610 369V371M614 369V371M618 369V371M622 369V371M626 369V371M630 369V371M634 369V371M638 369V371M642 369V371M646 369V371M650 369V371M654 369V371M658 369V371M662 369V371M666 369V371M670 369V371M674 369V371M678 369V371M682 369V371M741.5 260.5H743.5M741.5 264H743.5M741.5 267.5H743.5M741.5 271H743.5M741.5 274.5H743.5M741.5 278H743.5M741.5 281.5H743.5M741.5 285H743.5M741.5 288.5H743.5M741.5 292H743.5M741.5 295.5H743.5M741.5 299H743.5M741.5 302.5H743.5M741.5 306H743.5M741.5 309.5H743.5M741.5 313H743.5M741.5 316.5H743.5M741.5 320H743.5M741.5 323.5H743.5M741.5 327H743.5M741.5 330.5H743.5M741.5 334H743.5M741.5 337.5H743.5M741.5 341H743.5M741.5 344.5H743.5M741.5 348H743.5M741.5 351.5H743.5M741.5 355H743.5M741.5 358.5H743.5M741.5 362H743.5M741.5 365.5H743.5M741.5 369H743.5M745.5 369V371M749.5 369V371M753.5 369V371M757.5 369V371M761.5 369V371M765.5 369V371M769.5 369V371M773.5 369V371M777.5 369V371M781.5 369V371M785.5 369V371M789.5 369V371M793.5 369V371M797.5 369V371M801.5 369V371M805.5 369V371M809.5 369V371M813.5 369V371M817.5 369V371M821.5 369V371M825.5 369V371M829.5 369V371M833.5 369V371M837.5 369V371M841.5 369V371M845.5 369V371M849.5 369V371M54.5 444.5H56.5M54.5 448.5H56.5M54.5 452.5H56.5M54.5 456.5H56.5M54.5 460.5H56.5M54.5 464.5H56.5M54.5 468.5H56.5M54.5 472.5H56.5M54.5 476.5H56.5M54.5 480.5H56.5M54.5 484.5H56.5M54.5 488.5H56.5M54.5 492.5H56.5M54.5 496.5H56.5M54.5 500.5H56.5M54.5 504.5H56.5M54.5 508.5H56.5M54.5 512.5H56.5M54.5 516.5H56.5M54.5 520.5H56.5M54.5 524.5H56.5M54.5 528.5H56.5M54.5 532.5H56.5M54.5 536.5H56.5M54.5 540.5H56.5M54.5 544.5H56.5M54.5 548.5H56.5M54.5 552.5H56.5M58.5 553V555M62.5 553V555M66.5 553V555M70.5 553V555M74.5 553V555M78.5 553V555M82.5 553V555M86.5 553V555M90.5 553V555M94.5 553V555M98.5 553V555M102.5 553V555M106.5 553V555M110.5 553V555M114.5 553V555M118.5 553V555M122.5 553V555M126.5 553V555M130.5 553V555M134.5 553V555M138.5 553V555M142.5 553V555M146.5 553V555M150.5 553V555M154.5 553V555M158.5 553V555M162.5 553V555M166.5 553V555M213.5 444.5H215.5M213.5 448.5H215.5M213.5 452.5H215.5M213.5 456.5H215.5M213.5 460.5H215.5M213.5 464.5H215.5M213.5 468.5H215.5M213.5 472.5H215.5M213.5 476.5H215.5M213.5 480.5H215.5M213.5 484.5H215.5M213.5 488.5H215.5M213.5 492.5H215.5M213.5 496.5H215.5M213.5 500.5H215.5M213.5 504.5H215.5M213.5 508.5H215.5M213.5 512.5H215.5M213.5 516.5H215.5M213.5 520.5H215.5M213.5 524.5H215.5M213.5 528.5H215.5M213.5 532.5H215.5M213.5 536.5H215.5M213.5 540.5H215.5M213.5 544.5H215.5M213.5 548.5H215.5M213.5 552.5H215.5M217.5 553V555M221.5 553V555M225.5 553V555M229.5 553V555M233.5 553V555M237.5 553V555M241.5 553V555M245.5 553V555M249.5 553V555M253.5 553V555M257.5 553V555M261.5 553V555M265.5 553V555M269.5 553V555M273.5 553V555M277.5 553V555M281.5 553V555M285.5 553V555M289.5 553V555M293.5 553V555M297.5 553V555M301.5 553V555M305.5 553V555M309.5 553V555M313.5 553V555M317.5 553V555M321.5 553V555M325.5 553V555M381.5 444.5H383.5M381.5 448.5H383.5M381.5 452.5H383.5M381.5 456.5H383.5M381.5 460.5H383.5M381.5 464.5H383.5M381.5 468.5H383.5M381.5 472.5H383.5M381.5 476.5H383.5M381.5 480.5H383.5M381.5 484.5H383.5M381.5 488.5H383.5M381.5 492.5H383.5M381.5 496.5H383.5M381.5 500.5H383.5M381.5 504.5H383.5M381.5 508.5H383.5M381.5 512.5H383.5M381.5 516.5H383.5M381.5 520.5H383.5M381.5 524.5H383.5M381.5 528.5H383.5M381.5 532.5H383.5M381.5 536.5H383.5M381.5 540.5H383.5M381.5 544.5H383.5M381.5 548.5H383.5M381.5 552.5H383.5M385.5 553V555M389.5 553V555M393.5 553V555M397.5 553V555M401.5 553V555M405.5 553V555M409.5 553V555M413.5 553V555M417.5 553V555M421.5 553V555M425.5 553V555M429.5 553V555M433.5 553V555M437.5 553V555M441.5 553V555M445.5 553V555M449.5 553V555M453.5 553V555M457.5 553V555M461.5 553V555M465.5 553V555M469.5 553V555M473.5 553V555M477.5 553V555M481.5 553V555M485.5 553V555M489.5 553V555M493.5 553V555M539.5 444.5H541.5M539.5 448.5H541.5M539.5 452.5H541.5M539.5 456.5H541.5M539.5 460.5H541.5M539.5 464.5H541.5M539.5 468.5H541.5M539.5 472.5H541.5M539.5 476.5H541.5M539.5 480.5H541.5M539.5 484.5H541.5M539.5 488.5H541.5M539.5 492.5H541.5M539.5 496.5H541.5M539.5 500.5H541.5M539.5 504.5H541.5M539.5 508.5H541.5M539.5 512.5H541.5M539.5 516.5H541.5M539.5 520.5H541.5M539.5 524.5H541.5M539.5 528.5H541.5M539.5 532.5H541.5M539.5 536.5H541.5M539.5 540.5H541.5M539.5 544.5H541.5M539.5 548.5H541.5M539.5 552.5H541.5M543.5 553V555M547.5 553V555M551.5 553V555M555.5 553V555M559.5 553V555M563.5 553V555M567.5 553V555M571.5 553V555M575.5 553V555M579.5 553V555M583.5 553V555M587.5 553V555M591.5 553V555M595.5 553V555M599.5 553V555M603.5 553V555M607.5 553V555M611.5 553V555M615.5 553V555M619.5 553V555M623.5 553V555M627.5 553V555M631.5 553V555M635.5 553V555M639.5 553V555M643.5 553V555M647.5 553V555M651.5 553V555M710 444.5H712M710 448.5H712M710 452.5H712M710 456.5H712M710 460.5H712M710 464.5H712M710 468.5H712M710 472.5H712M710 476.5H712M710 480.5H712M710 484.5H712M710 488.5H712M710 492.5H712M710 496.5H712M710 500.5H712M710 504.5H712M710 508.5H712M710 512.5H712M710 516.5H712M710 520.5H712M710 524.5H712M710 528.5H712M710 532.5H712M710 536.5H712M710 540.5H712M710 544.5H712M710 548.5H712M710 552.5H712M714 553V555M718 553V555M722 553V555M726 553V555M730 553V555M734 553V555M738 553V555M742 553V555M746 553V555M750 553V555M754 553V555M758 553V555M762 553V555M766 553V555M770 553V555M774 553V555M778 553V555M782 553V555M786 553V555M790 553V555M794 553V555M798 553V555M802 553V555M806 553V555M810 553V555M814 553V555M818 553V555M822 553V555M866.5 444.5H868.5M866.5 448.5H868.5M866.5 452.5H868.5M866.5 456.5H868.5M866.5 460.5H868.5M866.5 464.5H868.5M866.5 468.5H868.5M866.5 472.5H868.5M866.5 476.5H868.5M866.5 480.5H868.5M866.5 484.5H868.5M866.5 488.5H868.5M866.5 492.5H868.5M866.5 496.5H868.5M866.5 500.5H868.5M866.5 504.5H868.5M866.5 508.5H868.5M866.5 512.5H868.5M866.5 516.5H868.5M866.5 520.5H868.5M866.5 524.5H868.5M866.5 528.5H868.5M866.5 532.5H868.5M866.5 536.5H868.5M866.5 540.5H868.5M866.5 544.5H868.5M866.5 548.5H868.5M866.5 552.5H868.5M870.5 553V555M874.5 553V555M878.5 553V555M882.5 553V555M886.5 553V555M890.5 553V555M894.5 553V555M898.5 553V555M902.5 553V555M906.5 553V555M910.5 553V555M914.5 553V555M918.5 553V555M922.5 553V555M926.5 553V555M930.5 553V555M934.5 553V555M938.5 553V555M942.5 553V555M946.5 553V555M950.5 553V555M954.5 553V555M958.5 553V555M962.5 553V555M966.5 553V555M970.5 553V555M974.5 553V555M978.5 553V555M1037 444.5H1039M1037 448.5H1039M1037 452.5H1039M1037 456.5H1039M1037 460.5H1039M1037 464.5H1039M1037 468.5H1039M1037 472.5H1039M1037 476.5H1039M1037 480.5H1039M1037 484.5H1039M1037 488.5H1039M1037 492.5H1039M1037 496.5H1039M1037 500.5H1039M1037 504.5H1039M1037 508.5H1039M1037 512.5H1039M1037 516.5H1039M1037 520.5H1039M1037 524.5H1039M1037 528.5H1039M1037 532.5H1039M1037 536.5H1039M1037 540.5H1039M1037 544.5H1039M1037 548.5H1039M1037 552.5H1039M1041 553V555M1045 553V555M1049 553V555M1053 553V555M1057 553V555M1061 553V555M1065 553V555M1069 553V555M1073 553V555M1077 553V555M1081 553V555M1085 553V555M1089 553V555M1093 553V555M1097 553V555M1101 553V555M1105 553V555M1109 553V555M1113 553V555M1117 553V555M1121 553V555M1125 553V555M1129 553V555M1133 553V555M1137 553V555M1141 553V555M1145 553V555M1149 553V555M1191.5 444.5H1193.5M1191.5 448.5H1193.5M1191.5 452.5H1193.5M1191.5 456.5H1193.5M1191.5 460.5H1193.5M1191.5 464.5H1193.5M1191.5 468.5H1193.5M1191.5 472.5H1193.5M1191.5 476.5H1193.5M1191.5 480.5H1193.5M1191.5 484.5H1193.5M1191.5 488.5H1193.5M1191.5 492.5H1193.5M1191.5 496.5H1193.5M1191.5 500.5H1193.5M1191.5 504.5H1193.5M1191.5 508.5H1193.5M1191.5 512.5H1193.5M1191.5 516.5H1193.5M1191.5 520.5H1193.5M1191.5 524.5H1193.5M1191.5 528.5H1193.5M1191.5 532.5H1193.5M1191.5 536.5H1193.5M1191.5 540.5H1193.5M1191.5 544.5H1193.5M1191.5 548.5H1193.5M1191.5 552.5H1193.5M1195.5 553V555M1199.5 553V555M1203.5 553V555M1207.5 553V555M1211.5 553V555M1215.5 553V555M1219.5 553V555M1223.5 553V555M1227.5 553V555M1231.5 553V555M1235.5 553V555M1239.5 553V555M1243.5 553V555M1247.5 553V555M1251.5 553V555M1255.5 553V555M1259.5 553V555M1263.5 553V555M1267.5 553V555M1271.5 553V555M1275.5 553V555M1279.5 553V555M1283.5 553V555M1287.5 553V555M1291.5 553V555M1295.5 553V555M1299.5 553V555M62 654.5H64M62 658H64M62 662H64M62 666H64M62 669.5H64M62 673.5H64M62 677H64M62 681H64M62 685H64M62 688.5H64M62 692.5H64M62 696H64M62 700H64M62 704H64M62 707.5H64M62 711.5H64M62 715H64M62 719H64M62 723H64M62 726.5H64M62 730.5H64M62 734H64M62 738H64M62 742H64M62 745.5H64M62 749.5H64M62 753H64M62 757H64M62 761H64M62 764.5H64M62 768.5H64M62 772H64M66 775.5V777.5M70 775.5V777.5M73.5 775.5V777.5M77.5 775.5V777.5M81 775.5V777.5M85 775.5V777.5M89 775.5V777.5M92.5 775.5V777.5M96.5 775.5V777.5M100 775.5V777.5M104 775.5V777.5M108 775.5V777.5M111.5 775.5V777.5M115.5 775.5V777.5M119 775.5V777.5M123 775.5V777.5M127 775.5V777.5M130.5 775.5V777.5M134.5 775.5V777.5M138 775.5V777.5M142 775.5V777.5M146 775.5V777.5M149.5 775.5V777.5M153.5 775.5V777.5M157 775.5V777.5M161 775.5V777.5M165 775.5V777.5M168.5 775.5V777.5M172.5 775.5V777.5M176 775.5V777.5M180 775.5V777.5M184 775.5V777.5M187.5 775.5V777.5M222 652H224M222 656H224M222 660H224M222 663.5H224M222 667.5H224M222 671H224M222 675H224M222 679H224M222 682.5H224M222 686.5H224M222 690H224M222 694H224M222 698H224M222 701.5H224M222 705.5H224M222 709H224M222 713H224M222 717H224M222 720.5H224M222 724.5H224M222 728H224M222 732H224M222 736H224M222 739.5H224M222 743.5H224M222 747H224M222 751H224M222 755H224M222 758.5H224M222 762.5H224M222 766H224M222 770H224M226 773V775M230 773V775M234 773V775M237.5 773V775M241.5 773V775M245 773V775M249 773V775M253 773V775M256.5 773V775M260.5 773V775M264 773V775M268 773V775M272 773V775M275.5 773V775M279.5 773V775M283 773V775M287 773V775M291 773V775M294.5 773V775M298.5 773V775M302 773V775M306 773V775M310 773V775M313.5 773V775M317.5 773V775M321 773V775M325 773V775M329 773V775M332.5 773V775M336.5 773V775M340 773V775M344 773V775M378.5 652H380.5M378.5 656H380.5M378.5 659.5H380.5M378.5 663.5H380.5M378.5 667H380.5M378.5 671H380.5M378.5 675H380.5M378.5 678.5H380.5M378.5 682.5H380.5M378.5 686H380.5M378.5 690H380.5M378.5 694H380.5M378.5 697.5H380.5M378.5 701.5H380.5M378.5 705H380.5M378.5 709H380.5M378.5 713H380.5M378.5 716.5H380.5M378.5 720.5H380.5M378.5 724H380.5M378.5 728H380.5M378.5 732H380.5M378.5 735.5H380.5M378.5 739.5H380.5M378.5 743H380.5M378.5 747H380.5M378.5 751H380.5M378.5 754.5H380.5M378.5 758.5H380.5M378.5 762H380.5M378.5 766H380.5M378.5 770H380.5M382.5 773V775M386.5 773V775M390 773V775M394 773V775M397.5 773V775M401.5 773V775M405.5 773V775M409 773V775M413 773V775M416.5 773V775M420.5 773V775M424.5 773V775M428 773V775M432 773V775M435.5 773V775M439.5 773V775M443.5 773V775M447 773V775M451 773V775M454.5 773V775M458.5 773V775M462.5 773V775M466 773V775M470 773V775M473.5 773V775M477.5 773V775M481.5 773V775M485 773V775M489 773V775M492.5 773V775M496.5 773V775M500.5 773V775M533.5 652H535.5M533.5 656H535.5M533.5 659.5H535.5M533.5 663.5H535.5M533.5 667H535.5M533.5 671H535.5M533.5 675H535.5M533.5 678.5H535.5M533.5 682.5H535.5M533.5 686H535.5M533.5 690H535.5M533.5 694H535.5M533.5 697.5H535.5M533.5 701.5H535.5M533.5 705H535.5M533.5 709H535.5M533.5 713H535.5M533.5 716.5H535.5M533.5 720.5H535.5M533.5 724H535.5M533.5 728H535.5M533.5 732H535.5M533.5 735.5H535.5M533.5 739.5H535.5M533.5 743H535.5M533.5 747H535.5M533.5 751H535.5M533.5 754.5H535.5M533.5 758.5H535.5M533.5 762H535.5M533.5 766H535.5M533.5 770H535.5M537.5 773V775M541.5 773V775M545.5 773V775M549 773V775M553 773V775M556.5 773V775M560.5 773V775M564.5 773V775M568 773V775M572 773V775M575.5 773V775M579.5 773V775M583.5 773V775M587 773V775M591 773V775M594.5 773V775M598.5 773V775M602.5 773V775M606 773V775M610 773V775M613.5 773V775M617.5 773V775M621.5 773V775M625 773V775M629 773V775M632.5 773V775M636.5 773V775M640.5 773V775M644 773V775M648 773V775M651.5 773V775M655.5 773V775M62 829.5H64M62 833.5H64M62 837H64M62 841H64M62 844.5H64M62 848.5H64M62 852.5H64M62 856H64M62 860H64M62 863.5H64M62 867.5H64M62 871.5H64M62 875H64M62 879H64M62 882.5H64M62 886.5H64M62 890.5H64M62 894H64M62 898H64M62 901.5H64M62 905.5H64M62 909.5H64M62 913H64M62 917H64M62 920.5H64M62 924.5H64M62 928.5H64M62 932H64M62 936H64M62 939.5H64M62 943.5H64M62 947.5H64M66 950V952M70 950V952M73.5 950V952M77.5 950V952M81 950V952M85 950V952M89 950V952M92.5 950V952M96.5 950V952M100 950V952M104 950V952M108 950V952M111.5 950V952M115.5 950V952M119 950V952M123 950V952M127 950V952M130.5 950V952M134.5 950V952M138 950V952M142 950V952M146 950V952M149.5 950V952M153.5 950V952M157 950V952M161 950V952M165 950V952M168.5 950V952M172.5 950V952M176 950V952M180 950V952M184 950V952M187.5 950V952M222 827.5H224M222 831.5H224M222 835H224M222 839H224M222 842.5H224M222 846.5H224M222 850.5H224M222 854H224M222 858H224M222 861.5H224M222 865.5H224M222 869.5H224M222 873H224M222 877H224M222 880.5H224M222 884.5H224M222 888.5H224M222 892H224M222 896H224M222 899.5H224M222 903.5H224M222 907.5H224M222 911H224M222 915H224M222 918.5H224M222 922.5H224M222 926.5H224M222 930H224M222 934H224M222 937.5H224M222 941.5H224M222 945.5H224M226 948V950M230 948V950M234 948V950M237.5 948V950M241.5 948V950M245 948V950M249 948V950M253 948V950M256.5 948V950M260.5 948V950M264 948V950M268 948V950M272 948V950M275.5 948V950M279.5 948V950M283 948V950M287 948V950M291 948V950M294.5 948V950M298.5 948V950M302 948V950M306 948V950M310 948V950M313.5 948V950M317.5 948V950M321 948V950M325 948V950M329 948V950M332.5 948V950M336.5 948V950M340 948V950M344 948V950M378.5 827.5H380.5M378.5 831H380.5M378.5 835H380.5M378.5 839H380.5M378.5 842.5H380.5M378.5 846.5H380.5M378.5 850H380.5M378.5 854H380.5M378.5 858H380.5M378.5 861.5H380.5M378.5 865.5H380.5M378.5 869H380.5M378.5 873H380.5M378.5 877H380.5M378.5 880.5H380.5M378.5 884.5H380.5M378.5 888H380.5M378.5 892H380.5M378.5 896H380.5M378.5 899.5H380.5M378.5 903.5H380.5M378.5 907H380.5M378.5 911H380.5M378.5 915H380.5M378.5 918.5H380.5M378.5 922.5H380.5M378.5 926H380.5M378.5 930H380.5M378.5 934H380.5M378.5 937.5H380.5M378.5 941.5H380.5M378.5 945H380.5M382.5 948.5V950.5M386 948.5V950.5M390 948.5V950.5M393.5 948.5V950.5M397.5 948.5V950.5M401.5 948.5V950.5M405 948.5V950.5M409 948.5V950.5M412.5 948.5V950.5M416.5 948.5V950.5M420.5 948.5V950.5M424 948.5V950.5M428 948.5V950.5M431.5 948.5V950.5M435.5 948.5V950.5M439.5 948.5V950.5M443 948.5V950.5M447 948.5V950.5M450.5 948.5V950.5M454.5 948.5V950.5M458.5 948.5V950.5M462 948.5V950.5M466 948.5V950.5M469.5 948.5V950.5M473.5 948.5V950.5M477.5 948.5V950.5M481 948.5V950.5M485 948.5V950.5M488.5 948.5V950.5M492.5 948.5V950.5M496.5 948.5V950.5M500 948.5V950.5M534 827.5H536M534 831H536M534 835H536M534 839H536M534 842.5H536M534 846.5H536M534 850H536M534 854H536M534 858H536M534 861.5H536M534 865.5H536M534 869H536M534 873H536M534 877H536M534 880.5H536M534 884.5H536M534 888H536M534 892H536M534 896H536M534 899.5H536M534 903.5H536M534 907H536M534 911H536M534 915H536M534 918.5H536M534 922.5H536M534 926H536M534 930H536M534 934H536M534 937.5H536M534 941.5H536M534 945H536M538 948.5V950.5M541.5 948.5V950.5M545.5 948.5V950.5M549.5 948.5V950.5M553 948.5V950.5M557 948.5V950.5M560.5 948.5V950.5M564.5 948.5V950.5M568.5 948.5V950.5M572 948.5V950.5M576 948.5V950.5M579.5 948.5V950.5M583.5 948.5V950.5M587.5 948.5V950.5M591 948.5V950.5M595 948.5V950.5M598.5 948.5V950.5M602.5 948.5V950.5M606.5 948.5V950.5M610 948.5V950.5M614 948.5V950.5M617.5 948.5V950.5M621.5 948.5V950.5M625.5 948.5V950.5M629 948.5V950.5M633 948.5V950.5M636.5 948.5V950.5M640.5 948.5V950.5M644.5 948.5V950.5M648 948.5V950.5M652 948.5V950.5M655.5 948.5V950.5M65.5 1007.5H67.5M65.5 1011.5H67.5M65.5 1015H67.5M65.5 1019H67.5M65.5 1023H67.5M65.5 1026.5H67.5M65.5 1030.5H67.5M65.5 1034H67.5M65.5 1038H67.5M65.5 1042H67.5M65.5 1045.5H67.5M65.5 1049.5H67.5M65.5 1053H67.5M65.5 1057H67.5M65.5 1061H67.5M65.5 1064.5H67.5M65.5 1068.5H67.5M65.5 1072H67.5M65.5 1076H67.5M65.5 1080H67.5M65.5 1083.5H67.5M65.5 1087.5H67.5M65.5 1091H67.5M65.5 1095H67.5M65.5 1099H67.5M65.5 1102.5H67.5M65.5 1106.5H67.5M65.5 1110H67.5M65.5 1114H67.5M65.5 1118H67.5M65.5 1121.5H67.5M65.5 1125.5H67.5M69.5 1129V1131M73.5 1129V1131M77 1129V1131M81 1129V1131M85 1129V1131M88.5 1129V1131M92.5 1129V1131M96 1129V1131M100 1129V1131M104 1129V1131M107.5 1129V1131M111.5 1129V1131M115 1129V1131M119 1129V1131M123 1129V1131M126.5 1129V1131M130.5 1129V1131M134 1129V1131M138 1129V1131M142 1129V1131M145.5 1129V1131M149.5 1129V1131M153 1129V1131M157 1129V1131M161 1129V1131M164.5 1129V1131M168.5 1129V1131M172 1129V1131M176 1129V1131M180 1129V1131M183.5 1129V1131M187.5 1129V1131M191 1129V1131M222 1006H224M222 1010H224M222 1014H224M222 1017.5H224M222 1021.5H224M222 1025H224M222 1029H224M222 1033H224M222 1036.5H224M222 1040.5H224M222 1044H224M222 1048H224M222 1052H224M222 1055.5H224M222 1059.5H224M222 1063H224M222 1067H224M222 1071H224M222 1074.5H224M222 1078.5H224M222 1082H224M222 1086H224M222 1090H224M222 1093.5H224M222 1097.5H224M222 1101H224M222 1105H224M222 1109H224M222 1112.5H224M222 1116.5H224M222 1120H224M222 1124H224M226 1127.5V1129.5M230 1127.5V1129.5M233.5 1127.5V1129.5M237.5 1127.5V1129.5M241 1127.5V1129.5M245 1127.5V1129.5M249 1127.5V1129.5M252.5 1127.5V1129.5M256.5 1127.5V1129.5M260 1127.5V1129.5M264 1127.5V1129.5M268 1127.5V1129.5M271.5 1127.5V1129.5M275.5 1127.5V1129.5M279 1127.5V1129.5M283 1127.5V1129.5M287 1127.5V1129.5M290.5 1127.5V1129.5M294.5 1127.5V1129.5M298 1127.5V1129.5M302 1127.5V1129.5M306 1127.5V1129.5M309.5 1127.5V1129.5M313.5 1127.5V1129.5M317 1127.5V1129.5M321 1127.5V1129.5M325 1127.5V1129.5M328.5 1127.5V1129.5M332.5 1127.5V1129.5M336 1127.5V1129.5M340 1127.5V1129.5M344 1127.5V1129.5M378.5 1007H380.5M378.5 1010.5H380.5M378.5 1014.5H380.5M378.5 1018H380.5M378.5 1022H380.5M378.5 1026H380.5M378.5 1029.5H380.5M378.5 1033.5H380.5M378.5 1037H380.5M378.5 1041H380.5M378.5 1045H380.5M378.5 1048.5H380.5M378.5 1052.5H380.5M378.5 1056H380.5M378.5 1060H380.5M378.5 1064H380.5M378.5 1067.5H380.5M378.5 1071.5H380.5M378.5 1075H380.5M378.5 1079H380.5M378.5 1083H380.5M378.5 1086.5H380.5M378.5 1090.5H380.5M378.5 1094H380.5M378.5 1098H380.5M378.5 1102H380.5M378.5 1105.5H380.5M378.5 1109.5H380.5M378.5 1113H380.5M378.5 1117H380.5M378.5 1121H380.5M378.5 1124.5H380.5M382.5 1127.5V1129.5M386 1127.5V1129.5M390 1127.5V1129.5M393.5 1127.5V1129.5M397.5 1127.5V1129.5M401.5 1127.5V1129.5M405 1127.5V1129.5M409 1127.5V1129.5M412.5 1127.5V1129.5M416.5 1127.5V1129.5M420.5 1127.5V1129.5M424 1127.5V1129.5M428 1127.5V1129.5M431.5 1127.5V1129.5M435.5 1127.5V1129.5M439.5 1127.5V1129.5M443 1127.5V1129.5M447 1127.5V1129.5M450.5 1127.5V1129.5M454.5 1127.5V1129.5M458.5 1127.5V1129.5M462 1127.5V1129.5M466 1127.5V1129.5M469.5 1127.5V1129.5M473.5 1127.5V1129.5M477.5 1127.5V1129.5M481 1127.5V1129.5M485 1127.5V1129.5M488.5 1127.5V1129.5M492.5 1127.5V1129.5M496.5 1127.5V1129.5M500 1127.5V1129.5M534 1007H536M534 1010.5H536M534 1014.5H536M534 1018H536M534 1022H536M534 1026H536M534 1029.5H536M534 1033.5H536M534 1037H536M534 1041H536M534 1045H536M534 1048.5H536M534 1052.5H536M534 1056H536M534 1060H536M534 1064H536M534 1067.5H536M534 1071.5H536M534 1075H536M534 1079H536M534 1083H536M534 1086.5H536M534 1090.5H536M534 1094H536M534 1098H536M534 1102H536M534 1105.5H536M534 1109.5H536M534 1113H536M534 1117H536M534 1121H536M534 1124.5H536M538 1127.5V1129.5M541.5 1127.5V1129.5M545.5 1127.5V1129.5M549.5 1127.5V1129.5M553 1127.5V1129.5M557 1127.5V1129.5M560.5 1127.5V1129.5M564.5 1127.5V1129.5M568.5 1127.5V1129.5M572 1127.5V1129.5M576 1127.5V1129.5M579.5 1127.5V1129.5M583.5 1127.5V1129.5M587.5 1127.5V1129.5M591 1127.5V1129.5M595 1127.5V1129.5M598.5 1127.5V1129.5M602.5 1127.5V1129.5M606.5 1127.5V1129.5M610 1127.5V1129.5M614 1127.5V1129.5M617.5 1127.5V1129.5M621.5 1127.5V1129.5M625.5 1127.5V1129.5M629 1127.5V1129.5M633 1127.5V1129.5M636.5 1127.5V1129.5M640.5 1127.5V1129.5M644.5 1127.5V1129.5M648 1127.5V1129.5M652 1127.5V1129.5M655.5 1127.5V1129.5M65 1179.5H67M65 1183.5H67M65 1187H67M65 1191H67M65 1194.5H67M65 1198.5H67M65 1202.5H67M65 1206H67M65 1210H67M65 1213.5H67M65 1217.5H67M65 1221.5H67M65 1225H67M65 1229H67M65 1232.5H67M65 1236.5H67M65 1240.5H67M65 1244H67M65 1248H67M65 1251.5H67M65 1255.5H67M65 1259.5H67M65 1263H67M65 1267H67M65 1270.5H67M65 1274.5H67M65 1278.5H67M65 1282H67M65 1286H67M65 1289.5H67M65 1293.5H67M65 1297.5H67M69 1300.5V1302.5M72.5 1300.5V1302.5M76.5 1300.5V1302.5M80 1300.5V1302.5M84 1300.5V1302.5M88 1300.5V1302.5M91.5 1300.5V1302.5M95.5 1300.5V1302.5M99 1300.5V1302.5M103 1300.5V1302.5M107 1300.5V1302.5M110.5 1300.5V1302.5M114.5 1300.5V1302.5M118 1300.5V1302.5M122 1300.5V1302.5M126 1300.5V1302.5M129.5 1300.5V1302.5M133.5 1300.5V1302.5M137 1300.5V1302.5M141 1300.5V1302.5M145 1300.5V1302.5M148.5 1300.5V1302.5M152.5 1300.5V1302.5M156 1300.5V1302.5M160 1300.5V1302.5M164 1300.5V1302.5M167.5 1300.5V1302.5M171.5 1300.5V1302.5M175 1300.5V1302.5M179 1300.5V1302.5M183 1300.5V1302.5M186.5 1300.5V1302.5M222.5 1179.5H224.5M222.5 1183.5H224.5M222.5 1187H224.5M222.5 1191H224.5M222.5 1194.5H224.5M222.5 1198.5H224.5M222.5 1202.5H224.5M222.5 1206H224.5M222.5 1210H224.5M222.5 1213.5H224.5M222.5 1217.5H224.5M222.5 1221.5H224.5M222.5 1225H224.5M222.5 1229H224.5M222.5 1232.5H224.5M222.5 1236.5H224.5M222.5 1240.5H224.5M222.5 1244H224.5M222.5 1248H224.5M222.5 1251.5H224.5M222.5 1255.5H224.5M222.5 1259.5H224.5M222.5 1263H224.5M222.5 1267H224.5M222.5 1270.5H224.5M222.5 1274.5H224.5M222.5 1278.5H224.5M222.5 1282H224.5M222.5 1286H224.5M222.5 1289.5H224.5M222.5 1293.5H224.5M222.5 1297.5H224.5M226.5 1300.5V1302.5M230.5 1300.5V1302.5M234 1300.5V1302.5M238 1300.5V1302.5M241.5 1300.5V1302.5M245.5 1300.5V1302.5M249.5 1300.5V1302.5M253 1300.5V1302.5M257 1300.5V1302.5M260.5 1300.5V1302.5M264.5 1300.5V1302.5M268.5 1300.5V1302.5M272 1300.5V1302.5M276 1300.5V1302.5M279.5 1300.5V1302.5M283.5 1300.5V1302.5M287.5 1300.5V1302.5M291 1300.5V1302.5M295 1300.5V1302.5M298.5 1300.5V1302.5M302.5 1300.5V1302.5M306.5 1300.5V1302.5M310 1300.5V1302.5M314 1300.5V1302.5M317.5 1300.5V1302.5M321.5 1300.5V1302.5M325.5 1300.5V1302.5M329 1300.5V1302.5M333 1300.5V1302.5M336.5 1300.5V1302.5M340.5 1300.5V1302.5M344.5 1300.5V1302.5M378.5 1179.5H380.5M378.5 1183H380.5M378.5 1187H380.5M378.5 1190.5H380.5M378.5 1194.5H380.5M378.5 1198.5H380.5M378.5 1202H380.5M378.5 1206H380.5M378.5 1209.5H380.5M378.5 1213.5H380.5M378.5 1217.5H380.5M378.5 1221H380.5M378.5 1225H380.5M378.5 1228.5H380.5M378.5 1232.5H380.5M378.5 1236.5H380.5M378.5 1240H380.5M378.5 1244H380.5M378.5 1247.5H380.5M378.5 1251.5H380.5M378.5 1255.5H380.5M378.5 1259H380.5M378.5 1263H380.5M378.5 1266.5H380.5M378.5 1270.5H380.5M378.5 1274.5H380.5M378.5 1278H380.5M378.5 1282H380.5M378.5 1285.5H380.5M378.5 1289.5H380.5M378.5 1293.5H380.5M378.5 1297H380.5M382.5 1300V1302M386 1300V1302M390 1300V1302M393.5 1300V1302M397.5 1300V1302M401.5 1300V1302M405 1300V1302M409 1300V1302M412.5 1300V1302M416.5 1300V1302M420.5 1300V1302M424 1300V1302M428 1300V1302M431.5 1300V1302M435.5 1300V1302M439.5 1300V1302M443 1300V1302M447 1300V1302M450.5 1300V1302M454.5 1300V1302M458.5 1300V1302M462 1300V1302M466 1300V1302M469.5 1300V1302M473.5 1300V1302M477.5 1300V1302M481 1300V1302M485 1300V1302M488.5 1300V1302M492.5 1300V1302M496.5 1300V1302M500 1300V1302M534 1179.5H536M534 1183H536M534 1187H536M534 1190.5H536M534 1194.5H536M534 1198.5H536M534 1202H536M534 1206H536M534 1209.5H536M534 1213.5H536M534 1217.5H536M534 1221H536M534 1225H536M534 1228.5H536M534 1232.5H536M534 1236.5H536M534 1240H536M534 1244H536M534 1247.5H536M534 1251.5H536M534 1255.5H536M534 1259H536M534 1263H536M534 1266.5H536M534 1270.5H536M534 1274.5H536M534 1278H536M534 1282H536M534 1285.5H536M534 1289.5H536M534 1293.5H536M534 1297H536M538 1300V1302M541.5 1300V1302M545.5 1300V1302M549.5 1300V1302M553 1300V1302M557 1300V1302M560.5 1300V1302M564.5 1300V1302M568.5 1300V1302M572 1300V1302M576 1300V1302M579.5 1300V1302M583.5 1300V1302M587.5 1300V1302M591 1300V1302M595 1300V1302M598.5 1300V1302M602.5 1300V1302M606.5 1300V1302M610 1300V1302M614 1300V1302M617.5 1300V1302M621.5 1300V1302M625.5 1300V1302M629 1300V1302M633 1300V1302M636.5 1300V1302M640.5 1300V1302M644.5 1300V1302M648 1300V1302M652 1300V1302M655.5 1300V1302" stroke="#777" stroke-width="0.6" fill="none"/>
<path d="M54.5 264H58.5M54.5 285H58.5M54.5 305.5H58.5M54.5 327H58.5M54.5 347.5H58.5M54.5 365.5H58.5M226.5 264.5H230.5M226.5 284.5H230.5M226.5 305.5H230.5M226.5 327H230.5M226.5 347.5H230.5M226.5 366H230.5M230.5 369V373M251.5 369V373M272 369V373M293 369V373M314.5 369V373M335.5 369V373M397.5 264.5H401.5M397.5 284.5H401.5M397.5 305.5H401.5M397.5 327H401.5M397.5 347.5H401.5M397.5 366H401.5M414.5 369V373M458.5 369V373M481.5 369V373M501.5 369V373M568 267H572M568 287.5H572M568 308H572M568 328.5H572M568 348.5H572M568 365H572M586.5 369V373M630.5 369V373M652.5 369V373M673 369V373M739.5 267.5H743.5M739.5 288H743.5M739.5 308.5H743.5M739.5 329.5H743.5M739.5 339H743.5M739.5 349.5H743.5M753 369V373M795 369V373M821 369V373M843 369V373" stroke="#444" stroke-width="1" fill="none"/>
<path d="M52.5 453H56.5M52.5 478.5H56.5M52.5 506.5H56.5M52.5 532H56.5M67 553V557M110.5 553V557M136 553V557M159 553V557M211.5 451.5H215.5M211.5 471.5H215.5M211.5 492H215.5M211.5 513H215.5M211.5 533H215.5M211.5 548.5H215.5M223.5 553V557M238 553V557M257.5 553V557M278 553V557M298.5 553V557M314.5 553V557M379.5 453H383.5M379.5 478.5H383.5M379.5 506.5H383.5M379.5 532H383.5M394 553V557M437.5 553V557M463 553V557M485.5 553V557M537.5 451.5H541.5M537.5 471.5H541.5M537.5 492H541.5M537.5 513H541.5M537.5 533H541.5M537.5 548.5H541.5M549.5 553V557M564 553V557M583.5 553V557M604 553V557M625 553V557M641 553V557M708 453H712M708 478.5H712M708 506.5H712M708 532H712M708 545H712M722.5 553V557M766 553V557M791.5 553V557M814.5 553V557M864.5 451.5H868.5M864.5 471.5H868.5M864.5 492H868.5M864.5 513H868.5M864.5 533H868.5M864.5 548.5H868.5M876.5 553V557M891 553V557M910.5 553V557M931 553V557M952 553V557M967.5 553V557M1035 453H1039M1035 478.5H1039M1035 506.5H1039M1035 532H1039M1049 553V557M1092.5 553V557M1118 553V557M1141 553V557M1189.5 451.5H1193.5M1189.5 471.5H1193.5M1189.5 492H1193.5M1189.5 513H1193.5M1189.5 533H1193.5M1189.5 548.5H1193.5M1201.5 553V557M1216 553V557M1235.5 553V557M1256 553V557M1276.5 553V557M1292.5 553V557" stroke="#444" stroke-width="1.1" fill="none"/>
<path d="M267.5 442.5V553M215.5 492H325.5M594.5 442.5V553M541.5 492H653M921.5 442.5V553M868.5 492H979.5M1246 442.5V553M1193.5 492H1303.5" stroke="#555" stroke-width="1.3" fill="none"/>
<path d="M60 661.5H64M60 684.5H64M60 707.5H64M60 729.5H64M60 753H64M60 769.5H64M79.5 775.5V779.5M96.5 775.5V779.5M119 775.5V779.5M141.5 775.5V779.5M163.5 775.5V779.5M181 775.5V779.5M220 659.5H224M220 682H224M220 705H224M220 727.5H224M220 751H224M220 767.5H224M239.5 773V777M256.5 773V777M279 773V777M301.5 773V777M324 773V777M341.5 773V777M376.5 659H380.5M376.5 682H380.5M376.5 705H380.5M376.5 727H380.5M376.5 750.5H380.5M376.5 767H380.5M396 773V777M413 773V777M435.5 773V777M458 773V777M480 773V777M497.5 773V777M531.5 659H535.5M531.5 682H535.5M531.5 705H535.5M531.5 727H535.5M531.5 750.5H535.5M531.5 767H535.5M551 773V777M568 773V777M590.5 773V777M613 773V777M635.5 773V777M653 773V777M60 836.5H64M60 859.5H64M60 882.5H64M60 904.5H64M60 928H64M60 944.5H64M79.5 950V954M96.5 950V954M119 950V954M141.5 950V954M163.5 950V954M181 950V954M220 834.5H224M220 857.5H224M220 880.5H224M220 902.5H224M220 926H224M220 942.5H224M239.5 948V952M256.5 948V952M279 948V952M301.5 948V952M324 948V952M341.5 948V952M376.5 834.5H380.5M376.5 857.5H380.5M376.5 880.5H380.5M376.5 902.5H380.5M376.5 926H380.5M376.5 942.5H380.5M396 948.5V952.5M412.5 948.5V952.5M435 948.5V952.5M457.5 948.5V952.5M480 948.5V952.5M497.5 948.5V952.5M532 834.5H536M532 857.5H536M532 880.5H536M532 902.5H536M532 926H536M532 942.5H536M551.5 948.5V952.5M568.5 948.5V952.5M591 948.5V952.5M613 948.5V952.5M635.5 948.5V952.5M653 948.5V952.5M63.5 1015H67.5M63.5 1037.5H67.5M63.5 1060.5H67.5M63.5 1082.5H67.5M63.5 1106H67.5M63.5 1123H67.5M83 1129V1133M100 1129V1133M122.5 1129V1133M145 1129V1133M167.5 1129V1133M185 1129V1133M220 1013.5H224M220 1036H224M220 1059H224M220 1081.5H224M220 1105H224M220 1121.5H224M239.5 1127.5V1131.5M256.5 1127.5V1131.5M279 1127.5V1131.5M301.5 1127.5V1131.5M323.5 1127.5V1131.5M341 1127.5V1131.5M376.5 1014H380.5M376.5 1037H380.5M376.5 1060H380.5M376.5 1082H380.5M376.5 1105.5H380.5M376.5 1122H380.5M396 1127.5V1131.5M412.5 1127.5V1131.5M435 1127.5V1131.5M457.5 1127.5V1131.5M480 1127.5V1131.5M497.5 1127.5V1131.5M532 1014H536M532 1037H536M532 1060H536M532 1082H536M532 1105.5H536M532 1122H536M551.5 1127.5V1131.5M568.5 1127.5V1131.5M591 1127.5V1131.5M613 1127.5V1131.5M635.5 1127.5V1131.5M653 1127.5V1131.5M63 1186.5H67M63 1209.5H67M63 1232.5H67M63 1254.5H67M63 1278H67M63 1294.5H67M82.5 1300.5V1304.5M99 1300.5V1304.5M121.5 1300.5V1304.5M144 1300.5V1304.5M166.5 1300.5V1304.5M184 1300.5V1304.5M220.5 1186.5H224.5M220.5 1209.5H224.5M220.5 1232.5H224.5M220.5 1254.5H224.5M220.5 1278H224.5M220.5 1294.5H224.5M240 1300.5V1304.5M257 1300.5V1304.5M279.5 1300.5V1304.5M302 1300.5V1304.5M324 1300.5V1304.5M341.5 1300.5V1304.5M376.5 1186.5H380.5M376.5 1209.5H380.5M376.5 1232.5H380.5M376.5 1254.5H380.5M376.5 1278H380.5M376.5 1294.5H380.5M396 1300V1304M412.5 1300V1304M435 1300V1304M457.5 1300V1304M480 1300V1304M497.5 1300V1304M532 1186.5H536M532 1209.5H536M532 1232.5H536M532 1254.5H536M532 1278H536M532 1294.5H536M551.5 1300V1304M568.5 1300V1304M591 1300V1304M613 1300V1304M635.5 1300V1304M653 1300V1304" stroke="#333" stroke-width="1" fill="none"/>
<path d="M122.5 652.5V775.5M64 707.5H188M281.5 650V773M224 705.5H347.5M440.5 650V773M380.5 704.5H503.5M594 650V773M535.5 703H659M123.5 827.5V950M64 882H188.5M281.5 825.5V948M224 881H347.5M440 825.5V948.5M380.5 880.5H503M594 825.5V948.5M536 878.5H659.5M126.5 1005.5V1129M67.5 1060H191.5M281.5 1004V1127.5M224 1060H347.5M440 1005V1127.5M380.5 1059H503M594 1005V1127.5M536 1058H659.5M125 1177.5V1300.5M67 1232H189.5M281.5 1177.5V1300.5M224.5 1232.5H347.5M440 1177.5V1300M380.5 1232.5H503M593.5 1177.5V1300M536 1233H659.5" stroke="#444" stroke-width="1.3" fill="none"/>
</svg></body></html>
